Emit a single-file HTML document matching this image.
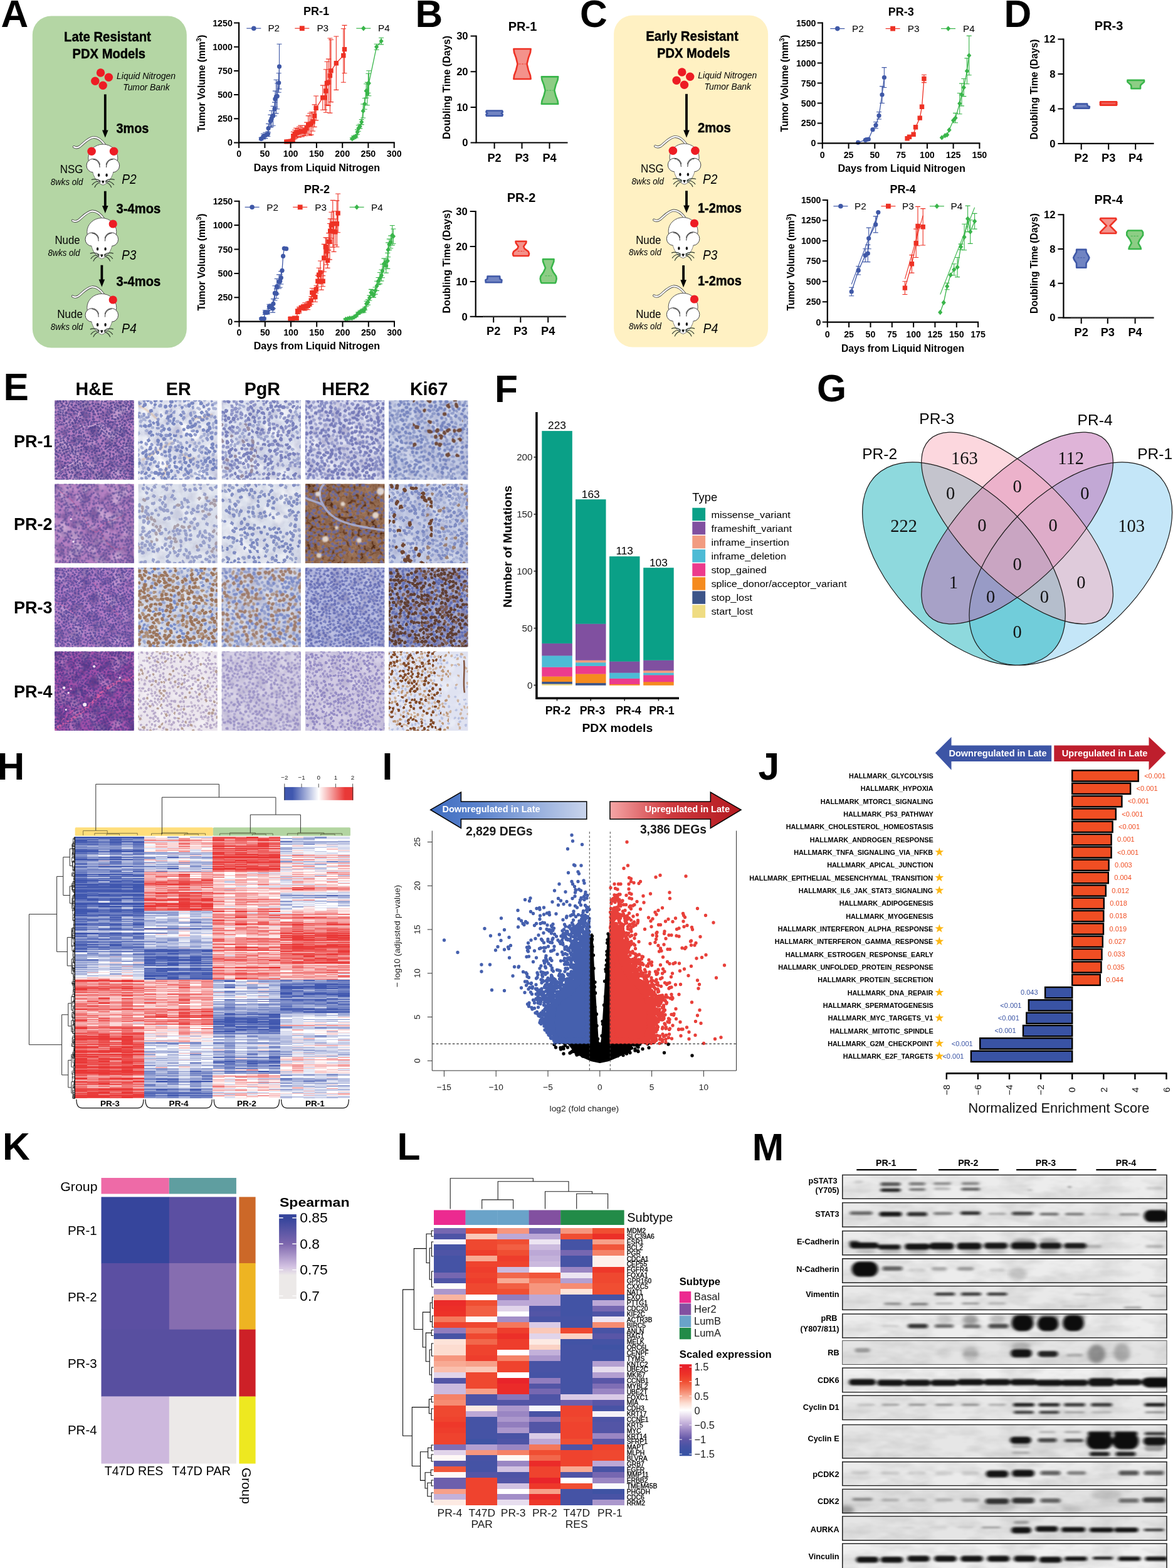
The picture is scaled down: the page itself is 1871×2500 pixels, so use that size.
<!DOCTYPE html>
<html lang="en"><head><meta charset="utf-8"><title>Figure</title>
<style>html,body{margin:0;padding:0;background:#fff}svg{display:block;font-family:"Liberation Sans",sans-serif}.sf{font-family:"Liberation Serif",serif}</style>
</head><body>
<svg width="1871" height="2500" viewBox="0 0 1871 2500">
<defs><g id="mouse">
<path d="M3 1 C-2 -6 -8 -11.500 -15.500 -11 C-24 -10 -30 -2 -37 3.500 C-40 5.500 -43.500 6 -46.500 4" fill="none" stroke="#4a4a4a" stroke-width="4" stroke-linecap="round"/>
<path d="M3 1 C-2 -6 -8 -11.500 -15.500 -11 C-24 -10 -30 -2 -37 3.500 C-40 5.500 -43.500 6 -46.500 4" fill="none" stroke="#fff" stroke-width="2.300" stroke-linecap="round"/>
<ellipse cx="0" cy="22" rx="23.500" ry="22" fill="#fff" stroke="#555" stroke-width="1"/>
<path d="M-17 40 C-16 52 -8 63 0 65 C8 63 16 52 17 40Z" fill="#fff" stroke="#666" stroke-width="0.900"/>
<circle cx="-15.500" cy="34" r="10.800" fill="#fff" stroke="#444" stroke-width="1"/>
<circle cx="15.500" cy="34" r="10.800" fill="#fff" stroke="#444" stroke-width="1"/>
<path d="M-17 39 C-16 50 -8 62 0 64 C8 62 16 50 17 39 C10 30 -10 30 -17 39Z" fill="#fff"/>
<path d="M-16 24.300 C-9 24.500 -5 30 -5.200 37" fill="none" stroke="#444" stroke-width="1.100"/>
<path d="M16 24.300 C9 24.500 5 30 5.200 37" fill="none" stroke="#444" stroke-width="1.100"/>
<ellipse cx="-6.700" cy="49.300" rx="1.700" ry="2.700" fill="#111"/>
<ellipse cx="5.800" cy="49.300" rx="1.700" ry="2.700" fill="#111"/>
<path d="M-1.800 58.500 L1.800 58.500 L0 62.300Z" fill="#111" stroke="#111" stroke-width="1" stroke-linejoin="round"/>
<path d="M-4 58.500 C-9 55 -14 55 -18.500 56.500 M-4 59.500 C-10 58 -15 61 -17.500 65 M-4 60.500 C-9 62 -12 65 -13.500 69 M4 58.500 C9 55 14 55 18.500 56.500 M4 59.500 C10 58 15 61 17.500 65 M4 60.500 C9 62 12 65 13.500 69" fill="none" stroke="#2e3a2c" stroke-width="1.200"/>
</g>
<filter id="nzd" x="0" y="0" width="100%" height="100%" color-interpolation-filters="sRGB"><feTurbulence type="fractalNoise" baseFrequency="0.07" numOctaves="3" seed="4"/><feColorMatrix type="matrix" values="0 0 0 0 0.22  0 0 0 0 0.18  0 0 0 0 0.45  2.6 0 0 0 -1.05"/></filter>
<filter id="nzw" x="0" y="0" width="100%" height="100%" color-interpolation-filters="sRGB"><feTurbulence type="fractalNoise" baseFrequency="0.045" numOctaves="3" seed="11"/><feColorMatrix type="matrix" values="0 0 0 0 1  0 0 0 0 1  0 0 0 0 1  0 3.4 0 0 -1.55"/></filter>
<filter id="nzb" x="0" y="0" width="100%" height="100%" color-interpolation-filters="sRGB"><feTurbulence type="fractalNoise" baseFrequency="0.06" numOctaves="3" seed="7"/><feColorMatrix type="matrix" values="0 0 0 0 0.28  0 0 0 0 0.12  0 0 0 0 0.04  0 0 3.2 0 -1.2"/></filter>
<filter id="nu" x="-3%" y="-3%" width="106%" height="106%"><feTurbulence type="fractalNoise" baseFrequency="0.11" numOctaves="2" seed="3" result="t"/><feDisplacementMap in="SourceGraphic" in2="t" scale="3.2" xChannelSelector="R" yChannelSelector="G"/><feGaussianBlur stdDeviation="0.6"/></filter>
<filter id="bl12" x="-5%" y="-5%" width="110%" height="110%"><feGaussianBlur stdDeviation="1.2"/></filter>
<g id="nset" fill="none" stroke-linecap="round"><path id="nh0" d="M0 0m37-1l-1 1m35-2l0 2m25-1l0 1m154-2l-2 1m-251 17l2 0m18-14l1 1m36 11l1 1m21-3l1 1m0-9l1 0m12 1l1 0m21 7l-1 1m10-4l-1 1m19 0l1 1m23-7l-2 1m18 4l-1 1m9-3l1 0m4 7l0 1m18-6l-2 0m21 2l-1 1m17 1l1 2m-220 2l-2 0m18 1l-1 0m2 14l0 0m54-5l-1 2m10 3l1 0m11-1l0 0m6-13l2 1m19 12l2 0m37-5l0 1m34-11l2 1m19 10l0 2m12-6l-1 1m-238 20l-1 1m8-7l0 0m8 9l1 0m9-8l1 2m14 4l1 2m19-11l1 1m41-1l-2 0m12 0l0 1m31 10l0 0m70-4l0 1m16-4l-1 1m5-7l0 1m-182 28l1 2m8-4l-1 2m11-14l0 0m19 14l2 1m21-3l2 0m17-8l0 1m22-7l1 2m6 7l-2 0m45 4l0 1m14-9l0 0m4 10l-1 1m11-3l-2 0m9 0l0 1m-231 16l2 0m17-3l-1 0m29-4l1 0m40-1l-2 1m30 7l1 1m35-3l-1 1m0-9l2 1m7 1l-2 0m30-3l-1 1m-160 24l0 0m14-10l-1 1m28 1l0 1m4 7l0 1m37-7l0 2m26 1l0 1m28-3l-1 2m31 4l0 1m3-13l0 1m40 6l0 1m-178 14l0 2m43-9l-1 2m8 0l0 0m13-1l-1 1m2 12l1 2m5-7l0 2m2-8l2 0m76-1l2 1m3 6l2 1m-233 22l-1 1m63-1l-1 1m36-10l0 2m17 3l0 0m6-8l-2 0m10 11l2 0m28-12l-1 0m38 0l0 0m59 6l0 1m-253 15l1 2m15 4l0 1m10-15l-1 1m5 6l1 0m6 3l-1 2m11 2l2 1m28-11l-1 1m8 4l1 1m9 1l-1 2m25-11l0 1m44 6l2 1m27-2l1 1m12-6l0 2m16 1l-2 1m-179 18l1 1m0-8l0 0m13 3l-1 1m3 6l1 1m27-8l-1 1m19 7l-1 0m37-4l-1 0m27 1l-1 1m8-7l-2 1m4 10l2 0m10 0l1 0m4-15l-2 1m26 7l1 2m-217 16l0 1m6 2l2 1m17 0l0 1m31-12l1 1m28 7l1 2m0-13l0 0m56 14l1 0m35-5l-2 0m12 2l1 1m42 0l-1 1m15-9l1 1m-211 23l1 2m11-14l-2 0m6 5l1 1m42 1l1 0m92 2l0 2m26 4l-1 0m18-3l-1 2m12 1l-1 2m2-10l-1 0m7 4l0 0m-223 9l0 0m11 4l-2 1m58 0l2 1m13 0l0 0m30-9l0 1m38 9l1 0m49-9l0 1m4 10l2 0m16-1l1 1m7 0l-1 0m-254 12l0 2m27-4l0 1m15-6l1 2m19 3l1 1m4 5l0 2m10-8l0 2m21-1l0 1m14 1l2 2m15-4l-1 1m35-7l-2 2m9-4l-1 1m10 7l1 1m4 6l-2 1m3-16l2 1m51 2l0 0m10 8l0 0m7-7l1 1m-207 16l0 1m22 0l1 1m12 5l1 2m21-1l-1 1m19-8l0 1m26-2l-1 0m43 1l-1 0m8-5l0 1m48 9l1 1m7-12l1 0m-249 26l1 1m25-11l-2 0m11 12l-2 1m20 0l0 1m20 1l-1 0m51-1l2 1m17-4l-1 1m4-11l-1 1m53 12l0 0m5-9l1 1m6-6l0 1" transform="scale(.5)"/><path id="nh1" d="M0 0m55-1l1 0m29 0l0 1m111-1l0 1m9 0l1 0m37-2l-1 1m-233 3l0 1m12 7l0 0m7-8l0 2m10 3l-1 1m55 7l-1 2m9-4l1 0m19-13l2 1m111 4l-1 0m-210 18l0 0m31 8l1 1m9-8l-2 0m6-7l2 0m9 11l0 0m54-1l-1 1m8-7l2 1m13 1l-2 0m24 0l1 0m4-5l1 0m11 4l1 1m6-7l1 2m10 1l0 2m16-1l1 0m14-1l1 2m-182 14l-1 0m25 3l1 0m3 7l0 1m39-3l-2 1m11-11l-1 2m3 8l1 1m8-2l0 0m6-6l1 2m25-1l0 2m68 4l-1 2m6-11l0 1m-234 23l-2 0m52-3l0 1m14 3l1 0m79-1l0 0m19-8l1 0m3 8l-2 0m10 3l-2 0m9-5l2 0m-205 16l0 0m32-9l1 2m26 7l-1 0m23-6l0 2m11-3l0 0m16 11l0 2m22-10l-2 1m10-1l-1 0m26-3l-1 2m26 3l-1 0m15 9l-1 1m23-15l1 1m0 13l1 0m14-1l1 0m8-8l-2 0m-243 20l0 2m64 3l0 1m14-9l-2 1m30 5l1 0m5-6l-1 1m7-1l2 0m14-1l1 1m6 2l1 1m50 4l-1 2m16-10l-1 1m13 1l1 1m17 4l-1 0m6-9l0 0m-185 15l0 1m3 10l-1 0m23-5l0 1m10 5l-1 2m30-10l1 0m42-4l0 1m8 5l-1 0m16 4l1 0m11-3l0 0m6 4l2 1m0-11l0 1m7 6l-1 1m25 1l0 0m8 3l0 0m-204 10l2 0m1-10l0 2m14 6l0 0m17-6l-1 1m30 3l-1 0m27-3l1 0m49 13l-1 0m17-7l0 1m16-8l2 1m4 9l1 1m-210 10l-2 0m92-6l0 2m10 0l-2 0m41 7l-1 0m5-9l-2 1m23 13l2 0m19 0l0 1m14-5l0 0m20-1l-1 0m5-10l-1 2m-234 27l-2 1m8-6l1 0m15-1l0 1m4 7l0 1m7-4l2 0m41-3l1 0m15-6l1 0m5 3l2 1m15-5l0 1m11 11l0 2m3-8l2 1m32-7l0 1m37 11l1 2m2-12l-1 1m29-4l-2 1m25 3l-1 1m-248 12l0 2m11-4l0 1m14 8l1 1m6-5l2 0m27-3l1 2m34 0l-1 1m19 0l0 0m10 3l0 0m4-6l2 0m8-1l0 1m14 4l0 2m59-4l0 1m3 8l0 1m34-12l-1 0m-240 16l-1 2m62 4l-1 1m1-9l-1 0m7 15l1 0m42-7l0 1m15 0l-1 1m20 1l1 0m7-11l-1 1m12 0l-1 2m3 6l1 1m34-7l1 0m16 2l1 1m16-5l1 1m-248 26l2 1m65-6l0 1m7-5l1 2m0 10l1 1m23-11l0 0m53 5l2 1m12-4l0 0m49-2l0 0m25 5l-2 0m9-7l1 0m-234 16l-1 1m20-2l-1 0m13 12l-1 0m25-10l0 0m25-3l-1 0m36 0l1 0m23 0l1 0m79 12l1 1m-195 14l-1 1m20-7l-1 1m11 7l-1 1m66-2l1 2m9-6l1 0m25 6l0 0m44-14l1 0m14 9l0 1m15-10l-2 1m-241 17l-1 1m40 0l1 1m57 6l-1 0m3-8l-1 1m7 9l2 1m29-7l1 2m27-4l-1 1m11-1l1 0m52 8l1 1m4-9l-1 0m15 2l1 0" transform="scale(.5)"/><path id="nh2" d="M0 0m113-1l0 1m28-2l0 1m-135 10l-2 1m42 1l-1 0m5-8l-2 2m8 0l1 2m13 1l-1 0m14 1l0 1m23-5l0 1m28-7l1 2m14 9l1 1m1-8l0 1m9 11l-2 0m11-6l0 1m66 5l1 1m15-10l2 0m-249 18l0 1m10-1l1 0m2 6l2 1m13-3l1 0m12-4l1 0m37-6l0 1m2 8l-1 1m63-11l-1 2m23 0l0 1m1 9l-1 2m26-1l-1 2m34-4l0 1m-215 7l-2 0m16 3l-1 2m21 2l-1 0m16-1l1 1m4-11l0 0m26 6l-1 2m9 0l1 1m102-8l0 1m0 12l2 1m25-11l-2 0m-224 13l-1 0m6 14l0 0m19-8l0 1m6-8l1 1m11 4l-2 1m31 1l0 0m26-1l-2 1m12-3l0 1m10-1l1 2m70-4l1 1m48-3l-1 2m-240 14l0 1m5 7l1 1m40-4l-1 2m4 7l-1 1m68-3l-2 1m5-8l-1 2m23-6l0 1m14 10l1 1m29 1l-1 1m10-11l-2 0m15 6l0 2m44 0l1 0m1-7l0 0m-256 12l1 1m9 1l0 2m32-4l-1 2m25 5l-2 0m6-8l0 0m5 13l1 2m26-2l0 1m100-7l-2 0m32 0l1 2m-210 11l2 1m15 10l1 1m66-8l-1 0m52-3l1 2m6 4l-1 0m21-5l1 2m35-8l1 2m3 13l-2 0m23-12l0 1m10-4l-2 1m-253 16l-1 1m9 12l1 1m1-11l0 0m8-1l0 1m3 6l-1 1m15-6l-2 0m22 11l1 0m0-15l0 1m22 11l-2 0m10 2l-1 0m38-4l1 0m24-4l0 1m20-3l-1 0m8 6l1 1m6-6l-1 0m26 0l-1 0m40 9l-2 1m-243 15l1 2m61-5l-1 2m7 1l1 0m34-6l0 1m31-6l-1 2m6 4l1 0m34-3l-2 1m11 2l-1 0m16-9l0 1m-130 23l0 1m26 2l0 1m23-3l0 1m12-10l-2 0m17 1l2 0m35 4l-1 2m15 1l-2 1m14 2l2 0m10-11l1 2m2 10l0 0m15-4l1 0m1-8l-1 0m7 11l1 0m-201 6l1 1m5 6l-1 0m9 1l1 0m16-8l-2 0m18 9l2 1m7 3l-1 1m11-15l0 1m9 11l-2 0m50-10l1 0m26 1l0 1m10 0l2 1m4 4l2 1m14-9l0 1m27 8l-1 2m-252 10l-1 1m34-6l-1 2m28 11l1 2m44-4l0 1m4-13l1 0m44 2l-1 2m42 5l0 2m1-9l1 1m7 5l0 0m13 4l1 1m36-8l-1 2m-254 12l-2 1m11 5l1 1m6-10l0 1m27 4l-1 0m58 10l0 0m19-9l0 0m4-7l1 1m54 2l-1 0m14 0l0 1m9 1l-1 1m9 4l1 0m-175 20l1 0m19-3l-1 2m30-1l-1 0m3-9l-2 0m7 6l0 1m13-4l2 1m15 0l-1 2m39 2l0 2m12-4l1 2m31-10l-1 1m1 8l1 2m5-10l1 0m8-1l-1 0m8 2l0 1m1 12l-2 0m-209 6l0 2m7 2l-1 1m5-6l-1 0m74 6l-2 0m21-11l0 2m21 0l-1 2m16 7l-1 0m43 1l-1 0m15-5l1 2m12-3l-1 2m26-5l1 1m7 11l-1 0m-239 2l-2 1m1 10l0 2m7-2l2 0m6-2l0 1m20-4l-1 1m21 4l1 0m125-3l0 1" transform="scale(.5)"/><path id="nh3" d="M0 0m169-2l-2 1m12-1l-1 1m-166 17l0 0m51-14l0 1m68 7l0 1m65-2l2 0m16-8l0 1m9 5l-1 1m5-7l0 0m16 5l-1 1m11 8l1 0m-222 3l0 2m40 4l-2 0m34-1l1 1m12 0l0 0m46 1l0 2m14 3l1 1m21-5l2 0m9 3l2 1m9 0l0 1m-222 13l1 1m3-8l0 1m16 8l0 0m7-14l1 0m43 12l0 1m42-1l2 0m54-6l0 1m6 4l0 0m14-6l1 2m27 1l0 2m17 2l1 2m-235 9l0 1m39 3l-1 1m13 2l0 1m7-8l1 0m35-4l0 1m18 12l2 0m22-10l0 0m20 4l-1 2m56-8l2 0m8 1l-1 2m35-7l0 1m-241 28l0 1m3-10l-2 1m11 0l-2 0m6 7l-2 1m47-5l0 1m8 2l2 1m12 3l0 1m1-8l-2 0m48 4l-1 1m8-4l1 0m12 0l1 0m27 4l2 0m24-6l-1 1m12-1l1 2m9-5l0 1m-223 27l-1 0m9-5l0 0m11-4l0 1m6 7l0 1m14-6l-1 1m48-6l0 1m47-5l-1 2m14 1l-1 0m2 7l-1 1m7-10l1 2m6-3l2 0m0 13l1 0m22 1l1 2m-201 6l0 0m9 5l-2 2m8-5l0 2m12 3l-1 0m4-14l2 1m5 6l0 1m8-4l0 1m22 3l1 1m14-9l-1 2m9 2l1 1m23 6l1 0m11 3l0 1m8-5l1 2m45 1l-1 1m16-7l-2 0m30-1l0 2m-196 16l1 1m41 0l-1 0m17-7l0 1m9 11l0 1m43-5l-2 1m28 0l-1 1m27-4l0 0m24 5l-2 1m21-11l1 2m7 3l-1 2m-220 8l1 1m6 9l-1 0m16-11l0 1m7 3l-2 1m22 2l1 1m7 1l-1 1m45 0l0 1m120-3l1 0m9-2l0 2m4-9l0 2m-240 18l-2 0m19-1l0 2m75-2l0 2m44 8l1 1m5-9l0 0m74 7l-1 1m17-11l2 1m-237 19l1 0m6 2l1 0m48 3l-1 0m41-3l1 1m43 2l-1 1m86-11l0 2m4 9l-1 0m-219 11l0 0m21 2l1 1m12 4l1 2m8-12l1 1m17-2l0 2m6 10l2 1m25-9l0 1m17-7l2 1m13 4l0 2m25 4l-1 1m19-10l0 1m16-4l0 2m-196 14l-2 1m15 14l0 1m30-9l-2 1m6 7l-1 2m26-6l1 1m47-6l1 1m8 7l1 1m4-5l1 0m1-9l0 1m8-1l-1 0m30 6l2 1m10 3l2 1m56-7l2 1m-248 18l1 1m96 6l1 1m10-14l0 0m21 5l1 1m9-3l0 1m5 6l-1 2m41-2l1 2m0-10l0 0m27 6l-2 1m-212 17l-1 2m2-13l-1 0m13-1l1 1m18 4l-1 0m42 0l0 0m14-2l-1 1m8 0l0 0m7 1l2 2m6 3l1 2m50-5l1 0m11 4l-2 1m3-8l-1 0m8 10l-1 1m56-4l1 1m-216 8l2 1m27-5l-1 1m12 3l-1 1m8-2l2 1m8 3l0 1m7 1l1 0m17-4l1 2m5 6l2 1m0-12l1 1m10 4l1 1m15-4l2 0m13 7l-1 1m14-1l0 2m9-3l2 0m6-5l1 1m13-4l-1 2m21 4l1 2m2-9l1 0m10 13l0 0m5-9l-1 0m5 8l1 1m11-1l-2 1" transform="scale(.5)"/><path id="na0" d="M0 0m54 14l0 0m54-11l-4 1m70 5l-3 0m31 0l-1 1m-97 6l-3 3m107 0l1 1m-169 13l0 1m95 13l2 1m66-10l-2 2m20 6l4 1m-228 3l3 2m115 7l-1 5m89-4l4 1m-168 18l-4 2m26-11l2 5m103-8l1 5m81-4l2 2m-230 10l4 3m73 9l3 1m59-9l1 2m12-4l-3 3m39 9l1 1m-169 6l-4 3m36 7l3 2m91-3l3 2m19-13l0 0m35-2l-3 2m-174 12l-3 2m-33 21l0 1m53-8l0 3m77 20l1 1m-55 13l-1 0m131 4l0 0m28-7l1 1m-200 23l-3 3m75-7l-1 3m109-1l-1 1m16 5l1 2m-237 9l-1 1m163-9l1 2m49-3l-1 5m-182 23l1 1m26-10l3 1m26 8l-2 3m50-7l-3 3m112-5l5 2m-251 13l-1 2m55 2l5 0m9 1l-1 2m13-1l-2 1m79-7l3 4m-74 18l2 1m21-5l-1 3m80 0l3 2m41-3l2 1" transform="scale(.5)"/><path id="na1" d="M0 0m29-3l2 3m165-3l-1 2m-174 14l-2 5m36-19l-1 3m20-2l1 1m74-1l-1 1m-60 18l-1 0m53 4l0 0m23-8l-1 3m-66 35l-2 5m12-10l-2 2m79 1l1 1m-135 20l0 0m62 1l3 2m22-2l1 3m46 0l-3 4m45-6l-3 2m-139 15l-2 3m65-1l0 0m82-8l1 5m-127 19l-2 2m56-3l-2 4m-71 10l1 2m35-12l-3 0m119 5l0 5m-201 5l-3 2m42 11l0 2m165-3l0 2m-199 9l-2 4m84 5l3 0m31-4l1 1m10-11l0 1m70 5l2 1m-222 15l-1 1m10-8l-1 2m2 11l-1 5m35-14l2 2m39-7l-2 4m37-1l1 1m26 11l0 2m65-13l-2 2m-79 19l1 4m-31 9l0 1m32 0l3 1m78-2l1 0m10 6l0 0m-122 8l4 2m29 6l0 1m10-12l-1 1m77 9l-1 1m-212 13l-2 3m71-4l0 4m12-10l-1 1m-56 22l-1 1m88 3l0 2" transform="scale(.5)"/><path id="na2" d="M0 0m2 8l4 3m153-12l1 2m63 12l-3 2m14-13l0 0m3 12l0 2m-165-1l-2 3m158 10l-1 1m-223 12l-1 0m140-4l3 4m21 1l1 4m-136 7l-3 1m145 5l2 2m-139 5l1 2m56 6l-1 0m-28 14l-4 0m17-7l-3 2m121 1l1 0m54 3l2 1m-17 15l-4 1m16 1l-1 2m-142 14l-1 0m115 0l2 3m-221 12l-3 2m58 14l1 5m33-9l-1 1m16 0l0 1m15-1l-2 0m11-4l1 3m48 10l4 1m25-11l-4 1m14 6l5 2m-184 15l2 0m8-8l1 5m40 8l1 0m12-3l-1 5m154 11l-2 2m-226 6l-1 5m27-8l0 2m124 5l0 2m25-11l0 0m6 9l-2 2m-105 6l-1 3m91-4l1 4m12 3l2 0m14-9l0 3m-207 17l-1 3m114-4l3 3m-116 20l-1 0m16-1l-2 0m12-8l-2 1m41 4l0 3m43 4l1 0m38-4l-3 2m49-8l1 4m39 4l0 1" transform="scale(.5)"/><path id="na3" d="M0 0m19 1l0 1m22 2l1 2m79-7l-1 2m60-1l2 0m-63 18l-1 1m57 3l1 2m-158 20l0 4m73-12l-1 3m26 0l-2 1m104-4l1 1m-156 22l2 4m7-15l2 2m72 5l-2 3m53-4l-3 0m17-7l1 3m8 8l-1 0m26-4l-1 3m-146 8l4 1m89 4l3 1m-186 11l1 1m51 24l3 1m11-11l-2 3m16 11l4 0m35-14l0 2m45-2l5 0m4 12l2 1m-66 17l-1 1m21-13l0 1m37 10l-1 0m-148 13l2 1m16 0l1 2m19-1l-1 0m93-7l0 1m-82 16l-2 3m179-9l2 1m-252 27l-1 3m77-4l2 1m125-7l-2 1m-169 19l-2 1m73 1l-1 4m74-6l-2 2m-133 14l-3 2m41-3l0 1m14-5l1 3m38-3l0 0m57 0l2 0m-119 24l-3 1m150-2l1 1m-70 16l-4 2m23-16l-1 4m44-2l-4 3m11 4l1 3m-123 9l-1 0m22-4l0 1m95 10l0 1" transform="scale(.5)"/><path id="na4" d="M0 0m130-2l4 2m78-3l1 2m-80 16l-1 0m116-7l-4 2m-193 15l0 0m98-8l5 1m38 7l4 3m46-2l5 1m-211 16l0 3m21-1l1 1m46-15l0 3m75 4l0 1m-168 13l-3 4m14 5l-5 0m218-11l-3 2m-223 15l-2 3m122-3l-5 1m116 5l-1 4m-192 10l-2 0m195-1l0 1m-241 18l3 1m23-10l3 1m183 10l-1 5m13-2l-1 1m-20 4l-2 3m-111 18l3 2m21-2l-4 2m17-7l1 1m8 4l2 4m44-5l0 3m14-2l-1 1m11-8l0 1m-194 21l2 1m174-6l-2 3m11 7l-1 4m-195-2l-3 4m142 11l-4 2m20-5l-4 1m89 0l-1 3m-236 14l1 3m129-7l-2 0m62-6l0 1m17 5l1 0m-199 22l2 2m51-10l0 2m74 5l1 1m113-5l-2 3m-252 7l2 0m17 6l-2 1m26 12l3 0m137 3l3 1m10 4l-2 0m6-13l-2 2m-199 25l2 2m168-12l1 1" transform="scale(.5)"/><path id="na5" d="M0 0m-1-1l-1 0m88 2l1 3m103 6l-3 2m-178 14l-4 2m24-8l4 0m32 7l-1 2m63-4l1 2m30-2l-1 4m-133 1l-2 4m53-3l2 3m48 11l0 1m31-4l-1 0m80-6l3 1m15 4l3 0m-209 8l1 4m110 8l-2 4m76-3l4 2m-155-1l-2 3m69 9l1 2m60-3l0 1m-210 11l-1 2m10 7l2 0m102-7l-2 1m24-3l5 2m-111 20l1 3m22-13l2 3m64-2l-2 1m22 3l-1 0m22-6l-3 2m-156 17l4 2m12-4l-1 0m5 10l-2 2m35-2l-2 2m103-6l1 4m30-3l2 2m64-1l3 4m-30 11l-3 1m-108 32l-2 4m57-12l1 3m6 10l2 1m-158 8l2 1m38-7l0 4m20 2l1 0m173-9l2 4m-203 28l-1 0m31 5l-1 1m105 9l1 1m-51 11l1 1m101-2l-2 1m18-3l3 0m-256 9l-2 2m65 9l-1 3m116-4l-2 1m23 2l5 2m16-11l4 1" transform="scale(.5)"/><path id="nb0" d="M0 0m11 2l0 0m17 3l1 2m17-3l-1 1m121 8l1 1m-167 5l-1 2m54 10l2 0m20-14l0 1m10 1l0 1m9 3l0 2m24-4l0 1m74 0l0 1m36 5l2 1m16-13l-1 2m-188 26l1 1m57-12l0 1m56 6l-2 1m40-1l1 1m13-2l1 1m21-1l1 0m-247 22l-1 0m59 1l0 2m105-12l-2 0m2 11l0 0m-125 14l0 1m78 1l-1 0m34-14l0 2m45 10l-1 1m22-14l2 2m-180 29l2 1m9-4l-1 2m35-13l0 1m56 7l0 0m45-3l-2 0m46-2l0 1m21 1l1 0m-184 16l-1 1m20 8l1 2m64-15l-1 2m16 11l2 0m47-3l1 0m28-9l3 0m-246 25l0 1m17-7l1 0m18 4l-1 1m10 10l-1 1m12-4l0 2m68 1l-1 2m13 6l-2 0m82-6l-1 2m38 2l0 1m-232 10l-2 1m35 0l1 0m115-7l-1 1m-137 21l1 2m108 7l-1 0m7-14l0 0m3 12l0 2m-122 4l0 2m90 2l0 1m-95 7l0 2m31 3l-1 2m33-6l0 0m129 15l-2 1m-214 16l2 0m57-1l-1 1m103-10l0 1m10-2l-1 1m20 2l-2 0m-141 16l0 1m10 2l0 2m59-11l1 1m22 8l-2 1m33-11l-1 1m45 8l1 0m19 1l-2 2m-222 13l1 1m42-4l-1 1m34-3l-1 0m137-4l-2 1" transform="scale(.5)"/><path id="nb1" d="M0 0m-1 8l-1 0m96 1l2 1m58-10l1 2m72 8l-2 0m-196 19l0 2m19-11l2 1m9-4l-2 1m107 13l-1 0m60-11l0 1m-35 24l-2 2m49-7l-2 0m-211 14l0 1m17-5l0 1m8 7l2 2m22-9l2 0m11 6l0 1m26-9l-2 1m44-2l0 1m24 0l0 2m20 9l1 0m32-7l1 2m24-2l-2 1m-20 13l-1 0m12 7l-1 2m12-3l1 2m-128 15l1 0m20-1l-2 1m26-6l-1 1m-150 18l-1 2m110-4l-1 3m63 4l-1 3m30-15l0 1m-199 30l1 0m49-12l1 1m37-4l1 2m27 2l-1 1m-79 24l1 0m9 2l0 0m28-1l2 2m3-11l1 1m-95 24l-1 2m100-2l1 0m81-14l0 2m27 0l2 2m34 2l1 0m-233 18l-2 1m85-1l2 1m32-9l-2 1m26 13l-1 0m11 1l0 2m52-3l-2 1m-221 9l1 0m125 3l0 1m71-6l0 0m55 7l2 1m-224 14l0 2m64-14l1 1m36 6l1 0m10-4l1 0m8 3l2 2m25 3l1 0m69-4l-1 2m-206 11l-2 0m28 11l-1 0m19-12l0 1m16 9l-1 2m17-11l3 1m80-6l2 2m21 1l-1 1m-134 13l-1 2m22 7l-2 1m40 1l2 2m12-2l-1 2m41 1l1 1m19-10l0 1m22 3l0 1m-213 17l0 0m87-2l-1 0m120-5l-2 0" transform="scale(.5)"/><path id="nb2" d="M0 0m126-1l-1 1m-83 13l0 0m40-6l-3 1m35-3l0 1m25 4l0 2m-74 12l0 1m40-1l0 2m76-8l-1 0m36 10l2 1m-208 15l0 1m38 0l-1 0m23-4l-1 1m8-8l2 2m57-3l-1 0m82 14l1 1m-96 7l1 1m12-7l0 1m6 9l1 0m26-3l2 1m-138 7l0 2m39 10l-1 1m10-7l0 1m-11 17l-1 1m19 1l1 2m72 1l-2 1m-54 5l-1 0m72 5l0 2m25-6l-1 1m37 10l2 0m14 0l-1 1m-245 5l-1 0m143-3l-2 0m9 6l1 1m38 0l1 0m6-9l-1 3m4 11l-1 2m27-9l0 2m-139 11l0 2m50-1l-1 0m42-4l2 2m61 0l2 0m-209 27l2 1m24-7l-1 1m19 5l-1 1m8-10l1 2m25 7l2 2m59-12l0 1m15 7l2 2m39-1l-1 0m-185 13l2 2m6-11l1 1m37 10l1 1m87-2l0 2m65-1l1 0m-238 8l1 1m36 9l0 0m32-11l0 1m29-2l0 0m112 9l0 2m-164 18l2 1m19-9l1 0m23 4l1 1m111-10l-2 0m24 12l2 1m-187 6l1 2m14-2l0 2m64 7l1 2m13-16l-1 1m2 14l-1 1m96-8l0 2m-228 15l1 2m17 1l0 1m223-10l-1 2m-232 23l1 1m86 1l0 1m23-6l1 1m18 4l2 1m54-1l-1 0" transform="scale(.5)"/><path id="nb3" d="M0 0m61-2l-2 1m24-2l1 2m9 0l0 1m14-2l1 1m125-1l2 0m-165 7l0 1m36 8l-1 0m21-3l1 1m23-2l0 0m14-6l0 1m-129 16l1 1m52 8l-1 1m47-12l0 1m8 5l-2 1m-76 8l-1 0m137 7l-2 1m-189 19l2 2m101-1l0 1m-110 11l-2 1m14-5l0 1m34 2l0 1m53-1l2 1m45 3l0 1m100-14l2 2m-250 23l1 2m27-8l-1 2m29 9l0 3m42-7l1 0m21 6l-1 0m73-5l-2 0m15-6l2 2m-162 20l-2 1m30-10l0 2m9-2l0 1m58 4l-1 2m83 5l1 2m-154 12l-2 2m16-1l2 1m42-12l1 0m43 5l-1 1m45-2l-1 0m37 3l0 0m-179 12l2 1m7 6l0 2m83-11l0 1m32 4l-1 2m-197 15l2 1m29-6l0 0m45 4l0 1m76-5l2 0m64 9l1 1m-218 11l-1 2m40 4l2 1m35-6l-2 2m55 2l1 1m114-16l0 2m10 4l2 0m-192 17l-1 0m84 2l-1 1m94 1l1 2m-151 13l1 2m26-7l1 1m110 1l-2 0m13-1l-2 1m-236 10l-2 1m9 5l-1 0m122-1l0 0m125-4l-1 1m-176 21l-1 1m77-7l1 1m15 9l2 1m-172 9l1 2m18-5l2 2m20 8l1 1m29-13l2 1m21 9l-1 2m49-8l2 2m35 8l-2 0" transform="scale(.5)"/><path id="nb4" d="M0 0m207-1l-1 1m-28 2l1 1m10 6l-1 1m30-7l-1 1m-197 26l-2 0m9-10l-1 0m146 2l0 2m34-3l-1 0m-168 15l-1 0m49 8l-2 1m23-10l-2 1m87-5l-1 3m-191 15l3 1m59 3l0 2m32-5l0 2m94 3l-1 2m53 3l0 3m2-11l3 0m-177 12l1 1m61 5l1 1m9 6l0 2m18-7l2 0m17 3l-2 1m27-8l1 2m-192 19l1 2m10 1l0 1m32-10l1 0m53 2l0 1m54-5l1 2m75-1l-1 1m17 11l2 2m-252 5l0 1m116 3l-2 1m65-10l2 1m46 4l-1 0m-220 24l1 1m34-3l0 1m9-12l1 2m5 7l0 0m40-5l2 1m14 9l-1 0m106 1l-2 1m-215 13l0 1m29-4l-2 0m16 4l-1 0m194 0l1 2m-146 14l1 1m46-9l0 1m61 1l-1 0m28-5l2 1m-208 12l0 1m37 7l1 1m6-9l1 2m101 2l0 1m23 8l-1 0m13 0l1 1m31-5l0 0m-128 20l0 1m27-6l-1 2m39 3l-1 2m12-11l0 1m7 8l-1 1m38-8l1 2m-220 21l1 0m155-3l1 2m35-9l-1 1m-164 28l0 0m140 0l1 0m28-8l2 1m16 2l0 2m-127 11l1 0m83 7l2 2m68-4l-1 3m-210 3l0 0m20 4l-1 0m19 7l1 0m27-11l-1 1m89 4l0 2" transform="scale(.5)"/><path id="nb5" d="M0 0m-1-1l3 1m141-2l-2 1m49-1l0 2m65-1l-1 1m-234 14l-3 0m181-8l1 1m9 4l0 2m38-8l0 2m-244 22l-2 2m12-11l-1 1m142-1l1 0m24 11l1 1m26-1l1 2m30-17l0 1m9 12l-2 0m-216 13l0 1m65-4l1 1m8 4l-1 2m26-9l0 2m22-3l-3 0m-124 28l-1 0m183-15l3 1m3 7l-1 2m-182 14l0 0m68 2l-2 1m5-11l-1 0m25-1l1 1m55-1l1 1m11 3l-2 1m32 5l-2 2m-198 6l-1 0m109-2l-3 0m-92 29l-1 1m62-6l0 1m73-6l0 1m44-4l1 2m-80 28l-1 1m52-11l1 0m57 4l0 1m-224 13l-1 1m135 2l-1 2m31 1l0 1m24 2l0 1m32-12l0 0m-122 14l-1 2m13 4l-1 1m35 1l0 1m-42 13l1 1m64-7l-2 0m17 0l1 2m-187 24l0 2m22 0l1 1m19-13l-2 1m21 9l0 1m22-8l-1 2m62 2l1 1m52-4l0 1m-210 14l1 1m18 10l2 0m40-15l0 0m5 7l0 1m45 5l1 0m80-7l-1 1m-174 18l2 0m9 4l-1 1m52-5l-1 1m31-3l-2 0m88 7l-1 0m-131 9l1 2m62 5l-1 0m68-5l0 2m-36 9l0 1m9 8l0 1m1-11l0 1m47 4l1 2m16 2l-1 2m12-2l0 1m13-7l-1 2" transform="scale(.5)"/></g>
<filter id="wb" x="-10%" y="-50%" width="120%" height="200%"><feGaussianBlur stdDeviation="2.4 1.5"/></filter>
<filter id="wb2" x="-10%" y="-50%" width="120%" height="200%"><feGaussianBlur stdDeviation="3.2 2.4"/></filter>
<filter id="wn" x="0" y="0" width="100%" height="100%"><feTurbulence type="fractalNoise" baseFrequency="0.02 0.05" numOctaves="3" seed="9"/><feColorMatrix type="matrix" values="0 0 0 0 0.3  0 0 0 0 0.3  0 0 0 0 0.3  0.6 0 0 0 -0.22"/></filter></defs>
<g id="panel-top"><text x="1.5" y="43" font-size="60.5" font-weight="bold">A</text>
<text x="662.5" y="43" font-size="60.5" font-weight="bold">B</text>
<text x="925" y="43" font-size="60.5" font-weight="bold">C</text>
<text x="1601.5" y="43" font-size="60.5" font-weight="bold">D</text>
<rect x="51.8" y="25.5" width="246" height="529" rx="30" ry="30" fill="#b4d6a4"/>
<text x="102.1" y="65.7" font-size="22.8" font-weight="bold" textLength="138.7" lengthAdjust="spacingAndGlyphs" stroke="#000" stroke-width=".45">Late Resistant</text>
<text x="115.6" y="92.8" font-size="22.8" font-weight="bold" textLength="116.5" lengthAdjust="spacingAndGlyphs" stroke="#000" stroke-width=".45">PDX Models</text>
<circle cx="160.5" cy="116" r="6.7" fill="#ed1c24"/>
<circle cx="173.4" cy="123.2" r="6.7" fill="#ed1c24"/>
<circle cx="151.8" cy="129.2" r="6.7" fill="#ed1c24"/>
<circle cx="164.2" cy="136.3" r="6.7" fill="#ed1c24"/>
<text x="186" y="125.7" font-size="15.5" font-style="italic" textLength="94" lengthAdjust="spacingAndGlyphs">Liquid Nitrogen</text>
<text x="196.2" y="144" font-size="15.5" font-style="italic" textLength="74.5" lengthAdjust="spacingAndGlyphs">Tumor Bank</text>
<line x1="167.8" y1="150.4" x2="167.8" y2="210.4" stroke="#000" stroke-width="3.8"/>
<path d="M163 207.4L172.6 207.4L167.8 219.4Z" fill="#000"/>
<line x1="167.8" y1="304.7" x2="167.8" y2="331" stroke="#000" stroke-width="3.8"/>
<path d="M163 328L172.6 328L167.8 340Z" fill="#000"/>
<line x1="162.4" y1="422.7" x2="162.4" y2="448.5" stroke="#000" stroke-width="3.8"/>
<path d="M157.6 445.5L167.2 445.5L162.4 457.5Z" fill="#000"/>
<text x="185.6" y="211.7" font-size="22" font-weight="bold" textLength="51.8" lengthAdjust="spacingAndGlyphs" stroke="#000" stroke-width=".45">3mos</text>
<text x="185.6" y="340.3" font-size="22" font-weight="bold" textLength="70.6" lengthAdjust="spacingAndGlyphs" stroke="#000" stroke-width=".45">3-4mos</text>
<text x="185.6" y="456.3" font-size="22" font-weight="bold" textLength="70.6" lengthAdjust="spacingAndGlyphs" stroke="#000" stroke-width=".45">3-4mos</text>
<use href="#mouse" x="164.3" y="230"/>
<circle cx="146.1" cy="241.2" r="6.8" fill="#ed1c24"/>
<circle cx="181.6" cy="241.2" r="6.8" fill="#ed1c24"/>
<use href="#mouse" x="162.3" y="347.6"/>
<circle cx="180.2" cy="357" r="6.6" fill="#ed1c24"/>
<use href="#mouse" x="162.3" y="468.4"/>
<circle cx="180.2" cy="478" r="6.6" fill="#ed1c24"/>
<text x="95.7" y="275.5" font-size="18" textLength="36.7" lengthAdjust="spacingAndGlyphs">NSG</text>
<text x="80.8" y="294.5" font-size="14" font-style="italic" textLength="51.6" lengthAdjust="spacingAndGlyphs">8wks old</text>
<text x="194.3" y="293.1" font-size="22.5" font-style="italic" textLength="23.4" lengthAdjust="spacingAndGlyphs">P2</text>
<text x="87.4" y="389.2" font-size="18" textLength="40.2" lengthAdjust="spacingAndGlyphs">Nude</text>
<text x="76.4" y="407.6" font-size="14" font-style="italic" textLength="51.2" lengthAdjust="spacingAndGlyphs">8wks old</text>
<text x="194" y="414.4" font-size="22.5" font-style="italic" textLength="23.4" lengthAdjust="spacingAndGlyphs">P3</text>
<text x="91.3" y="506.6" font-size="18" textLength="40.6" lengthAdjust="spacingAndGlyphs">Nude</text>
<text x="80.8" y="525.6" font-size="14" font-style="italic" textLength="51.6" lengthAdjust="spacingAndGlyphs">8wks old</text>
<text x="194" y="531.4" font-size="22.5" font-style="italic" textLength="23.8" lengthAdjust="spacingAndGlyphs">P4</text>
<rect x="979.1" y="24.5" width="246" height="529" rx="30" ry="30" fill="#fff1c3"/>
<text x="1030.2" y="64.7" font-size="22.8" font-weight="bold" textLength="147.5" lengthAdjust="spacingAndGlyphs" stroke="#000" stroke-width=".45">Early Resistant</text>
<text x="1048" y="91.8" font-size="22.8" font-weight="bold" textLength="116.5" lengthAdjust="spacingAndGlyphs" stroke="#000" stroke-width=".45">PDX Models</text>
<circle cx="1087.8" cy="115" r="6.7" fill="#ed1c24"/>
<circle cx="1100.7" cy="122.2" r="6.7" fill="#ed1c24"/>
<circle cx="1079.1" cy="128.2" r="6.7" fill="#ed1c24"/>
<circle cx="1091.5" cy="135.3" r="6.7" fill="#ed1c24"/>
<text x="1113.3" y="124.7" font-size="15.5" font-style="italic" textLength="94" lengthAdjust="spacingAndGlyphs">Liquid Nitrogen</text>
<text x="1123.5" y="143" font-size="15.5" font-style="italic" textLength="74.5" lengthAdjust="spacingAndGlyphs">Tumor Bank</text>
<line x1="1095" y1="149.8" x2="1095" y2="210.5" stroke="#000" stroke-width="3.8"/>
<path d="M1090.2 207.5L1099.8 207.5L1095 219.5Z" fill="#000"/>
<line x1="1095" y1="304.2" x2="1095" y2="330.6" stroke="#000" stroke-width="3.8"/>
<path d="M1090.2 327.6L1099.8 327.6L1095 339.6Z" fill="#000"/>
<line x1="1090.1" y1="423.1" x2="1090.1" y2="449.3" stroke="#000" stroke-width="3.8"/>
<path d="M1085.3 446.3L1094.9 446.3L1090.1 458.3Z" fill="#000"/>
<text x="1112.9" y="210.7" font-size="22" font-weight="bold" textLength="52.8" lengthAdjust="spacingAndGlyphs" stroke="#000" stroke-width=".45">2mos</text>
<text x="1112.9" y="339.3" font-size="22" font-weight="bold" textLength="70" lengthAdjust="spacingAndGlyphs" stroke="#000" stroke-width=".45">1-2mos</text>
<text x="1112.9" y="455.3" font-size="22" font-weight="bold" textLength="70" lengthAdjust="spacingAndGlyphs" stroke="#000" stroke-width=".45">1-2mos</text>
<use href="#mouse" x="1091.6" y="229"/>
<circle cx="1073.4" cy="240.2" r="6.8" fill="#ed1c24"/>
<circle cx="1108.9" cy="240.2" r="6.8" fill="#ed1c24"/>
<use href="#mouse" x="1089.6" y="346.6"/>
<circle cx="1107.5" cy="356" r="6.6" fill="#ed1c24"/>
<use href="#mouse" x="1089.6" y="467.4"/>
<circle cx="1107.5" cy="477" r="6.6" fill="#ed1c24"/>
<text x="1022.1" y="274.6" font-size="18" textLength="36.7" lengthAdjust="spacingAndGlyphs">NSG</text>
<text x="1007.4" y="293.9" font-size="14" font-style="italic" textLength="51.4" lengthAdjust="spacingAndGlyphs">8wks old</text>
<text x="1121" y="292.6" font-size="22.5" font-style="italic" textLength="23.4" lengthAdjust="spacingAndGlyphs">P2</text>
<text x="1014.2" y="388.7" font-size="18" textLength="40.2" lengthAdjust="spacingAndGlyphs">Nude</text>
<text x="1003.1" y="407" font-size="14" font-style="italic" textLength="51.7" lengthAdjust="spacingAndGlyphs">8wks old</text>
<text x="1121" y="414" font-size="22.5" font-style="italic" textLength="23.4" lengthAdjust="spacingAndGlyphs">P3</text>
<text x="1014.2" y="506.6" font-size="18" textLength="40.2" lengthAdjust="spacingAndGlyphs">Nude</text>
<text x="1003.1" y="525.2" font-size="14" font-style="italic" textLength="51.7" lengthAdjust="spacingAndGlyphs">8wks old</text>
<text x="1121.5" y="531.4" font-size="22.5" font-style="italic" textLength="23.8" lengthAdjust="spacingAndGlyphs">P4</text>
<path d="M416.6 219.3V223.3M412.6 219.3h8M412.6 223.3h8M419.9 213.2V221.8M415.9 213.2h8M415.9 221.8h8M423.2 211.3V220.6M419.2 211.3h8M419.2 220.6h8M427.3 209.8V217.5M423.3 209.8h8M423.3 217.5h8M428.1 197.4V211.7M424.1 197.4h8M424.1 211.7h8M431.4 183.1V203M427.4 183.1h8M427.4 203h8M433.1 176.5V202M429.1 176.5h8M429.1 202h8M435.6 169.2V200.2M431.6 169.2h8M431.6 200.2h8M438 163.1V184.8M434 163.1h8M434 184.8h8M438.9 145.1V170.8M434.9 145.1h8M434.9 170.8h8M440.5 127.3V180.9M436.5 127.3h8M436.5 180.9h8M442.2 133V173.7M438.2 133h8M438.2 173.7h8M444.7 116.7V147.3M440.7 116.7h8M440.7 147.3h8M445.5 70.2V141.9M441.5 70.2h8M441.5 141.9h8" fill="none" stroke="#3f58a7" stroke-width="1.1"/>
<path d="M416.6 221.3L419.9 217.5L423.2 216L427.3 213.7L428.1 204.5L431.4 193.1L433.1 189.2L435.6 184.7L438 174L438.9 157.9L440.5 154.1L442.2 153.4L444.7 132L445.5 106.1" fill="none" stroke="#3f58a7" stroke-width="1.3"/>
<circle cx="416.6" cy="221.3" r="3.6" fill="#3f58a7"/>
<circle cx="419.9" cy="217.5" r="3.6" fill="#3f58a7"/>
<circle cx="423.2" cy="216" r="3.6" fill="#3f58a7"/>
<circle cx="427.3" cy="213.7" r="3.6" fill="#3f58a7"/>
<circle cx="428.1" cy="204.5" r="3.6" fill="#3f58a7"/>
<circle cx="431.4" cy="193.1" r="3.6" fill="#3f58a7"/>
<circle cx="433.1" cy="189.2" r="3.6" fill="#3f58a7"/>
<circle cx="435.6" cy="184.7" r="3.6" fill="#3f58a7"/>
<circle cx="438" cy="174" r="3.6" fill="#3f58a7"/>
<circle cx="438.9" cy="157.9" r="3.6" fill="#3f58a7"/>
<circle cx="440.5" cy="154.1" r="3.6" fill="#3f58a7"/>
<circle cx="442.2" cy="153.4" r="3.6" fill="#3f58a7"/>
<circle cx="444.7" cy="132" r="3.6" fill="#3f58a7"/>
<circle cx="445.5" cy="106.1" r="3.6" fill="#3f58a7"/>
<path d="M457 224.4V227.4M453 224.4h8M453 227.4h8M460.3 223.9V227.2M456.3 223.9h8M456.3 227.2h8M463.6 223.9V226.3M459.6 223.9h8M459.6 226.3h8M466.9 222.9V225.8M462.9 222.9h8M462.9 225.8h8M467.8 210.4V223M463.8 210.4h8M463.8 223h8M470.2 207.3V221.5M466.2 207.3h8M466.2 221.5h8M471.9 204.2V220M467.9 204.2h8M467.9 220h8M474.4 205.1V217.7M470.4 205.1h8M470.4 217.7h8M476.8 202.3V218.9M472.8 202.3h8M472.8 218.9h8M479.3 200.1V218M475.3 200.1h8M475.3 218h8M481.8 200.3V217.9M477.8 200.3h8M477.8 217.9h8M484.3 203.9V215.8M480.3 203.9h8M480.3 215.8h8M486.7 200.1V216.5M482.7 200.1h8M482.7 216.5h8M489.2 195.1V213.9M485.2 195.1h8M485.2 213.9h8M491.7 184.6V213.7M487.7 184.6h8M487.7 213.7h8M494.2 180.8V216M490.2 180.8h8M490.2 216h8M496.6 178.8V214.9M492.6 178.8h8M492.6 214.9h8M499.1 178.6V209M495.1 178.6h8M495.1 209h8M501.6 166.9V202.4M497.6 166.9h8M497.6 202.4h8M504.1 153V191.9M500.1 153h8M500.1 191.9h8M514.8 136.1V175.2M510.8 136.1h8M510.8 175.2h8M518.1 136.3V175M514.1 136.3h8M514.1 175h8M519.8 110.7V179.2M515.8 110.7h8M515.8 179.2h8M521.4 98.2V167.3M517.4 98.2h8M517.4 167.3h8M523.9 94.1V168.4M519.9 94.1h8M519.9 168.4h8M526.4 61V180.1M522.4 61h8M522.4 180.1h8M528 63.2V162.6M524 63.2h8M524 162.6h8M536.3 58V143.4M532.3 58h8M532.3 143.4h8M547.8 45.8V131.2M543.8 45.8h8M543.8 131.2h8M549.5 40.4V116.7M545.5 40.4h8M545.5 116.7h8" fill="none" stroke="#ee3124" stroke-width="1.1"/>
<path d="M457 225.9L460.3 225.6L463.6 225.1L466.9 224.3L467.8 216.7L470.2 214.4L471.9 212.1L474.4 211.4L476.8 210.6L479.3 209.1L481.8 209.1L484.3 209.8L486.7 208.3L489.2 204.5L491.7 199.2L494.2 198.4L496.6 196.9L499.1 193.8L501.6 184.7L504.1 172.4L514.8 155.7L518.1 155.7L519.8 145L521.4 132.8L523.9 131.2L526.4 120.6L528 112.9L536.3 100.7L547.8 88.5L549.5 78.6" fill="none" stroke="#ee3124" stroke-width="1.3"/>
<path d="M453.3 222.2h7.4v7.4h-7.4zM456.6 221.9h7.4v7.4h-7.4zM459.9 221.4h7.4v7.4h-7.4zM463.2 220.6h7.4v7.4h-7.4zM464.1 213h7.4v7.4h-7.4zM466.5 210.7h7.4v7.4h-7.4zM468.2 208.4h7.4v7.4h-7.4zM470.7 207.7h7.4v7.4h-7.4zM473.1 206.9h7.4v7.4h-7.4zM475.6 205.4h7.4v7.4h-7.4zM478.1 205.4h7.4v7.4h-7.4zM480.6 206.1h7.4v7.4h-7.4zM483 204.6h7.4v7.4h-7.4zM485.5 200.8h7.4v7.4h-7.4zM488 195.5h7.4v7.4h-7.4zM490.5 194.7h7.4v7.4h-7.4zM492.9 193.2h7.4v7.4h-7.4zM495.4 190.1h7.4v7.4h-7.4zM497.9 181h7.4v7.4h-7.4zM500.4 168.7h7.4v7.4h-7.4zM511.1 152h7.4v7.4h-7.4zM514.4 152h7.4v7.4h-7.4zM516.1 141.3h7.4v7.4h-7.4zM517.7 129.1h7.4v7.4h-7.4zM520.2 127.5h7.4v7.4h-7.4zM522.7 116.9h7.4v7.4h-7.4zM524.3 109.2h7.4v7.4h-7.4zM532.6 97h7.4v7.4h-7.4zM544.1 84.8h7.4v7.4h-7.4zM545.8 74.9h7.4v7.4h-7.4z" fill="#ee3124"/>
<path d="M561.8 219.8V222.8M557.8 219.8h8M557.8 222.8h8M564.3 216.9V221.2M560.3 216.9h8M560.3 221.2h8M567.6 215.3V219.7M563.6 215.3h8M563.6 219.7h8M570.1 206.9V214.3M566.1 206.9h8M566.1 214.3h8M571.8 199.7V209.3M567.8 199.7h8M567.8 209.3h8M574.2 198V204.9M570.2 198h8M570.2 204.9h8M576.7 190.6V198.6M572.7 190.6h8M572.7 198.6h8M579.2 166V188M575.2 166h8M575.2 188h8M581.7 156.8V174.3M577.7 156.8h8M577.7 174.3h8M584.1 133.8V156.1M580.1 133.8h8M580.1 156.1h8M585.8 131.4V167.7M581.8 131.4h8M581.8 167.7h8M587.4 117.2V148.3M583.4 117.2h8M583.4 148.3h8M588.3 112.8V152.7M584.3 112.8h8M584.3 152.7h8M600.6 70.2V79.3M596.6 70.2h8M596.6 79.3h8M608.1 60.3V70.9M604.1 60.3h8M604.1 70.9h8" fill="none" stroke="#39b54a" stroke-width="1.1"/>
<path d="M561.8 221.3L564.3 219L567.6 217.5L570.1 210.6L571.8 204.5L574.2 201.5L576.7 194.6L579.2 177L581.7 165.6L584.1 145L585.8 149.6L587.4 132.8L588.3 132.8L600.6 74.8L608.1 65.6" fill="none" stroke="#39b54a" stroke-width="1.3"/>
<path d="M561.8 217.1l3.6 4.2l-3.6 4.2l-3.6 -4.2zM564.3 214.8l3.6 4.2l-3.6 4.2l-3.6 -4.2zM567.6 213.3l3.6 4.2l-3.6 4.2l-3.6 -4.2zM570.1 206.4l3.6 4.2l-3.6 4.2l-3.6 -4.2zM571.8 200.3l3.6 4.2l-3.6 4.2l-3.6 -4.2zM574.2 197.3l3.6 4.2l-3.6 4.2l-3.6 -4.2zM576.7 190.4l3.6 4.2l-3.6 4.2l-3.6 -4.2zM579.2 172.8l3.6 4.2l-3.6 4.2l-3.6 -4.2zM581.7 161.4l3.6 4.2l-3.6 4.2l-3.6 -4.2zM584.1 140.8l3.6 4.2l-3.6 4.2l-3.6 -4.2zM585.8 145.4l3.6 4.2l-3.6 4.2l-3.6 -4.2zM587.4 128.6l3.6 4.2l-3.6 4.2l-3.6 -4.2zM588.3 128.6l3.6 4.2l-3.6 4.2l-3.6 -4.2zM600.6 70.6l3.6 4.2l-3.6 4.2l-3.6 -4.2zM608.1 61.4l3.6 4.2l-3.6 4.2l-3.6 -4.2z" fill="#39b54a"/>
<path d="M381.1 35.6V227.4H629.7" fill="none" stroke="#000" stroke-width="2.2"/>
<text x="370.8" y="232.4" font-size="14.2" font-weight="bold" text-anchor="end">0</text>
<text x="370.8" y="194.2" font-size="14.2" font-weight="bold" text-anchor="end">250</text>
<text x="370.8" y="156.1" font-size="14.2" font-weight="bold" text-anchor="end">500</text>
<text x="370.8" y="117.9" font-size="14.2" font-weight="bold" text-anchor="end">750</text>
<text x="370.8" y="79.8" font-size="14.2" font-weight="bold" text-anchor="end">1000</text>
<text x="370.8" y="41.6" font-size="14.2" font-weight="bold" text-anchor="end">1250</text>
<text x="381.1" y="249.6" font-size="14.2" font-weight="bold" text-anchor="middle">0</text>
<text x="422.4" y="249.6" font-size="14.2" font-weight="bold" text-anchor="middle">50</text>
<text x="463.6" y="249.6" font-size="14.2" font-weight="bold" text-anchor="middle">100</text>
<text x="504.9" y="249.6" font-size="14.2" font-weight="bold" text-anchor="middle">150</text>
<text x="546.2" y="249.6" font-size="14.2" font-weight="bold" text-anchor="middle">200</text>
<text x="587.4" y="249.6" font-size="14.2" font-weight="bold" text-anchor="middle">250</text>
<text x="628.7" y="249.6" font-size="14.2" font-weight="bold" text-anchor="middle">300</text>
<path d="M381.1 227.4h-8M381.1 189.2h-8M381.1 151.1h-8M381.1 112.9h-8M381.1 74.8h-8M381.1 36.6h-8M381.1 227.4v8.500M422.4 227.4v8.500M463.6 227.4v8.500M504.9 227.4v8.500M546.2 227.4v8.500M587.4 227.4v8.500M628.7 227.4v8.500" fill="none" stroke="#000" stroke-width="2"/>
<text x="504.4" y="24" font-size="18" font-weight="bold" text-anchor="middle">PR-1</text>
<text x="404.8" y="273.2" font-size="15.6" font-weight="bold" textLength="201.3" lengthAdjust="spacingAndGlyphs">Days from Liquid Nitrogen</text>
<text transform="translate(326.7 133) rotate(-90)" font-size="15.6" font-weight="bold" text-anchor="middle">Tumor Volume (mm<tspan font-size="10" dy="-5.500">3</tspan><tspan dy="5.500">)</tspan></text>
<line x1="393.3" y1="45.2" x2="416.3" y2="45.2" stroke="#3f58a7" stroke-width="1.2"/>
<circle cx="404.8" cy="45.2" r="3.8" fill="#3f58a7"/>
<text x="427.4" y="50.4" font-size="15.3">P2</text>
<line x1="470.3" y1="45.2" x2="493.3" y2="45.2" stroke="#ee3124" stroke-width="1.2"/>
<rect x="477.9" y="41.3" width="7.8" height="7.8" fill="#ee3124"/>
<text x="505.4" y="50.4" font-size="15.3">P3</text>
<line x1="568.3" y1="45.2" x2="591.3" y2="45.2" stroke="#39b54a" stroke-width="1.2"/>
<path d="M579.8 41l3.8 4.2l-3.8 4.2l-3.8 -4.2z" fill="#39b54a"/>
<text x="603" y="50.4" font-size="15.3">P4</text>
<path d="M417 506.8V509.4M413 506.8h8M413 509.4h8M421.1 506.8V509.3M417.1 506.8h8M417.1 509.3h8M422.8 494.8V501.4M418.8 494.8h8M418.8 501.4h8M426.9 495.4V500.8M422.9 495.4h8M422.9 500.8h8M429.4 485.2V492.6M425.4 485.2h8M425.4 492.6h8M432.6 484.8V494.5M428.6 484.8h8M428.6 494.5h8M435.1 485.8V498.1M431.1 485.8h8M431.1 498.1h8M435.9 476.6V491.9M431.9 476.6h8M431.9 491.9h8M438.4 455.8V479M434.4 455.8h8M434.4 479h8M440.9 460.6V475.7M436.9 460.6h8M436.9 475.7h8M441.7 444.5V468.8M437.7 444.5h8M437.7 468.8h8M445 437.9V460M441 437.9h8M441 460h8M446.7 438V458.3M442.7 438h8M442.7 458.3h8M448.3 432.6V453M444.3 432.6h8M444.3 453h8" fill="none" stroke="#3f58a7" stroke-width="1.1"/>
<path d="M417 508.1L421.1 508.1L422.8 498.1L426.9 498.1L429.4 488.9L432.6 489.7L435.1 492L435.9 484.3L438.4 467.4L440.9 468.2L441.7 456.6L445 449L446.7 448.2L448.3 442.8L450 431.3L451.6 408.3L453.3 396L456.6 396.7" fill="none" stroke="#3f58a7" stroke-width="1.3"/>
<circle cx="417" cy="508.1" r="3.6" fill="#3f58a7"/>
<circle cx="421.1" cy="508.1" r="3.6" fill="#3f58a7"/>
<circle cx="422.8" cy="498.1" r="3.6" fill="#3f58a7"/>
<circle cx="426.9" cy="498.1" r="3.6" fill="#3f58a7"/>
<circle cx="429.4" cy="488.9" r="3.6" fill="#3f58a7"/>
<circle cx="432.6" cy="489.7" r="3.6" fill="#3f58a7"/>
<circle cx="435.1" cy="492" r="3.6" fill="#3f58a7"/>
<circle cx="435.9" cy="484.3" r="3.6" fill="#3f58a7"/>
<circle cx="438.4" cy="467.4" r="3.6" fill="#3f58a7"/>
<circle cx="440.9" cy="468.2" r="3.6" fill="#3f58a7"/>
<circle cx="441.7" cy="456.6" r="3.6" fill="#3f58a7"/>
<circle cx="445" cy="449" r="3.6" fill="#3f58a7"/>
<circle cx="446.7" cy="448.2" r="3.6" fill="#3f58a7"/>
<circle cx="448.3" cy="442.8" r="3.6" fill="#3f58a7"/>
<circle cx="450" cy="431.3" r="3.6" fill="#3f58a7"/>
<circle cx="451.6" cy="408.3" r="3.6" fill="#3f58a7"/>
<circle cx="453.3" cy="396" r="3.6" fill="#3f58a7"/>
<circle cx="456.6" cy="396.7" r="3.6" fill="#3f58a7"/>
<path d="M463.2 506.6V509.6M459.2 506.6h8M459.2 509.6h8M466.5 506.5V509.6M462.5 506.5h8M462.5 509.6h8M469.8 505.6V509.1M465.8 505.6h8M465.8 509.1h8M473.1 505.5V509.2M469.1 505.5h8M469.1 509.2h8M474.7 492.7V500.5M470.7 492.7h8M470.7 500.5h8M477.2 489.5V499.1M473.2 489.5h8M473.2 499.1h8M480.5 487.5V493.4M476.5 487.5h8M476.5 493.4h8M483.8 485.2V494.1M479.8 485.2h8M479.8 494.1h8M486.3 482.8V495M482.3 482.8h8M482.3 495h8M488.8 482.8V493.4M484.8 482.8h8M484.8 493.4h8M491.2 481.1V493.7M487.2 481.1h8M487.2 493.7h8M493.7 480.3V488.2M489.7 480.3h8M489.7 488.2h8M496.2 472.7V485.1M492.2 472.7h8M492.2 485.1h8M497.8 459.8V473.5M493.8 459.8h8M493.8 473.5h8M500.3 459.7V476.6M496.3 459.7h8M496.3 476.6h8M502.8 465.9V481.2M498.8 465.9h8M498.8 481.2h8M504.4 455.3V467.2M500.4 455.3h8M500.4 467.2h8M506.9 439.1V457.3M502.9 439.1h8M502.9 457.3h8M508.6 427.2V449.2M504.6 427.2h8M504.6 449.2h8M511 416V452.7M507 416h8M507 452.7h8M512.7 434.3V462.1M508.7 434.3h8M508.7 462.1h8M515.1 439.6V456.8M511.1 439.6h8M511.1 456.8h8M516.8 389.4V433.3M512.8 389.4h8M512.8 433.3h8M519.3 378.7V408.7M515.3 378.7h8M515.3 408.7h8M520.9 379.1V422M516.9 379.1h8M516.9 422h8M522.6 402.9V427.4M518.6 402.9h8M518.6 427.4h8M524.2 371.6V398.9M520.2 371.6h8M520.2 398.9h8M525.9 356.5V413.9M521.9 356.5h8M521.9 413.9h8M526.7 348.9V387.8M522.7 348.9h8M522.7 387.8h8M528.4 338.3V379.9M524.4 338.3h8M524.4 379.9h8M530.8 319.4V394.1M526.8 319.4h8M526.8 394.1h8M532.5 336.8V401.4M528.5 336.8h8M528.5 401.4h8M535 349V390.7M531 349h8M531 390.7h8M537.4 319.9V393.7M533.4 319.9h8M533.4 393.7h8M539.1 309V370.8M535.1 309h8M535.1 370.8h8" fill="none" stroke="#ee3124" stroke-width="1.1"/>
<path d="M463.2 508.1L466.5 508.1L469.8 507.3L473.1 507.3L474.7 496.6L477.2 494.3L480.5 490.4L483.8 489.7L486.3 488.9L488.8 488.1L491.2 487.4L493.7 484.3L496.2 478.9L497.8 466.6L500.3 468.2L502.8 473.5L504.4 461.2L506.9 448.2L508.6 438.2L511 434.4L512.7 448.2L515.1 448.2L516.8 411.3L519.3 393.7L520.9 400.6L522.6 415.2L524.2 385.2L525.9 385.2L526.7 368.3L528.4 359.1L530.8 356.8L532.5 369.1L535 369.9L537.4 356.8L539.1 339.9" fill="none" stroke="#ee3124" stroke-width="1.3"/>
<path d="M459.5 504.4h7.4v7.4h-7.4zM462.8 504.4h7.4v7.4h-7.4zM466.1 503.6h7.4v7.4h-7.4zM469.4 503.6h7.4v7.4h-7.4zM471 492.9h7.4v7.4h-7.4zM473.5 490.6h7.4v7.4h-7.4zM476.8 486.7h7.4v7.4h-7.4zM480.1 486h7.4v7.4h-7.4zM482.6 485.2h7.4v7.4h-7.4zM485.1 484.4h7.4v7.4h-7.4zM487.5 483.7h7.4v7.4h-7.4zM490 480.6h7.4v7.4h-7.4zM492.5 475.2h7.4v7.4h-7.4zM494.1 462.9h7.4v7.4h-7.4zM496.6 464.5h7.4v7.4h-7.4zM499.1 469.8h7.4v7.4h-7.4zM500.7 457.5h7.4v7.4h-7.4zM503.2 444.5h7.4v7.4h-7.4zM504.9 434.5h7.4v7.4h-7.4zM507.3 430.7h7.4v7.4h-7.4zM509 444.5h7.4v7.4h-7.4zM511.4 444.5h7.4v7.4h-7.4zM513.1 407.6h7.4v7.4h-7.4zM515.6 390h7.4v7.4h-7.4zM517.2 396.9h7.4v7.4h-7.4zM518.9 411.5h7.4v7.4h-7.4zM520.5 381.5h7.4v7.4h-7.4zM522.2 381.5h7.4v7.4h-7.4zM523 364.6h7.4v7.4h-7.4zM524.6 355.4h7.4v7.4h-7.4zM527.1 353.1h7.4v7.4h-7.4zM528.8 365.4h7.4v7.4h-7.4zM531.2 366.2h7.4v7.4h-7.4zM533.7 353.1h7.4v7.4h-7.4zM535.4 336.2h7.4v7.4h-7.4z" fill="#ee3124"/>
<path d="M551.5 507.9V509.8M547.5 507.9h8M547.5 509.8h8M554.8 507.1V509.1M550.8 507.1h8M550.8 509.1h8M558 506.3V508.3M554 506.3h8M554 508.3h8M561.4 506.4V508.2M557.4 506.4h8M557.4 508.2h8M564.6 504.9V506.7M560.6 504.9h8M560.6 506.7h8M568 502V505M564 502h8M564 505h8M571.2 497.9V501.4M567.2 497.9h8M567.2 501.4h8M574.5 495V499.7M570.5 495h8M570.5 499.7h8M577.9 493V497.1M573.9 493h8M573.9 497.1h8M580.3 493.3V498.3M576.3 493.3h8M576.3 498.3h8M582 489.8V494.1M578 489.8h8M578 494.1h8M584.5 480.3V488.3M580.5 480.3h8M580.5 488.3h8M586.9 477.9V486.1M582.9 477.9h8M582.9 486.1h8M589.4 471.1V479M585.4 471.1h8M585.4 479h8M591.9 461.4V471.8M587.9 461.4h8M587.9 471.8h8M594.4 462.6V473.7M590.4 462.6h8M590.4 473.7h8M596 466.8V474.1M592 466.8h8M592 474.1h8M598.5 458V469.1M594.5 458h8M594.5 469.1h8M601 448.3V463.4M597 448.3h8M597 463.4h8M603.4 442.5V453.9M599.4 442.5h8M599.4 453.9h8M605.9 434.5V452.6M601.9 434.5h8M601.9 452.6h8M608.4 430V447.9M604.4 430h8M604.4 447.9h8M610 421.3V442.8M606 421.3h8M606 442.8h8M612.5 412.1V429M608.5 412.1h8M608.5 429h8M614.1 412.2V425.8M610.1 412.2h8M610.1 425.8h8M615.8 412.1V435.1M611.8 412.1h8M611.8 435.1h8M618.3 403.4V428.4M614.3 403.4h8M614.3 428.4h8M619.1 386.9V409.7M615.1 386.9h8M615.1 409.7h8M620.8 381.1V398.6M616.8 381.1h8M616.8 398.6h8M623.2 375.9V396M619.2 375.9h8M619.2 396h8M625.7 359.5V390.9M621.7 359.5h8M621.7 390.9h8M627.4 365V388.5M623.4 365h8M623.4 388.5h8" fill="none" stroke="#39b54a" stroke-width="1.1"/>
<path d="M551.5 508.9L554.8 508.1L558 507.3L561.4 507.3L564.6 505.8L568 503.5L571.2 499.6L574.5 497.3L577.9 495L580.3 495.8L582 492L584.5 484.3L586.9 482L589.4 475.1L591.9 466.6L594.4 468.2L596 470.5L598.5 463.5L601 455.9L603.4 448.2L605.9 443.6L608.4 439L610 432.1L612.5 420.5L614.1 419L615.8 423.6L618.3 415.9L619.1 398.3L620.8 389.8L623.2 386L625.7 375.2L627.4 376.8" fill="none" stroke="#39b54a" stroke-width="1.3"/>
<path d="M551.5 504.7l3.6 4.2l-3.6 4.2l-3.6 -4.2zM554.8 503.9l3.6 4.2l-3.6 4.2l-3.6 -4.2zM558 503.1l3.6 4.2l-3.6 4.2l-3.6 -4.2zM561.4 503.1l3.6 4.2l-3.6 4.2l-3.6 -4.2zM564.6 501.6l3.6 4.2l-3.6 4.2l-3.6 -4.2zM568 499.3l3.6 4.2l-3.6 4.2l-3.6 -4.2zM571.2 495.4l3.6 4.2l-3.6 4.2l-3.6 -4.2zM574.5 493.1l3.6 4.2l-3.6 4.2l-3.6 -4.2zM577.9 490.8l3.6 4.2l-3.6 4.2l-3.6 -4.2zM580.3 491.6l3.6 4.2l-3.6 4.2l-3.6 -4.2zM582 487.8l3.6 4.2l-3.6 4.2l-3.6 -4.2zM584.5 480.1l3.6 4.2l-3.6 4.2l-3.6 -4.2zM586.9 477.8l3.6 4.2l-3.6 4.2l-3.6 -4.2zM589.4 470.9l3.6 4.2l-3.6 4.2l-3.6 -4.2zM591.9 462.4l3.6 4.2l-3.6 4.2l-3.6 -4.2zM594.4 464l3.6 4.2l-3.6 4.2l-3.6 -4.2zM596 466.3l3.6 4.2l-3.6 4.2l-3.6 -4.2zM598.5 459.3l3.6 4.2l-3.6 4.2l-3.6 -4.2zM601 451.7l3.6 4.2l-3.6 4.2l-3.6 -4.2zM603.4 444l3.6 4.2l-3.6 4.2l-3.6 -4.2zM605.9 439.4l3.6 4.2l-3.6 4.2l-3.6 -4.2zM608.4 434.8l3.6 4.2l-3.6 4.2l-3.6 -4.2zM610 427.9l3.6 4.2l-3.6 4.2l-3.6 -4.2zM612.5 416.3l3.6 4.2l-3.6 4.2l-3.6 -4.2zM614.1 414.8l3.6 4.2l-3.6 4.2l-3.6 -4.2zM615.8 419.4l3.6 4.2l-3.6 4.2l-3.6 -4.2zM618.3 411.7l3.6 4.2l-3.6 4.2l-3.6 -4.2zM619.1 394.1l3.6 4.2l-3.6 4.2l-3.6 -4.2zM620.8 385.6l3.6 4.2l-3.6 4.2l-3.6 -4.2zM623.2 381.8l3.6 4.2l-3.6 4.2l-3.6 -4.2zM625.7 371l3.6 4.2l-3.6 4.2l-3.6 -4.2zM627.4 372.6l3.6 4.2l-3.6 4.2l-3.6 -4.2z" fill="#39b54a"/>
<path d="M381.5 319.7V512.7H630" fill="none" stroke="#000" stroke-width="2.2"/>
<text x="371.2" y="517.7" font-size="14.2" font-weight="bold" text-anchor="end">0</text>
<text x="371.2" y="479.3" font-size="14.2" font-weight="bold" text-anchor="end">250</text>
<text x="371.2" y="440.9" font-size="14.2" font-weight="bold" text-anchor="end">500</text>
<text x="371.2" y="402.5" font-size="14.2" font-weight="bold" text-anchor="end">750</text>
<text x="371.2" y="364.1" font-size="14.2" font-weight="bold" text-anchor="end">1000</text>
<text x="371.2" y="325.7" font-size="14.2" font-weight="bold" text-anchor="end">1250</text>
<text x="381.5" y="534.7" font-size="14.2" font-weight="bold" text-anchor="middle">0</text>
<text x="422.8" y="534.7" font-size="14.2" font-weight="bold" text-anchor="middle">50</text>
<text x="464" y="534.7" font-size="14.2" font-weight="bold" text-anchor="middle">100</text>
<text x="505.2" y="534.7" font-size="14.2" font-weight="bold" text-anchor="middle">150</text>
<text x="546.5" y="534.7" font-size="14.2" font-weight="bold" text-anchor="middle">200</text>
<text x="587.8" y="534.7" font-size="14.2" font-weight="bold" text-anchor="middle">250</text>
<text x="629" y="534.7" font-size="14.2" font-weight="bold" text-anchor="middle">300</text>
<path d="M381.5 512.7h-8M381.5 474.3h-8M381.5 435.9h-8M381.5 397.5h-8M381.5 359.1h-8M381.5 320.7h-8M381.5 512.7v8.500M422.8 512.7v8.500M464 512.7v8.500M505.2 512.7v8.500M546.5 512.7v8.500M587.8 512.7v8.500M629 512.7v8.500" fill="none" stroke="#000" stroke-width="2"/>
<text x="505.4" y="307.7" font-size="18" font-weight="bold" text-anchor="middle">PR-2</text>
<text x="404.8" y="557.3" font-size="15.6" font-weight="bold" textLength="201.3" lengthAdjust="spacingAndGlyphs">Days from Liquid Nitrogen</text>
<text transform="translate(326.7 418) rotate(-90)" font-size="15.6" font-weight="bold" text-anchor="middle">Tumor Volume (mm<tspan font-size="10" dy="-5.500">3</tspan><tspan dy="5.500">)</tspan></text>
<line x1="390.6" y1="330.3" x2="413.6" y2="330.3" stroke="#3f58a7" stroke-width="1.2"/>
<circle cx="402.1" cy="330.3" r="3.8" fill="#3f58a7"/>
<text x="425.3" y="335.5" font-size="15.3">P2</text>
<line x1="467.2" y1="330.3" x2="490.2" y2="330.3" stroke="#ee3124" stroke-width="1.2"/>
<rect x="474.8" y="326.4" width="7.8" height="7.8" fill="#ee3124"/>
<text x="502.3" y="335.5" font-size="15.3">P3</text>
<line x1="557.6" y1="330.3" x2="580.6" y2="330.3" stroke="#39b54a" stroke-width="1.2"/>
<path d="M569.1 326.1l3.8 4.2l-3.8 4.2l-3.8 -4.2z" fill="#39b54a"/>
<text x="592.1" y="335.5" font-size="15.3">P4</text>
<path d="M1397 194.5V204.7M1393 194.5h8M1393 204.7h8M1402 178.5V190M1398 178.5h8M1398 190h8M1407 137.6V164.5M1403 137.6h8M1403 164.5h8M1410.4 107.6V139.5M1406.4 107.6h8M1406.4 139.5h8" fill="none" stroke="#3f58a7" stroke-width="1.1"/>
<path d="M1368.6 227.1L1380.3 223.3L1382 222.6L1385.3 222L1392 206.7L1397 199.6L1402 184.3L1407 151L1410.4 123.5" fill="none" stroke="#3f58a7" stroke-width="1.3"/>
<circle cx="1368.6" cy="227.1" r="3.6" fill="#3f58a7"/>
<circle cx="1380.3" cy="223.3" r="3.6" fill="#3f58a7"/>
<circle cx="1382" cy="222.6" r="3.6" fill="#3f58a7"/>
<circle cx="1385.3" cy="222" r="3.6" fill="#3f58a7"/>
<circle cx="1392" cy="206.7" r="3.6" fill="#3f58a7"/>
<circle cx="1397" cy="199.6" r="3.6" fill="#3f58a7"/>
<circle cx="1402" cy="184.3" r="3.6" fill="#3f58a7"/>
<circle cx="1407" cy="151" r="3.6" fill="#3f58a7"/>
<circle cx="1410.4" cy="123.5" r="3.6" fill="#3f58a7"/>
<path d="M1473.9 119.3V131.6M1469.9 119.3h8M1469.9 131.6h8" fill="none" stroke="#ee3124" stroke-width="1.1"/>
<path d="M1447.1 220.7L1450.5 218.2L1457.1 214.3L1460.5 202.8L1467.2 188.1L1470.5 170.2L1473.9 125.5" fill="none" stroke="#ee3124" stroke-width="1.3"/>
<path d="M1443.4 217h7.4v7.4h-7.4zM1446.8 214.5h7.4v7.4h-7.4zM1453.4 210.6h7.4v7.4h-7.4zM1456.8 199.1h7.4v7.4h-7.4zM1463.5 184.4h7.4v7.4h-7.4zM1466.8 166.5h7.4v7.4h-7.4zM1470.2 121.8h7.4v7.4h-7.4z" fill="#ee3124"/>
<path d="M1524 180.4V195.8M1520 180.4h8M1520 195.8h8M1530.7 148.5V181.7M1526.7 148.5h8M1526.7 181.7h8M1534 133.1V168.9M1530 133.1h8M1530 168.9h8M1537.3 125.5V153.6M1533.3 125.5h8M1533.3 153.6h8M1542.4 92.9V133.8M1538.4 92.9h8M1538.4 133.8h8M1545.7 57.1V119.7M1541.7 57.1h8M1541.7 119.7h8" fill="none" stroke="#39b54a" stroke-width="1.1"/>
<path d="M1502.3 219.4L1507.3 216.3L1510.6 215L1514 207.3L1520.6 192L1524 188.1L1530.7 165.1L1534 151L1537.3 139.5L1542.4 113.3L1545.7 88.4" fill="none" stroke="#39b54a" stroke-width="1.3"/>
<path d="M1502.3 215.2l3.6 4.2l-3.6 4.2l-3.6 -4.2zM1507.3 212.1l3.6 4.2l-3.6 4.2l-3.6 -4.2zM1510.6 210.8l3.6 4.2l-3.6 4.2l-3.6 -4.2zM1514 203.1l3.6 4.2l-3.6 4.2l-3.6 -4.2zM1520.6 187.8l3.6 4.2l-3.6 4.2l-3.6 -4.2zM1524 183.9l3.6 4.2l-3.6 4.2l-3.6 -4.2zM1530.7 160.9l3.6 4.2l-3.6 4.2l-3.6 -4.2zM1534 146.8l3.6 4.2l-3.6 4.2l-3.6 -4.2zM1537.3 135.3l3.6 4.2l-3.6 4.2l-3.6 -4.2zM1542.4 109.1l3.6 4.2l-3.6 4.2l-3.6 -4.2zM1545.7 84.2l3.6 4.2l-3.6 4.2l-3.6 -4.2z" fill="#39b54a"/>
<path d="M1311.8 35.6V228.4H1563.4" fill="none" stroke="#000" stroke-width="2.2"/>
<text x="1301.5" y="233.4" font-size="14.2" font-weight="bold" text-anchor="end">0</text>
<text x="1301.5" y="201.4" font-size="14.2" font-weight="bold" text-anchor="end">250</text>
<text x="1301.5" y="169.5" font-size="14.2" font-weight="bold" text-anchor="end">500</text>
<text x="1301.5" y="137.5" font-size="14.2" font-weight="bold" text-anchor="end">750</text>
<text x="1301.5" y="105.5" font-size="14.2" font-weight="bold" text-anchor="end">1000</text>
<text x="1301.5" y="73.6" font-size="14.2" font-weight="bold" text-anchor="end">1250</text>
<text x="1301.5" y="41.6" font-size="14.2" font-weight="bold" text-anchor="end">1500</text>
<text x="1311.8" y="251.6" font-size="14.2" font-weight="bold" text-anchor="middle">0</text>
<text x="1353.6" y="251.6" font-size="14.2" font-weight="bold" text-anchor="middle">25</text>
<text x="1395.3" y="251.6" font-size="14.2" font-weight="bold" text-anchor="middle">50</text>
<text x="1437.1" y="251.6" font-size="14.2" font-weight="bold" text-anchor="middle">75</text>
<text x="1478.9" y="251.6" font-size="14.2" font-weight="bold" text-anchor="middle">100</text>
<text x="1520.6" y="251.6" font-size="14.2" font-weight="bold" text-anchor="middle">125</text>
<text x="1562.4" y="251.6" font-size="14.2" font-weight="bold" text-anchor="middle">150</text>
<path d="M1311.8 228.4h-8M1311.8 196.4h-8M1311.8 164.5h-8M1311.8 132.5h-8M1311.8 100.5h-8M1311.8 68.6h-8M1311.8 36.6h-8M1311.8 228.4v8.500M1353.6 228.4v8.500M1395.3 228.4v8.500M1437.1 228.4v8.500M1478.9 228.4v8.500M1520.6 228.4v8.500M1562.4 228.4v8.500" fill="none" stroke="#000" stroke-width="2"/>
<text x="1437.3" y="24.7" font-size="18" font-weight="bold" text-anchor="middle">PR-3</text>
<text x="1336.4" y="274.2" font-size="15.6" font-weight="bold" textLength="203.4" lengthAdjust="spacingAndGlyphs">Days from Liquid Nitrogen</text>
<text transform="translate(1256.5 133) rotate(-90)" font-size="15.6" font-weight="bold" text-anchor="middle">Tumor Volume (mm<tspan font-size="10" dy="-5.500">3</tspan><tspan dy="5.500">)</tspan></text>
<line x1="1324.3" y1="45.6" x2="1347.3" y2="45.6" stroke="#3f58a7" stroke-width="1.2"/>
<circle cx="1335.8" cy="45.6" r="3.8" fill="#3f58a7"/>
<text x="1359" y="50.8" font-size="15.3">P2</text>
<line x1="1412.6" y1="45.6" x2="1435.6" y2="45.6" stroke="#ee3124" stroke-width="1.2"/>
<rect x="1420.2" y="41.7" width="7.8" height="7.8" fill="#ee3124"/>
<text x="1447.7" y="50.8" font-size="15.3">P3</text>
<line x1="1501" y1="45.6" x2="1524" y2="45.6" stroke="#39b54a" stroke-width="1.2"/>
<path d="M1512.5 41.4l3.8 4.2l-3.8 4.2l-3.8 -4.2z" fill="#39b54a"/>
<text x="1536.1" y="50.8" font-size="15.3">P4</text>
<path d="M1358.2 458.2V471.7M1354.2 458.2h8M1354.2 471.7h8M1369.2 424.5V438M1365.2 424.5h8M1365.2 438h8M1380.2 396.8V417.6M1376.2 396.8h8M1376.2 417.6h8M1384.3 390.4V417.6M1380.3 390.4h8M1380.3 417.6h8M1385.7 363.1V396.8M1381.7 363.1h8M1381.7 396.8h8M1396.7 344.9V370.9M1392.7 344.9h8M1392.7 370.9h8" fill="none" stroke="#3f58a7" stroke-width="1.1"/>
<path d="M1358.2 465L1369.2 431.2L1380.2 407.2L1384.3 404L1385.7 380L1396.7 357.9L1400.8 338.5" fill="none" stroke="#3f58a7" stroke-width="1.3"/>
<circle cx="1358.2" cy="465" r="3.6" fill="#3f58a7"/>
<circle cx="1369.2" cy="431.2" r="3.6" fill="#3f58a7"/>
<circle cx="1380.2" cy="407.2" r="3.6" fill="#3f58a7"/>
<circle cx="1384.3" cy="404" r="3.6" fill="#3f58a7"/>
<circle cx="1385.7" cy="380" r="3.6" fill="#3f58a7"/>
<circle cx="1396.7" cy="357.9" r="3.6" fill="#3f58a7"/>
<circle cx="1400.8" cy="338.5" r="3.6" fill="#3f58a7"/>
<path d="M1443.4 448.7V469.5M1439.4 448.7h8M1439.4 469.5h8M1454.4 406.6V435.1M1450.4 406.6h8M1450.4 435.1h8M1461.2 365.1V410.5M1457.2 365.1h8M1457.2 410.5h8M1464 329.4V391.7M1460 329.4h8M1460 391.7h8M1472.2 332.6V391M1468.2 332.6h8M1468.2 391h8" fill="none" stroke="#ee3124" stroke-width="1.1"/>
<path d="M1443.4 459.1L1454.4 420.8L1461.2 387.8L1464 360.5L1472.2 361.8" fill="none" stroke="#ee3124" stroke-width="1.3"/>
<path d="M1439.7 455.4h7.4v7.4h-7.4zM1450.7 417.1h7.4v7.4h-7.4zM1457.5 384.1h7.4v7.4h-7.4zM1460.3 356.8h7.4v7.4h-7.4zM1468.5 358.1h7.4v7.4h-7.4z" fill="#ee3124"/>
<path d="M1510.7 451.3V461.7M1506.7 451.3h8M1506.7 461.7h8M1521.7 420.8V439M1517.7 420.8h8M1517.7 439h8M1527.1 410.5V441.6M1523.1 410.5h8M1523.1 441.6h8M1532.6 389.1V398.1M1528.6 389.1h8M1528.6 398.1h8M1538.1 357.3V398.8M1534.1 357.3h8M1534.1 398.8h8M1543.6 328.1V369.6M1539.6 328.1h8M1539.6 369.6h8M1547.7 350.8V388.4M1543.7 350.8h8M1543.7 388.4h8M1554.6 340.4V365.1M1550.6 340.4h8M1550.6 365.1h8" fill="none" stroke="#39b54a" stroke-width="1.1"/>
<path d="M1499.7 498L1505.2 482.5L1510.7 456.5L1516.2 438.4L1521.7 429.9L1527.1 426L1532.6 393.6L1538.1 378L1543.6 348.8L1547.7 369.6L1554.6 352.7" fill="none" stroke="#39b54a" stroke-width="1.3"/>
<path d="M1499.7 493.8l3.6 4.2l-3.6 4.2l-3.6 -4.2zM1505.2 478.3l3.6 4.2l-3.6 4.2l-3.6 -4.2zM1510.7 452.3l3.6 4.2l-3.6 4.2l-3.6 -4.2zM1516.2 434.2l3.6 4.2l-3.6 4.2l-3.6 -4.2zM1521.7 425.7l3.6 4.2l-3.6 4.2l-3.6 -4.2zM1527.1 421.8l3.6 4.2l-3.6 4.2l-3.6 -4.2zM1532.6 389.4l3.6 4.2l-3.6 4.2l-3.6 -4.2zM1538.1 373.8l3.6 4.2l-3.6 4.2l-3.6 -4.2zM1543.6 344.6l3.6 4.2l-3.6 4.2l-3.6 -4.2zM1547.7 365.4l3.6 4.2l-3.6 4.2l-3.6 -4.2zM1554.6 348.5l3.6 4.2l-3.6 4.2l-3.6 -4.2z" fill="#39b54a"/>
<line x1="1358.2" y1="453.3" x2="1400.8" y2="339.8" stroke="#3f58a7" stroke-width="1.1"/>
<line x1="1443.4" y1="444.8" x2="1472.2" y2="343.6" stroke="#ee3124" stroke-width="1.1"/>
<line x1="1499.7" y1="469.5" x2="1554.6" y2="330.7" stroke="#39b54a" stroke-width="1.1"/>
<path d="M1319.8 318V513.6H1561.1" fill="none" stroke="#000" stroke-width="2.2"/>
<text x="1309.5" y="518.6" font-size="14.2" font-weight="bold" text-anchor="end">0</text>
<text x="1309.5" y="486.2" font-size="14.2" font-weight="bold" text-anchor="end">250</text>
<text x="1309.5" y="453.7" font-size="14.2" font-weight="bold" text-anchor="end">500</text>
<text x="1309.5" y="421.3" font-size="14.2" font-weight="bold" text-anchor="end">750</text>
<text x="1309.5" y="388.9" font-size="14.2" font-weight="bold" text-anchor="end">1000</text>
<text x="1309.5" y="356.4" font-size="14.2" font-weight="bold" text-anchor="end">1250</text>
<text x="1309.5" y="324" font-size="14.2" font-weight="bold" text-anchor="end">1500</text>
<text x="1319.8" y="538.4" font-size="14.2" font-weight="bold" text-anchor="middle">0</text>
<text x="1354.1" y="538.4" font-size="14.2" font-weight="bold" text-anchor="middle">25</text>
<text x="1388.5" y="538.4" font-size="14.2" font-weight="bold" text-anchor="middle">50</text>
<text x="1422.8" y="538.4" font-size="14.2" font-weight="bold" text-anchor="middle">75</text>
<text x="1457.1" y="538.4" font-size="14.2" font-weight="bold" text-anchor="middle">100</text>
<text x="1491.4" y="538.4" font-size="14.2" font-weight="bold" text-anchor="middle">125</text>
<text x="1525.8" y="538.4" font-size="14.2" font-weight="bold" text-anchor="middle">150</text>
<text x="1560.1" y="538.4" font-size="14.2" font-weight="bold" text-anchor="middle">175</text>
<path d="M1319.8 513.6h-8M1319.8 481.2h-8M1319.8 448.7h-8M1319.8 416.3h-8M1319.8 383.9h-8M1319.8 351.4h-8M1319.8 319h-8M1319.8 513.6v8.500M1354.1 513.6v8.500M1388.5 513.6v8.500M1422.8 513.6v8.500M1457.1 513.6v8.500M1491.4 513.6v8.500M1525.8 513.6v8.500M1560.1 513.6v8.500" fill="none" stroke="#000" stroke-width="2"/>
<text x="1440" y="308.3" font-size="18" font-weight="bold" text-anchor="middle">PR-4</text>
<text x="1342" y="561" font-size="15.6" font-weight="bold" textLength="196" lengthAdjust="spacingAndGlyphs">Days from Liquid Nitrogen</text>
<text transform="translate(1267 418) rotate(-90)" font-size="15.6" font-weight="bold" text-anchor="middle">Tumor Volume (mm<tspan font-size="10" dy="-5.500">3</tspan><tspan dy="5.500">)</tspan></text>
<line x1="1329.4" y1="328.7" x2="1352.4" y2="328.7" stroke="#3f58a7" stroke-width="1.2"/>
<circle cx="1340.9" cy="328.7" r="3.8" fill="#3f58a7"/>
<text x="1363.1" y="333.9" font-size="15.3">P2</text>
<line x1="1405.4" y1="328.7" x2="1428.4" y2="328.7" stroke="#ee3124" stroke-width="1.2"/>
<rect x="1413" y="324.8" width="7.8" height="7.8" fill="#ee3124"/>
<text x="1439.1" y="333.9" font-size="15.3">P3</text>
<line x1="1482.9" y1="328.7" x2="1505.9" y2="328.7" stroke="#39b54a" stroke-width="1.2"/>
<path d="M1494.4 324.5l3.8 4.2l-3.8 4.2l-3.8 -4.2z" fill="#39b54a"/>
<text x="1516.6" y="333.9" font-size="15.3">P4</text>
<path d="M801.1 176.5L801.8 178.6L799.8 180.7L801.8 182.7L801.1 184.8L776.1 184.8L775.4 182.7L777.4 180.7L775.4 178.6L776.1 176.5Z" fill="#7184c2" stroke="#3f58a7" stroke-width="2.6" stroke-linejoin="round"/>
<path d="M846.6 78L845.9 83.8L842.8 92.4L840.5 102L842.8 111.6L845.9 120.2L846.6 126L819.4 126L820.1 120.2L823.2 111.6L825.5 102L823.2 92.4L820.1 83.8L819.4 78Z" fill="#f4928b" stroke="#ee3124" stroke-width="2.6" stroke-linejoin="round"/>
<line x1="827.6" y1="102" x2="838.4" y2="102" stroke="#ee3124" stroke-width="0.9" stroke-dasharray="3 1.500"/>
<path d="M890.2 122.4L889.5 127.6L886.5 135.4L884.3 144.1L886.5 152.8L889.5 160.6L890.2 165.8L863.8 165.8L864.5 160.6L867.5 152.8L869.7 144.1L867.5 135.4L864.5 127.6L863.8 122.4Z" fill="#8dcd85" stroke="#39b54a" stroke-width="2.6" stroke-linejoin="round"/>
<line x1="871.7" y1="144.1" x2="882.3" y2="144.1" stroke="#39b54a" stroke-width="0.9" stroke-dasharray="3 1.500"/>
<path d="M759.6 56.6V227.5H905.5" fill="none" stroke="#000" stroke-width="2.2"/>
<text x="746.6" y="233.3" font-size="16.6" font-weight="bold" text-anchor="end">0</text>
<text x="746.6" y="176.7" font-size="16.6" font-weight="bold" text-anchor="end">10</text>
<text x="746.6" y="120" font-size="16.6" font-weight="bold" text-anchor="end">20</text>
<text x="746.6" y="63.4" font-size="16.6" font-weight="bold" text-anchor="end">30</text>
<text x="788.6" y="258.3" font-size="18.2" font-weight="bold" text-anchor="middle">P2</text>
<text x="832.5" y="258.3" font-size="18.2" font-weight="bold" text-anchor="middle">P3</text>
<text x="876.5" y="258.3" font-size="18.2" font-weight="bold" text-anchor="middle">P4</text>
<path d="M759.6 227.5h-9M759.6 170.9h-9M759.6 114.2h-9M759.6 57.6h-9M788.6 227.5v9.500M832.5 227.5v9.500M876.5 227.5v9.500" fill="none" stroke="#000" stroke-width="2"/>
<text x="833.5" y="48.6" font-size="20" font-weight="bold" text-anchor="middle">PR-1</text>
<text font-size="16.3" font-weight="bold" text-anchor="middle" textLength="165" lengthAdjust="spacingAndGlyphs" transform="translate(718.3 139.5) rotate(-90)">Doubling Time (Days)</text>
<path d="M797.1 440.5L797.5 444.9L800.4 446.4L800 450.3L774.8 450.3L774.4 446.4L777.3 444.9L777.6 440.5Z" fill="#7184c2" stroke="#3f58a7" stroke-width="2.6" stroke-linejoin="round"/>
<path d="M839.5 384.7L839.1 387.5L835.2 392.9L836.5 396.4L842.7 401L844 404.5L843.4 407.3L842.7 408L819.3 408L818.6 407.3L818 404.5L819.3 401L825.5 396.4L826.8 392.9L822.9 387.5L822.5 384.7Z" fill="#f4928b" stroke="#ee3124" stroke-width="2.6" stroke-linejoin="round"/>
<line x1="825.8" y1="400.5" x2="836.2" y2="400.5" stroke="#ee3124" stroke-width="0.9" stroke-dasharray="3 1.500"/>
<path d="M883.5 413.3L883.3 417.1L879.4 427.3L882.5 434.1L887.1 440.6L887.7 444.4L886.7 449.3L885.8 451.2L863.7 451.2L862.7 449.3L861.7 444.4L862.4 440.6L866.9 434.1L870 427.3L866.1 417.1L865.9 413.3Z" fill="#8dcd85" stroke="#39b54a" stroke-width="2.6" stroke-linejoin="round"/>
<line x1="869.5" y1="439.8" x2="879.9" y2="439.8" stroke="#39b54a" stroke-width="0.9" stroke-dasharray="3 1.500"/>
<path d="M758.7 336.1V504.8H902.8" fill="none" stroke="#000" stroke-width="2.2"/>
<text x="745.7" y="510.6" font-size="16.6" font-weight="bold" text-anchor="end">0</text>
<text x="745.7" y="454.7" font-size="16.6" font-weight="bold" text-anchor="end">10</text>
<text x="745.7" y="398.8" font-size="16.6" font-weight="bold" text-anchor="end">20</text>
<text x="745.7" y="342.9" font-size="16.6" font-weight="bold" text-anchor="end">30</text>
<text x="787.2" y="533.8" font-size="18.2" font-weight="bold" text-anchor="middle">P2</text>
<text x="830.3" y="533.8" font-size="18.2" font-weight="bold" text-anchor="middle">P3</text>
<text x="874.2" y="533.8" font-size="18.2" font-weight="bold" text-anchor="middle">P4</text>
<path d="M758.7 504.8h-9M758.7 448.9h-9M758.7 393h-9M758.7 337.1h-9M787.2 504.8v9.500M830.3 504.8v9.500M874.2 504.8v9.500" fill="none" stroke="#000" stroke-width="2"/>
<line x1="770.7" y1="504.8" x2="902.8" y2="504.8" stroke="#555" stroke-width="2.4" stroke-dasharray="1.2 1.2"/>
<text x="831.5" y="321.7" font-size="20" font-weight="bold" text-anchor="middle">PR-2</text>
<text font-size="16.3" font-weight="bold" text-anchor="middle" textLength="165" lengthAdjust="spacingAndGlyphs" transform="translate(718.3 417) rotate(-90)">Doubling Time (Days)</text>
<path d="M1734.1 165.6L1734.7 169.1L1737.9 169.9L1737.5 172.6L1712.7 172.6L1712.3 169.9L1715.5 169.1L1716.1 165.6Z" fill="#7184c2" stroke="#3f58a7" stroke-width="2.6" stroke-linejoin="round"/>
<path d="M1781 162.3L1781.4 163.9L1780.5 164.9L1781.4 166L1781 167.6L1755.2 167.6L1754.8 166L1755.7 164.9L1754.8 163.9L1755.2 162.3Z" fill="#f0605a" stroke="#ee3124" stroke-width="2.6" stroke-linejoin="round"/>
<path d="M1825 127.9L1825 130.6L1819.7 135.3L1819 137.3L1819 141.3L1804.4 141.3L1804.4 137.3L1803.7 135.3L1798.4 130.6L1798.4 127.9Z" fill="#8dcd85" stroke="#39b54a" stroke-width="2.6" stroke-linejoin="round"/>
<path d="M1696.4 61.5V228.9H1840.5" fill="none" stroke="#000" stroke-width="2.2"/>
<text x="1683.4" y="234.7" font-size="16.6" font-weight="bold" text-anchor="end">0</text>
<text x="1683.4" y="179.2" font-size="16.6" font-weight="bold" text-anchor="end">4</text>
<text x="1683.4" y="123.8" font-size="16.6" font-weight="bold" text-anchor="end">8</text>
<text x="1683.4" y="68.3" font-size="16.6" font-weight="bold" text-anchor="end">12</text>
<text x="1724.7" y="258.3" font-size="18.2" font-weight="bold" text-anchor="middle">P2</text>
<text x="1768.2" y="258.3" font-size="18.2" font-weight="bold" text-anchor="middle">P3</text>
<text x="1811.2" y="258.3" font-size="18.2" font-weight="bold" text-anchor="middle">P4</text>
<path d="M1696.4 228.9h-9M1696.4 173.4h-9M1696.4 118h-9M1696.4 62.5h-9M1724.7 228.9v9.500M1768.2 228.9v9.500M1811.2 228.9v9.500" fill="none" stroke="#000" stroke-width="2"/>
<text x="1768.6" y="47.5" font-size="20" font-weight="bold" text-anchor="middle">PR-3</text>
<text font-size="16.3" font-weight="bold" text-anchor="middle" textLength="160" lengthAdjust="spacingAndGlyphs" transform="translate(1655.3 142.5) rotate(-90)">Doubling Time (Days)</text>
<path d="M1732.4 397.9L1732.6 402.2L1736.1 408L1737.4 410.9L1736.4 413.7L1732.6 419.5L1732.4 426.7L1717.2 426.7L1717 419.5L1713.2 413.7L1712.2 410.9L1713.5 408L1717 402.2L1717.2 397.9Z" fill="#7184c2" stroke="#3f58a7" stroke-width="2.6" stroke-linejoin="round"/>
<line x1="1718.5" y1="410.9" x2="1731.1" y2="410.9" stroke="#3f58a7" stroke-width="0.9" stroke-dasharray="3 1.500"/>
<path d="M1779.9 348L1780.5 349.9L1770.5 360L1780.5 370.1L1779.9 372L1755.5 372L1754.9 370.1L1764.9 360L1754.9 349.9L1755.5 348Z" fill="#f4928b" stroke="#ee3124" stroke-width="2.6" stroke-linejoin="round"/>
<path d="M1821.2 367.5L1823.1 370.4L1823.1 374.9L1817.9 382.2L1815.6 387.6L1819.2 394.1L1819.9 397L1800.5 397L1801.2 394.1L1804.8 387.6L1802.5 382.2L1797.3 374.9L1797.3 370.4L1799.2 367.5Z" fill="#8dcd85" stroke="#39b54a" stroke-width="2.6" stroke-linejoin="round"/>
<line x1="1803.8" y1="376.4" x2="1816.7" y2="376.4" stroke="#39b54a" stroke-width="0.9" stroke-dasharray="3 1.500"/>
<path d="M1696.4 341.2V506.6H1840.5" fill="none" stroke="#000" stroke-width="2.2"/>
<text x="1683.4" y="512.4" font-size="16.6" font-weight="bold" text-anchor="end">0</text>
<text x="1683.4" y="457.6" font-size="16.6" font-weight="bold" text-anchor="end">4</text>
<text x="1683.4" y="402.8" font-size="16.6" font-weight="bold" text-anchor="end">8</text>
<text x="1683.4" y="348" font-size="16.6" font-weight="bold" text-anchor="end">12</text>
<text x="1724.7" y="535.9" font-size="18.2" font-weight="bold" text-anchor="middle">P2</text>
<text x="1766.8" y="535.9" font-size="18.2" font-weight="bold" text-anchor="middle">P3</text>
<text x="1810.6" y="535.9" font-size="18.2" font-weight="bold" text-anchor="middle">P4</text>
<path d="M1696.4 506.6h-9M1696.4 451.8h-9M1696.4 397h-9M1696.4 342.2h-9M1724.7 506.6v9.500M1766.8 506.6v9.500M1810.6 506.6v9.500" fill="none" stroke="#000" stroke-width="2"/>
<line x1="1708.4" y1="506.6" x2="1840.5" y2="506.6" stroke="#555" stroke-width="2.4" stroke-dasharray="1.2 1.2"/>
<text x="1768.3" y="325" font-size="20" font-weight="bold" text-anchor="middle">PR-4</text>
<text font-size="16.3" font-weight="bold" text-anchor="middle" textLength="160" lengthAdjust="spacingAndGlyphs" transform="translate(1655.3 420) rotate(-90)">Doubling Time (Days)</text></g>
<g id="panel-e"><text x="5.5" y="637.8" font-size="60.5" font-weight="bold">E</text>
<text x="150.8" y="630.2" font-size="28.6" font-weight="bold" text-anchor="middle">H&amp;E</text>
<text x="284.7" y="630.2" font-size="28.6" font-weight="bold" text-anchor="middle">ER</text>
<text x="418.3" y="630.2" font-size="28.6" font-weight="bold" text-anchor="middle">PgR</text>
<text x="551.4" y="630.2" font-size="28.6" font-weight="bold" text-anchor="middle">HER2</text>
<text x="684.1" y="630.2" font-size="28.6" font-weight="bold" text-anchor="middle">Ki67</text>
<text x="22" y="712.5" font-size="28.3" font-weight="bold" textLength="61.6" lengthAdjust="spacingAndGlyphs">PR-1</text>
<text x="22" y="844.8" font-size="28.3" font-weight="bold" textLength="61.6" lengthAdjust="spacingAndGlyphs">PR-2</text>
<text x="22" y="977.9" font-size="28.3" font-weight="bold" textLength="61.6" lengthAdjust="spacingAndGlyphs">PR-3</text>
<text x="22" y="1112" font-size="28.3" font-weight="bold" textLength="61.6" lengthAdjust="spacingAndGlyphs">PR-4</text>
<svg x="87.2" y="638.3" width="126.4" height="126.4" viewBox="0 0 126.4 126.4"><rect width="127" height="127" fill="#b27dc0"/><rect width="127" height="127" filter="url(#nzd)" opacity="0.45"/><rect width="127" height="127" filter="url(#nzw)" opacity="0.25"/><path d="M0 118 C10 112 20 104 30 100 M40 40 C50 44 58 42 66 38" stroke="#e8d8ee" stroke-width="1.1" fill="none" opacity=".8"/><g filter="url(#nu)" fill="none" stroke-linecap="round"><use href="#nh0" stroke="#4f4490" stroke-width="7" opacity="0.85"/><use href="#nh1" stroke="#4f4490" stroke-width="7" opacity="0.85"/><use href="#nh2" stroke="#5d4f9a" stroke-width="6.6" opacity="0.8"/><use href="#nh3" stroke="#5d4f9a" stroke-width="6.6" opacity="0.8"/></g></svg>
<svg x="87.2" y="771.6" width="126.4" height="126.4" viewBox="0 0 126.4 126.4"><rect width="127" height="127" fill="#b47fc0"/><rect width="127" height="127" filter="url(#nzd)" opacity="0.4"/><rect width="127" height="127" filter="url(#nzw)" opacity="0.3"/><path d="M8 12 C30 25 40 40 50 60 S70 80 72 70 S95 60 110 50 M72 70 C80 100 100 110 112 100" stroke="#d0508c" stroke-width="1" fill="none" opacity=".7"/><g fill="#f0e4f2"><circle cx="26" cy="56" r="1.6"/><circle cx="30" cy="92" r="1.8"/><circle cx="50" cy="10" r="1.2"/></g><g filter="url(#nu)" fill="none" stroke-linecap="round" transform="rotate(90 63.200 63.200)"><use href="#nh0" stroke="#5f4e9a" stroke-width="7" opacity="0.8"/><use href="#nh1" stroke="#5f4e9a" stroke-width="7" opacity="0.8"/><use href="#nh2" stroke="#6c599f" stroke-width="6.6" opacity="0.75"/></g></svg>
<svg x="87.2" y="905" width="126.4" height="126.4" viewBox="0 0 126.4 126.4"><rect width="127" height="127" fill="#ae78c2"/><rect width="127" height="127" filter="url(#nzd)" opacity="0.45"/><rect width="127" height="127" filter="url(#nzw)" opacity="0.2"/><path d="M0 55 C20 60 30 75 40 80 M60 20 C75 40 90 70 110 82" stroke="#d65aa0" stroke-width="1.2" fill="none" opacity=".6"/><g filter="url(#nu)" fill="none" stroke-linecap="round" transform="rotate(180 63.200 63.200)"><use href="#nh0" stroke="#55489a" stroke-width="6.8" opacity="0.85"/><use href="#nh1" stroke="#55489a" stroke-width="6.8" opacity="0.85"/><use href="#nh2" stroke="#6151a0" stroke-width="6.4" opacity="0.8"/><use href="#nh3" stroke="#6151a0" stroke-width="6.4" opacity="0.8"/></g></svg>
<svg x="87.2" y="1038.6" width="126.4" height="126.4" viewBox="0 0 126.4 126.4"><rect width="127" height="127" fill="#a04fa8"/><rect width="127" height="127" filter="url(#nzd)" opacity="0.6"/><rect width="127" height="127" filter="url(#nzw)" opacity="0.25"/><path d="M0 124 C40 105 60 80 80 62 S110 50 127 40" stroke="#dd5fa5" stroke-width="4.500" fill="none" opacity=".85"/><path d="M10 112 C20 100 28 96 36 90 M60 82 C64 72 70 66 76 62" stroke="#dd5fa5" stroke-width="1.5" fill="none" opacity=".8"/><g filter="url(#nu)" fill="none" stroke-linecap="round" transform="rotate(270 63.200 63.200)"><use href="#nh0" stroke="#4f3a8e" stroke-width="7" opacity="0.85"/><use href="#nh1" stroke="#4f3a8e" stroke-width="7" opacity="0.85"/><use href="#nh2" stroke="#5c4196" stroke-width="6.4" opacity="0.8"/><use href="#nh3" stroke="#5c4196" stroke-width="6.4" opacity="0.8"/></g><g fill="#f6ecf6"><circle cx="48" cy="85" r="3"/><circle cx="63" cy="24" r="2"/><circle cx="15" cy="58" r="2.2"/><circle cx="22" cy="66" r="1.6"/><circle cx="18" cy="93" r="1.5"/><circle cx="104" cy="42" r="1.4"/><circle cx="26" cy="60" r="1.2"/></g></svg>
<svg x="220.4" y="638.3" width="126.4" height="126.4" viewBox="0 0 126.4 126.4"><rect width="127" height="127" fill="#dde1ee"/><rect width="127" height="127" filter="url(#nzd)" opacity="0.15"/><rect width="127" height="127" filter="url(#nzw)" opacity="0.8"/><path d="M0 8 C14 14 22 22 30 30 M6 95 C22 88 32 80 40 74 S52 70 56 66 M70 86 C80 92 85 96 92 92 M40 122 C42 112 48 108 46 100 M88 30 C98 26 108 30 118 22" stroke="#d9a877" stroke-width="2.2" fill="none" opacity=".6" filter="url(#bl12)"/><g filter="url(#nu)" fill="none" stroke-linecap="round"><use href="#na0" stroke="#6878ba" stroke-width="10.4" opacity="0.85"/><use href="#na1" stroke="#6878ba" stroke-width="10.4" opacity="0.85"/><use href="#na2" stroke="#7a88c2" stroke-width="9.6" opacity="0.8"/><use href="#na3" stroke="#7a88c2" stroke-width="9.6" opacity="0.8"/><use href="#na4" stroke="#95a0cc" stroke-width="9.2" opacity="0.75"/></g></svg>
<svg x="220.4" y="771.6" width="126.4" height="126.4" viewBox="0 0 126.4 126.4"><rect width="127" height="127" fill="#dbe0ec"/><rect width="127" height="127" filter="url(#nzd)" opacity="0.1"/><rect width="127" height="127" filter="url(#nzw)" opacity="0.4"/><g filter="url(#nu)" fill="none" stroke-linecap="round" transform="matrix(-1 0 0 1 126.400 0)"><use href="#na0" stroke="#8a93c4" stroke-width="10" opacity="0.8"/><use href="#na1" stroke="#8a93c4" stroke-width="10" opacity="0.8"/><use href="#na2" stroke="#7d88c0" stroke-width="9.6" opacity="0.75"/><svg x="0" y="20" width="127" height="90" viewBox="0 20 127 90"><use href="#na4" stroke="#9a8a94" stroke-width="9.6" opacity="0.75"/></svg></g></svg>
<svg x="220.4" y="905" width="126.4" height="126.4" viewBox="0 0 126.4 126.4"><rect width="127" height="127" fill="#cfd4e3"/><rect width="127" height="127" filter="url(#nzd)" opacity="0.1"/><rect width="127" height="127" filter="url(#nzw)" opacity="0.3"/><g filter="url(#nu)" fill="none" stroke-linecap="round" transform="rotate(90 63.200 63.200)"><use href="#na0" stroke="#96694a" stroke-width="10.6" opacity="0.88"/><use href="#na1" stroke="#96694a" stroke-width="10.6" opacity="0.88"/><use href="#na2" stroke="#96694a" stroke-width="10.6" opacity="0.88"/><use href="#na3" stroke="#a88468" stroke-width="10.2" opacity="0.85"/><use href="#na4" stroke="#6a80c6" stroke-width="8.4" opacity="0.85"/><use href="#na5" stroke="#8d9ccc" stroke-width="9.2" opacity="0.8"/></g></svg>
<svg x="220.4" y="1038.6" width="126.4" height="126.4" viewBox="0 0 126.4 126.4"><rect width="127" height="127" fill="#ebe5ed"/><rect width="127" height="127" filter="url(#nzw)" opacity="0.4"/><g filter="url(#nu)" fill="none" stroke-linecap="round"><use href="#nb0" stroke="#a797be" stroke-width="7.8" opacity="0.75"/><use href="#nb1" stroke="#a797be" stroke-width="7.8" opacity="0.75"/><use href="#nb2" stroke="#a797be" stroke-width="7.8" opacity="0.75"/><use href="#nb3" stroke="#a08070" stroke-width="7.8" opacity="0.7"/><use href="#nb4" stroke="#b9aac8" stroke-width="7.2" opacity="0.7"/></g></svg>
<svg x="353.5" y="638.3" width="126.4" height="126.4" viewBox="0 0 126.4 126.4"><rect width="127" height="127" fill="#dadfee"/><rect width="127" height="127" filter="url(#nzd)" opacity="0.15"/><rect width="127" height="127" filter="url(#nzw)" opacity="0.6"/><g filter="url(#nu)" fill="none" stroke-linecap="round" transform="rotate(180 63.200 63.200)"><use href="#na0" stroke="#6a72b4" stroke-width="10.2" opacity="0.85"/><use href="#na1" stroke="#6a72b4" stroke-width="10.2" opacity="0.85"/><use href="#na2" stroke="#7c84be" stroke-width="9.6" opacity="0.8"/><use href="#na3" stroke="#7c84be" stroke-width="9.6" opacity="0.8"/><use href="#na4" stroke="#8f98c8" stroke-width="9.2" opacity="0.75"/><svg x="70" y="0" width="57" height="90" viewBox="70 0 57 90"><use href="#na5" stroke="#8a7a90" stroke-width="10" opacity="0.8"/></svg></g></svg>
<svg x="353.5" y="771.6" width="126.4" height="126.4" viewBox="0 0 126.4 126.4"><rect width="127" height="127" fill="#dbe0ec"/><rect width="127" height="127" filter="url(#nzd)" opacity="0.1"/><rect width="127" height="127" filter="url(#nzw)" opacity="0.5"/><g filter="url(#nu)" fill="none" stroke-linecap="round" transform="matrix(1 0 0 -1 0 126.400)"><use href="#na0" stroke="#7480bc" stroke-width="10" opacity="0.85"/><use href="#na1" stroke="#7480bc" stroke-width="10" opacity="0.85"/><use href="#na2" stroke="#8994c4" stroke-width="9.6" opacity="0.8"/><svg x="0" y="0" width="127" height="60" viewBox="0 0 127 60"><use href="#na3" stroke="#5f6fb4" stroke-width="8.8" opacity="0.8"/></svg></g></svg>
<svg x="353.5" y="905" width="126.4" height="126.4" viewBox="0 0 126.4 126.4"><rect width="127" height="127" fill="#c9cee1"/><rect width="127" height="127" filter="url(#nzd)" opacity="0.12"/><rect width="127" height="127" filter="url(#nzw)" opacity="0.3"/><g filter="url(#nu)" fill="none" stroke-linecap="round" transform="rotate(270 63.200 63.200)"><use href="#na0" stroke="#99705a" stroke-width="10.4" opacity="0.85"/><use href="#na1" stroke="#99705a" stroke-width="10.4" opacity="0.85"/><use href="#na2" stroke="#7383c4" stroke-width="9.8" opacity="0.85"/><use href="#na3" stroke="#7383c4" stroke-width="9.8" opacity="0.85"/><use href="#na4" stroke="#8a96c8" stroke-width="9.2" opacity="0.8"/><use href="#na5" stroke="#a88a78" stroke-width="9.6" opacity="0.8"/></g></svg>
<svg x="353.5" y="1038.6" width="126.4" height="126.4" viewBox="0 0 126.4 126.4"><rect width="127" height="127" fill="#d3cde3"/><rect width="127" height="127" filter="url(#nzd)" opacity="0.12"/><rect width="127" height="127" filter="url(#nzw)" opacity="0.2"/><g filter="url(#nu)" fill="none" stroke-linecap="round" transform="matrix(0 1 1 0 0 0)"><use href="#nb0" stroke="#8f86c0" stroke-width="8.2" opacity="0.8"/><use href="#nb1" stroke="#8f86c0" stroke-width="8.2" opacity="0.8"/><use href="#nb2" stroke="#8f86c0" stroke-width="8.2" opacity="0.8"/><use href="#nb3" stroke="#a098ca" stroke-width="7.8" opacity="0.75"/><use href="#nb4" stroke="#a098ca" stroke-width="7.8" opacity="0.75"/></g></svg>
<svg x="486.9" y="638.3" width="126.4" height="126.4" viewBox="0 0 126.4 126.4"><rect width="127" height="127" fill="#d6d8ed"/><rect width="127" height="127" filter="url(#nzd)" opacity="0.22"/><rect width="127" height="127" filter="url(#nzw)" opacity="0.5"/><g filter="url(#nu)" fill="none" stroke-linecap="round" transform="matrix(0 1 1 0 0 0)"><use href="#na0" stroke="#686eb2" stroke-width="10" opacity="0.85"/><use href="#na1" stroke="#686eb2" stroke-width="10" opacity="0.85"/><use href="#na2" stroke="#686eb2" stroke-width="10" opacity="0.85"/><use href="#na3" stroke="#777dbc" stroke-width="9.6" opacity="0.8"/><use href="#na4" stroke="#777dbc" stroke-width="9.6" opacity="0.8"/><use href="#na5" stroke="#8d92c6" stroke-width="9.2" opacity="0.75"/></g></svg>
<svg x="486.9" y="771.6" width="126.4" height="126.4" viewBox="0 0 126.4 126.4"><rect width="127" height="127" fill="#85583b"/><rect width="127" height="127" filter="url(#nzb)" opacity=".85"/><g filter="url(#nu)" fill="none" stroke-linecap="round" transform="matrix(0 -1 -1 0 126.400 126.400)"><use href="#na0" stroke="#a8836a" stroke-width="15.2" opacity="0.55"/><use href="#na1" stroke="#a8836a" stroke-width="15.2" opacity="0.55"/><use href="#na2" stroke="#a8836a" stroke-width="15.2" opacity="0.55"/><use href="#na3" stroke="#a8836a" stroke-width="15.2" opacity="0.55"/><use href="#na4" stroke="#a8836a" stroke-width="15.2" opacity="0.55"/><use href="#na5" stroke="#a8836a" stroke-width="15.2" opacity="0.55"/><use href="#na0" stroke="#6a6aa0" stroke-width="8.4" opacity="0.9"/><use href="#na1" stroke="#6a6aa0" stroke-width="8.4" opacity="0.9"/><use href="#na2" stroke="#6a6aa0" stroke-width="8.4" opacity="0.9"/><use href="#na3" stroke="#6a6aa0" stroke-width="8.4" opacity="0.9"/></g><path d="M0 22 C14 30 24 28 30 36 C44 60 70 66 127 74 M30 36 C20 20 22 8 30 0" stroke="#a9aed2" stroke-width="3.500" fill="none" opacity=".9"/><g fill="#efe8e2" opacity=".85" filter="url(#bl12)"><circle cx="20" cy="16" r="4"/><circle cx="32" cy="88" r="5"/><circle cx="86" cy="90" r="4"/><circle cx="112" cy="50" r="5"/><circle cx="60" cy="32" r="3.500"/><circle cx="120" cy="12" r="6"/><circle cx="22" cy="114" r="4"/><circle cx="50" cy="70" r="3"/></g></svg>
<svg x="486.9" y="905" width="126.4" height="126.4" viewBox="0 0 126.4 126.4"><rect width="127" height="127" fill="#b3b8df"/><rect width="127" height="127" filter="url(#nzd)" opacity="0.25"/><rect width="127" height="127" filter="url(#nzw)" opacity="0.15"/><g filter="url(#nu)" fill="none" stroke-linecap="round" transform="rotate(90 63.200 63.200)"><use href="#nb0" stroke="#5a63b0" stroke-width="8.4" opacity="0.8"/><use href="#nb1" stroke="#5a63b0" stroke-width="8.4" opacity="0.8"/><use href="#nb2" stroke="#5a63b0" stroke-width="8.4" opacity="0.8"/><use href="#nb3" stroke="#6a73ba" stroke-width="8" opacity="0.8"/><use href="#nb4" stroke="#6a73ba" stroke-width="8" opacity="0.8"/><use href="#nb5" stroke="#6a73ba" stroke-width="8" opacity="0.8"/></g></svg>
<svg x="486.9" y="1038.6" width="126.4" height="126.4" viewBox="0 0 126.4 126.4"><rect width="127" height="127" fill="#d1cae3"/><rect width="127" height="127" filter="url(#nzd)" opacity="0.12"/><rect width="127" height="127" filter="url(#nzw)" opacity="0.2"/><g filter="url(#nu)" fill="none" stroke-linecap="round" transform="rotate(180 63.200 63.200)"><use href="#nb0" stroke="#877dbe" stroke-width="8.2" opacity="0.8"/><use href="#nb1" stroke="#877dbe" stroke-width="8.2" opacity="0.8"/><use href="#nb2" stroke="#877dbe" stroke-width="8.2" opacity="0.8"/><use href="#nb3" stroke="#988fc6" stroke-width="7.8" opacity="0.75"/><use href="#nb4" stroke="#988fc6" stroke-width="7.8" opacity="0.75"/></g></svg>
<svg x="620" y="638.3" width="126.4" height="126.4" viewBox="0 0 126.4 126.4"><rect width="127" height="127" fill="#c3cbe4"/><rect width="127" height="127" filter="url(#nzd)" opacity="0.12"/><rect width="127" height="127" filter="url(#nzw)" opacity="0.3"/><g filter="url(#nu)" fill="none" stroke-linecap="round" transform="matrix(0 -1 -1 0 126.400 126.400)"><use href="#na0" stroke="#6c7cba" stroke-width="9.6" opacity="0.85"/><use href="#na1" stroke="#6c7cba" stroke-width="9.6" opacity="0.85"/><use href="#na2" stroke="#6c7cba" stroke-width="9.6" opacity="0.85"/><use href="#na3" stroke="#8290c4" stroke-width="9.2" opacity="0.8"/><use href="#na4" stroke="#8290c4" stroke-width="9.2" opacity="0.8"/><use href="#na5" stroke="#9aa6d0" stroke-width="8.8" opacity="0.7"/><svg x="36" y="8" width="91" height="80" viewBox="36 8 91 80"><use href="#na5" stroke="#6a4230" stroke-width="12" opacity="0.92"/></svg></g></svg>
<svg x="620" y="771.6" width="126.4" height="126.4" viewBox="0 0 126.4 126.4"><rect width="127" height="127" fill="#c2cae4"/><rect width="127" height="127" filter="url(#nzd)" opacity="0.12"/><rect width="127" height="127" filter="url(#nzw)" opacity="0.3"/><g filter="url(#nu)" fill="none" stroke-linecap="round" transform="rotate(270 63.200 63.200)"><use href="#na0" stroke="#7482be" stroke-width="9.6" opacity="0.85"/><use href="#na1" stroke="#7482be" stroke-width="9.6" opacity="0.85"/><use href="#na2" stroke="#8a97c8" stroke-width="9.2" opacity="0.8"/><use href="#na3" stroke="#8a97c8" stroke-width="9.2" opacity="0.8"/><use href="#na4" stroke="#9aa6d0" stroke-width="8.8" opacity="0.7"/><svg x="0" y="0" width="127" height="70" viewBox="0 0 127 70"><use href="#na4" stroke="#6a3e26" stroke-width="11.6" opacity="0.92"/></svg><svg x="0" y="60" width="127" height="67" viewBox="0 60 127 67"><use href="#na5" stroke="#94705c" stroke-width="10" opacity="0.8"/></svg></g></svg>
<svg x="620" y="905" width="126.4" height="126.4" viewBox="0 0 126.4 126.4"><rect width="127" height="127" fill="#a3a8cc"/><rect width="127" height="127" filter="url(#nzd)" opacity="0.35"/><g filter="url(#nu)" fill="none" stroke-linecap="round" transform="matrix(-1 0 0 1 126.400 0)"><use href="#nb0" stroke="#5a3626" stroke-width="10" opacity="0.9"/><use href="#nb1" stroke="#5a3626" stroke-width="10" opacity="0.9"/><use href="#nb2" stroke="#5a3626" stroke-width="10" opacity="0.9"/><use href="#nb3" stroke="#7a5444" stroke-width="9.6" opacity="0.85"/><use href="#nb4" stroke="#5a68b2" stroke-width="8.6" opacity="0.85"/><use href="#nb5" stroke="#5a68b2" stroke-width="8.6" opacity="0.85"/></g></svg>
<svg x="620" y="1038.6" width="126.4" height="126.4" viewBox="0 0 126.4 126.4"><rect width="127" height="127" fill="#dfe2f1"/><rect width="127" height="127" filter="url(#nzw)" opacity="0.3"/><g filter="url(#nu)" fill="none" stroke-linecap="round" transform="matrix(1 0 0 -1 0 126.400)"><use href="#nb0" stroke="#b0bade" stroke-width="7.2" opacity="0.8"/><use href="#nb1" stroke="#c9a78a" stroke-width="7.6" opacity="0.8"/><svg x="0" y="0" width="84" height="127" viewBox="0 0 84 127"><use href="#nb2" stroke="#7b3d15" stroke-width="8.6" opacity="0.92"/><use href="#nb3" stroke="#7b3d15" stroke-width="8.6" opacity="0.92"/></svg><svg x="0" y="0" width="96" height="127" viewBox="0 0 96 127"><use href="#nb4" stroke="#b88a62" stroke-width="8" opacity="0.85"/></svg><svg x="0" y="56" width="70" height="71" viewBox="0 56 70 71"><use href="#nb5" stroke="#7b3d15" stroke-width="8.6" opacity="0.9"/></svg></g><path d="M120 14 C122 30 118 50 121 66" stroke="#6a3010" stroke-width="2.5" fill="none" opacity=".8"/></svg></g>
<g id="panel-fg"><text x="789" y="640.6" font-size="60.5" font-weight="bold">F</text>
<text x="1303" y="639.8" font-size="60.5" font-weight="bold">G</text>
<rect x="864.3" y="1090.3" width="48.5" height="2.5" fill="#efdc82"/>
<rect x="864.3" y="1086.7" width="48.5" height="3.9" fill="#3c5488"/>
<rect x="864.3" y="1078.3" width="48.5" height="8.7" fill="#f58b1f"/>
<rect x="864.3" y="1063.4" width="48.5" height="15.2" fill="#ec3b8c"/>
<rect x="864.3" y="1045.2" width="48.5" height="18.5" fill="#4dbbd5"/>
<rect x="864.3" y="1025.6" width="48.5" height="19.9" fill="#8050a0"/>
<rect x="864.3" y="687.1" width="48.5" height="338.8" fill="#0aa087"/>
<text x="888.5" y="684.4" font-size="17.3" text-anchor="middle">223</text>
<rect x="918" y="1088.9" width="48.5" height="3.9" fill="#3c5488"/>
<rect x="918" y="1074.3" width="48.5" height="14.8" fill="#f58b1f"/>
<rect x="918" y="1061.6" width="48.5" height="13" fill="#ec3b8c"/>
<rect x="918" y="1056.1" width="48.5" height="5.8" fill="#4dbbd5"/>
<rect x="918" y="1052.5" width="48.5" height="3.9" fill="#f29b80"/>
<rect x="918" y="994.3" width="48.5" height="58.5" fill="#8050a0"/>
<rect x="918" y="796.2" width="48.5" height="198.5" fill="#0aa087"/>
<text x="942.2" y="793.5" font-size="17.3" text-anchor="middle">163</text>
<rect x="972" y="1090.7" width="48.5" height="2.1" fill="#f58b1f"/>
<rect x="972" y="1081.6" width="48.5" height="9.4" fill="#ec3b8c"/>
<rect x="972" y="1072.5" width="48.5" height="9.4" fill="#4dbbd5"/>
<rect x="972" y="1054.3" width="48.5" height="18.5" fill="#8050a0"/>
<rect x="972" y="887.1" width="48.5" height="167.6" fill="#0aa087"/>
<text x="996.2" y="884.4" font-size="17.3" text-anchor="middle">113</text>
<rect x="1026.2" y="1087" width="48.5" height="5.8" fill="#f58b1f"/>
<rect x="1026.2" y="1076.1" width="48.5" height="11.2" fill="#ec3b8c"/>
<rect x="1026.2" y="1072.5" width="48.5" height="3.9" fill="#4dbbd5"/>
<rect x="1026.2" y="1068.9" width="48.5" height="3.9" fill="#f29b80"/>
<rect x="1026.2" y="1052.5" width="48.5" height="16.7" fill="#8050a0"/>
<rect x="1026.2" y="905.2" width="48.5" height="147.6" fill="#0aa087"/>
<text x="1050.4" y="902.5" font-size="17.3" text-anchor="middle">103</text>
<path d="M855.900 657V1113.200H1083" fill="none" stroke="#000" stroke-width="3.5"/>
<text x="849.5" y="1097.8" font-size="15.2" text-anchor="end" fill="#222">0</text>
<text x="849.5" y="1006.9" font-size="15.2" text-anchor="end" fill="#222">50</text>
<text x="849.5" y="916" font-size="15.2" text-anchor="end" fill="#222">100</text>
<text x="849.5" y="825.1" font-size="15.2" text-anchor="end" fill="#222">150</text>
<text x="849.5" y="734.2" font-size="15.2" text-anchor="end" fill="#222">200</text>
<path d="M854.500 1092.5h-3M854.500 1001.6h-3M854.500 910.7h-3M854.500 819.8h-3M854.500 728.9h-3M888.5 1114.500v3M942.2 1114.500v3M996.2 1114.500v3M1050.4 1114.500v3" fill="none" stroke="#333" stroke-width="1.8"/>
<text x="890" y="1139.3" font-size="17.8" font-weight="bold" text-anchor="middle">PR-2</text>
<text x="945" y="1139.3" font-size="17.8" font-weight="bold" text-anchor="middle">PR-3</text>
<text x="1002.5" y="1139.3" font-size="17.8" font-weight="bold" text-anchor="middle">PR-4</text>
<text x="1055.5" y="1139.3" font-size="17.8" font-weight="bold" text-anchor="middle">PR-1</text>
<text x="928.4" y="1167.2" font-size="17.8" font-weight="bold" textLength="112.8" lengthAdjust="spacingAndGlyphs">PDX models</text>
<text font-size="17.8" font-weight="bold" text-anchor="middle" textLength="194.7" lengthAdjust="spacingAndGlyphs" transform="translate(816.4 871.5) rotate(-90)">Number of Mutations</text>
<text x="1104.3" y="798.5" font-size="18.4">Type</text>
<rect x="1104.3" y="809.7" width="20.8" height="20.5" fill="#0aa087"/>
<text x="1134.4" y="825.6" font-size="15.4" textLength="126.5" lengthAdjust="spacingAndGlyphs">missense_variant</text>
<rect x="1104.3" y="831.8" width="20.8" height="20.5" fill="#8050a0"/>
<text x="1134.4" y="847.7" font-size="15.4" textLength="128.5" lengthAdjust="spacingAndGlyphs">frameshift_variant</text>
<rect x="1104.3" y="853.9" width="20.8" height="20.5" fill="#f29b80"/>
<text x="1134.4" y="869.8" font-size="15.4" textLength="124.5" lengthAdjust="spacingAndGlyphs">inframe_insertion</text>
<rect x="1104.3" y="876.1" width="20.8" height="20.5" fill="#4dbbd5"/>
<text x="1134.4" y="892" font-size="15.4" textLength="119.5" lengthAdjust="spacingAndGlyphs">inframe_deletion</text>
<rect x="1104.3" y="898.2" width="20.8" height="20.5" fill="#ec3b8c"/>
<text x="1134.4" y="914.1" font-size="15.4" textLength="88.5" lengthAdjust="spacingAndGlyphs">stop_gained</text>
<rect x="1104.3" y="920.3" width="20.8" height="20.5" fill="#f58b1f"/>
<text x="1134.4" y="936.2" font-size="15.4" textLength="216" lengthAdjust="spacingAndGlyphs">splice_donor/acceptor_variant</text>
<rect x="1104.3" y="942.4" width="20.8" height="20.5" fill="#3c5488"/>
<text x="1134.4" y="958.3" font-size="15.4" textLength="65.5" lengthAdjust="spacingAndGlyphs">stop_lost</text>
<rect x="1104.3" y="964.5" width="20.8" height="20.5" fill="#efdc82"/>
<text x="1134.4" y="980.4" font-size="15.4" textLength="66.5" lengthAdjust="spacingAndGlyphs">start_lost</text>
<ellipse cx="1707.8" cy="898.8" rx="198.7" ry="113.5" transform="rotate(-45 1707.8 898.8)" fill="#89cdf1" fill-opacity=".5"/>
<ellipse cx="1537.4" cy="898.8" rx="198.7" ry="113.5" transform="rotate(45 1537.4 898.8)" fill="#1db4bc" fill-opacity=".5"/>
<ellipse cx="1622.6" cy="842" rx="198.7" ry="85.1" transform="rotate(-45 1622.6 842)" fill="#bf69b1" fill-opacity=".5"/>
<ellipse cx="1622.6" cy="842" rx="198.7" ry="85.1" transform="rotate(45 1622.6 842)" fill="#f9afbd" fill-opacity=".5"/>
<ellipse cx="1707.8" cy="898.8" rx="198.7" ry="113.5" transform="rotate(-45 1707.8 898.8)" fill="none" stroke="#1a1a1a" stroke-width="1.2"/>
<ellipse cx="1537.4" cy="898.8" rx="198.7" ry="113.5" transform="rotate(45 1537.4 898.8)" fill="none" stroke="#1a1a1a" stroke-width="1.2"/>
<ellipse cx="1622.6" cy="842" rx="198.7" ry="85.1" transform="rotate(-45 1622.6 842)" fill="none" stroke="#1a1a1a" stroke-width="1.2"/>
<ellipse cx="1622.6" cy="842" rx="198.7" ry="85.1" transform="rotate(45 1622.6 842)" fill="none" stroke="#1a1a1a" stroke-width="1.2"/>
<text x="1466.3" y="676.3" font-size="24.6" textLength="56" lengthAdjust="spacingAndGlyphs">PR-3</text>
<text x="1718.6" y="678" font-size="24.6" textLength="56" lengthAdjust="spacingAndGlyphs">PR-4</text>
<text x="1375.2" y="732.2" font-size="24.6" textLength="56" lengthAdjust="spacingAndGlyphs">PR-2</text>
<text x="1814.2" y="732.2" font-size="24.6" textLength="56" lengthAdjust="spacingAndGlyphs">PR-1</text>
<text x="1538.4" y="740.1" font-size="28.5" text-anchor="middle" fill="#111" class="sf">163</text>
<text x="1708.2" y="740.1" font-size="28.5" text-anchor="middle" fill="#111" class="sf">112</text>
<text x="1441.5" y="847.8" font-size="28.5" text-anchor="middle" fill="#111" class="sf">222</text>
<text x="1804.5" y="847.8" font-size="28.5" text-anchor="middle" fill="#111" class="sf">103</text>
<text x="1516" y="796.3" font-size="28.5" text-anchor="middle" fill="#111" class="sf">0</text>
<text x="1622.6" y="785" font-size="28.5" text-anchor="middle" fill="#111" class="sf">0</text>
<text x="1730.3" y="796.3" font-size="28.5" text-anchor="middle" fill="#111" class="sf">0</text>
<text x="1566.4" y="847.1" font-size="28.5" text-anchor="middle" fill="#111" class="sf">0</text>
<text x="1679.6" y="847.1" font-size="28.5" text-anchor="middle" fill="#111" class="sf">0</text>
<text x="1622.6" y="909.2" font-size="28.5" text-anchor="middle" fill="#111" class="sf">0</text>
<text x="1520.8" y="937.5" font-size="28.5" text-anchor="middle" fill="#111" class="sf">1</text>
<text x="1724.4" y="937.5" font-size="28.5" text-anchor="middle" fill="#111" class="sf">0</text>
<text x="1580.2" y="960.9" font-size="28.5" text-anchor="middle" fill="#111" class="sf">0</text>
<text x="1665.8" y="960.9" font-size="28.5" text-anchor="middle" fill="#111" class="sf">0</text>
<text x="1622.6" y="1017.2" font-size="28.5" text-anchor="middle" fill="#111" class="sf">0</text></g>
<g id="panel-h"><text x="-4.4" y="1242.6" font-size="60.5" font-weight="bold">H</text>
<g shape-rendering="crispEdges" transform="translate(0 1334.3) scale(1 1.3897)">
<path d="M129.6 0v2M129.6 17v1M129.6 42v1M129.6 47v1M129.6 50v1M129.6 57v2M129.6 60v4M129.6 65v1M129.6 67v1M129.6 71v1M129.6 75v3M129.6 83v1M129.6 85v1M129.6 111v1M147.9 42v1M147.9 45v1M147.9 58v1M147.9 61v1M147.9 65v1M147.9 67v1M147.9 71v2M147.9 75v1M147.9 110v1M166.2 42v1M166.2 60v1M166.2 65v1M166.2 67v1M166.2 71v1M166.2 76v1M166.2 88v1M184.6 0v1M184.6 17v1M184.6 40v1M184.6 42v1M184.6 45v1M184.6 50v1M184.6 54v1M184.6 58v1M184.6 61v2M184.6 65v1M184.6 71v1M184.6 75v3M184.6 84v1M184.6 86v1M202.9 0v1M202.9 50v1M202.9 61v1M202.9 65v1M202.9 76v1M202.9 84v1M221.2 0v1M221.2 16v1M221.2 40v1M221.2 42v1M221.2 47v1M221.2 50v1M221.2 54v1M221.2 58v1M221.2 61v3M221.2 65v1M221.2 67v1M221.2 75v2M221.2 111v1M221.2 120v1M239.5 105v1M239.5 138v1M239.5 140v1M239.5 145v1M239.5 156v1M257.7 129v1M257.7 138v1M257.7 140v1M257.7 142v1M257.7 145v1M257.7 156v1M257.7 163v1M275.9 129v2M275.9 138v1M275.9 140v1M275.9 145v1M275.9 156v1M275.9 294v1M275.9 297v1M294.2 138v1M294.2 140v1M294.2 156v1M294.2 294v1M312.4 105v1M312.4 129v1M312.4 137v2M312.4 140v1M312.4 145v1M312.4 156v1M312.4 162v1M312.4 294v1M312.4 297v1M330.6 129v1M330.6 138v1M330.6 140v1M330.6 145v1M330.6 150v1M330.6 294v1M330.6 297v1M366.6 207v1M366.6 211v2M366.6 215v1M366.6 217v1M366.6 252v1M384.4 215v1M384.4 217v1M402.4 209v1M402.4 213v1M420.2 211v2M438.2 209v1M438.2 211v1M438.2 215v1M438.2 217v1M438.2 220v1M438.2 225v1M456.3 171v1M456.3 186v1M456.3 189v1M456.3 191v1M456.3 196v1M456.3 198v1M474.8 174v1M474.8 186v1M474.8 189v1M493.2 171v2M493.2 186v1M493.2 191v1M493.2 198v1M511.7 172v1M511.7 186v1M511.7 191v1M530.1 171v1M530.1 186v1M548.6 171v1M548.6 186v1" stroke="#4057af" stroke-width="18.5" fill="none"/>
<path d="M129.6 4v1M129.6 16v1M129.6 26v1M129.6 43v1M129.6 49v1M129.6 52v1M129.6 54v2M129.6 66v1M129.6 68v1M129.6 70v1M129.6 80v1M129.6 84v1M129.6 86v1M129.6 88v1M129.6 90v1M129.6 97v1M129.6 100v2M129.6 106v1M129.6 110v1M129.6 120v1M129.6 128v1M147.9 0v1M147.9 9v1M147.9 17v1M147.9 40v1M147.9 54v1M147.9 62v1M147.9 76v1M147.9 79v1M147.9 83v4M147.9 88v1M147.9 90v1M147.9 120v1M147.9 126v1M166.2 40v1M166.2 43v1M166.2 50v1M166.2 54v1M166.2 58v1M166.2 61v1M166.2 77v1M166.2 80v1M166.2 94v1M166.2 99v1M166.2 111v1M166.2 117v1M166.2 120v1M184.6 3v1M184.6 9v1M184.6 15v1M184.6 47v1M184.6 55v3M184.6 60v1M184.6 67v1M184.6 80v1M184.6 83v1M184.6 95v1M184.6 120v1M184.6 123v1M202.9 17v1M202.9 33v1M202.9 43v1M202.9 45v1M202.9 57v2M202.9 63v1M202.9 70v2M202.9 77v1M202.9 83v1M202.9 106v1M221.2 1v1M221.2 37v1M221.2 45v1M221.2 55v3M221.2 66v1M221.2 70v2M221.2 77v1M221.2 82v1M221.2 84v1M221.2 86v1M221.2 88v1M221.2 134v1M239.5 129v1M239.5 131v1M239.5 134v1M239.5 142v1M239.5 147v1M239.5 159v1M239.5 162v1M239.5 294v1M257.7 105v1M257.7 131v1M257.7 137v1M257.7 150v1M257.7 159v1M257.7 278v1M257.7 294v1M275.9 131v1M275.9 137v1M275.9 139v1M275.9 142v1M275.9 146v2M275.9 150v4M275.9 160v1M275.9 162v2M275.9 278v1M275.9 283v1M275.9 296v1M312.4 141v2M312.4 144v1M312.4 150v2M312.4 281v1M312.4 289v1M330.6 130v2M330.6 134v1M330.6 142v1M330.6 147v1M330.6 158v1M330.6 160v1M330.6 163v1M348.6 211v2M366.6 203v1M366.6 209v2M366.6 223v1M366.6 225v1M366.6 257v1M366.6 271v1M384.4 212v1M384.4 225v1M402.4 203v1M402.4 211v2M402.4 215v1M402.4 217v2M402.4 220v1M402.4 225v1M402.4 252v1M420.2 186v1M420.2 203v1M420.2 209v1M420.2 215v1M420.2 225v1M420.2 271v1M438.2 203v1M438.2 213v2M438.2 218v1M456.3 172v2M456.3 178v3M474.8 171v2M474.8 176v1M493.2 174v1M493.2 180v1M493.2 200v1M511.7 170v2M511.7 173v1M511.7 187v1M511.7 189v1M511.7 198v1M511.7 200v2M530.1 174v1M530.1 189v1M530.1 191v1M530.1 196v1M530.1 198v1M530.1 200v1M548.6 182v1M548.6 189v1M548.6 191v1M548.6 198v1" stroke="#4057af" stroke-width="18.5" fill="none"/>
<path d="M129.6 3v1M129.6 5v2M129.6 11v1M129.6 14v2M129.6 19v1M129.6 25v1M129.6 31v1M129.6 40v1M129.6 44v2M129.6 51v1M129.6 69v1M129.6 78v1M129.6 82v1M129.6 87v1M129.6 94v1M129.6 99v1M129.6 114v1M129.6 123v2M129.6 131v1M147.9 1v1M147.9 3v1M147.9 5v1M147.9 15v2M147.9 19v1M147.9 26v1M147.9 49v2M147.9 55v3M147.9 60v1M147.9 70v1M147.9 77v1M147.9 95v1M147.9 99v1M147.9 101v1M147.9 117v1M147.9 123v1M166.2 0v2M166.2 17v1M166.2 33v1M166.2 45v1M166.2 47v1M166.2 56v2M166.2 62v2M166.2 66v1M166.2 75v1M166.2 79v1M166.2 84v1M166.2 86v1M166.2 90v1M166.2 101v1M166.2 106v1M166.2 126v1M184.6 1v1M184.6 5v3M184.6 16v1M184.6 23v1M184.6 26v1M184.6 28v1M184.6 33v1M184.6 43v1M184.6 51v1M184.6 63v1M184.6 70v1M184.6 72v2M184.6 79v1M184.6 85v1M184.6 88v1M184.6 90v1M184.6 92v1M184.6 97v1M184.6 99v3M184.6 105v1M184.6 110v2M184.6 117v1M184.6 124v2M184.6 127v1M184.6 134v1M202.9 5v1M202.9 16v1M202.9 26v1M202.9 38v1M202.9 40v1M202.9 42v1M202.9 47v1M202.9 54v2M202.9 62v1M202.9 66v2M202.9 75v1M202.9 79v1M202.9 86v1M202.9 88v1M202.9 90v1M202.9 94v1M202.9 120v1M202.9 126v1M221.2 5v2M221.2 9v1M221.2 11v1M221.2 15v1M221.2 19v1M221.2 44v1M221.2 51v2M221.2 59v2M221.2 73v1M221.2 79v2M221.2 83v1M221.2 85v1M221.2 90v1M221.2 94v1M221.2 99v3M221.2 106v1M221.2 110v1M221.2 114v1M221.2 126v1M239.5 130v1M239.5 137v1M239.5 141v1M239.5 144v1M239.5 150v1M239.5 158v1M239.5 160v1M239.5 163v1M239.5 283v1M239.5 292v1M239.5 297v1M257.7 130v1M257.7 134v1M257.7 139v1M257.7 147v1M257.7 151v4M257.7 158v1M257.7 280v2M257.7 289v2M257.7 297v1M275.9 23v1M275.9 36v1M275.9 105v1M275.9 133v2M275.9 141v1M275.9 144v1M275.9 157v2M275.9 161v1M275.9 274v1M275.9 281v1M294.2 129v2M294.2 141v1M294.2 145v1M294.2 152v1M294.2 155v1M294.2 157v1M294.2 281v1M294.2 297v1M312.4 139v1M312.4 147v1M312.4 152v2M312.4 158v1M312.4 160v1M312.4 268v1M312.4 280v1M312.4 290v1M312.4 299v1M330.6 137v1M330.6 152v2M330.6 155v3M330.6 162v1M330.6 274v1M330.6 280v1M348.6 209v1M348.6 214v2M348.6 217v1M348.6 220v1M348.6 223v1M348.6 225v1M348.6 252v1M348.6 258v1M366.6 165v1M366.6 172v1M366.6 186v1M366.6 208v1M366.6 213v1M366.6 216v1M366.6 220v1M366.6 222v1M384.4 208v2M384.4 211v1M384.4 218v1M384.4 220v2M384.4 265v1M402.4 201v1M402.4 208v1M402.4 210v1M402.4 257v1M402.4 259v2M420.2 207v1M420.2 217v1M420.2 221v1M420.2 252v1M420.2 258v1M420.2 269v1M438.2 186v1M438.2 204v4M438.2 210v1M438.2 212v1M438.2 219v1M438.2 222v1M438.2 252v2M438.2 257v2M438.2 262v1M438.2 271v1M456.3 174v1M456.3 183v1M456.3 194v1M474.8 173v1M474.8 182v1M474.8 187v1M474.8 191v1M474.8 196v1M474.8 198v1M493.2 164v1M493.2 168v1M493.2 179v1M493.2 196v1M511.7 168v2M511.7 174v1M511.7 178v3M530.1 67v1M530.1 168v2M530.1 173v1M530.1 180v2M530.1 201v1M548.6 165v1M548.6 169v1M548.6 172v1M548.6 179v3M548.6 196v1M548.6 200v1" stroke="#465cb1" stroke-width="18.5" fill="none"/>
<path d="M129.6 7v3M129.6 18v1M129.6 23v2M129.6 30v1M129.6 33v3M129.6 38v1M129.6 48v1M129.6 56v1M129.6 59v1M129.6 64v1M129.6 72v2M129.6 79v1M129.6 89v1M129.6 93v1M129.6 95v1M129.6 103v3M129.6 113v1M129.6 117v1M129.6 121v2M129.6 125v3M129.6 141v1M129.6 147v1M129.6 149v1M147.9 6v3M147.9 11v1M147.9 14v1M147.9 25v1M147.9 33v1M147.9 37v2M147.9 43v1M147.9 47v1M147.9 51v1M147.9 59v1M147.9 63v2M147.9 66v1M147.9 73v1M147.9 82v1M147.9 94v1M147.9 100v1M147.9 106v1M147.9 111v1M147.9 116v1M147.9 121v1M147.9 141v1M166.2 2v1M166.2 5v2M166.2 9v1M166.2 11v1M166.2 16v1M166.2 23v1M166.2 26v1M166.2 31v1M166.2 37v2M166.2 44v1M166.2 49v1M166.2 52v2M166.2 55v1M166.2 59v1M166.2 68v1M166.2 70v1M166.2 72v1M166.2 78v1M166.2 83v1M166.2 85v1M166.2 89v1M166.2 100v1M166.2 105v1M166.2 110v1M166.2 113v2M166.2 123v1M166.2 128v1M184.6 2v1M184.6 4v1M184.6 8v1M184.6 11v1M184.6 14v1M184.6 19v1M184.6 24v2M184.6 30v2M184.6 38v2M184.6 46v1M184.6 48v1M184.6 52v2M184.6 59v1M184.6 66v1M184.6 68v1M184.6 82v1M184.6 93v2M184.6 104v1M184.6 106v1M184.6 112v2M184.6 115v1M184.6 121v1M184.6 131v1M202.9 1v1M202.9 3v1M202.9 11v1M202.9 14v2M202.9 19v1M202.9 23v1M202.9 44v1M202.9 49v1M202.9 51v3M202.9 56v1M202.9 60v1M202.9 85v1M202.9 89v1M202.9 97v1M202.9 99v1M202.9 101v1M202.9 110v4M202.9 117v1M202.9 124v1M202.9 128v1M202.9 131v1M202.9 142v1M221.2 7v2M221.2 14v1M221.2 17v1M221.2 20v1M221.2 23v1M221.2 26v1M221.2 31v1M221.2 33v1M221.2 39v1M221.2 48v1M221.2 68v2M221.2 72v1M221.2 87v1M221.2 95v1M221.2 98v1M221.2 103v1M221.2 115v3M221.2 123v1M221.2 129v1M221.2 131v1M239.5 18v1M239.5 29v1M239.5 120v1M239.5 133v1M239.5 135v1M239.5 139v1M239.5 143v1M239.5 146v1M239.5 151v5M239.5 157v1M239.5 236v1M239.5 268v1M239.5 274v1M239.5 278v1M239.5 285v1M239.5 289v1M239.5 293v1M239.5 295v2M257.7 128v1M257.7 136v1M257.7 141v1M257.7 148v1M257.7 157v1M257.7 160v1M257.7 236v1M257.7 266v1M257.7 274v1M257.7 277v1M257.7 292v2M257.7 299v1M275.9 155v1M275.9 159v1M275.9 237v1M275.9 271v1M275.9 277v1M275.9 280v1M275.9 289v2M275.9 292v2M275.9 295v1M275.9 299v1M294.2 29v1M294.2 105v1M294.2 131v4M294.2 142v1M294.2 144v1M294.2 150v2M294.2 153v1M294.2 158v1M294.2 162v2M294.2 293v1M294.2 296v1M312.4 20v1M312.4 98v1M312.4 130v3M312.4 136v1M312.4 148v1M312.4 155v1M312.4 157v1M312.4 159v1M312.4 161v1M312.4 163v1M312.4 236v1M312.4 269v1M312.4 271v1M312.4 274v1M312.4 283v1M312.4 293v1M312.4 296v1M330.6 105v1M330.6 144v1M330.6 148v1M330.6 151v1M330.6 159v1M330.6 161v1M330.6 271v1M330.6 277v2M330.6 289v1M330.6 296v1M330.6 299v1M348.6 201v1M348.6 207v1M348.6 210v1M348.6 213v1M348.6 218v1M348.6 229v1M348.6 236v1M348.6 253v1M348.6 257v1M348.6 259v1M366.6 164v1M366.6 166v1M366.6 170v1M366.6 177v1M366.6 195v1M366.6 197v1M366.6 202v1M366.6 204v1M366.6 206v1M366.6 214v1M366.6 221v1M366.6 228v1M366.6 242v1M366.6 245v1M366.6 247v1M366.6 255v1M366.6 258v4M366.6 264v1M366.6 266v1M366.6 268v2M384.4 203v1M384.4 207v1M384.4 210v1M384.4 213v1M384.4 222v1M384.4 252v1M384.4 256v1M384.4 258v1M384.4 269v1M384.4 271v1M402.4 165v1M402.4 179v1M402.4 186v1M402.4 206v2M402.4 221v1M402.4 228v1M402.4 249v1M402.4 258v1M402.4 262v2M402.4 265v1M402.4 271v1M420.2 188v1M420.2 191v1M420.2 206v1M420.2 208v1M420.2 213v2M420.2 218v1M420.2 220v1M420.2 223v1M420.2 257v1M420.2 259v1M420.2 268v1M438.2 188v1M438.2 216v1M438.2 221v1M438.2 223v1M438.2 240v1M438.2 246v1M438.2 251v1M438.2 254v1M438.2 259v1M438.2 265v1M438.2 269v1M456.3 5v1M456.3 164v2M456.3 168v3M456.3 175v3M456.3 182v1M456.3 184v1M456.3 187v1M456.3 193v1M456.3 197v1M456.3 218v1M456.3 273v1M456.3 277v1M474.8 168v2M474.8 177v1M474.8 183v1M474.8 197v1M474.8 199v2M493.2 178v1M493.2 181v1M493.2 183v1M493.2 187v1M493.2 189v1M493.2 197v1M493.2 201v1M493.2 280v1M511.7 176v1M511.7 194v1M511.7 196v1M530.1 28v1M530.1 164v2M530.1 172v1M530.1 176v1M530.1 178v2M530.1 185v1M530.1 190v1M530.1 193v1M530.1 197v1M548.6 164v1M548.6 167v1M548.6 173v2M548.6 176v3M548.6 183v1M548.6 192v1M548.6 201v1" stroke="#6275bd" stroke-width="18.5" fill="none"/>
<path d="M129.6 13v1M129.6 21v2M129.6 28v1M129.6 37v1M129.6 39v1M129.6 41v1M129.6 46v1M129.6 53v1M129.6 74v1M129.6 81v1M129.6 92v1M129.6 96v1M129.6 98v1M129.6 107v1M129.6 112v1M129.6 116v1M129.6 118v2M129.6 129v1M129.6 134v1M129.6 136v1M147.9 13v1M147.9 18v1M147.9 23v1M147.9 27v1M147.9 31v1M147.9 35v1M147.9 44v1M147.9 48v1M147.9 52v2M147.9 68v2M147.9 74v1M147.9 78v1M147.9 80v1M147.9 87v1M147.9 89v1M147.9 91v1M147.9 93v1M147.9 96v2M147.9 103v1M147.9 105v1M147.9 114v2M147.9 119v1M147.9 124v2M147.9 128v2M147.9 131v1M147.9 133v2M147.9 140v1M166.2 3v1M166.2 7v2M166.2 13v2M166.2 19v1M166.2 24v2M166.2 34v2M166.2 48v1M166.2 64v1M166.2 69v1M166.2 73v1M166.2 82v1M166.2 87v1M166.2 93v1M166.2 95v1M166.2 98v1M166.2 112v1M166.2 116v1M166.2 118v1M166.2 121v1M166.2 127v1M166.2 129v1M166.2 131v1M166.2 134v1M166.2 136v1M184.6 13v1M184.6 18v1M184.6 20v1M184.6 22v1M184.6 29v1M184.6 34v2M184.6 37v1M184.6 44v1M184.6 49v1M184.6 64v1M184.6 69v1M184.6 74v1M184.6 87v1M184.6 89v1M184.6 91v1M184.6 102v2M184.6 107v1M184.6 116v1M184.6 122v1M184.6 126v1M184.6 128v1M184.6 136v1M202.9 2v1M202.9 8v2M202.9 20v1M202.9 31v1M202.9 37v1M202.9 48v1M202.9 59v1M202.9 64v1M202.9 69v1M202.9 73v1M202.9 80v1M202.9 87v1M202.9 100v1M202.9 102v1M202.9 104v2M202.9 119v1M202.9 122v2M202.9 127v1M221.2 2v2M221.2 10v1M221.2 13v1M221.2 18v1M221.2 24v1M221.2 28v3M221.2 38v1M221.2 43v1M221.2 49v1M221.2 53v1M221.2 64v1M221.2 78v1M221.2 89v1M221.2 91v2M221.2 97v1M221.2 107v1M221.2 112v2M221.2 122v1M221.2 127v2M221.2 135v1M221.2 138v1M221.2 141v1M221.2 146v1M239.5 20v1M239.5 23v2M239.5 33v2M239.5 87v1M239.5 110v1M239.5 128v1M239.5 132v1M239.5 136v1M239.5 243v1M239.5 262v1M239.5 266v1M239.5 269v4M239.5 276v2M239.5 281v1M239.5 290v1M239.5 298v2M257.7 18v1M257.7 20v1M257.7 34v1M257.7 39v1M257.7 87v1M257.7 97v1M257.7 110v1M257.7 121v1M257.7 126v1M257.7 132v2M257.7 144v1M257.7 146v1M257.7 155v1M257.7 161v2M257.7 245v1M257.7 256v1M257.7 283v1M257.7 296v1M275.9 0v1M275.9 18v1M275.9 31v1M275.9 33v1M275.9 86v1M275.9 88v1M275.9 103v1M275.9 116v1M275.9 118v1M275.9 126v1M275.9 128v1M275.9 132v1M275.9 135v2M275.9 236v1M275.9 266v1M275.9 269v1M275.9 279v1M275.9 288v1M275.9 298v1M294.2 20v1M294.2 128v1M294.2 137v1M294.2 139v1M294.2 147v1M294.2 159v2M294.2 236v1M294.2 274v1M294.2 278v1M294.2 283v1M294.2 289v2M294.2 295v1M294.2 299v1M312.4 29v1M312.4 33v1M312.4 94v1M312.4 97v1M312.4 102v1M312.4 120v1M312.4 126v1M312.4 133v2M312.4 143v1M312.4 146v1M312.4 154v1M312.4 249v2M312.4 252v1M312.4 256v1M312.4 259v1M312.4 266v1M312.4 272v1M312.4 276v1M312.4 278v1M312.4 285v2M312.4 291v2M312.4 295v1M312.4 298v1M330.6 23v1M330.6 29v1M330.6 36v1M330.6 102v1M330.6 133v1M330.6 136v1M330.6 139v1M330.6 154v1M330.6 250v1M330.6 266v1M330.6 269v2M330.6 273v1M330.6 275v1M330.6 281v1M330.6 283v1M330.6 292v2M330.6 295v1M330.6 298v1M348.6 164v2M348.6 181v1M348.6 186v1M348.6 196v3M348.6 204v2M348.6 208v1M348.6 219v1M348.6 221v2M348.6 232v1M348.6 246v1M348.6 262v2M348.6 265v1M348.6 268v1M348.6 271v1M366.6 169v1M366.6 179v1M366.6 181v1M366.6 187v1M366.6 191v3M366.6 196v1M366.6 198v1M366.6 205v1M366.6 218v2M366.6 226v1M366.6 230v1M366.6 236v2M366.6 239v2M366.6 246v1M366.6 251v1M366.6 253v1M366.6 262v2M366.6 265v1M384.4 170v1M384.4 186v1M384.4 192v1M384.4 197v1M384.4 201v1M384.4 204v1M384.4 206v1M384.4 214v1M384.4 255v1M384.4 257v1M384.4 261v2M384.4 268v1M402.4 172v1M402.4 174v1M402.4 188v1M402.4 191v1M402.4 196v1M402.4 198v1M402.4 205v1M402.4 214v1M402.4 216v1M402.4 219v1M402.4 222v2M402.4 232v1M402.4 236v1M402.4 242v1M402.4 248v1M402.4 253v1M402.4 255v2M402.4 261v1M402.4 266v1M402.4 268v2M420.2 165v2M420.2 172v1M420.2 177v1M420.2 179v1M420.2 192v2M420.2 195v1M420.2 197v2M420.2 201v1M420.2 204v2M420.2 210v1M420.2 216v1M420.2 222v1M420.2 224v1M420.2 230v1M420.2 236v1M420.2 246v1M420.2 253v1M420.2 256v1M420.2 260v1M420.2 262v2M438.2 166v1M438.2 170v1M438.2 177v1M438.2 179v1M438.2 191v2M438.2 196v1M438.2 198v1M438.2 200v2M438.2 208v1M438.2 230v1M438.2 236v1M438.2 241v2M438.2 245v1M438.2 248v2M438.2 255v2M438.2 263v1M456.3 28v1M456.3 67v1M456.3 73v1M456.3 181v1M456.3 192v1M456.3 195v1M456.3 199v4M456.3 212v1M456.3 238v1M456.3 249v1M456.3 278v2M456.3 282v1M474.8 67v1M474.8 167v1M474.8 178v4M474.8 194v1M493.2 2v1M493.2 8v1M493.2 67v1M493.2 166v2M493.2 169v2M493.2 173v1M493.2 177v1M493.2 182v1M493.2 190v1M493.2 194v1M493.2 209v1M493.2 247v1M493.2 286v1M511.7 0v1M511.7 67v1M511.7 69v1M511.7 73v1M511.7 165v1M511.7 167v1M511.7 175v1M511.7 177v1M511.7 181v4M511.7 192v1M511.7 199v1M511.7 218v1M511.7 228v1M511.7 278v3M530.1 166v2M530.1 170v1M530.1 177v1M530.1 182v2M530.1 187v1M530.1 194v2M530.1 209v1M530.1 272v1M548.6 67v1M548.6 168v1M548.6 170v1M548.6 175v1M548.6 188v1M548.6 193v3M548.6 209v1" stroke="#7e8ec9" stroke-width="18.5" fill="none"/>
<path d="M129.6 2v1M129.6 10v1M129.6 12v1M129.6 20v1M129.6 27v1M129.6 29v1M129.6 36v1M129.6 91v1M129.6 115v1M129.6 130v1M129.6 138v3M129.6 143v2M129.6 146v1M129.6 151v1M129.6 154v1M129.6 156v1M129.6 158v1M147.9 2v1M147.9 4v1M147.9 12v1M147.9 24v1M147.9 28v1M147.9 30v1M147.9 36v1M147.9 39v1M147.9 92v1M147.9 98v1M147.9 104v1M147.9 113v1M147.9 118v1M147.9 127v1M147.9 135v2M147.9 138v1M147.9 142v1M147.9 144v1M147.9 146v1M147.9 149v1M147.9 152v1M166.2 4v1M166.2 10v1M166.2 15v1M166.2 20v1M166.2 28v3M166.2 39v1M166.2 92v1M166.2 96v2M166.2 102v1M166.2 104v1M166.2 107v1M166.2 122v1M166.2 124v2M166.2 141v1M184.6 10v1M184.6 12v1M184.6 41v1M184.6 81v1M184.6 96v1M184.6 98v1M184.6 109v1M184.6 114v1M184.6 118v2M184.6 129v1M184.6 132v1M184.6 135v1M184.6 138v1M184.6 140v3M184.6 146v2M184.6 149v1M184.6 151v1M184.6 157v1M202.9 4v1M202.9 6v2M202.9 21v1M202.9 25v1M202.9 28v1M202.9 30v1M202.9 36v1M202.9 41v1M202.9 68v1M202.9 72v1M202.9 78v1M202.9 82v1M202.9 95v2M202.9 107v1M202.9 114v1M202.9 116v1M202.9 118v1M202.9 121v1M202.9 125v1M202.9 134v1M202.9 136v1M202.9 146v1M221.2 4v1M221.2 12v1M221.2 22v1M221.2 25v1M221.2 34v3M221.2 74v1M221.2 96v1M221.2 102v1M221.2 104v2M221.2 119v1M221.2 121v1M221.2 124v2M221.2 130v1M221.2 133v1M221.2 136v2M221.2 140v1M221.2 143v1M221.2 147v1M221.2 149v1M221.2 158v1M239.5 25v1M239.5 86v1M239.5 90v1M239.5 95v3M239.5 119v1M239.5 123v1M239.5 126v1M239.5 148v1M239.5 161v1M239.5 238v1M239.5 245v3M239.5 249v2M239.5 252v1M239.5 254v1M239.5 258v1M239.5 265v1M239.5 280v1M239.5 284v1M239.5 286v1M239.5 288v1M257.7 22v1M257.7 25v1M257.7 29v1M257.7 31v1M257.7 33v1M257.7 36v1M257.7 86v1M257.7 90v1M257.7 98v1M257.7 101v2M257.7 116v2M257.7 119v2M257.7 124v1M257.7 135v1M257.7 143v1M257.7 247v1M257.7 254v1M257.7 265v1M257.7 267v2M257.7 271v3M257.7 276v1M257.7 285v2M257.7 288v1M257.7 291v1M257.7 295v1M257.7 298v1M275.9 20v1M275.9 29v1M275.9 34v2M275.9 87v1M275.9 89v2M275.9 94v4M275.9 101v1M275.9 107v1M275.9 110v1M275.9 117v1M275.9 119v1M275.9 122v1M275.9 143v1M275.9 148v1M275.9 154v1M275.9 246v2M275.9 250v1M275.9 252v1M275.9 256v1M275.9 259v1M275.9 262v1M275.9 268v1M275.9 270v1M275.9 272v1M275.9 282v1M294.2 18v1M294.2 23v1M294.2 31v1M294.2 98v2M294.2 126v1M294.2 136v1M294.2 146v1M294.2 148v1M294.2 154v1M294.2 161v1M294.2 250v1M294.2 256v1M294.2 266v1M294.2 268v1M294.2 280v1M294.2 288v1M294.2 292v1M312.4 18v1M312.4 22v2M312.4 34v1M312.4 37v1M312.4 39v1M312.4 85v1M312.4 88v1M312.4 91v1M312.4 95v2M312.4 118v2M312.4 121v1M312.4 124v1M312.4 128v1M312.4 135v1M312.4 149v1M312.4 238v1M312.4 247v1M312.4 254v1M312.4 258v1M312.4 260v1M312.4 270v1M312.4 273v1M312.4 277v1M312.4 282v1M312.4 288v1M330.6 18v1M330.6 20v1M330.6 25v1M330.6 31v1M330.6 86v1M330.6 94v2M330.6 98v2M330.6 103v1M330.6 116v1M330.6 120v2M330.6 124v1M330.6 128v1M330.6 132v1M330.6 135v1M330.6 141v1M330.6 143v1M330.6 146v1M330.6 252v1M330.6 262v1M330.6 265v1M330.6 268v1M330.6 272v1M330.6 276v1M330.6 285v1M330.6 288v1M330.6 290v2M348.6 169v1M348.6 172v1M348.6 177v1M348.6 179v1M348.6 188v1M348.6 191v2M348.6 195v1M348.6 203v1M348.6 206v1M348.6 216v1M348.6 224v1M348.6 226v1M348.6 228v1M348.6 233v1M348.6 237v1M348.6 242v1M348.6 245v1M348.6 249v1M348.6 255v1M348.6 264v1M348.6 269v1M366.6 171v1M366.6 173v1M366.6 178v1M366.6 188v3M366.6 194v1M366.6 199v3M366.6 224v1M366.6 229v1M366.6 232v2M366.6 235v1M366.6 238v1M366.6 241v1M366.6 248v3M366.6 254v1M366.6 256v1M366.6 270v1M384.4 165v1M384.4 177v1M384.4 179v1M384.4 188v1M384.4 195v2M384.4 198v1M384.4 200v1M384.4 205v1M384.4 216v1M384.4 219v1M384.4 223v1M384.4 226v1M384.4 229v1M384.4 232v1M384.4 236v1M384.4 242v1M384.4 248v1M384.4 253v1M384.4 259v2M384.4 263v1M384.4 266v1M402.4 169v2M402.4 173v1M402.4 177v1M402.4 192v1M402.4 200v1M402.4 202v1M402.4 224v1M402.4 226v1M402.4 230v1M402.4 233v1M402.4 237v1M402.4 241v1M402.4 245v2M402.4 250v1M402.4 264v1M420.2 164v1M420.2 181v1M420.2 199v2M420.2 202v1M420.2 226v1M420.2 228v1M420.2 231v1M420.2 233v1M420.2 237v1M420.2 242v1M420.2 245v1M420.2 248v1M420.2 255v1M420.2 264v2M438.2 164v2M438.2 169v1M438.2 181v1M438.2 187v1M438.2 195v1M438.2 197v1M438.2 199v1M438.2 202v1M438.2 224v1M438.2 226v1M438.2 228v1M438.2 231v3M438.2 238v1M438.2 260v1M438.2 264v1M438.2 266v1M438.2 268v1M438.2 270v1M438.2 289v1M456.3 1v2M456.3 8v1M456.3 12v3M456.3 16v1M456.3 34v1M456.3 65v1M456.3 74v1M456.3 77v1M456.3 166v2M456.3 185v1M456.3 190v1M456.3 205v1M456.3 209v1M456.3 217v1M456.3 234v1M456.3 236v1M456.3 243v1M456.3 245v3M456.3 251v1M456.3 285v2M456.3 289v2M456.3 299v1M474.8 2v1M474.8 5v1M474.8 69v1M474.8 80v1M474.8 164v2M474.8 170v1M474.8 175v1M474.8 185v1M474.8 188v1M474.8 190v1M474.8 192v2M474.8 195v1M474.8 201v2M474.8 227v1M474.8 244v1M474.8 277v2M474.8 280v1M493.2 1v1M493.2 5v2M493.2 28v1M493.2 69v1M493.2 165v1M493.2 175v1M493.2 184v2M493.2 188v1M493.2 192v1M493.2 202v1M493.2 220v1M493.2 229v1M493.2 233v1M493.2 244v2M493.2 272v2M493.2 277v3M493.2 282v1M493.2 299v1M511.7 1v1M511.7 5v1M511.7 7v1M511.7 31v1M511.7 164v1M511.7 166v1M511.7 185v1M511.7 188v1M511.7 190v1M511.7 193v1M511.7 197v1M511.7 202v1M511.7 204v1M511.7 209v1M511.7 215v1M511.7 219v2M511.7 229v1M511.7 236v1M511.7 245v1M511.7 282v1M530.1 5v1M530.1 74v1M530.1 175v1M530.1 192v1M530.1 199v1M530.1 204v1M530.1 211v1M530.1 218v1M530.1 251v1M530.1 273v2M530.1 277v2M530.1 282v1M530.1 286v1M530.1 299v1M548.6 5v1M548.6 28v1M548.6 69v1M548.6 73v2M548.6 79v1M548.6 166v1M548.6 184v2M548.6 187v1M548.6 190v1M548.6 197v1M548.6 199v1M548.6 202v3M548.6 218v2M548.6 247v1M548.6 249v1M548.6 273v1M548.6 285v1M548.6 289v1" stroke="#9ca8d5" stroke-width="18.5" fill="none"/>
<path d="M129.6 102v1M129.6 108v2M129.6 132v1M129.6 135v1M129.6 137v1M129.6 142v1M129.6 145v1M129.6 152v1M129.6 157v1M147.9 10v1M147.9 20v3M147.9 29v1M147.9 34v1M147.9 41v1M147.9 46v1M147.9 81v1M147.9 102v1M147.9 108v1M147.9 112v1M147.9 122v1M147.9 132v1M147.9 143v1M147.9 147v1M147.9 151v1M147.9 154v1M147.9 156v1M147.9 159v1M166.2 12v1M166.2 18v1M166.2 36v1M166.2 41v1M166.2 46v1M166.2 51v1M166.2 81v1M166.2 91v1M166.2 108v2M166.2 115v1M166.2 119v1M166.2 132v1M166.2 135v1M166.2 137v2M166.2 140v1M166.2 145v2M166.2 151v1M166.2 158v1M184.6 21v1M184.6 36v1M184.6 78v1M184.6 130v1M184.6 133v1M184.6 139v1M184.6 143v1M184.6 145v1M184.6 152v1M184.6 154v1M184.6 156v1M184.6 158v1M202.9 10v1M202.9 13v1M202.9 24v1M202.9 29v1M202.9 34v2M202.9 46v1M202.9 74v1M202.9 91v3M202.9 98v1M202.9 103v1M202.9 115v1M202.9 130v1M202.9 132v1M202.9 135v1M202.9 137v2M202.9 143v1M202.9 147v1M202.9 149v1M202.9 151v2M221.2 21v1M221.2 27v1M221.2 41v1M221.2 46v1M221.2 81v1M221.2 93v1M221.2 109v1M221.2 118v1M221.2 139v1M221.2 142v1M221.2 145v1M221.2 148v1M221.2 151v1M221.2 154v1M221.2 160v1M239.5 31v1M239.5 36v2M239.5 39v1M239.5 85v1M239.5 92v2M239.5 98v5M239.5 113v3M239.5 117v2M239.5 121v1M239.5 233v1M239.5 239v1M239.5 256v1M239.5 259v2M239.5 273v1M239.5 275v1M239.5 279v1M239.5 287v1M239.5 291v1M257.7 23v1M257.7 28v1M257.7 85v1M257.7 88v1M257.7 94v2M257.7 99v1M257.7 107v1M257.7 115v1M257.7 118v1M257.7 123v1M257.7 125v1M257.7 228v1M257.7 233v1M257.7 235v1M257.7 239v2M257.7 246v1M257.7 252v1M257.7 258v1M257.7 260v1M257.7 262v2M257.7 269v2M257.7 287v1M275.9 2v1M275.9 21v2M275.9 25v1M275.9 39v1M275.9 85v1M275.9 92v2M275.9 98v2M275.9 102v1M275.9 104v1M275.9 108v2M275.9 115v1M275.9 120v2M275.9 123v2M275.9 127v1M275.9 149v1M275.9 233v1M275.9 238v1M275.9 243v1M275.9 245v1M275.9 249v1M275.9 254v1M275.9 258v1M275.9 260v1M275.9 265v1M275.9 267v1M275.9 273v1M275.9 275v2M275.9 284v4M275.9 291v1M294.2 34v1M294.2 36v2M294.2 39v1M294.2 93v1M294.2 97v1M294.2 102v2M294.2 107v1M294.2 115v1M294.2 121v1M294.2 135v1M294.2 143v1M294.2 261v2M294.2 269v1M294.2 271v2M294.2 276v2M294.2 298v1M312.4 0v1M312.4 24v2M312.4 27v2M312.4 30v3M312.4 35v2M312.4 86v2M312.4 89v2M312.4 99v3M312.4 103v1M312.4 107v1M312.4 109v2M312.4 113v5M312.4 122v2M312.4 125v1M312.4 224v1M312.4 228v1M312.4 235v1M312.4 237v1M312.4 239v2M312.4 242v1M312.4 245v2M312.4 262v1M312.4 265v1M312.4 267v1M312.4 279v1M312.4 284v1M312.4 287v1M330.6 0v1M330.6 24v1M330.6 28v1M330.6 30v1M330.6 33v2M330.6 39v1M330.6 85v1M330.6 87v1M330.6 91v1M330.6 93v1M330.6 97v1M330.6 101v1M330.6 107v1M330.6 110v1M330.6 122v1M330.6 126v1M330.6 149v1M330.6 239v1M330.6 243v1M330.6 245v2M330.6 254v2M330.6 258v1M330.6 267v1M330.6 286v1M348.6 166v2M348.6 170v2M348.6 174v1M348.6 189v2M348.6 194v1M348.6 199v2M348.6 202v1M348.6 235v1M348.6 238v2M348.6 241v1M348.6 243v1M348.6 247v2M348.6 250v2M348.6 256v1M348.6 261v1M348.6 293v1M366.6 51v1M366.6 60v1M366.6 168v1M366.6 176v1M366.6 182v1M366.6 184v1M366.6 231v1M366.6 234v1M366.6 244v1M366.6 267v1M366.6 295v1M384.4 167v1M384.4 169v1M384.4 176v1M384.4 180v2M384.4 187v1M384.4 189v1M384.4 191v1M384.4 193v1M384.4 202v1M384.4 224v1M384.4 233v1M384.4 235v1M384.4 237v1M384.4 240v1M384.4 245v2M384.4 250v2M384.4 264v1M384.4 270v1M402.4 164v1M402.4 171v1M402.4 176v1M402.4 181v1M402.4 187v1M402.4 189v1M402.4 193v3M402.4 197v1M402.4 199v1M402.4 204v1M402.4 229v1M402.4 234v2M402.4 240v1M402.4 243v1M402.4 247v1M402.4 251v1M402.4 254v1M402.4 270v1M402.4 284v1M402.4 293v1M420.2 41v1M420.2 167v1M420.2 173v1M420.2 176v1M420.2 182v1M420.2 196v1M420.2 219v1M420.2 229v1M420.2 232v1M420.2 235v1M420.2 241v1M420.2 249v1M420.2 254v1M420.2 261v1M420.2 266v1M420.2 277v1M420.2 282v1M438.2 167v2M438.2 171v2M438.2 174v3M438.2 180v1M438.2 183v1M438.2 185v1M438.2 189v2M438.2 193v1M438.2 234v1M438.2 237v1M438.2 244v1M438.2 247v1M438.2 250v1M438.2 261v1M438.2 267v1M438.2 277v1M456.3 4v1M456.3 6v1M456.3 17v1M456.3 19v1M456.3 22v1M456.3 24v1M456.3 27v1M456.3 37v1M456.3 46v1M456.3 49v1M456.3 66v1M456.3 69v1M456.3 78v2M456.3 81v2M456.3 188v1M456.3 203v1M456.3 210v1M456.3 214v1M456.3 219v2M456.3 228v5M456.3 240v2M456.3 257v1M456.3 269v1M456.3 272v1M456.3 274v1M456.3 280v1M456.3 292v1M456.3 297v2M474.8 1v1M474.8 3v1M474.8 7v2M474.8 13v1M474.8 20v1M474.8 28v1M474.8 37v1M474.8 66v1M474.8 70v1M474.8 73v1M474.8 166v1M474.8 184v1M474.8 203v1M474.8 205v1M474.8 217v2M474.8 220v1M474.8 225v1M474.8 232v1M474.8 236v1M474.8 241v2M474.8 272v2M474.8 276v1M474.8 279v1M474.8 282v1M474.8 284v3M474.8 289v2M474.8 293v1M474.8 298v1M493.2 0v1M493.2 3v1M493.2 7v1M493.2 11v1M493.2 13v1M493.2 31v1M493.2 34v1M493.2 73v1M493.2 79v1M493.2 176v1M493.2 193v1M493.2 195v1M493.2 199v1M493.2 203v1M493.2 211v1M493.2 218v1M493.2 227v2M493.2 232v1M493.2 235v1M493.2 241v2M493.2 249v1M493.2 251v1M493.2 274v1M511.7 6v1M511.7 11v1M511.7 17v1M511.7 19v1M511.7 24v1M511.7 28v1M511.7 35v2M511.7 44v1M511.7 66v1M511.7 76v1M511.7 203v1M511.7 205v1M511.7 211v1M511.7 227v1M511.7 238v1M511.7 242v1M511.7 244v1M511.7 246v1M511.7 248v1M511.7 251v1M511.7 272v2M511.7 277v1M511.7 284v1M511.7 286v2M511.7 290v1M511.7 293v1M511.7 296v1M511.7 299v1M530.1 6v1M530.1 8v1M530.1 11v1M530.1 65v1M530.1 68v2M530.1 81v1M530.1 188v1M530.1 202v1M530.1 219v2M530.1 223v1M530.1 228v1M530.1 232v1M530.1 238v1M530.1 241v1M530.1 245v3M530.1 285v1M530.1 290v1M530.1 298v1M548.6 7v2M548.6 12v1M548.6 22v1M548.6 44v1M548.6 63v1M548.6 68v1M548.6 75v2M548.6 78v1M548.6 205v1M548.6 215v1M548.6 220v1M548.6 227v1M548.6 232v1M548.6 236v1M548.6 238v1M548.6 244v1M548.6 250v1M548.6 272v1M548.6 277v4M548.6 282v1M548.6 286v1M548.6 290v1M548.6 298v1" stroke="#bac2e2" stroke-width="18.5" fill="none"/>
<path d="M129.6 32v1M129.6 150v1M129.6 153v1M129.6 155v1M129.6 160v2M147.9 32v1M147.9 107v1M147.9 109v1M147.9 130v1M147.9 137v1M147.9 145v1M147.9 150v1M147.9 153v1M147.9 158v1M166.2 22v1M166.2 103v1M166.2 133v1M166.2 139v1M166.2 142v2M166.2 147v1M166.2 149v2M166.2 152v2M166.2 159v1M184.6 27v1M184.6 108v1M184.6 150v1M184.6 160v1M202.9 18v1M202.9 22v1M202.9 39v1M202.9 109v1M202.9 129v1M202.9 140v2M202.9 154v1M202.9 157v2M221.2 32v1M221.2 108v1M221.2 132v1M221.2 150v1M221.2 152v1M221.2 155v3M221.2 159v1M221.2 162v1M221.2 213v1M239.5 0v1M239.5 5v1M239.5 9v1M239.5 13v1M239.5 22v1M239.5 28v1M239.5 35v1M239.5 88v2M239.5 91v1M239.5 107v1M239.5 109v1M239.5 116v1M239.5 122v1M239.5 124v1M239.5 127v1M239.5 149v1M239.5 188v1M239.5 226v1M239.5 228v1M239.5 242v1M239.5 257v1M239.5 261v1M239.5 264v1M239.5 267v1M239.5 282v1M257.7 5v1M257.7 13v1M257.7 17v1M257.7 19v1M257.7 24v1M257.7 26v1M257.7 32v1M257.7 35v1M257.7 37v1M257.7 89v1M257.7 91v1M257.7 93v1M257.7 96v1M257.7 100v1M257.7 103v1M257.7 106v1M257.7 109v1M257.7 113v1M257.7 122v1M257.7 149v1M257.7 216v1M257.7 224v1M257.7 237v2M257.7 241v1M257.7 243v1M257.7 248v1M257.7 251v1M257.7 253v1M257.7 257v1M257.7 259v1M257.7 261v1M257.7 275v1M257.7 279v1M257.7 282v1M257.7 284v1M275.9 5v1M275.9 12v1M275.9 24v1M275.9 28v1M275.9 30v1M275.9 37v2M275.9 100v1M275.9 112v1M275.9 114v1M275.9 125v1M275.9 221v1M275.9 228v1M275.9 235v1M275.9 239v2M275.9 242v1M275.9 244v1M275.9 251v1M275.9 253v1M275.9 255v1M275.9 257v1M275.9 263v1M294.2 21v1M294.2 25v1M294.2 85v1M294.2 87v2M294.2 116v3M294.2 120v1M294.2 122v4M294.2 149v1M294.2 228v1M294.2 244v2M294.2 247v1M294.2 252v1M294.2 254v1M294.2 258v1M294.2 260v1M294.2 270v1M294.2 273v1M294.2 279v1M294.2 284v2M294.2 287v1M294.2 291v1M312.4 14v3M312.4 19v1M312.4 62v1M312.4 92v2M312.4 104v1M312.4 106v1M312.4 108v1M312.4 111v1M312.4 232v1M312.4 241v1M312.4 243v1M312.4 251v1M312.4 261v1M312.4 263v2M312.4 275v1M330.6 12v1M330.6 19v1M330.6 21v2M330.6 35v1M330.6 88v3M330.6 96v1M330.6 100v1M330.6 104v1M330.6 108v1M330.6 114v2M330.6 117v3M330.6 123v1M330.6 125v1M330.6 231v1M330.6 233v1M330.6 236v1M330.6 238v1M330.6 247v2M330.6 259v3M330.6 279v1M330.6 282v1M330.6 287v1M348.6 173v1M348.6 176v1M348.6 182v1M348.6 184v1M348.6 227v1M348.6 230v1M348.6 234v1M348.6 240v1M348.6 254v1M348.6 260v1M348.6 266v1M348.6 272v1M348.6 288v1M348.6 295v1M366.6 47v1M366.6 50v1M366.6 52v1M366.6 57v1M366.6 70v1M366.6 80v1M366.6 102v1M366.6 114v1M366.6 136v1M366.6 174v1M366.6 180v1M366.6 183v1M366.6 227v1M366.6 243v1M366.6 277v1M366.6 279v2M366.6 283v2M366.6 288v2M366.6 291v1M366.6 293v1M366.6 298v2M384.4 56v1M384.4 166v1M384.4 171v2M384.4 174v1M384.4 184v1M384.4 194v1M384.4 199v1M384.4 227v2M384.4 230v2M384.4 238v2M384.4 241v1M384.4 247v1M384.4 249v1M384.4 276v1M384.4 288v1M384.4 293v1M402.4 41v1M402.4 45v1M402.4 53v1M402.4 57v1M402.4 87v1M402.4 166v1M402.4 175v1M402.4 182v2M402.4 185v1M402.4 190v1M402.4 227v1M402.4 231v1M402.4 238v2M402.4 244v1M402.4 277v1M402.4 287v1M402.4 292v1M402.4 295v1M420.2 56v1M420.2 80v1M420.2 169v2M420.2 174v1M420.2 184v2M420.2 194v1M420.2 227v1M420.2 238v1M420.2 240v1M420.2 247v1M420.2 250v2M420.2 270v1M420.2 280v1M420.2 293v1M438.2 41v1M438.2 43v1M438.2 47v1M438.2 53v1M438.2 56v2M438.2 80v1M438.2 87v1M438.2 91v1M438.2 94v1M438.2 102v1M438.2 161v1M438.2 173v1M438.2 178v1M438.2 182v1M438.2 184v1M438.2 194v1M438.2 227v1M438.2 229v1M438.2 235v1M438.2 239v1M438.2 282v1M438.2 284v1M438.2 292v1M456.3 7v1M456.3 11v1M456.3 15v1M456.3 18v1M456.3 25v1M456.3 35v1M456.3 39v1M456.3 44v1M456.3 50v3M456.3 54v1M456.3 56v1M456.3 64v1M456.3 68v1M456.3 70v2M456.3 76v1M456.3 83v1M456.3 87v1M456.3 204v1M456.3 206v2M456.3 211v1M456.3 213v1M456.3 215v1M456.3 222v6M456.3 233v1M456.3 235v1M456.3 242v1M456.3 244v1M456.3 248v1M456.3 250v1M456.3 258v2M456.3 271v1M456.3 276v1M456.3 281v1M456.3 284v1M456.3 287v1M456.3 295v1M474.8 4v1M474.8 6v1M474.8 11v2M474.8 17v1M474.8 19v1M474.8 31v1M474.8 46v1M474.8 49v1M474.8 54v1M474.8 63v3M474.8 74v1M474.8 76v2M474.8 79v1M474.8 204v1M474.8 207v9M474.8 219v1M474.8 228v1M474.8 231v1M474.8 234v1M474.8 237v1M474.8 239v1M474.8 245v2M474.8 248v2M474.8 251v1M474.8 257v1M474.8 274v1M474.8 281v1M474.8 283v1M474.8 292v1M493.2 12v1M493.2 15v1M493.2 17v1M493.2 19v1M493.2 22v1M493.2 25v1M493.2 35v1M493.2 37v1M493.2 46v1M493.2 54v1M493.2 63v2M493.2 66v1M493.2 68v1M493.2 70v1M493.2 74v2M493.2 77v1M493.2 204v2M493.2 215v1M493.2 217v1M493.2 219v1M493.2 225v2M493.2 230v1M493.2 234v1M493.2 236v3M493.2 246v1M493.2 254v1M493.2 257v1M493.2 259v1M493.2 264v1M493.2 267v1M493.2 269v1M493.2 276v1M493.2 281v1M493.2 284v2M493.2 287v1M493.2 289v2M493.2 292v2M493.2 295v1M493.2 297v2M511.7 2v1M511.7 8v1M511.7 12v1M511.7 16v1M511.7 22v1M511.7 32v1M511.7 37v1M511.7 39v1M511.7 56v1M511.7 63v2M511.7 68v1M511.7 74v1M511.7 78v1M511.7 81v1M511.7 195v1M511.7 207v1M511.7 210v1M511.7 212v1M511.7 230v1M511.7 232v4M511.7 241v1M511.7 247v1M511.7 249v1M511.7 274v3M511.7 283v1M511.7 285v1M511.7 289v1M511.7 291v2M511.7 295v1M511.7 297v2M530.1 0v3M530.1 7v1M530.1 10v1M530.1 18v2M530.1 24v1M530.1 34v2M530.1 39v1M530.1 49v1M530.1 63v2M530.1 71v1M530.1 73v1M530.1 79v1M530.1 184v1M530.1 205v1M530.1 207v1M530.1 210v1M530.1 214v2M530.1 217v1M530.1 227v1M530.1 229v2M530.1 236v2M530.1 240v1M530.1 242v3M530.1 248v2M530.1 253v1M530.1 258v2M530.1 275v1M530.1 279v2M530.1 283v1M530.1 289v1M530.1 295v1M548.6 0v3M548.6 4v1M548.6 6v1M548.6 10v1M548.6 13v2M548.6 16v2M548.6 20v1M548.6 24v2M548.6 27v1M548.6 31v1M548.6 39v1M548.6 52v1M548.6 64v3M548.6 70v2M548.6 77v1M548.6 157v1M548.6 211v2M548.6 225v1M548.6 228v1M548.6 231v1M548.6 234v2M548.6 237v1M548.6 241v1M548.6 245v2M548.6 248v1M548.6 251v1M548.6 257v1M548.6 259v1M548.6 266v2M548.6 281v1M548.6 287v1M548.6 293v1M548.6 297v1M548.6 299v1" stroke="#dadef0" stroke-width="18.5" fill="none"/>
<path d="M129.6 133v1M129.6 148v1M129.6 159v1M129.6 199v1M147.9 139v1M147.9 148v1M147.9 157v1M147.9 160v1M147.9 201v1M166.2 21v1M166.2 74v1M166.2 130v1M166.2 144v1M166.2 154v1M166.2 156v2M166.2 161v1M184.6 32v1M184.6 148v1M184.6 153v1M184.6 155v1M184.6 161v1M184.6 163v1M202.9 12v1M202.9 27v1M202.9 32v1M202.9 81v1M202.9 108v1M202.9 133v1M202.9 139v1M202.9 144v2M202.9 156v1M202.9 160v2M221.2 153v1M221.2 161v1M221.2 163v1M221.2 192v1M221.2 206v1M221.2 216v1M239.5 2v1M239.5 8v1M239.5 10v1M239.5 12v1M239.5 14v2M239.5 17v1M239.5 19v1M239.5 21v1M239.5 27v1M239.5 32v1M239.5 94v1M239.5 103v1M239.5 108v1M239.5 111v2M239.5 125v1M239.5 178v1M239.5 223v1M239.5 230v1M239.5 232v1M239.5 235v1M239.5 237v1M239.5 240v2M239.5 244v1M239.5 253v1M239.5 263v1M257.7 0v1M257.7 2v1M257.7 9v1M257.7 21v1M257.7 30v1M257.7 92v1M257.7 108v1M257.7 112v1M257.7 114v1M257.7 127v1M257.7 178v1M257.7 191v1M257.7 208v1M257.7 230v3M257.7 242v1M257.7 244v1M257.7 249v2M257.7 255v1M275.9 1v1M275.9 16v2M275.9 26v1M275.9 32v1M275.9 46v1M275.9 91v1M275.9 111v1M275.9 113v1M275.9 174v1M275.9 178v1M275.9 216v1M275.9 224v1M275.9 226v1M275.9 229v3M275.9 241v1M275.9 248v1M275.9 261v1M275.9 264v1M294.2 0v1M294.2 12v1M294.2 14v1M294.2 22v1M294.2 26v1M294.2 33v1M294.2 38v1M294.2 89v3M294.2 94v2M294.2 100v2M294.2 109v2M294.2 114v1M294.2 119v1M294.2 192v1M294.2 237v2M294.2 240v1M294.2 243v1M294.2 246v1M294.2 249v1M294.2 251v1M294.2 253v1M294.2 257v1M294.2 259v1M294.2 265v1M294.2 267v1M294.2 275v1M294.2 282v1M294.2 286v1M312.4 1v1M312.4 9v1M312.4 17v1M312.4 26v1M312.4 38v1M312.4 44v1M312.4 46v1M312.4 112v1M312.4 127v1M312.4 169v1M312.4 178v1M312.4 188v1M312.4 192v1M312.4 208v1M312.4 218v1M312.4 221v1M312.4 230v1M312.4 233v1M312.4 244v1M312.4 253v1M312.4 255v1M312.4 257v1M330.6 5v1M330.6 9v1M330.6 13v2M330.6 26v1M330.6 37v1M330.6 106v1M330.6 109v1M330.6 111v1M330.6 113v1M330.6 127v1M330.6 188v1M330.6 218v1M330.6 228v1M330.6 230v1M330.6 232v1M330.6 235v1M330.6 237v1M330.6 240v2M330.6 244v1M330.6 249v1M330.6 251v1M330.6 253v1M330.6 256v2M330.6 263v2M330.6 284v1M348.6 41v1M348.6 47v2M348.6 52v1M348.6 63v1M348.6 75v1M348.6 81v1M348.6 168v1M348.6 175v1M348.6 180v1M348.6 185v1M348.6 187v1M348.6 193v1M348.6 231v1M348.6 270v1M348.6 277v1M348.6 282v1M348.6 284v1M348.6 292v1M348.6 298v2M366.6 12v1M366.6 40v4M366.6 45v2M366.6 48v1M366.6 53v1M366.6 56v1M366.6 63v1M366.6 66v2M366.6 73v1M366.6 76v1M366.6 81v1M366.6 84v1M366.6 87v1M366.6 91v1M366.6 97v1M366.6 105v1M366.6 124v2M366.6 148v1M366.6 161v1M366.6 167v1M366.6 175v1M366.6 185v1M366.6 272v2M366.6 276v1M366.6 282v1M366.6 292v1M384.4 41v1M384.4 47v1M384.4 102v1M384.4 112v3M384.4 148v1M384.4 164v1M384.4 168v1M384.4 175v1M384.4 178v1M384.4 182v1M384.4 185v1M384.4 190v1M384.4 234v1M384.4 243v2M384.4 272v1M384.4 277v1M384.4 284v1M384.4 287v1M384.4 289v1M384.4 291v1M384.4 298v1M402.4 46v1M402.4 51v1M402.4 55v2M402.4 60v1M402.4 62v2M402.4 75v1M402.4 80v1M402.4 102v1M402.4 124v2M402.4 155v1M402.4 178v1M402.4 180v1M402.4 184v1M402.4 279v2M402.4 288v2M402.4 291v1M402.4 296v1M402.4 299v1M420.2 60v1M420.2 63v1M420.2 66v1M420.2 102v1M420.2 114v1M420.2 131v1M420.2 148v1M420.2 171v1M420.2 180v1M420.2 187v1M420.2 190v1M420.2 234v1M420.2 243v1M420.2 267v1M420.2 284v1M420.2 289v1M420.2 291v2M420.2 295v1M420.2 298v2M438.2 12v1M438.2 45v1M438.2 50v2M438.2 62v1M438.2 66v1M438.2 69v2M438.2 75v1M438.2 78v1M438.2 84v1M438.2 112v1M438.2 114v1M438.2 124v1M438.2 148v1M438.2 243v1M438.2 272v1M438.2 280v1M438.2 288v1M438.2 291v1M438.2 293v1M438.2 299v1M456.3 0v1M456.3 3v1M456.3 9v2M456.3 20v1M456.3 23v1M456.3 32v1M456.3 40v1M456.3 42v1M456.3 53v1M456.3 72v1M456.3 75v1M456.3 80v1M456.3 84v1M456.3 86v1M456.3 95v1M456.3 119v1M456.3 150v1M456.3 152v1M456.3 154v1M456.3 208v1M456.3 221v1M456.3 237v1M456.3 239v1M456.3 253v1M456.3 264v3M456.3 275v1M456.3 283v1M456.3 288v1M456.3 291v1M456.3 293v1M456.3 296v1M474.8 14v1M474.8 16v1M474.8 24v2M474.8 35v1M474.8 39v1M474.8 56v1M474.8 68v1M474.8 71v1M474.8 75v1M474.8 78v1M474.8 81v2M474.8 206v1M474.8 223v2M474.8 229v1M474.8 238v1M474.8 250v1M474.8 259v1M474.8 271v1M474.8 275v1M474.8 291v1M474.8 295v3M474.8 299v1M493.2 4v1M493.2 9v2M493.2 14v1M493.2 16v1M493.2 18v1M493.2 24v1M493.2 27v1M493.2 29v1M493.2 38v2M493.2 41v1M493.2 50v1M493.2 52v1M493.2 71v1M493.2 76v1M493.2 78v1M493.2 81v1M493.2 206v3M493.2 210v1M493.2 212v1M493.2 214v1M493.2 221v4M493.2 240v1M493.2 243v1M493.2 250v1M493.2 266v1M493.2 268v1M493.2 270v2M493.2 275v1M493.2 283v1M511.7 3v2M511.7 10v1M511.7 13v3M511.7 18v1M511.7 20v1M511.7 25v1M511.7 27v1M511.7 33v1M511.7 41v1M511.7 46v2M511.7 49v1M511.7 51v3M511.7 65v1M511.7 71v2M511.7 75v1M511.7 77v1M511.7 79v2M511.7 82v3M511.7 206v1M511.7 208v1M511.7 214v1M511.7 217v1M511.7 221v1M511.7 223v2M511.7 226v1M511.7 231v1M511.7 240v1M511.7 243v1M511.7 254v1M511.7 257v1M511.7 259v1M511.7 266v2M511.7 271v1M511.7 281v1M511.7 288v1M530.1 3v2M530.1 12v1M530.1 15v3M530.1 22v1M530.1 25v1M530.1 27v1M530.1 29v1M530.1 31v2M530.1 36v2M530.1 44v1M530.1 46v1M530.1 53v1M530.1 62v1M530.1 66v1M530.1 70v1M530.1 75v4M530.1 80v1M530.1 203v1M530.1 206v1M530.1 208v1M530.1 212v2M530.1 221v1M530.1 231v1M530.1 233v3M530.1 252v1M530.1 257v1M530.1 264v2M530.1 268v1M530.1 271v1M530.1 281v1M530.1 287v1M530.1 291v3M530.1 297v1M548.6 3v1M548.6 9v1M548.6 11v1M548.6 18v2M548.6 34v1M548.6 37v1M548.6 48v2M548.6 51v1M548.6 54v2M548.6 80v2M548.6 83v1M548.6 86v1M548.6 90v1M548.6 162v1M548.6 208v1M548.6 210v1M548.6 214v1M548.6 222v2M548.6 226v1M548.6 229v2M548.6 240v1M548.6 242v1M548.6 254v1M548.6 264v1M548.6 269v1M548.6 271v1M548.6 274v3M548.6 283v2M548.6 288v1M548.6 291v1M548.6 296v1" stroke="#ffffff" stroke-width="18.5" fill="none"/>
<path d="M129.6 162v2M129.6 183v1M129.6 187v1M129.6 279v1M147.9 163v1M147.9 179v1M147.9 208v1M147.9 216v1M166.2 27v1M166.2 32v1M166.2 148v1M166.2 155v1M166.2 160v1M166.2 192v1M166.2 206v1M184.6 137v1M184.6 144v1M184.6 159v1M184.6 162v1M184.6 167v1M184.6 184v1M184.6 187v1M184.6 199v2M184.6 202v1M184.6 205v2M184.6 213v4M184.6 223v1M202.9 150v1M202.9 153v1M202.9 162v2M202.9 183v2M202.9 199v1M202.9 206v1M202.9 213v1M221.2 144v1M221.2 167v1M221.2 191v1M221.2 196v1M221.2 201v2M221.2 205v1M221.2 215v1M221.2 275v1M221.2 291v1M239.5 30v1M239.5 38v1M239.5 57v1M239.5 59v1M239.5 104v1M239.5 106v1M239.5 164v1M239.5 169v1M239.5 174v1M239.5 179v1M239.5 184v1M239.5 192v1M239.5 194v2M239.5 204v1M239.5 208v1M239.5 216v1M239.5 218v1M239.5 220v1M239.5 224v1M239.5 227v1M239.5 229v1M239.5 231v1M239.5 248v1M239.5 251v1M239.5 255v1M257.7 7v1M257.7 14v1M257.7 38v1M257.7 48v1M257.7 57v1M257.7 81v1M257.7 104v1M257.7 169v1M257.7 171v1M257.7 174v1M257.7 179v1M257.7 182v1M257.7 185v1M257.7 195v1M257.7 202v1M257.7 220v4M257.7 226v1M275.9 6v6M275.9 14v1M275.9 19v1M275.9 27v1M275.9 41v1M275.9 48v1M275.9 69v1M275.9 74v1M275.9 106v1M275.9 165v1M275.9 167v1M275.9 176v1M275.9 179v1M275.9 182v1M275.9 184v1M275.9 195v1M275.9 197v1M275.9 203v1M275.9 208v1M275.9 217v2M275.9 220v1M275.9 222v2M275.9 225v1M275.9 227v1M275.9 232v1M294.2 9v1M294.2 19v1M294.2 24v1M294.2 32v1M294.2 35v1M294.2 41v1M294.2 62v1M294.2 86v1M294.2 92v1M294.2 96v1M294.2 106v1M294.2 108v1M294.2 111v2M294.2 127v1M294.2 178v1M294.2 229v1M294.2 231v3M294.2 241v1M294.2 255v1M294.2 264v1M312.4 2v1M312.4 5v1M312.4 7v1M312.4 10v4M312.4 21v1M312.4 41v2M312.4 57v1M312.4 166v1M312.4 170v1M312.4 175v2M312.4 179v1M312.4 182v1M312.4 187v1M312.4 190v2M312.4 195v2M312.4 199v1M312.4 216v2M312.4 220v1M312.4 222v1M312.4 226v2M312.4 229v1M312.4 231v1M312.4 234v1M330.6 1v1M330.6 3v1M330.6 16v2M330.6 27v1M330.6 32v1M330.6 59v1M330.6 62v1M330.6 92v1M330.6 112v1M330.6 174v1M330.6 182v1M330.6 194v2M330.6 216v1M330.6 221v1M330.6 226v1M330.6 234v1M330.6 242v1M348.6 45v1M348.6 50v1M348.6 53v1M348.6 56v1M348.6 58v1M348.6 67v1M348.6 70v1M348.6 78v1M348.6 80v1M348.6 87v1M348.6 94v1M348.6 102v1M348.6 114v1M348.6 121v1M348.6 124v1M348.6 128v1M348.6 132v2M348.6 146v1M348.6 148v1M348.6 151v1M348.6 183v1M348.6 244v1M348.6 267v1M348.6 273v1M348.6 276v1M348.6 279v3M348.6 289v1M366.6 44v1M366.6 55v1M366.6 58v1M366.6 72v1M366.6 75v1M366.6 77v2M366.6 86v1M366.6 89v1M366.6 94v1M366.6 103v1M366.6 109v2M366.6 113v1M366.6 115v1M366.6 117v1M366.6 119v1M366.6 121v1M366.6 131v1M366.6 134v1M366.6 143v1M366.6 151v1M366.6 159v2M366.6 275v1M366.6 281v1M366.6 285v1M366.6 287v1M366.6 297v1M384.4 48v1M384.4 53v1M384.4 57v1M384.4 60v1M384.4 62v2M384.4 78v1M384.4 80v2M384.4 93v1M384.4 131v1M384.4 151v1M384.4 173v1M384.4 254v1M384.4 267v1M384.4 273v1M384.4 280v1M384.4 282v1M384.4 285v1M384.4 292v1M384.4 297v1M384.4 299v1M402.4 40v1M402.4 43v1M402.4 47v1M402.4 50v1M402.4 58v1M402.4 68v1M402.4 70v1M402.4 73v1M402.4 76v1M402.4 78v2M402.4 82v1M402.4 84v1M402.4 86v1M402.4 91v1M402.4 93v1M402.4 98v1M402.4 113v2M402.4 131v2M402.4 137v1M402.4 146v1M402.4 167v2M402.4 272v2M402.4 276v1M402.4 278v1M402.4 282v2M402.4 285v1M402.4 290v1M402.4 298v1M420.2 46v2M420.2 53v1M420.2 57v1M420.2 62v1M420.2 67v1M420.2 70v1M420.2 75v2M420.2 78v1M420.2 81v1M420.2 93v1M420.2 106v1M420.2 124v2M420.2 136v1M420.2 143v1M420.2 151v1M420.2 161v1M420.2 175v1M420.2 178v1M420.2 189v1M420.2 239v1M420.2 244v1M420.2 279v1M420.2 285v1M420.2 288v1M438.2 40v1M438.2 44v1M438.2 48v2M438.2 52v1M438.2 55v1M438.2 60v1M438.2 63v1M438.2 67v2M438.2 86v1M438.2 96v1M438.2 103v3M438.2 108v2M438.2 113v1M438.2 115v1M438.2 128v1M438.2 131v1M438.2 136v1M438.2 146v1M438.2 160v1M438.2 279v1M438.2 283v1M438.2 285v3M438.2 295v1M438.2 297v2M456.3 31v1M456.3 33v1M456.3 36v1M456.3 38v1M456.3 41v1M456.3 43v1M456.3 60v4M456.3 85v1M456.3 96v1M456.3 103v1M456.3 148v1M456.3 157v2M456.3 162v1M456.3 252v1M456.3 254v1M456.3 256v1M456.3 263v1M456.3 267v2M456.3 270v1M456.3 294v1M474.8 0v1M474.8 9v2M474.8 15v1M474.8 18v1M474.8 22v1M474.8 27v1M474.8 29v1M474.8 32v1M474.8 34v1M474.8 38v1M474.8 41v1M474.8 44v1M474.8 62v1M474.8 83v2M474.8 132v1M474.8 162v1M474.8 222v1M474.8 226v1M474.8 230v1M474.8 233v1M474.8 235v1M474.8 240v1M474.8 243v1M474.8 247v1M474.8 266v1M474.8 269v1M493.2 20v1M493.2 30v1M493.2 32v1M493.2 42v1M493.2 44v1M493.2 53v1M493.2 62v1M493.2 65v1M493.2 80v1M493.2 82v5M493.2 90v1M493.2 95v2M493.2 132v1M493.2 146v1M493.2 148v1M493.2 152v1M493.2 213v1M493.2 239v1M493.2 248v1M493.2 252v2M493.2 256v1M493.2 258v1M493.2 260v1M493.2 262v2M493.2 288v1M511.7 9v1M511.7 26v1M511.7 29v1M511.7 34v1M511.7 38v1M511.7 40v1M511.7 43v1M511.7 48v1M511.7 62v1M511.7 70v1M511.7 90v1M511.7 146v1M511.7 157v1M511.7 213v1M511.7 222v1M511.7 225v1M511.7 237v1M511.7 250v1M511.7 252v2M511.7 256v1M511.7 258v1M511.7 261v1M511.7 264v2M511.7 269v1M511.7 294v1M530.1 9v1M530.1 13v1M530.1 20v1M530.1 42v1M530.1 50v1M530.1 52v1M530.1 54v1M530.1 56v1M530.1 72v1M530.1 82v2M530.1 90v1M530.1 146v1M530.1 150v1M530.1 159v1M530.1 161v1M530.1 224v3M530.1 250v1M530.1 260v2M530.1 263v1M530.1 266v2M530.1 269v2M530.1 276v1M530.1 284v1M530.1 296v1M548.6 15v1M548.6 35v1M548.6 46v1M548.6 56v1M548.6 62v1M548.6 72v1M548.6 82v1M548.6 84v2M548.6 87v1M548.6 146v1M548.6 154v1M548.6 158v1M548.6 206v2M548.6 213v1M548.6 217v1M548.6 221v1M548.6 224v1M548.6 239v1M548.6 243v1M548.6 252v1M548.6 292v1" stroke="#fbd8d8" stroke-width="18.5" fill="none"/>
<path d="M129.6 179v2M129.6 184v1M129.6 189v1M129.6 201v1M129.6 206v1M129.6 213v1M129.6 215v1M147.9 155v1M147.9 161v2M147.9 167v1M147.9 170v1M147.9 183v2M147.9 192v1M147.9 200v1M147.9 203v1M147.9 206v1M147.9 210v1M147.9 212v2M147.9 215v1M147.9 221v1M147.9 227v1M147.9 248v1M147.9 273v1M147.9 275v1M147.9 279v1M147.9 285v1M147.9 287v1M166.2 162v1M166.2 170v1M166.2 180v1M166.2 182v2M166.2 199v1M166.2 201v3M166.2 205v1M166.2 215v1M166.2 243v1M166.2 248v1M166.2 275v1M166.2 287v1M184.6 179v1M184.6 182v2M184.6 185v2M184.6 191v2M184.6 196v1M184.6 201v1M184.6 207v1M184.6 212v1M184.6 227v1M184.6 234v1M184.6 248v1M184.6 273v1M184.6 279v1M184.6 285v2M202.9 155v1M202.9 167v1M202.9 170v1M202.9 177v1M202.9 201v1M202.9 215v1M202.9 275v1M202.9 279v1M221.2 170v1M221.2 179v2M221.2 182v3M221.2 187v1M221.2 189v1M221.2 195v1M221.2 199v1M221.2 211v1M221.2 221v1M221.2 223v1M221.2 252v1M221.2 274v1M221.2 287v1M239.5 1v1M239.5 7v1M239.5 11v1M239.5 16v1M239.5 26v1M239.5 41v1M239.5 44v3M239.5 48v1M239.5 61v2M239.5 66v1M239.5 68v1M239.5 74v1M239.5 165v2M239.5 168v1M239.5 170v2M239.5 173v1M239.5 176v1M239.5 181v2M239.5 193v1M239.5 196v1M239.5 199v1M239.5 213v1M239.5 217v1M239.5 221v1M239.5 225v1M239.5 234v1M257.7 1v1M257.7 3v1M257.7 10v3M257.7 15v2M257.7 41v1M257.7 43v1M257.7 47v1M257.7 49v1M257.7 60v1M257.7 62v1M257.7 66v1M257.7 74v1M257.7 111v1M257.7 167v1M257.7 173v1M257.7 175v3M257.7 180v1M257.7 184v1M257.7 188v2M257.7 192v2M257.7 196v1M257.7 218v1M257.7 225v1M257.7 227v1M257.7 229v1M257.7 234v1M257.7 264v1M275.9 3v1M275.9 13v1M275.9 15v1M275.9 56v2M275.9 59v1M275.9 66v1M275.9 81v1M275.9 171v3M275.9 181v1M275.9 185v1M275.9 187v2M275.9 191v1M275.9 193v2M275.9 200v1M275.9 213v1M275.9 219v1M275.9 234v1M294.2 2v1M294.2 5v2M294.2 15v1M294.2 17v1M294.2 28v1M294.2 30v1M294.2 104v1M294.2 113v1M294.2 166v1M294.2 168v1M294.2 171v1M294.2 174v1M294.2 179v1M294.2 184v1M294.2 189v1M294.2 208v1M294.2 216v2M294.2 221v1M294.2 227v1M294.2 230v1M294.2 235v1M294.2 239v1M294.2 242v1M294.2 248v1M294.2 263v1M312.4 3v1M312.4 8v1M312.4 43v1M312.4 45v1M312.4 49v1M312.4 59v1M312.4 81v1M312.4 167v2M312.4 171v1M312.4 173v2M312.4 177v1M312.4 193v2M312.4 197v1M312.4 201v1M312.4 203v1M312.4 223v1M312.4 225v1M312.4 248v1M330.6 2v1M330.6 7v1M330.6 10v2M330.6 15v1M330.6 38v1M330.6 41v1M330.6 44v1M330.6 46v1M330.6 56v1M330.6 60v1M330.6 66v1M330.6 173v1M330.6 175v2M330.6 178v1M330.6 190v1M330.6 192v1M330.6 208v1M330.6 222v2M330.6 227v1M330.6 229v1M348.6 32v1M348.6 43v1M348.6 49v1M348.6 51v1M348.6 54v2M348.6 57v1M348.6 60v1M348.6 62v1M348.6 66v1M348.6 68v1M348.6 72v1M348.6 79v1M348.6 84v1M348.6 86v1M348.6 89v1M348.6 93v1M348.6 101v1M348.6 103v1M348.6 106v1M348.6 108v2M348.6 112v2M348.6 115v1M348.6 125v1M348.6 134v1M348.6 136v1M348.6 138v1M348.6 144v1M348.6 155v1M348.6 159v1M348.6 161v1M348.6 178v1M348.6 275v1M348.6 287v1M348.6 290v2M348.6 294v1M348.6 296v1M366.6 25v1M366.6 49v1M366.6 54v1M366.6 62v1M366.6 68v2M366.6 74v1M366.6 79v1M366.6 83v1M366.6 98v1M366.6 104v1M366.6 108v1M366.6 126v1M366.6 128v1M366.6 132v2M366.6 135v1M366.6 145v2M366.6 153v3M366.6 162v2M366.6 278v1M366.6 290v1M366.6 296v1M384.4 16v1M384.4 25v1M384.4 43v1M384.4 45v2M384.4 50v2M384.4 54v2M384.4 58v2M384.4 66v1M384.4 69v2M384.4 73v1M384.4 76v1M384.4 84v1M384.4 94v1M384.4 108v4M384.4 119v1M384.4 124v1M384.4 133v1M384.4 144v1M384.4 146v2M384.4 183v1M384.4 274v1M384.4 295v1M402.4 5v1M402.4 25v1M402.4 44v1M402.4 49v1M402.4 52v1M402.4 54v1M402.4 59v1M402.4 66v2M402.4 69v1M402.4 81v1M402.4 89v1M402.4 94v1M402.4 96v1M402.4 101v1M402.4 104v1M402.4 106v1M402.4 109v1M402.4 111v1M402.4 115v1M402.4 122v1M402.4 128v1M402.4 133v1M402.4 135v1M402.4 138v1M402.4 142v1M402.4 148v1M402.4 151v1M402.4 159v1M402.4 161v1M402.4 294v1M420.2 0v1M420.2 32v1M420.2 42v1M420.2 44v2M420.2 48v5M420.2 55v1M420.2 59v1M420.2 61v1M420.2 64v2M420.2 68v2M420.2 73v1M420.2 84v1M420.2 94v2M420.2 101v1M420.2 103v1M420.2 105v1M420.2 110v1M420.2 113v1M420.2 115v1M420.2 134v1M420.2 139v1M420.2 146v1M420.2 154v2M420.2 168v1M420.2 183v1M420.2 272v1M420.2 276v1M420.2 283v1M420.2 286v2M420.2 294v1M438.2 5v1M438.2 14v1M438.2 42v1M438.2 46v1M438.2 54v1M438.2 58v1M438.2 61v1M438.2 64v1M438.2 73v1M438.2 79v1M438.2 81v1M438.2 93v1M438.2 97v2M438.2 106v1M438.2 122v1M438.2 132v2M438.2 143v1M438.2 145v1M438.2 154v2M438.2 273v1M438.2 275v2M438.2 278v1M438.2 290v1M438.2 294v1M438.2 296v1M456.3 21v1M456.3 26v1M456.3 29v2M456.3 47v2M456.3 55v1M456.3 57v2M456.3 90v2M456.3 94v1M456.3 97v1M456.3 122v1M456.3 132v1M456.3 146v2M456.3 153v1M456.3 159v1M456.3 163v1M456.3 255v1M456.3 260v3M474.8 23v1M474.8 36v1M474.8 42v1M474.8 47v2M474.8 50v1M474.8 52v2M474.8 72v1M474.8 85v1M474.8 87v1M474.8 95v1M474.8 97v1M474.8 141v1M474.8 146v1M474.8 152v1M474.8 154v1M474.8 157v2M474.8 160v1M474.8 221v1M474.8 252v3M474.8 258v1M474.8 260v2M474.8 264v1M474.8 267v1M474.8 270v1M474.8 287v2M474.8 294v1M493.2 23v1M493.2 36v1M493.2 40v1M493.2 43v1M493.2 45v1M493.2 48v2M493.2 51v1M493.2 56v1M493.2 87v1M493.2 97v2M493.2 103v1M493.2 105v1M493.2 151v1M493.2 153v1M493.2 158v2M493.2 162v2M493.2 231v1M493.2 261v1M493.2 265v1M493.2 291v1M493.2 294v1M493.2 296v1M511.7 21v1M511.7 30v1M511.7 42v1M511.7 54v2M511.7 60v1M511.7 85v2M511.7 95v1M511.7 97v1M511.7 103v1M511.7 148v3M511.7 158v1M511.7 161v2M511.7 216v1M511.7 239v1M511.7 260v1M511.7 262v2M511.7 268v1M511.7 270v1M530.1 14v1M530.1 21v1M530.1 23v1M530.1 26v1M530.1 33v1M530.1 38v1M530.1 43v1M530.1 47v1M530.1 55v1M530.1 61v1M530.1 84v3M530.1 95v1M530.1 97v1M530.1 103v1M530.1 119v1M530.1 157v1M530.1 162v1M530.1 239v1M530.1 254v1M530.1 256v1M530.1 262v1M530.1 294v1M548.6 23v1M548.6 26v1M548.6 29v1M548.6 32v1M548.6 36v1M548.6 38v1M548.6 41v1M548.6 50v1M548.6 58v1M548.6 95v1M548.6 97v1M548.6 103v1M548.6 119v1M548.6 141v1M548.6 148v1M548.6 150v1M548.6 163v1M548.6 216v1M548.6 258v1M548.6 260v2M548.6 263v1M548.6 265v1M548.6 268v1M548.6 270v1M548.6 295v1" stroke="#f7b7b7" stroke-width="18.5" fill="none"/>
<path d="M129.6 167v1M129.6 169v1M129.6 182v1M129.6 188v1M129.6 190v1M129.6 195v2M129.6 200v1M129.6 205v1M129.6 208v1M129.6 214v1M129.6 216v1M129.6 221v1M129.6 223v1M129.6 243v1M129.6 248v1M129.6 266v1M129.6 275v1M129.6 285v1M147.9 169v1M147.9 177v1M147.9 180v1M147.9 182v1M147.9 185v3M147.9 190v1M147.9 195v1M147.9 199v1M147.9 202v1M147.9 211v1M147.9 220v1M147.9 239v1M147.9 243v1M147.9 266v1M147.9 277v1M147.9 286v1M166.2 167v1M166.2 177v2M166.2 187v3M166.2 194v1M166.2 196v1M166.2 209v1M166.2 212v3M166.2 216v1M166.2 220v2M166.2 223v1M166.2 241v1M166.2 273v1M166.2 279v1M166.2 285v1M184.6 175v1M184.6 177v1M184.6 180v1M184.6 188v2M184.6 193v3M184.6 203v1M184.6 208v4M184.6 220v2M184.6 229v1M184.6 239v1M184.6 253v1M184.6 257v1M184.6 266v1M184.6 275v1M184.6 282v1M202.9 148v1M202.9 159v1M202.9 180v1M202.9 187v1M202.9 195v1M202.9 200v1M202.9 202v2M202.9 208v1M202.9 210v1M202.9 212v1M202.9 216v1M202.9 227v1M202.9 273v1M221.2 171v1M221.2 175v1M221.2 177v1M221.2 185v2M221.2 188v1M221.2 190v1M221.2 200v1M221.2 203v1M221.2 208v2M221.2 212v1M221.2 217v1M221.2 222v1M221.2 227v1M221.2 229v1M221.2 234v1M221.2 243v1M221.2 248v1M221.2 260v1M221.2 273v1M221.2 278v2M221.2 282v1M221.2 285v1M239.5 3v1M239.5 6v1M239.5 43v1M239.5 47v1M239.5 49v2M239.5 56v1M239.5 60v1M239.5 65v1M239.5 69v1M239.5 81v1M239.5 167v1M239.5 177v1M239.5 185v1M239.5 187v1M239.5 191v1M239.5 201v1M239.5 203v1M239.5 210v1M239.5 212v1M239.5 219v1M239.5 222v1M257.7 6v1M257.7 8v1M257.7 27v1M257.7 42v1M257.7 44v1M257.7 46v1M257.7 50v1M257.7 55v1M257.7 59v1M257.7 69v2M257.7 164v1M257.7 166v1M257.7 172v1M257.7 181v1M257.7 183v1M257.7 187v1M257.7 190v1M257.7 199v1M257.7 210v1M257.7 213v1M257.7 217v1M275.9 40v1M275.9 42v3M275.9 47v1M275.9 62v1M275.9 68v1M275.9 73v1M275.9 75v1M275.9 164v1M275.9 168v1M275.9 170v1M275.9 175v1M275.9 177v1M275.9 186v1M275.9 190v1M275.9 192v1M275.9 196v1M275.9 199v1M275.9 201v2M275.9 205v1M275.9 212v1M294.2 10v1M294.2 13v1M294.2 27v1M294.2 46v1M294.2 48v1M294.2 56v1M294.2 59v1M294.2 175v3M294.2 182v1M294.2 191v1M294.2 194v2M294.2 199v1M294.2 219v2M294.2 222v2M294.2 226v1M294.2 234v1M312.4 6v1M312.4 47v1M312.4 56v1M312.4 65v1M312.4 164v2M312.4 172v1M312.4 184v3M312.4 211v1M312.4 213v2M312.4 219v1M330.6 8v1M330.6 42v2M330.6 45v1M330.6 48v1M330.6 54v1M330.6 61v1M330.6 67v1M330.6 69v1M330.6 75v1M330.6 83v1M330.6 164v1M330.6 167v5M330.6 177v1M330.6 179v2M330.6 184v2M330.6 187v1M330.6 189v1M330.6 191v1M330.6 197v1M330.6 199v1M330.6 201v1M330.6 217v1M330.6 224v2M348.6 5v1M348.6 12v1M348.6 16v1M348.6 27v1M348.6 40v1M348.6 44v1M348.6 46v1M348.6 59v1M348.6 61v1M348.6 65v1M348.6 69v1M348.6 71v1M348.6 76v2M348.6 83v1M348.6 91v1M348.6 97v1M348.6 104v1M348.6 131v1M348.6 142v1M348.6 145v1M348.6 154v1M348.6 160v1M348.6 274v1M348.6 278v1M348.6 283v1M348.6 285v1M366.6 2v2M366.6 5v2M366.6 8v1M366.6 14v1M366.6 16v1M366.6 27v1M366.6 30v1M366.6 34v1M366.6 38v1M366.6 59v1M366.6 64v2M366.6 71v1M366.6 85v1M366.6 93v1M366.6 95v1M366.6 100v2M366.6 106v1M366.6 111v1M366.6 116v1M366.6 118v1M366.6 122v1M366.6 138v2M366.6 144v1M366.6 147v1M366.6 149v1M366.6 152v1M366.6 286v1M366.6 294v1M384.4 8v2M384.4 12v1M384.4 30v1M384.4 32v1M384.4 44v1M384.4 49v1M384.4 52v1M384.4 64v1M384.4 67v2M384.4 74v1M384.4 79v1M384.4 82v1M384.4 87v1M384.4 89v1M384.4 95v1M384.4 103v1M384.4 106v2M384.4 115v1M384.4 117v1M384.4 121v1M384.4 125v1M384.4 135v2M384.4 139v1M384.4 143v1M384.4 154v2M384.4 159v3M384.4 279v1M384.4 281v1M384.4 283v1M384.4 286v1M384.4 294v1M384.4 296v1M402.4 7v1M402.4 12v1M402.4 16v1M402.4 18v1M402.4 42v1M402.4 48v1M402.4 61v1M402.4 64v2M402.4 71v1M402.4 77v1M402.4 83v1M402.4 90v1M402.4 92v1M402.4 95v1M402.4 97v1M402.4 105v1M402.4 108v1M402.4 112v1M402.4 118v2M402.4 121v1M402.4 123v1M402.4 139v2M402.4 143v2M402.4 147v1M402.4 152v1M402.4 154v1M402.4 163v1M402.4 267v1M402.4 274v2M402.4 286v1M402.4 297v1M420.2 5v1M420.2 12v1M420.2 14v1M420.2 25v1M420.2 27v1M420.2 40v1M420.2 43v1M420.2 58v1M420.2 72v1M420.2 74v1M420.2 77v1M420.2 86v2M420.2 89v3M420.2 96v1M420.2 109v1M420.2 111v1M420.2 121v2M420.2 126v1M420.2 132v1M420.2 137v1M420.2 141v1M420.2 147v1M420.2 153v1M420.2 159v2M420.2 162v1M420.2 273v1M420.2 275v1M420.2 278v1M420.2 290v1M420.2 296v2M438.2 15v2M438.2 25v1M438.2 59v1M438.2 72v1M438.2 74v1M438.2 76v2M438.2 89v1M438.2 95v1M438.2 99v1M438.2 101v1M438.2 110v1M438.2 118v2M438.2 121v1M438.2 123v1M438.2 125v1M438.2 134v1M438.2 137v4M438.2 144v1M438.2 151v1M438.2 153v1M438.2 157v3M438.2 274v1M456.3 45v1M456.3 88v1M456.3 99v1M456.3 101v2M456.3 105v1M456.3 107v1M456.3 112v1M456.3 116v1M456.3 120v2M456.3 140v1M456.3 149v1M456.3 155v1M456.3 161v1M456.3 216v1M474.8 33v1M474.8 40v1M474.8 43v1M474.8 51v1M474.8 86v1M474.8 88v1M474.8 90v2M474.8 94v1M474.8 107v1M474.8 109v1M474.8 119v1M474.8 148v1M474.8 150v2M474.8 159v1M474.8 163v1M474.8 216v1M474.8 255v2M474.8 262v2M474.8 265v1M493.2 21v1M493.2 26v1M493.2 33v1M493.2 55v1M493.2 58v1M493.2 60v1M493.2 72v1M493.2 88v1M493.2 91v1M493.2 94v1M493.2 112v1M493.2 149v2M493.2 154v1M493.2 157v1M493.2 161v1M493.2 216v1M493.2 255v1M511.7 23v1M511.7 50v1M511.7 57v3M511.7 61v1M511.7 87v1M511.7 94v1M511.7 96v1M511.7 98v1M511.7 101v2M511.7 107v2M511.7 119v2M511.7 122v1M511.7 137v1M511.7 152v3M511.7 159v2M511.7 255v1M530.1 30v1M530.1 41v1M530.1 45v1M530.1 48v1M530.1 51v1M530.1 57v1M530.1 60v1M530.1 87v1M530.1 89v1M530.1 91v2M530.1 101v2M530.1 120v1M530.1 122v1M530.1 129v1M530.1 132v1M530.1 138v1M530.1 147v2M530.1 151v1M530.1 154v1M530.1 156v1M530.1 216v1M530.1 222v1M530.1 255v1M530.1 288v1M548.6 21v1M548.6 30v1M548.6 33v1M548.6 40v1M548.6 42v2M548.6 45v1M548.6 47v1M548.6 53v1M548.6 60v2M548.6 88v1M548.6 94v1M548.6 96v1M548.6 98v1M548.6 101v2M548.6 107v1M548.6 122v1M548.6 136v2M548.6 151v1M548.6 153v1M548.6 155v1M548.6 161v1M548.6 233v1M548.6 253v1M548.6 256v1M548.6 262v1M548.6 294v1" stroke="#f49797" stroke-width="18.5" fill="none"/>
<path d="M129.6 168v1M129.6 170v2M129.6 176v2M129.6 185v2M129.6 192v2M129.6 202v2M129.6 211v2M129.6 217v1M129.6 222v1M129.6 224v1M129.6 226v2M129.6 234v1M129.6 236v2M129.6 239v1M129.6 260v1M129.6 278v1M129.6 282v2M129.6 287v1M129.6 293v1M147.9 166v1M147.9 168v1M147.9 171v1M147.9 175v2M147.9 189v1M147.9 191v1M147.9 196v2M147.9 204v2M147.9 214v1M147.9 217v2M147.9 223v1M147.9 225v1M147.9 233v2M147.9 236v1M147.9 244v1M147.9 250v1M147.9 254v1M147.9 262v1M147.9 274v1M147.9 280v1M147.9 291v1M166.2 163v1M166.2 165v2M166.2 169v1M166.2 172v1M166.2 176v1M166.2 179v1M166.2 184v1M166.2 186v1M166.2 191v1M166.2 195v1M166.2 198v1M166.2 200v1M166.2 204v1M166.2 207v1M166.2 211v1M166.2 217v1M166.2 219v1M166.2 222v1M166.2 224v2M166.2 252v1M166.2 266v1M166.2 291v1M166.2 295v1M184.6 168v4M184.6 174v1M184.6 190v1M184.6 204v1M184.6 217v1M184.6 224v3M184.6 237v1M184.6 247v1M184.6 252v1M184.6 256v1M184.6 262v1M184.6 274v1M184.6 280v1M184.6 287v1M184.6 291v1M184.6 293v1M202.9 169v1M202.9 175v1M202.9 179v1M202.9 186v1M202.9 188v2M202.9 191v2M202.9 196v1M202.9 204v2M202.9 209v1M202.9 214v1M202.9 217v1M202.9 221v1M202.9 223v1M202.9 239v1M202.9 243v1M202.9 248v1M202.9 280v1M202.9 284v4M202.9 291v1M221.2 164v1M221.2 168v2M221.2 172v1M221.2 178v1M221.2 194v1M221.2 197v1M221.2 204v1M221.2 207v1M221.2 214v1M221.2 233v1M221.2 235v1M221.2 244v1M221.2 247v1M221.2 250v2M221.2 253v2M221.2 256v1M221.2 258v1M221.2 261v1M221.2 266v2M221.2 284v1M221.2 288v2M221.2 299v1M239.5 4v1M239.5 40v1M239.5 42v1M239.5 51v2M239.5 55v1M239.5 58v1M239.5 64v1M239.5 67v1M239.5 73v1M239.5 77v1M239.5 83v1M239.5 172v1M239.5 175v1M239.5 183v1M239.5 189v1M239.5 197v2M239.5 200v1M239.5 206v1M239.5 214v1M257.7 4v1M257.7 53v1M257.7 56v1M257.7 58v1M257.7 61v1M257.7 63v1M257.7 71v1M257.7 75v1M257.7 83v1M257.7 165v1M257.7 168v1M257.7 170v1M257.7 186v1M257.7 194v1M257.7 197v2M257.7 200v2M257.7 204v1M257.7 209v1M257.7 212v1M257.7 215v1M257.7 219v1M275.9 49v1M275.9 51v3M275.9 55v1M275.9 65v1M275.9 67v1M275.9 78v1M275.9 166v1M275.9 169v1M275.9 204v1M275.9 206v1M275.9 209v2M275.9 214v1M294.2 1v1M294.2 3v1M294.2 8v1M294.2 16v1M294.2 50v1M294.2 66v1M294.2 69v1M294.2 164v2M294.2 167v1M294.2 169v1M294.2 180v1M294.2 185v1M294.2 188v1M294.2 196v2M294.2 200v1M294.2 210v2M294.2 218v1M294.2 224v2M312.4 40v1M312.4 48v1M312.4 50v1M312.4 54v2M312.4 58v1M312.4 60v2M312.4 66v1M312.4 69v1M312.4 71v1M312.4 73v2M312.4 78v1M312.4 180v2M312.4 183v1M312.4 189v1M312.4 209v2M312.4 212v1M330.6 4v1M330.6 6v1M330.6 40v1M330.6 47v1M330.6 51v1M330.6 58v1M330.6 64v1M330.6 68v1M330.6 74v1M330.6 81v1M330.6 165v2M330.6 172v1M330.6 181v1M330.6 183v1M330.6 186v1M330.6 193v1M330.6 196v1M330.6 202v2M330.6 206v1M330.6 210v4M330.6 219v1M348.6 14v1M348.6 21v1M348.6 25v1M348.6 30v1M348.6 39v1M348.6 42v1M348.6 73v2M348.6 82v1M348.6 90v1M348.6 92v1M348.6 96v1M348.6 98v1M348.6 100v1M348.6 105v1M348.6 110v2M348.6 116v1M348.6 119v1M348.6 122v2M348.6 126v1M348.6 141v1M348.6 143v1M348.6 147v1M348.6 153v1M348.6 157v2M348.6 163v1M348.6 297v1M366.6 18v1M366.6 32v1M366.6 39v1M366.6 61v1M366.6 82v1M366.6 90v1M366.6 92v1M366.6 96v1M366.6 99v1M366.6 112v1M366.6 120v1M366.6 130v1M366.6 137v1M366.6 142v1M366.6 156v2M384.4 0v1M384.4 5v2M384.4 14v1M384.4 39v2M384.4 42v1M384.4 61v1M384.4 65v1M384.4 71v2M384.4 75v1M384.4 77v1M384.4 83v1M384.4 86v1M384.4 96v3M384.4 101v1M384.4 104v2M384.4 116v1M384.4 118v1M384.4 122v2M384.4 128v1M384.4 132v1M384.4 134v1M384.4 137v1M384.4 142v1M384.4 145v1M384.4 152v1M384.4 163v1M384.4 275v1M384.4 290v1M402.4 2v1M402.4 4v1M402.4 6v1M402.4 8v1M402.4 15v1M402.4 27v1M402.4 31v2M402.4 39v1M402.4 72v1M402.4 85v1M402.4 100v1M402.4 107v1M402.4 110v1M402.4 134v1M402.4 141v1M402.4 145v1M402.4 153v1M402.4 157v1M402.4 160v1M402.4 281v1M420.2 16v1M420.2 18v1M420.2 30v1M420.2 39v1M420.2 54v1M420.2 79v1M420.2 82v1M420.2 92v1M420.2 97v1M420.2 104v1M420.2 108v1M420.2 112v1M420.2 117v3M420.2 123v1M420.2 128v1M420.2 133v1M420.2 135v1M420.2 144v2M420.2 152v1M420.2 157v1M420.2 163v1M420.2 274v1M438.2 2v1M438.2 9v2M438.2 18v1M438.2 30v1M438.2 32v1M438.2 34v1M438.2 38v2M438.2 65v1M438.2 71v1M438.2 82v2M438.2 88v1M438.2 100v1M438.2 111v1M438.2 126v1M438.2 135v1M438.2 142v1M438.2 147v1M438.2 152v1M438.2 162v2M438.2 281v1M456.3 59v1M456.3 92v2M456.3 108v2M456.3 111v1M456.3 114v1M456.3 117v1M456.3 124v1M456.3 129v2M456.3 134v1M456.3 136v3M456.3 141v3M456.3 145v1M456.3 151v1M456.3 160v1M474.8 21v1M474.8 26v1M474.8 30v1M474.8 45v1M474.8 55v1M474.8 58v1M474.8 61v1M474.8 93v1M474.8 96v1M474.8 99v1M474.8 103v1M474.8 105v1M474.8 112v1M474.8 121v1M474.8 136v3M474.8 147v1M474.8 153v1M474.8 155v1M474.8 161v1M474.8 268v1M493.2 47v1M493.2 61v1M493.2 89v1M493.2 93v1M493.2 100v3M493.2 107v3M493.2 111v1M493.2 114v1M493.2 116v1M493.2 119v2M493.2 122v1M493.2 124v1M493.2 138v2M493.2 142v1M493.2 147v1M493.2 155v2M493.2 160v1M511.7 45v1M511.7 88v2M511.7 91v1M511.7 93v1M511.7 100v1M511.7 105v2M511.7 109v1M511.7 115v1M511.7 117v1M511.7 123v1M511.7 132v2M511.7 136v1M511.7 138v1M511.7 142v1M511.7 145v1M511.7 147v1M511.7 151v1M511.7 155v1M511.7 163v1M530.1 40v1M530.1 58v2M530.1 88v1M530.1 93v2M530.1 96v1M530.1 105v1M530.1 108v1M530.1 128v1M530.1 136v1M530.1 142v1M530.1 145v1M530.1 149v1M530.1 152v1M530.1 158v1M548.6 57v1M548.6 59v1M548.6 91v3M548.6 99v1M548.6 104v2M548.6 109v1M548.6 111v1M548.6 135v1M548.6 142v1M548.6 149v1M548.6 152v1M548.6 160v1M548.6 255v1" stroke="#f07978" stroke-width="18.5" fill="none"/>
<path d="M129.6 165v1M129.6 172v1M129.6 191v1M129.6 194v1M129.6 198v1M129.6 204v1M129.6 207v1M129.6 209v1M129.6 229v1M129.6 244v1M129.6 250v1M129.6 252v2M129.6 272v3M129.6 280v1M129.6 286v1M129.6 289v1M129.6 291v1M129.6 295v1M147.9 172v1M147.9 174v1M147.9 181v1M147.9 198v1M147.9 207v1M147.9 209v1M147.9 219v1M147.9 222v1M147.9 226v1M147.9 229v1M147.9 235v1M147.9 237v1M147.9 242v1M147.9 247v1M147.9 253v1M147.9 255v1M147.9 257v1M147.9 259v1M147.9 261v1M147.9 265v1M147.9 268v1M147.9 272v1M147.9 276v1M147.9 278v1M147.9 282v3M147.9 289v1M147.9 292v1M147.9 299v1M166.2 174v2M166.2 197v1M166.2 208v1M166.2 210v1M166.2 218v1M166.2 227v1M166.2 234v1M166.2 236v2M166.2 239v1M166.2 244v1M166.2 250v2M166.2 253v1M166.2 256v1M166.2 259v1M166.2 262v1M166.2 274v1M166.2 276v2M166.2 280v2M166.2 284v1M166.2 286v1M166.2 299v1M184.6 164v1M184.6 166v1M184.6 172v2M184.6 176v1M184.6 178v1M184.6 197v2M184.6 218v1M184.6 222v1M184.6 228v1M184.6 233v1M184.6 235v2M184.6 241v1M184.6 250v2M184.6 258v4M184.6 267v1M184.6 270v1M184.6 278v1M184.6 284v1M184.6 292v1M184.6 295v1M184.6 298v1M202.9 172v1M202.9 176v1M202.9 182v1M202.9 185v1M202.9 190v1M202.9 193v2M202.9 198v1M202.9 211v1M202.9 218v1M202.9 220v1M202.9 222v1M202.9 224v2M202.9 245v1M202.9 252v1M202.9 254v1M202.9 256v1M202.9 260v3M202.9 266v1M202.9 271v1M202.9 274v1M202.9 282v2M202.9 295v1M221.2 166v1M221.2 173v2M221.2 176v1M221.2 193v1M221.2 198v1M221.2 210v1M221.2 218v3M221.2 225v1M221.2 228v1M221.2 231v1M221.2 236v2M221.2 239v1M221.2 241v1M221.2 259v1M221.2 265v1M221.2 268v1M221.2 270v1M221.2 272v1M221.2 276v1M221.2 281v1M221.2 283v1M221.2 286v1M221.2 292v3M239.5 54v1M239.5 63v1M239.5 71v1M239.5 76v1M239.5 180v1M239.5 186v1M239.5 190v1M239.5 202v1M239.5 205v1M239.5 209v1M239.5 211v1M239.5 215v1M257.7 40v1M257.7 51v1M257.7 65v1M257.7 67v2M257.7 73v1M257.7 80v1M257.7 82v1M257.7 84v1M257.7 203v1M257.7 206v1M257.7 211v1M257.7 214v1M275.9 4v1M275.9 45v1M275.9 50v1M275.9 58v1M275.9 60v2M275.9 64v1M275.9 70v2M275.9 80v1M275.9 83v2M275.9 180v1M275.9 183v1M275.9 189v1M275.9 215v1M294.2 4v1M294.2 7v1M294.2 11v1M294.2 40v1M294.2 42v1M294.2 44v1M294.2 47v1M294.2 49v1M294.2 52v1M294.2 55v1M294.2 57v1M294.2 60v1M294.2 64v1M294.2 68v1M294.2 73v1M294.2 81v1M294.2 83v1M294.2 170v1M294.2 172v2M294.2 183v1M294.2 187v1M294.2 190v1M294.2 193v1M294.2 203v2M294.2 206v1M294.2 212v2M312.4 4v1M312.4 51v3M312.4 63v1M312.4 67v2M312.4 70v1M312.4 75v1M312.4 80v1M312.4 84v1M312.4 198v1M312.4 200v1M312.4 202v1M312.4 204v3M312.4 215v1M330.6 50v1M330.6 52v2M330.6 57v1M330.6 198v1M330.6 214v1M330.6 220v1M348.6 0v1M348.6 2v1M348.6 6v4M348.6 15v1M348.6 26v1M348.6 34v2M348.6 38v1M348.6 64v1M348.6 99v1M348.6 117v2M348.6 120v1M348.6 129v2M348.6 135v1M348.6 137v1M348.6 139v2M348.6 149v1M348.6 152v1M348.6 162v1M348.6 286v1M366.6 0v1M366.6 4v1M366.6 7v1M366.6 9v2M366.6 15v1M366.6 19v3M366.6 31v1M366.6 107v1M366.6 123v1M366.6 140v2M366.6 150v1M366.6 158v1M366.6 274v1M384.4 2v3M384.4 7v1M384.4 10v1M384.4 18v1M384.4 21v1M384.4 28v1M384.4 34v3M384.4 88v1M384.4 90v2M384.4 120v1M384.4 138v1M384.4 140v2M384.4 149v1M384.4 153v1M384.4 157v2M384.4 278v1M402.4 3v1M402.4 9v2M402.4 14v1M402.4 21v1M402.4 30v1M402.4 34v1M402.4 38v1M402.4 74v1M402.4 88v1M402.4 99v1M402.4 103v1M402.4 117v1M402.4 120v1M402.4 126v1M402.4 136v1M402.4 149v1M402.4 156v1M402.4 158v1M402.4 162v1M420.2 2v1M420.2 6v1M420.2 15v1M420.2 19v2M420.2 22v1M420.2 31v1M420.2 33v2M420.2 83v1M420.2 85v1M420.2 88v1M420.2 98v3M420.2 107v1M420.2 120v1M420.2 138v1M420.2 142v1M420.2 149v1M420.2 158v1M420.2 281v1M438.2 0v1M438.2 3v1M438.2 6v3M438.2 19v1M438.2 26v2M438.2 31v1M438.2 35v1M438.2 90v1M438.2 92v1M438.2 107v1M438.2 116v2M438.2 120v1M438.2 129v2M438.2 156v1M456.3 89v1M456.3 98v1M456.3 100v1M456.3 106v1M456.3 126v1M456.3 128v1M456.3 133v1M456.3 135v1M456.3 139v1M456.3 144v1M456.3 156v1M474.8 57v1M474.8 59v1M474.8 92v1M474.8 98v1M474.8 101v2M474.8 104v1M474.8 110v1M474.8 120v1M474.8 122v1M474.8 124v1M474.8 129v1M474.8 131v1M474.8 133v1M474.8 139v1M474.8 142v2M474.8 145v1M474.8 149v1M474.8 156v1M493.2 57v1M493.2 104v1M493.2 106v1M493.2 121v1M493.2 123v1M493.2 129v3M493.2 133v1M493.2 135v1M493.2 140v1M493.2 143v3M511.7 92v1M511.7 99v1M511.7 104v1M511.7 110v1M511.7 112v1M511.7 114v1M511.7 121v1M511.7 127v2M511.7 130v2M511.7 135v1M511.7 140v2M511.7 143v1M511.7 156v1M530.1 98v2M530.1 107v1M530.1 109v1M530.1 111v1M530.1 116v1M530.1 121v1M530.1 127v1M530.1 130v2M530.1 133v1M530.1 137v1M530.1 139v1M530.1 153v1M530.1 160v1M530.1 163v1M548.6 89v1M548.6 108v1M548.6 114v1M548.6 117v1M548.6 120v2M548.6 124v1M548.6 127v3M548.6 133v1M548.6 138v2M548.6 143v1M548.6 145v1M548.6 147v1M548.6 159v1" stroke="#ed5b5a" stroke-width="18.5" fill="none"/>
<path d="M129.6 164v1M129.6 166v1M129.6 173v1M129.6 175v1M129.6 178v1M129.6 197v1M129.6 210v1M129.6 218v1M129.6 220v1M129.6 230v2M129.6 233v1M129.6 235v1M129.6 241v1M129.6 256v2M129.6 261v2M129.6 264v1M129.6 271v1M129.6 288v1M129.6 298v2M147.9 164v2M147.9 173v1M147.9 178v1M147.9 188v1M147.9 193v2M147.9 224v1M147.9 230v3M147.9 240v2M147.9 245v2M147.9 251v2M147.9 256v1M147.9 258v1M147.9 263v2M147.9 271v1M147.9 281v1M147.9 288v1M147.9 290v1M147.9 293v1M147.9 295v1M166.2 168v1M166.2 171v1M166.2 185v1M166.2 193v1M166.2 226v1M166.2 229v1M166.2 232v2M166.2 247v1M166.2 249v1M166.2 254v1M166.2 258v1M166.2 260v2M166.2 267v2M166.2 278v1M166.2 282v1M166.2 288v2M184.6 219v1M184.6 231v2M184.6 238v1M184.6 243v2M184.6 254v1M184.6 263v2M184.6 268v1M184.6 271v2M184.6 276v2M184.6 283v1M184.6 289v1M184.6 294v1M184.6 299v1M202.9 166v1M202.9 168v1M202.9 174v1M202.9 178v1M202.9 197v1M202.9 219v1M202.9 226v1M202.9 229v1M202.9 231v1M202.9 234v3M202.9 250v2M202.9 253v1M202.9 255v1M202.9 257v1M202.9 278v1M202.9 289v1M202.9 292v1M221.2 165v1M221.2 181v1M221.2 226v1M221.2 230v1M221.2 232v1M221.2 240v1M221.2 242v1M221.2 257v1M221.2 263v1M221.2 271v1M221.2 277v1M221.2 280v1M221.2 295v1M221.2 298v1M239.5 53v1M239.5 70v1M239.5 75v1M239.5 78v2M257.7 45v1M257.7 52v1M257.7 54v1M257.7 64v1M257.7 72v1M257.7 77v2M257.7 207v1M275.9 63v1M275.9 76v1M275.9 79v1M275.9 82v1M275.9 198v1M275.9 207v1M275.9 211v1M294.2 43v1M294.2 45v1M294.2 51v1M294.2 54v1M294.2 58v1M294.2 61v1M294.2 65v1M294.2 67v1M294.2 71v1M294.2 74v2M294.2 79v1M294.2 186v1M294.2 198v1M294.2 202v1M294.2 215v1M312.4 64v1M312.4 72v1M312.4 77v1M312.4 79v1M312.4 207v1M330.6 49v1M330.6 55v1M330.6 63v1M330.6 65v1M330.6 71v1M330.6 73v1M330.6 78v1M330.6 80v1M330.6 84v1M330.6 204v2M330.6 207v1M330.6 209v1M348.6 3v1M348.6 10v1M348.6 18v1M348.6 28v1M348.6 33v1M348.6 85v1M348.6 95v1M348.6 107v1M348.6 150v1M348.6 156v1M366.6 11v1M366.6 26v1M366.6 28v1M366.6 33v1M366.6 37v1M366.6 88v1M366.6 127v1M384.4 1v1M384.4 15v1M384.4 26v1M384.4 31v1M384.4 38v1M384.4 92v1M384.4 99v2M384.4 126v1M384.4 129v2M384.4 156v1M402.4 13v1M402.4 19v1M402.4 26v1M402.4 33v1M402.4 35v1M402.4 37v1M402.4 116v1M402.4 127v1M402.4 130v1M402.4 150v1M420.2 4v1M420.2 8v1M420.2 10v1M420.2 21v1M420.2 26v1M420.2 28v1M420.2 36v1M420.2 38v1M420.2 71v1M420.2 116v1M420.2 129v2M420.2 150v1M438.2 1v1M438.2 20v3M438.2 24v1M438.2 85v1M438.2 141v1M438.2 149v2M456.3 104v1M456.3 110v1M456.3 113v1M456.3 115v1M456.3 118v1M456.3 123v1M456.3 125v1M456.3 127v1M456.3 131v1M474.8 60v1M474.8 89v1M474.8 106v1M474.8 108v1M474.8 111v1M474.8 114v1M474.8 117v1M474.8 127v2M474.8 134v2M474.8 140v1M474.8 144v1M493.2 59v1M493.2 92v1M493.2 99v1M493.2 110v1M493.2 117v1M493.2 125v4M493.2 134v1M493.2 136v1M493.2 141v1M511.7 111v1M511.7 113v1M511.7 116v1M511.7 118v1M511.7 124v1M511.7 129v1M511.7 134v1M511.7 139v1M530.1 104v1M530.1 106v1M530.1 110v1M530.1 114v1M530.1 123v1M530.1 126v1M530.1 140v2M530.1 144v1M530.1 155v1M548.6 100v1M548.6 110v1M548.6 112v1M548.6 123v1M548.6 126v1M548.6 130v1M548.6 132v1M548.6 140v1" stroke="#ea3e3d" stroke-width="18.5" fill="none"/>
<path d="M129.6 174v1M129.6 225v1M129.6 228v1M129.6 240v1M129.6 245v1M129.6 247v1M129.6 249v1M129.6 251v1M129.6 254v1M129.6 258v2M129.6 263v1M129.6 265v1M129.6 267v2M129.6 276v2M129.6 281v1M129.6 284v1M129.6 292v1M129.6 294v1M129.6 297v1M147.9 228v1M147.9 238v1M147.9 249v1M147.9 260v1M147.9 269v2M147.9 294v1M147.9 297v1M166.2 173v1M166.2 190v1M166.2 228v1M166.2 230v1M166.2 235v1M166.2 240v1M166.2 245v1M166.2 255v1M166.2 257v1M166.2 265v1M166.2 270v2M166.2 283v1M166.2 292v2M166.2 297v1M184.6 165v1M184.6 181v1M184.6 240v1M184.6 242v1M184.6 246v1M184.6 249v1M184.6 255v1M184.6 265v1M184.6 269v1M184.6 281v1M184.6 288v1M184.6 290v1M202.9 165v1M202.9 171v1M202.9 173v1M202.9 181v1M202.9 207v1M202.9 230v1M202.9 233v1M202.9 237v1M202.9 240v1M202.9 244v1M202.9 247v1M202.9 258v2M202.9 263v3M202.9 268v1M202.9 272v1M202.9 277v1M202.9 281v1M202.9 293v1M202.9 299v1M221.2 224v1M221.2 238v1M221.2 245v2M221.2 249v1M221.2 255v1M221.2 262v1M221.2 264v1M239.5 72v1M239.5 82v1M239.5 84v1M239.5 207v1M257.7 76v1M257.7 79v1M257.7 205v1M275.9 54v1M275.9 72v1M275.9 77v1M294.2 53v1M294.2 70v1M294.2 77v2M294.2 84v1M294.2 181v1M294.2 201v1M294.2 205v1M294.2 209v1M294.2 214v1M312.4 83v1M330.6 70v1M330.6 76v2M330.6 82v1M330.6 200v1M330.6 215v1M348.6 4v1M348.6 19v2M348.6 22v1M348.6 24v1M348.6 31v1M348.6 36v1M348.6 88v1M348.6 127v1M366.6 1v1M366.6 13v1M366.6 22v2M366.6 29v1M366.6 36v1M366.6 129v1M384.4 11v1M384.4 13v1M384.4 22v1M384.4 33v1M384.4 85v1M384.4 150v1M384.4 162v1M402.4 0v1M402.4 20v1M402.4 23v1M402.4 28v1M402.4 36v1M402.4 129v1M420.2 3v1M420.2 7v1M420.2 9v1M420.2 35v1M420.2 127v1M420.2 140v1M438.2 4v1M438.2 11v1M438.2 13v1M438.2 28v2M438.2 33v1M438.2 37v1M438.2 127v1M474.8 100v1M474.8 115v2M474.8 123v1M474.8 126v1M493.2 113v1M493.2 118v1M493.2 137v1M511.7 125v1M511.7 144v1M530.1 112v1M530.1 117v1M530.1 124v2M530.1 135v1M530.1 143v1M548.6 106v1M548.6 116v1M548.6 118v1M548.6 131v1M548.6 134v1M548.6 144v1M548.6 156v1" stroke="#e93837" stroke-width="18.5" fill="none"/>
<path d="M129.6 181v1M129.6 219v1M129.6 232v1M129.6 238v1M129.6 242v1M129.6 246v1M129.6 255v1M129.6 269v2M129.6 290v1M129.6 296v1M147.9 267v1M147.9 296v1M147.9 298v1M166.2 164v1M166.2 181v1M166.2 231v1M166.2 238v1M166.2 242v1M166.2 246v1M166.2 263v2M166.2 269v1M166.2 272v1M166.2 290v1M166.2 294v1M166.2 296v1M166.2 298v1M184.6 230v1M184.6 245v1M184.6 296v2M202.9 164v1M202.9 228v1M202.9 232v1M202.9 238v1M202.9 241v2M202.9 246v1M202.9 249v1M202.9 267v1M202.9 269v2M202.9 276v1M202.9 288v1M202.9 290v1M202.9 294v1M202.9 296v3M221.2 269v1M221.2 290v1M221.2 296v2M239.5 80v1M294.2 63v1M294.2 72v1M294.2 76v1M294.2 80v1M294.2 82v1M294.2 207v1M312.4 76v1M312.4 82v1M330.6 72v1M330.6 79v1M348.6 1v1M348.6 11v1M348.6 13v1M348.6 17v1M348.6 23v1M348.6 29v1M348.6 37v1M366.6 17v1M366.6 24v1M366.6 35v1M384.4 17v1M384.4 19v2M384.4 23v2M384.4 27v1M384.4 29v1M384.4 37v1M384.4 127v1M402.4 1v1M402.4 11v1M402.4 17v1M402.4 22v1M402.4 24v1M402.4 29v1M420.2 1v1M420.2 11v1M420.2 13v1M420.2 17v1M420.2 23v2M420.2 29v1M420.2 37v1M420.2 156v1M438.2 17v1M438.2 23v1M438.2 36v1M474.8 113v1M474.8 118v1M474.8 125v1M474.8 130v1M493.2 115v1M511.7 126v1M530.1 100v1M530.1 113v1M530.1 115v1M530.1 118v1M530.1 134v1M548.6 113v1M548.6 115v1M548.6 125v1" stroke="#e93837" stroke-width="18.5" fill="none"/>
</g>
<rect x="119.7" y="1319.3" width="220.2" height="13.4" fill="#ffde7b" rx="1.5"/>
<rect x="339.9" y="1319.3" width="219" height="13.4" fill="#b3d5a1" rx="1.5"/>
<path d="M152.800 1324V1250.300H349.400V1271.200M258.400 1330V1271.200H439.900V1299M399.300 1328V1299H479.400V1328" fill="none" stroke="#333" stroke-width="1"/>
<path d="M132.6 1332V1324.500H171.2V1329M150.9 1332V1328.500H219.2V1332M170.2 1332V1329.800H190.6V1332M241.5 1332V1329H327.6V1332M257.7 1332V1327.800H299.2V1330M294.2 1332V1330H316.4V1332M350.6 1332V1329H435.2V1332M366.6 1332V1327.800H407.4V1330M402.4 1332V1330H424.2V1332M458.3 1332V1329H545.6V1332M474.8 1332V1327.800H516.7V1330M511.7 1332V1330H534.1V1332" fill="none" stroke="#3a3a20" stroke-width="0.8" opacity=".75"/>
<path d="M90.6 1457.6H46.4V1665.7H98.6M100.8 1397.4H90.6V1517.4H107.3M111.3 1366.6H100.8V1427.5H111.3M114.2 1494.6H107.3V1539.9H114.2M116 1353.2H111.3V1380.4H116M116 1413H111.3V1440.2H116M108.8 1617.8H98.6V1713.9H108.8M113.9 1599.7H108.8V1636H113.9M113.9 1690.4H108.8V1733.9H113.9M117.5 1480.1H114.2V1509.1H117.5M117.5 1529H114.2V1552.6H117.5M117.5 1588.8H113.9V1610.6H117.5M117.5 1626.9H113.9V1645H117.5M117.5 1681.3H113.9V1701.2H117.5M117.5 1724.8H113.9V1742.9H117.5M118.2 1344.1H116V1362.2H118.2M118.2 1373.1H116V1387.6H118.2M118.2 1405.7H116V1422.1H118.2M118.2 1432.9H116V1447.4H118.2" fill="none" stroke="#333" stroke-width="1"/>
<path d="M119.500 1335.3H118V1338.9H119.500M119.500 1336.8H116.5V1345.2H119.500M119.500 1342.4H116.6V1349.8H119.500M119.500 1345.9H114.8V1349.3H119.500M119.500 1348.4H115.1V1353.5H119.500M119.500 1352.6H116.2V1356.5H119.500M119.500 1354.5H116.8V1360.9H119.500M119.500 1358.7H115.6V1362.6H119.500M119.500 1360.5H115.1V1364.8H119.500M119.500 1362.2H118.3V1370.9H119.500M119.500 1365.8H115.3V1368H119.500M119.500 1367.4H114.6V1374.8H119.500M119.500 1372.2H116.6V1374.2H119.500M119.500 1373.6H115.5V1382.5H119.500M119.500 1380.5H118.2V1388.6H119.500M119.500 1382.9H118.4V1388.2H119.500M119.500 1385.8H116.7V1393.5H119.500M119.500 1391.7H114.6V1397.1H119.500M119.500 1393.6H115.5V1396.3H119.500M119.500 1396H117.8V1402.4H119.500M119.500 1400.1H117.7V1406.6H119.500M119.500 1405.6H117.8V1414H119.500M119.500 1408.6H114.6V1413.2H119.500M119.500 1411.5H114.7V1419H119.500M119.500 1414.6H115.5V1419.2H119.500M119.500 1418.1H117.1V1422.6H119.500M119.500 1420.8H118.3V1426.9H119.500M119.500 1426.1H117.9V1428.9H119.500M119.500 1427.5H116V1430.2H119.500M119.500 1429.1H116V1437.9H119.500M119.500 1431.8H114.9V1439.8H119.500M119.500 1436.5H116.6V1444.5H119.500M119.500 1441H114.6V1448.6H119.500M119.500 1445.9H118.4V1450.8H119.500M119.500 1449.7H115.3V1452.1H119.500M119.500 1451.1H115.8V1458H119.500M119.500 1454.7H118.3V1463.1H119.500M119.500 1459.3H115.8V1467.6H119.500M119.500 1462.2H117.1V1467.9H119.500M119.500 1466.9H117.6V1475.7H119.500M119.500 1473.5H117.3V1480.5H119.500M119.500 1478.8H116V1487.7H119.500M119.500 1481.9H115.4V1485.6H119.500M119.500 1483.8H114.7V1491.5H119.500M119.500 1488.2H115.6V1495.9H119.500M119.500 1490.8H114.8V1494.5H119.500M119.500 1493.7H115.3V1496.9H119.500M119.500 1496.2H116.9V1503.9H119.500M119.500 1502.7H118.4V1505.1H119.500M119.500 1504.3H117.8V1508.4H119.500M119.500 1507.1H114.9V1516H119.500M119.500 1512.9H117.1V1518.2H119.500M119.500 1515.3H116.7V1517.5H119.500M119.500 1516.4H116.3V1524.7H119.500M119.500 1521H116.6V1527.4H119.500M119.500 1526.6H116.5V1534.1H119.500M119.500 1529.8H117.5V1536.1H119.500M119.500 1534.5H115.4V1543.5H119.500M119.500 1539.5H115.8V1544.5H119.500M119.500 1542.1H116.7V1547.4H119.500M119.500 1544.5H115.7V1547.5H119.500M119.500 1545.6H117.2V1549.9H119.500M119.500 1548.4H116.7V1557.4H119.500M119.500 1554.1H117.4V1560.6H119.500M119.500 1558.4H116.9V1564.6H119.500M119.500 1561.6H116.9V1569H119.500M119.500 1565.2H114.8V1568.9H119.500M119.500 1567.1H115.2V1569.2H119.500M119.500 1567.8H115.9V1571.7H119.500M119.500 1570.4H117V1577.8H119.500M119.500 1573.3H117.4V1581.6H119.500M119.500 1578.3H116.5V1584.8H119.500M119.500 1580.9H118.5V1587.4H119.500M119.500 1585.8H115V1589.1H119.500M119.500 1588.6H117.5V1597H119.500M119.500 1594.9H117.7V1597.9H119.500M119.500 1596.2H116.1V1599.3H119.500M119.500 1597.1H115.1V1605H119.500M119.500 1603H117.6V1609.1H119.500M119.500 1607H116V1615.7H119.500M119.500 1612.2H117.5V1616.6H119.500M119.500 1614.3H114.8V1621.9H119.500M119.500 1617.7H115V1622.8H119.500M119.500 1619.8H116V1627.7H119.500M119.500 1623.2H116.8V1631.2H119.500M119.500 1628.6H117.4V1636.8H119.500M119.500 1632.4H116.7V1634.5H119.500M119.500 1633.9H115.3V1641.5H119.500M119.500 1639.1H115.5V1647.7H119.500M119.500 1643.2H116.8V1648.1H119.500M119.500 1647.6H118.1V1653.7H119.500M119.500 1651.9H115.7V1657.2H119.500M119.500 1654.6H115.2V1662H119.500M119.500 1657.4H117.2V1660.9H119.500M119.500 1659.2H115.8V1662.7H119.500M119.500 1660.4H117.7V1665.5H119.500M119.500 1663.3H114.6V1668.4H119.500M119.500 1665.7H114.7V1668.2H119.500M119.500 1667.8H117.8V1674.8H119.500M119.500 1670.4H118.2V1675H119.500M119.500 1673H118.3V1681.5H119.500M119.500 1675.6H116.8V1680.6H119.500M119.500 1678.1H115.9V1682.8H119.500M119.500 1680.2H117.4V1682.3H119.500M119.500 1682.1H117.9V1684.4H119.500M119.500 1683.5H114.8V1685.7H119.500M119.500 1684.9H115.7V1687.6H119.500M119.500 1686.1H116.4V1694.9H119.500M119.500 1690.3H118.4V1698.8H119.500M119.500 1696.5H118.1V1699.5H119.500M119.500 1698.2H117.4V1705.7H119.500M119.500 1703.4H117.7V1710.8H119.500M119.500 1707.7H114.9V1713H119.500M119.500 1710.5H115.4V1718.7H119.500M119.500 1716.6H115.3V1724.3H119.500M119.500 1722.4H118.4V1729H119.500M119.500 1725.9H117.9V1733.2H119.500M119.500 1729.8H116V1733.4H119.500M119.500 1732.3H117.9V1736.1H119.500M119.500 1734.1H115.8V1741.4H119.500M119.500 1738.5H116.4V1746.6H119.500M119.500 1744H116.4V1748.4H119.500M119.500 1745.5H116.3V1751.1H119.500M119.500 1748.2H115.9V1751.2H119.500M119.500 1749.7H117.7V1751.2H119.500" fill="none" stroke="#111" stroke-width="0.7"/>
<line x1="119.3" y1="1334.3" x2="119.3" y2="1751.2" stroke="#111" stroke-width="1.4"/>
<defs><linearGradient id="hg"><stop offset="0" stop-color="#4057af"/><stop offset=".12" stop-color="#4057af"/><stop offset=".5" stop-color="#fff"/><stop offset=".88" stop-color="#e93837"/><stop offset="1" stop-color="#e93837"/></linearGradient></defs>
<rect x="453.3" y="1254.9" width="110.2" height="20.9" fill="url(#hg)"/>
<text x="453.8" y="1243.2" font-size="9.8" text-anchor="middle" fill="#222">−2</text>
<text x="481" y="1243.2" font-size="9.8" text-anchor="middle" fill="#222">−1</text>
<text x="508.2" y="1243.2" font-size="9.8" text-anchor="middle" fill="#222">0</text>
<text x="535.4" y="1243.2" font-size="9.8" text-anchor="middle" fill="#222">1</text>
<text x="562.6" y="1243.2" font-size="9.8" text-anchor="middle" fill="#222">2</text>
<path d="M453.8 1249.500V1275.800M481 1249.500V1255.500M508.2 1249.500V1255.500M535.4 1249.500V1255.500M562.6 1249.500V1275.800" fill="none" stroke="#222" stroke-width="0.8"/>
<path d="M121.9 1752.800C121.9 1761 124.9 1766.700 130.9 1766.700H219.9C225.9 1766.700 228.9 1761 228.9 1752.800" fill="none" stroke="#111" stroke-width="1.2"/>
<text x="175.4" y="1764.3" font-size="13.6" font-weight="bold" text-anchor="middle">PR-3</text>
<path d="M231.9 1752.800C231.9 1761 234.9 1766.700 240.9 1766.700H329.2C335.2 1766.700 338.2 1761 338.2 1752.800" fill="none" stroke="#111" stroke-width="1.2"/>
<text x="285.1" y="1764.3" font-size="13.6" font-weight="bold" text-anchor="middle">PR-4</text>
<path d="M341.2 1752.800C341.2 1761 344.2 1766.700 350.2 1766.700H436.6C442.6 1766.700 445.6 1761 445.6 1752.800" fill="none" stroke="#111" stroke-width="1.2"/>
<text x="393.4" y="1764.3" font-size="13.6" font-weight="bold" text-anchor="middle">PR-2</text>
<path d="M448.6 1752.800C448.6 1761 451.6 1766.700 457.6 1766.700H547.3C553.3 1766.700 556.3 1761 556.3 1752.800" fill="none" stroke="#111" stroke-width="1.2"/>
<text x="502.4" y="1764.3" font-size="13.6" font-weight="bold" text-anchor="middle">PR-1</text></g>
<g id="panel-i"><text x="609.6" y="1242.5" font-size="60.5" font-weight="bold">I</text>
<path d="M941.6 1663.4L941.6 1491.8L944.2 1489L948.5 1572.7L953.5 1655L956.8 1678.7L960.1 1655L965.4 1572.7L970 1489L972 1491.8L972 1663.4L1009.8 1664.8L999.9 1677.3L985 1685L970 1691.3L956.8 1694.1L943.6 1691.3L930.3 1685.7L917.1 1677.3L907.1 1664.8Z" fill="#000" stroke="#000" stroke-width="2" stroke-linejoin="round"/>
<path d="M0 0m1940 2978zm-52 6zm1 1zm55 7zm-57 11zm1-4zm1-4zm49 2zm1 0zm2 5zm3-3zm-58 15zm0-1zm1-2zm1 1zm49-5zm5 2zm-53 11zm0 7zm1-8zm51 0zm-52 12zm47 3zm5-1zm3 8zm-57 3zm6 2zm43-1zm5-3zm1 12zm0-8zm-55 19zm0-8zm48 5zm6-1zm1 2zm1-7zm-9 22zm7-1zm-58 3zm11 8zm40-10zm1 10zm2-5zm1-2zm-51 10zm3 7zm0 4zm42-11zm1 7zm-45 13zm50-6zm-54 14zm14 13zm31-3zm5-3zm2 0zm-44 20zm4 2zm1-1zm38-8zm1 8zm0-8zm5 7zm-56 15zm0-2zm58-3zm-56 11zm1-1zm11 0zm0 1zm37 1zm-48 17zm5-5zm38-2zm8 13zm-51 18zm8 1zm31-5zm-40 14zm4-5zm6 4zm1-7zm36 2zm6 5zm3-4zm-46 14zm0-6zm5 11zm30-2zm12-8zm0 6zm-51 11zm10-6zm-17 19zm3 4zm33 0zm22-4zm-21 13zm2-7zm2 4zm16 2zm-51 9zm1-4zm1 12zm10-11zm31 7zm-52 15zm8-11zm42 11zm-32 11zm19-1zm4 1zm16-9zm-47 12zm5 6zm9 0zm37 4zm-142 12zm35 0zm22-1zm11 2zm21 0zm15-4zm2 4zm5-1zm8-1zm1 1zm14-6zm20 6zm3 0zm107 0zm66 1zm-364 1zm5 9zm15 1zm8-2zm7-5zm8 6zm12-8zm4 4zm4 3zm2-4zm0 7zm2-10zm5 6zm5-4zm3-2zm5 1zm7-1zm1 1zm2 3zm1-1zm1 4zm10-8zm0 9zm2 2zm1-5zm2-6zm8-1zm1 6zm0 0zm0 1zm1-2zm2 2zm1-3zm0-4zm4 5zm5-5zm3 11zm1-8zm1 9zm1-8zm1 1zm0 3zm0-2zm1-2zm3-1zm0 0zm2 1zm0-1zm1-2zm1 0zm4 0zm1 1zm3 1zm0-2zm2 7zm1-3zm1 5zm0-3zm0-4zm2 8zm0-2zm7-9zm0 11zm1-10zm1 6zm3 3zm0-10zm4 9zm4-5zm6-2zm2 8zm5-6zm1 3zm3 2zm4 0zm1-4zm1-3zm4 7zm1 2zm2-1zm1-8zm1 7zm0-2zm3-1zm3 2zm4-4zm0 1zm1-4zm1 5zm6-4zm0 8zm8-4zm1 0zm1-4zm12 0zm8 1zm1 2zm1-4zm3 8zm5-9zm29 11zm-281 5zm9-2zm27 9zm3 0zm1-7zm1-1zm4 8zm10-9zm2-1zm6 8zm1 2zm1 0zm0-3zm1-4zm2 6zm11-4zm0-1zm2 5zm2-7zm3 8zm1-5zm1 1zm2 1zm1-3zm0-3zm4 5zm1-1zm5-1zm4 4zm0-5zm0-4zm0 2zm6 8zm6 1zm0-4zm0 2zm1-6zm3 0zm1 2zm0 4zm1-5zm1 5zm3 1zm3-8zm0 8zm1-2zm1-1zm2-4zm1-2zm0 8zm1-4zm0 7zm0-5zm1-5zm3 7zm0-1zm1-7zm1 8zm4-4zm2-4zm3 3zm3 0zm1 1zm2 1zm1 0zm4 1zm3 0zm1 5zm0-6zm3-2zm0-1zm1 7zm1 0zm2-2zm5-4zm0 3zm2-3zm2 2zm1 1zm0 2zm4-9zm1 6zm0 2zm1 0zm1 1zm1-6zm1-3zm8 0zm5 1zm0 3zm1-4zm4 8zm5 0zm3-6zm1 2zm0 2zm7-6zm11 3zm0 5zm9 1zm1 2zm14-8zm-252 15zm20-2zm3-2zm17 3zm1-4zm1 9zm5-2zm5-1zm5 3zm1-7zm4 5zm2-4zm15 8zm3-8zm1 5zm1-1zm0-7zm2 2zm3-2zm1 3zm1 1zm1-4zm0 9zm1-4zm0 2zm1 0zm4 1zm1-7zm0 1zm0 1zm1 4zm4 2zm8-5zm1-3zm0 8zm2-2zm1 1zm2-6zm5-3zm0 2zm0 1zm2 6zm1-8zm0 1zm3 5zm1-6zm2 4zm0-1zm7-1zm4 7zm2-6zm0 7zm2-6zm2 5zm3-4zm4 1zm0-3zm1-2zm1 10zm1-7zm7-1zm1 3zm1 1zm0-4zm1 6zm4-2zm5 0zm1-2zm6 1zm1 0zm4 4zm1-7zm10-3zm0 5zm1-5zm10 2zm109 0zm89 9zm-349 2zm11 1zm5 0zm9-2zm5-1zm2 3zm1 2zm1-1zm4-2zm5 0zm1 6zm5-7zm0 7zm2 0zm3-6zm2 5zm5-1zm10-4zm8 2zm2-2zm0 4zm2-5zm1 3zm1 0zm0-1zm1 3zm1 0zm2 0zm2-1zm1-5zm14 0zm6 1z" stroke="#000" stroke-width="10.6" stroke-linecap="round" fill="none" transform="scale(.5)"/>
<path d="M940.2 1663.4L940.2 1496L936.9 1484.8L930.3 1503L925.3 1537.8L918.7 1565.8L907.1 1579.7L892.2 1588.1L882.3 1602L877.3 1621.5L879 1643.9L885.6 1663.4Z" fill="#4560ae" stroke="#4560ae" stroke-width="2" stroke-linejoin="round"/>
<path d="M0 0m1824 2663zm3 19zm30 11zm-46 14zm20 51zm3 2zm20 0zm-41 23zm31-3zm3 6zm-23 25zm20 0zm18-3zm-78 11zm43 0zm37-3zm-31 11zm3 10zm11-1zm-78 4zm35 4zm31 2zm2-7zm16 1zm15 5zm-34 13zm29 1zm4-7zm7 3zm-199 14zm14 4zm3-9zm89 1zm8 7zm37-7zm25 5zm3-4zm0-3zm10 6zm8-5zm-110 12zm36 7zm10-8zm10 11zm31-8zm4 8zm-141 11zm9-2zm14-1zm46-8zm54 3zm6 5zm26-7zm4 5zm5 2zm-224 9zm41 4zm29-7zm108 6zm0 1zm30 3zm1-5zm10-3zm2 5zm3-9zm4 2zm-179 13zm22 7zm12-4zm10-4zm7-2zm1 7zm21-3zm46 6zm5-3zm5-1zm15 1zm10 3zm2-1zm10 0zm-268 9zm56 2zm67 1zm74 2zm11-7zm1-4zm21 12zm8-11zm18 8zm2-1zm0 1zm1-8zm6 1zm0 0zm1 4zm2 4zm2-10zm3 2zm2 2zm1-3zm5 6zm-217 7zm5 9zm9-6zm5 4zm29 2zm13 0zm7-3zm6 1zm88 0zm21 3zm2-9zm5 6zm2 0zm2-6zm1 8zm0-4zm1-5zm6 8zm2-2zm11 0zm1-5zm-226 19zm19-7zm33 2zm41-1zm13 2zm2 4zm3-9zm37 1zm3 6zm10 2zm4-4zm10-3zm4 6zm8-3zm3 2zm1-5zm2 4zm3-3zm1-2zm0 10zm2-1zm7-2zm2 0zm0-4zm0-4zm1 8zm1-3zm2 0zm8 5zm2-9zm1 2zm1-3zm1 4zm0-5zm2 10zm-334 5zm63 4zm115-4zm20 2zm3 2zm5 4zm1-4zm6 2zm1 2zm4-2zm3-7zm27 8zm5-4zm21-2zm1 0zm3 6zm2-8zm0 9zm4-5zm4-3zm4 3zm2-1zm2 1zm4-2zm3-4zm1 7zm2-2zm2-5zm2 6zm1 0zm1-1zm1 3zm12-4zm2 4zm0-5zm2 0zm1-1zm0 8zm-283 12zm125 2zm16-7zm25 1zm10 3zm27 0zm3-2zm5 3zm1-5zm2-5zm3 0zm0 4zm1 4zm5 3zm4 0zm3-4zm8-4zm2 4zm5-6zm1 9zm1-8zm2 1zm6-3zm1 8zm5-7zm5 0zm2 5zm0-5zm5 11zm1-8zm0-1zm0 0zm1-2zm1 10zm1-5zm0 3zm0-9zm1 3zm1 5zm0 0zm2-1zm4 0zm0-7zm2 1zm-315 13zm59 5zm84 4zm56-1zm11-6zm15-1zm6 5zm3-5zm4-3zm2 7zm17-3zm7 1zm6 4zm0-8zm2 11zm0-10zm1-1zm5 1zm3 7zm2 2zm1-6zm1 7zm2-8zm2 0zm4 1zm2 1zm0 5zm2-10zm1 8zm3-9zm0 2zm1 2zm4-2zm1 7zm1-2zm2 3zm1-1zm1 0zm1-7zm1 2zm-462 12zm181 1zm96-1zm33-3zm3 4zm5 7zm13-5zm0-6zm7 10zm7-9zm18 2zm5 5zm8-5zm13-3zm4-1zm1 3zm5 0zm3-2zm1 5zm10 0zm3 1zm2-3zm1-4zm1 10zm4-8zm10 1zm1 4zm0 2zm1-7zm1 6zm1 4zm0-12zm2 7zm0-3zm1 5zm0-6zm2 6zm2-3zm2 3zm1-1zm1-3zm0 5zm0-8zm1 1zm1 2zm0 7zm0-3zm1 0zm1 2zm0-6zm2 4zm4-5zm0-2zm-247 19zm56-8zm76-1zm7 12zm20-9zm7-2zm1 5zm26 3zm2-7zm2 6zm0-4zm7 1zm3 6zm0-7zm1-1zm2 8zm2-2zm0 0zm0-8zm4 3zm1 1zm0-2zm1 1zm2 1zm0 5zm1-7zm0 4zm0-7zm1 2zm1 4zm1 3zm2 1zm2-2zm4 2zm1-7zm0 5zm1-2zm0-1zm1-2zm0 1zm1-3zm3 2zm0-2zm1 3zm5 2zm0 2zm1-1zm0 4zm2-4zm-289 6zm21 9zm12-8zm2 5zm58-4zm6-2zm2 3zm32 3zm4-2zm10-1zm5 0zm9-4zm18 11zm35-2zm0-6zm5-2zm6 6zm1 4zm5-8zm5 2zm2-2zm1 9zm1-7zm1 3zm4-8zm4 12zm2-5zm1 0zm4 4zm2 0zm0-2zm1-8zm2 3zm0 1zm0 1zm1 5zm5 0zm1-1zm3-2zm3-3zm0-5zm0 7zm0 3zm1-2zm2 4zm0-5zm2 1zm0-3zm1-4zm1 4zm2 6zm0-7zm0 2zm2-5zm2 8zm1-3zm0 1zm-416 12zm121-7zm102 1zm2 3zm20-2zm31 1zm21 0zm4-1zm32 4zm10 5zm8-11zm5 2zm4 8zm1-1zm8-7zm2 9zm1 0zm3-4zm1-7zm5 9zm1-6zm4-2zm2 8zm1-2zm3-2zm0 4zm3-1zm1-5zm0 1zm2 4zm0-4zm0 7zm1-10zm0 9zm1-8zm0 3zm0 6zm1-2zm0 1zm1-3zm0-1zm1 4zm1-9zm0 5zm2-5zm5 2zm1 6zm1-1zm2-5zm-250 21zm55-3zm7-1zm24 4zm30 0zm1-6zm36-5zm18 1zm13 0zm8 10zm6-9zm3 0zm1 3zm1 3zm1-7zm0 10zm1-12zm1 1zm3 10zm0 0zm1-2zm1-1zm0-2zm3-1zm2 5zm3-5zm2 4zm1-8zm1 6zm1-2zm1-2zm1 6zm1-6zm2 7zm2 0zm0 2zm4-5zm0 2zm2-7zm1-2zm1 3zm0 2zm1-1zm5 4zm1 1zm1-4zm1 0zm4 0zm-142 17zm7-3zm1-1zm2 5zm10-7zm1-2zm4 7zm29 1zm10-1zm2-7zm9 0zm1 3zm4-5zm3 6zm7-4zm2 4zm5 0zm3 5zm2 1zm0-8zm2 7zm1-8zm1 5zm0-3zm3-2zm0 2zm4-2zm0 8zm1-8zm3 2zm0 2zm1 1zm0-3zm2 7zm2-5zm5-4zm0-1zm0 7zm9-1zm1-2zm1-6zm0 5zm1-5zm0 4zm1 3zm1 5zm-340 10zm27 0zm138-9zm36 4zm13 2zm51 2zm3-3zm4 3zm0-9zm2 9zm1-5zm8 7zm3-9zm1 10zm1-2zm0 1zm5 0zm7-1zm2 0zm5-9zm1 1zm2 1zm0 2zm1 3zm3 1zm0-8zm5 3zm3 1zm0-3zm0-2zm1 11zm0 0zm3-7zm10 0zm1-2zm0 3zm3 1zm0 4zm1-2zm-236 9zm13 1zm1-2zm67 6zm4-8zm13 2zm2 4zm16-7zm4 8zm43 1zm2 1zm3 1zm1-2zm0 1zm1 0zm10-5zm5 1zm1-1zm0-3zm2 6zm5-7zm2 8zm1 0zm1-7zm4 8zm2 1zm0-11zm2 2zm0 3zm1 4zm2-1zm1 1zm0-4zm1 1zm2-4zm2-2zm1 5zm2 5zm0-8zm14 8zm3-8zm0 7zm0 1zm1-1zm0-8zm1 4zm-341 14zm133 1zm45 3zm12-3zm6 2zm14 1zm15-9zm4 4zm12-4zm5 1zm5 2zm15 2zm20 1zm1-1zm1 2zm8-5zm0-4zm1 9zm0-5zm4 6zm2-5zm1-2zm2 2zm0 1zm0 0zm2 1zm0-4zm2-4zm1 1zm2 9zm1-2zm1-4zm0 1zm1 5zm1-2zm0-5zm1 4zm1-7zm0 9zm1-8zm14 3zm1-1zm1 2zm1-5zm2 12zm-239 10zm42-10zm3 4zm35 2zm13 1zm2 5zm7-11zm2 4zm19 3zm2 4zm22-3zm1 0zm1-5zm5 4zm1 1zm1 1zm2-4zm3 3zm1 2zm13-7zm2 3zm3-2zm0 0zm4 0zm2 3zm3-1zm0-2zm7 3zm1-1zm0 2zm3-4zm1-2zm2 2zm1-2zm2 7zm1-5zm0 6zm1-6zm0-4zm2 4zm1 4zm1-2zm1 1zm0 0zm4-1zm1-7zm0 3zm16 4zm1 1zm0-2zm2 0zm0 4zm0-9zm3 8zm0-5zm1 5zm-195 3zm5 3zm24 3zm3-3zm12 7zm19 1zm3-6zm9 3zm2-7zm3 2zm5 4zm2 2zm2 1zm14-2zm2 1zm1-8zm1-1zm0 8zm6-6zm0 10zm7-3zm4 2zm4-4zm0 4zm1-1zm5-3zm1-2zm1 2zm1 1zm4-6zm1 0zm2 3zm7-4zm1 5zm3 4zm0-7zm1 1zm1-2zm1 5zm1-6zm1 5zm3-4zm1 5zm1 1zm0 2zm1-7zm2 2zm1-5zm0 1zm20 0zm3 11zm3-9zm-202 13zm6 0zm3 5zm10 2zm1-2zm33-1zm3-8zm2 3zm1 0zm9-2zm2 5zm8-6zm5 10zm2-8zm5 6zm4-3zm0 1zm2 6zm4-8zm1 6zm0 2zm0-8zm7 3zm8 2zm0-2zm15-1zm2-1zm2 3zm4-1zm1 4zm0-2zm2-8zm1 4zm0 3zm3 4zm0-3zm1-8zm1 10zm2 1zm1-2zm3-7zm0 4zm2 1zm0-4zm0 1zm1-2zm1 8zm0-4zm2 5zm0-11zm1 4zm2 5zm3-1zm1 1zm0-5zm2 0zm0 6zm2 0zm0-11zm0 8zm25-5zm0 2zm1-2zm0 7zm1-9zm0 3zm0 5zm1-8zm1 9zm-212 14zm16-8zm11 7zm9-2zm11-7zm27 7zm1 2zm2-8zm0 8zm8-8zm3 0zm1 8zm1-5zm1-5zm4 6zm0-7zm2 3zm1 9zm1-2zm5-3zm4 0zm0 0zm2-6zm2 0zm5 7zm3-1zm3 5zm1-2zm0-8zm2 2zm3-2zm7 1zm0 3zm2 0zm4-4zm2 9zm2-5zm4-6zm3 3zm0 8zm3-8zm2 9zm0-5zm1-4zm0 1zm1 4zm1 3zm1-10zm0 7zm1-1zm1-4zm0 5zm1-1zm0 0zm0 1zm2 1zm1-6zm0 9zm0-12zm1 5zm1 2zm2-7zm2 7zm1 3zm0-9zm2 0zm0 2zm0 0zm3 0zm1 0zm0-2zm26 4zm1-3zm1 1zm0 8zm2-11zm0 1zm1 10zm-306 8zm40 2zm77-5zm12-3zm11 2zm3 3zm1-3zm9 4zm5 4zm1-8zm14 7zm4-9zm1 8zm3-2zm6 2zm1-5zm0 3zm8-3zm1-1zm2 3zm1 4zm7-9zm4 11zm9-9zm0 6zm1-4zm1-3zm0 8zm1-4zm0 5zm5 0zm0 1zm1-2zm0 2zm1-2zm0 1zm0-5zm1-4zm0 2zm1-3zm0 6zm2 3zm2 0zm0-3zm2 1zm2 0zm1-1zm2-5zm0 4zm2-5zm1 9zm0 2zm0-7zm2-2zm0 1zm3 3zm1 0zm2-2zm3 6zm1-8zm0 1zm1-4zm1 3zm0 3zm0 1zm0-5zm1 0zm1 6zm41 3zm1-11zm0 9zm1 0zm1-1zm2-1zm-203 8zm19-1zm4 6zm13 0zm6-6zm2-1zm2 8zm0-2zm9-7zm0 11zm0-7zm6-2zm0 9zm10-11zm1 10zm4-2zm1 3zm0-10zm1 1zm1 6zm2 1zm5-4zm0-1zm1 8zm4-11zm1 9zm0 0zm2 2zm6-1zm1-10zm5 5zm2-1zm2 5zm1-5zm2-2zm1 5zm2 4zm1-5zm1 2zm2-4zm1 1zm1 3zm1-6zm0 0zm0 9zm0-5zm6-5zm3 5zm3 3zm1-5zm0 6zm3-10zm0 6zm4-1zm4 1zm2-7zm48 7zm1 3zm1-9zm0 9zm1-3zm2-5zm0 2zm1 5zm-167 14zm6-6zm6 4zm8 0zm2-1zm1-3zm0-4zm4 10zm1-10zm1 8zm1-5zm4 5zm6 3zm2-2zm0-9zm0 3zm1 3zm3-6zm0 4zm1-2zm2-2zm0 7zm0 1zm0-9zm3 5zm1 4zm1-5zm2 8zm3-8zm3-1zm0 0zm4 1zm0 2zm2 2zm0-4zm3-4zm1 2zm2 7zm1 1zm1-7zm0 3zm1-2zm1-4zm0 4zm1 2zm2-2zm2 4zm1-4zm1 1zm0-4zm0 7zm2-5zm1 4zm0 2zm0 0zm1-2zm1-3zm2 1zm6-2zm0 0zm1-2zm62 7zm0-3zm0 1zm3 1zm1 4zm-174 4zm3 1zm1 8zm9-10zm2 10zm6-9zm2 3zm1 2zm5-7zm5 0zm1 10zm1-9zm1 7zm2-4zm1-3zm3 0zm2 8zm4-2zm0-2zm2-3zm1-1zm1-2zm3 8zm1-6zm1 2zm3 8zm0-2zm3-7zm0 1zm1-2zm0 2zm1-2zm1 7zm1 1zm1 0zm0 1zm0-2zm0 1zm1-6zm2 0zm1-1zm1 2zm2 6zm0-2zm1-3zm0-1zm0 4zm0 2zm1 0zm1-4zm0-5zm1 3zm2 1zm0 6zm1-2zm1-5zm5-3zm1-1zm79 8zm1 0zm4-1zm-192 8zm4 3zm0 4zm1-11zm30 1zm6 2zm0-2zm11 6zm3 1zm7 4zm3-10zm0 6zm1-8zm3 9zm2-2zm0 1zm1 1zm1-2zm5-6zm0 10zm1 1zm0-3zm1 2zm1-9zm1 9zm1-6zm1 5zm0-3zm1 0zm1-7zm0 4zm0 7zm1-8zm0-2zm1 1zm0 7zm3 0zm0-9zm1 8zm0 1zm0-3zm96-3zm1-2zm0 5zm0 2zm1-1zm0-4zm0 4zm1 3zm1 0zm1-10zm1 1zm-181 14zm2 5zm7-3zm12-3zm21 6zm1 1zm2-7zm3 0zm3 3zm1 6zm1 1zm3-1zm1-9zm0 6zm1 0zm2 0zm0-4zm1 3zm0 2zm2 1zm2 0zm0-8zm0 0zm2 4zm0 5zm0-10zm1 6zm0-2zm0 0zm3-4zm0 8zm2-9zm1 11zm101-4zm1 1zm2 1zm1 1zm1-1zm1 2zm-169 9zm5-3zm2 6zm4 1zm7-4zm6-3zm0-1zm0-2zm3 2zm0-1zm3 9zm7 0zm0-3zm1-8zm1 3zm1 6zm0-7zm0 1zm1-2zm4 5zm1-1zm1 2zm0 4zm1-5zm0-5zm1 9zm2-2zm0-5zm1-4zm1 7zm0 4zm1-4zm1 3zm0 1zm1-4zm0 3zm2-2zm2-7zm102 6zm1 2zm0 1zm0-3zm0-6zm2-1zm1 5zm0 0zm0 3zm1 3zm0-6zm1 3zm-158 9zm4 2zm2-3zm1-3zm1 1zm8 1zm5-2zm2 9zm1-5zm2-4zm1 2zm0 8zm1-3zm1 0zm1-2zm1 5zm1-8zm1 7zm1 1zm0-7zm0-3zm1 3zm0 8zm0-8zm3-2zm2 4zm1 0zm0 4zm1-9zm2 2zm0 2zm0-1zm2 1zm0 3zm0-3zm1-5zm1 5zm104-3zm1 6zm1 4zm0-3zm0-7zm1 7zm1-5zm1 1zm2-5zm0 9zm-153 11zm2 4zm1-7zm3-5zm4 3zm2 5zm5 2zm1 1zm2-6zm1-1zm1 0zm0 1zm1-4zm2 10zm0 0zm1-9zm0-1zm2 1zm0 4zm0-4zm1 1zm0 7zm0-9zm3 4zm0 1zm0-4zm1-1zm4 10zm0-9zm0 9zm1-9zm0 9zm3-10zm0 2zm0 5zm0 0zm105 0zm1-7zm0 4zm3 3zm0-7zm1 6zm0-2zm1-3zm-154 13zm1-2zm3 6zm0 0zm0-3zm2-1zm0 2zm2-2zm4-2zm1 4zm4 6zm2-7zm1 7zm1-6zm9-1zm1-4zm1 9zm1-4zm1 5zm0-6zm0 0zm2 3zm1 0zm0-1zm2-5zm0 8zm2 0zm0-2zm1 1zm0-6zm0 1zm0 4zm1 4zm0-2zm108-4zm0 0zm1-3zm-138 12zm5 2zm1 0zm1 1zm1-1zm0-4zm1 8zm1-8zm0 6zm1 3zm2-2zm0-4zm2-1zm0 4zm1 5zm1-7zm1 4zm1-1zm1-1zm1 3zm0-8zm0 4zm3 4zm2-3zm1-1zm0-1zm0-1zm0 3zm1 4zm1-7zm3 8zm102-5zm1-4zm2 4zm1-4zm1 2zm2 6zm0-4zm0-4zm-139 12zm2 1zm5 7zm0-8zm1 0zm0 0zm0 6zm1 1zm1-3zm2-5zm0 7zm1 4zm1-3zm2-4zm1 0zm0 6zm0-9zm0 7zm1-3zm1 5zm0-1zm0-4zm1-4zm1 2zm0 1zm2 3zm0-7zm0 10zm0-10zm0 2zm2 3zm1-3zm0 7zm1-4zm2-5zm0 2zm1 3zm103-5zm4 6zm1-2zm0 3zm1-1zm-128 6zm1 5zm3 2zm2-1zm1 1zm9-6zm2-2zm1 6zm0-1zm0-3zm2 2zm2 3zm1 2zm98-1zm1-5zm1 7zm0 0zm2-2zm0-1zm-118 9zm1 1zm0-3zm2 3zm1 0zm3 1zm1-4zm1 1zm1 9zm0-3zm1 3zm0-6zm0-2zm3 3zm0-4zm2 3zm0 6zm0-3zm1-3zm1 6zm1-5zm0-4zm0 3zm0 3zm1 3zm0-5zm6 2zm1 2zm3-4zm6 2zm1-1zm0-1zm5 2zm2 0zm3 1zm6-1zm1-1zm1 1zm4 0zm6 2zm2 0zm0-3zm1 0zm6 1zm1 1zm1-1zm3 0zm6-2zm4 1zm0 0zm0 2zm3 2zm1-2zm4-2zm1 0zm1 1zm2 1zm0 1zm0 0zm3-1zm7 1zm0 1zm1-1zm1-4zm1 3zm0 1zm1 0zm1-5zm2-5zm0 5zm-105 14zm0-8zm10 2zm6 0zm3 1zm18 0zm10-1zm6 0zm2-1zm4 1zm5-1zm1 0zm2 0zm1 0zm0 2zm8 0zm7-2zm1 1zm3 0zm2-1zm1-1zm1 3zm5-2zm4 1z" stroke="#4560ae" stroke-width="10.6" stroke-linecap="round" fill="none" transform="scale(.5)"/>
<path d="M973.4 1663.4L973.4 1490.4L976.7 1461.1L983.3 1482L989.9 1516.9L996.5 1537.8L1006.5 1554.6L1019.7 1568.5L1031.3 1582.5L1037.9 1600.6L1039.6 1628.5L1036.3 1649.5L1031.3 1663.4Z" fill="#e8403a" stroke="#e8403a" stroke-width="2" stroke-linejoin="round"/>
<path d="M0 0m2000 2685zm3 75zm-13 9zm17 30zm85-2zm14-6zm82 3zm-175 8zm0 9zm30 0zm-83 8zm13 0zm7 0zm26 0zm16-4zm16 2zm-90 14zm15 2zm7 3zm36-1zm2 13zm67 2zm61-4zm-176 8zm2 4zm0 3zm5-6zm3 6zm4-9zm4 0zm20 3zm16-4zm38 6zm-102 13zm3 3zm1-6zm2 4zm1-6zm4 1zm0 4zm1-2zm0 5zm9-3zm1 2zm4-3zm10 3zm22-8zm7 2zm122-1zm-187 16zm12-4zm12 0zm1 7zm4 0zm2 2zm3-11zm6 10zm7 0zm27 0zm8-10zm22 3zm-105 19zm3 1zm8-3zm1 2zm5-3zm0 1zm2-1zm1 1zm1-1zm4-6zm6 1zm28 3zm3-3zm2 9zm6-10zm94 7zm112 2zm-278 12zm6 0zm6-3zm1 1zm4-1zm3-2zm2-6zm1 5zm5-3zm12 6zm7-3zm49-4zm47 10zm10-6zm-150 13zm1-1zm0 3zm0-4zm0 0zm1 0zm2 4zm0 1zm1 0zm4-3zm2-1zm0 2zm1 2zm1-5zm3 3zm0 3zm1-2zm2-3zm2-2zm0 4zm3 2zm1-3zm2 0zm5 1zm2 3zm5-5zm3 6zm9-1zm6-8zm26 5zm61-1zm85-3zm2 6zm70 0zm-303 6zm2-1zm2 9zm0 0zm3-6zm0 2zm1 3zm1-7zm0 8zm2 0zm0-1zm2-4zm1 1zm2-7zm4 4zm3 2zm5 6zm3-6zm14 0zm0-1zm2 4zm3-6zm1 4zm2 3zm0-2zm6-2zm13-6zm49 4zm13 4zm50 1zm23-3zm30-3zm-236 10zm0 10zm1-4zm0-4zm0 5zm2-2zm1-2zm0 3zm0 4zm1-9zm1 0zm1 6zm1 1zm8 2zm9-11zm1 8zm1-1zm1 0zm6 5zm11-10zm0 0zm1 2zm1 6zm3-1zm14-9zm5 11zm5-5zm11 3zm1-4zm0-4zm41 2zm47 1zm23 1zm34-1zm96 4zm-328 12zm1-8zm0 2zm1 9zm1-3zm0 1zm0-6zm2-3zm0 3zm2-3zm1 0zm0 0zm0 8zm2-6zm1 7zm1-1zm0 1zm1-8zm1 1zm3 4zm0 6zm3-7zm1 7zm6-4zm4 0zm0-2zm3 2zm5 0zm2-5zm14 6zm4-4zm2-3zm5 8zm6-2zm1-5zm7 1zm50 5zm23-6zm6 0zm75 6zm10-4zm15 6zm-260 1zm1 12zm0-9zm3 0zm0 7zm2 1zm1-2zm2-3zm1-5zm0 1zm2 9zm2-4zm5 1zm1-7zm0 7zm1 1zm1 2zm1-9zm2-1zm0 4zm3 1zm0 5zm1 0zm5-6zm0 6zm0-10zm0 0zm4 7zm0-2zm0 2zm1-1zm1-4zm0 5zm16-4zm6 2zm3-1zm1-1zm1 8zm43-7zm63 7zm39-7zm7-3zm43 4zm-255 7zm0 2zm1 0zm1 6zm0 0zm0 1zm3-5zm0 2zm1-2zm2 0zm2 1zm1 2zm2-4zm0-2zm3 9zm0-2zm7-2zm0 3zm1-5zm2 7zm2-7zm2 6zm4-5zm0-4zm1-1zm2 6zm7-2zm4 5zm3-4zm21 5zm2-2zm66-3zm2-3zm23 4zm23 5zm-188 11zm0-10zm1 6zm1-2zm0 0zm0 0zm5 1zm1-2zm2 1zm0-3zm1 9zm1-5zm0-5zm1 9zm2-6zm1 1zm3 0zm1-4zm1 1zm0 4zm2 3zm1-2zm3-4zm0 3zm1-1zm2-3zm0 7zm2-2zm1-4zm4-2zm6 5zm0 6zm1-8zm2 7zm10-7zm5-3zm9 9zm58-10zm13 3zm29 8zm10-11zm24 2zm8 2zm68 1zm-284 19zm1-1zm0-8zm3 4zm3 1zm6-5zm2-2zm1 6zm0 2zm4 2zm1-8zm2 7zm0 0zm0-3zm1-2zm1 7zm0-9zm2 0zm0 3zm2-4zm1-1zm3 5zm0-2zm1 3zm4-2zm2 4zm5-4zm5 2zm2-5zm2 8zm2 1zm8-3zm24 1zm52 2zm3-10zm0 0zm110 7zm2-2zm-253 8zm0 4zm0-1zm0 3zm2 2zm1-7zm1-3zm9 1zm3 7zm0-5zm0 1zm1 0zm4 1zm1-5zm2 3zm2 3zm2-3zm2 6zm1 2zm1-10zm1 0zm3 5zm2-1zm0 6zm3-2zm0-4zm2 5zm3 0zm0-7zm2-2zm4 9zm1-5zm6-2zm1 4zm9-3zm4 4zm49-5zm26 6zm18-3zm87 2zm11 0zm4-7zm-269 18zm0-2zm1-4zm1 2zm1-3zm1 2zm0 4zm1-5zm1 6zm11-1zm2 4zm0-9zm0-1zm2 3zm0 4zm0 5zm2-12zm0 1zm2 1zm0 9zm1-8zm1 5zm2 0zm2-4zm1-1zm0 1zm3 8zm1-4zm1-8zm1 2zm2 7zm3-2zm1 2zm0-8zm1 2zm3 3zm0-4zm2 2zm4 2zm2-5zm20 6zm80-1zm23 3zm7 0zm39-4zm9 2zm3-4zm-237 19zm1 1zm1-7zm0 7zm0-2zm0-2zm1-5zm0 5zm0 2zm1-2zm14-6zm1 2zm1 5zm2-2zm1-6zm0 5zm1 0zm0 2zm1 0zm0 1zm1-3zm4 4zm1-8zm2 1zm1 7zm2 1zm0-2zm1-1zm1-3zm2-1zm1 6zm0-9zm1 11zm2-4zm0-1zm1 2zm1-4zm3 5zm1-6zm3 0zm4 3zm9 2zm1-4zm2 5zm7 3zm76-8zm7-2zm-160 17zm2 4zm1-9zm22 0zm1-1zm0 4zm3 4zm2-6zm0 5zm4 2zm0-7zm2 5zm1 3zm2-9zm0 6zm3-6zm1 2zm1 4zm0-6zm5 7zm0-2zm2 1zm1 1zm7-5zm16 8zm1-11zm1 10zm6-7zm5-2zm9 6zm3 1zm64 1zm124 1zm13-8zm-302 19zm1-1zm2 0zm0-4zm1 3zm0-3zm2 6zm0 0zm22-6zm1 6zm0-2zm0-8zm1 1zm0 0zm1 5zm5 2zm1-3zm0-1zm1 0zm0 5zm0-7zm1-3zm0 3zm0 9zm2-10zm3 4zm0 2zm3-7zm2 10zm3-5zm3 4zm2-3zm1-2zm5 7zm1-2zm4-5zm1 6zm3 0zm2-5zm1 4zm3-1zm0-4zm5 6zm4-5zm4 1zm6-3zm23 3zm152-5zm-272 13zm1 4zm1 3zm0-2zm0-4zm1-2zm1 1zm1 7zm1-5zm1 1zm23-3zm4 4zm1-6zm0 8zm1-2zm0 0zm0-5zm2-2zm1 10zm1-5zm5 4zm1 2zm1-9zm1 10zm1-1zm3-5zm0-1zm0-1zm5 1zm3 3zm3-7zm6 10zm2-10zm0 6zm3 3zm1-8zm0 4zm2 2zm3-5zm3 2zm3 0zm3 3zm1-8zm1 6zm0-6zm4 9zm3-4zm4 5zm17-3zm4-2zm4-1zm2 8zm0-10zm28 9zm22-10zm7 6zm12 0zm6-3zm13 2zm-217 18zm3-3zm1-7zm3 2zm31 6zm2 1zm3-1zm0-5zm1-3zm0-1zm0 0zm2 0zm1 6zm2 0zm2-2zm1-5zm1 1zm0 11zm0-7zm2 4zm1-1zm0-5zm1 6zm1 2zm2-2zm0-3zm1 6zm0-10zm4 7zm2 0zm8-2zm1-1zm0 2zm3-6zm10 6zm3 2zm0-3zm21-5zm4 1zm48 9zm68 0zm22-9zm106-3zm-361 13zm1 1zm0-2zm1 10zm1-5zm0 1zm1 1zm0 4zm2-3zm35-7zm4 3zm0 7zm1-5zm2 0zm1 0zm0-3zm1 5zm1-1zm3-5zm0 0zm1 2zm0 1zm1 1zm0 3zm4 2zm0 0zm1-10zm0 3zm0 0zm1 3zm0-1zm1-4zm4 0zm1-1zm1 4zm5 7zm0-11zm4 3zm1-1zm4-2zm0 9zm4-7zm2 0zm5 3zm2 5zm11-9zm3 7zm12 1zm19-2zm2 3zm7-9zm20 6zm49-2zm-218 17zm1 0zm1-9zm1 5zm1-7zm1 5zm1-1zm44 1zm4 6zm2-10zm1 8zm4-2zm0 3zm1-8zm1 9zm2-7zm2 4zm2-1zm4 1zm0-5zm2 0zm1 5zm3-5zm2 0zm0 8zm5-2zm0 3zm2-8zm1 2zm1 3zm5 1zm2-2zm2-4zm2-2zm0-1zm3 11zm6-4zm6 3zm2-2zm2-4zm23 0zm2-1zm2-3zm15 1zm0 0zm32 0zm51 7zm-244 14zm0-3zm1-1zm0 0zm0-3zm1 1zm0 5zm1-9zm0 6zm1-3zm0-2zm0 6zm1-4zm48-2zm2 1zm0 1zm2 2zm1 2zm1-3zm0 6zm1-4zm0-3zm0 3zm3 0zm2-3zm2 3zm0-2zm8 1zm3-3zm1 5zm3-7zm0 3zm1 4zm2 3zm1 1zm16-10zm2 6zm0-3zm5-1zm0 5zm2 2zm15-7zm16 6zm13-3zm5-3zm29-3zm84 11zm60-8zm-335 14zm1 1zm2-5zm0 6zm0-3zm1-1zm0 1zm0-3zm2 8zm1 1zm0 0zm0-11zm60 4zm7 5zm0-6zm0 5zm1 2zm2 0zm2-8zm0 6zm0 4zm1-11zm0 0zm0 0zm1 4zm2-2zm2 9zm1-11zm1 4zm0-1zm0 3zm0-2zm2-1zm3 2zm0-5zm0 7zm1 0zm2-1zm0 2zm1-6zm1 7zm2-4zm1 5zm0-6zm5 3zm2-1zm5 2zm0 1zm2-3zm2 2zm1-4zm10-3zm2 4zm3-5zm9 2zm7 5zm23 0zm9 2zm6-2zm-186 9zm0-5zm2 9zm0-4zm1 5zm0-5zm2 5zm0-9zm1 0zm0 10zm75-8zm2 6zm2-8zm1 4zm0-3zm0 2zm1 4zm0 0zm1-7zm1 4zm1-2zm0 5zm0 0zm1 1zm1-4zm1 6zm1-4zm2 5zm3-4zm1-1zm1 0zm4 0zm3 2zm0 1zm3-9zm2 4zm1 1zm1-3zm0-1zm2 3zm2 3zm5 3zm1-7zm1 1zm4 1zm4-4zm1 2zm1 6zm9-9zm5 3zm9 3zm18-6zm10 10zm5-1zm13-8zm16-1zm60 0zm-280 17zm5-5zm1 2zm83-2zm4 9zm1 0zm2 0zm0-9zm2-1zm0 7zm2 0zm1-4zm1 1zm1 6zm0-1zm0-9zm0 2zm1 0zm0 0zm0 6zm2 2zm0-8zm1 4zm0 5zm1-11zm4 6zm0 4zm0-3zm1 1zm0-1zm0-4zm1 0zm2 3zm0-6zm0 11zm1-10zm1 3zm0 3zm1-5zm0 8zm3-2zm1-3zm1 2zm4 2zm10-8zm2 3zm7 0zm2 4zm1 3zm33-9zm94 0zm-278 11zm1 4zm1 5zm1-5zm4 0zm89-3zm5 2zm6 1zm0-1zm0 2zm1-4zm1 3zm0-3zm3 4zm0 5zm0-5zm1-1zm0 1zm1 1zm3-3zm2-1zm0 7zm1-3zm0-3zm0 2zm1 2zm4 2zm0-9zm4 8zm3-4zm0 2zm4 3zm1-8zm4 8zm8-9zm2-1zm12 12zm12-1zm17-2zm24 0zm-214 8zm1-2zm0-1zm1-1zm102 1zm0 3zm3 5zm1-4zm0-5zm0 4zm3-3zm0 5zm0 3zm3-6zm0-2zm2 6zm1 1zm2 0zm4 0zm6-4zm0 5zm1-1zm5-9zm2 11zm4-9zm0 4zm1 4zm5-7zm3-1zm2 9zm3 1zm1-11zm2 9zm3-3zm2 4zm1-5zm7-1zm6 1zm9 3zm6-3zm2 3zm-194 9zm0-2zm1-1zm1 6zm1-8zm0 1zm2 7zm103-8zm2 2zm1 8zm0-3zm0-5zm3 2zm0 5zm2 0zm2 2zm0-5zm1 0zm0 3zm1-9zm0 7zm0-3zm1-1zm2 8zm1-9zm0 6zm0-5zm2 7zm2-9zm1 4zm0 3zm1 0zm3 0zm4 1zm1-5zm1 7zm2-9zm5 4zm1 0zm6-1zm1 0zm3 4zm6-7zm7 1zm1 2zm4 5zm17-11zm63 10zm-257 12zm1-5zm1 1zm1-1zm1-3zm1 0zm1 9zm0-1zm110-5zm0 6zm1-10zm2 9zm0-6zm0 6zm3 1zm0 0zm0 1zm1-2zm0-3zm0 3zm1-8zm1 9zm4-5zm0 0zm0 6zm1-1zm0-2zm5 1zm1-2zm0-1zm2 2zm0-8zm0 6zm2 0zm8-4zm2-3zm0 10zm3-1zm4-7zm10 6zm9-6zm-176 13zm2 9zm0-9zm1-2zm0 8zm3 0zm111-5zm0 4zm1 2zm0 1zm0 0zm1 1zm0-4zm4 3zm2-9zm1-2zm0 4zm1 2zm1 5zm1-1zm0-8zm0-2zm1 5zm1-4zm2 9zm0-8zm1 0zm2 3zm0 5zm1-7zm1-1zm0 2zm7 4zm1 1zm2 2zm3 1zm3-3zm9-7zm1 2zm3-3zm1 8zm3 2zm35-4zm76 4zm-281 5zm0-2zm0 6zm2-3zm0 5zm2-6zm0 6zm113-1zm1-1zm0-1zm2-6zm4 5zm1-5zm1 5zm0 0zm1-2zm1 6zm0-5zm0 1zm2-3zm1 6zm0 0zm0-4zm2 2zm0-5zm3 4zm0-1zm1 7zm1-11zm1 9zm0-4zm1 0zm2-1zm1-3zm1 3zm2 7zm5-3zm1-7zm7 6zm5-4zm3-1zm32 8zm-200 6zm0 2zm0-3zm1 4zm0-2zm1 3zm4-3zm1-3zm111 7zm0 0zm1 0zm0 2zm1-2zm0-7zm1-1zm1 2zm1 2zm1 4zm2-1zm2-1zm2-1zm5-6zm0 4zm1 7zm0-1zm2-3zm1 1zm1 2zm1 0zm0 0zm8-8zm7-1zm1 5zm1-3zm7-3zm0 3zm2 5zm1 3zm1-9zm3-1zm20-1zm7 2zm76 1zm-274 12zm2 1zm0 3zm0 2zm1-2zm2 1zm114-8zm1 10zm2-10zm2 11zm0-1zm0-8zm3 2zm1-1zm1 1zm0-4zm1 3zm1 4zm3 3zm2-4zm0-1zm3 1zm0-7zm5 6zm3 1zm0 0zm2 5zm0-11zm1 3zm5 1zm1-3zm1 1zm0 2zm4 1zm3-1zm3-3zm12 10zm3-10zm3 3zm21-2zm62 8zm-268 11zm2-3zm1-4zm115 2zm2-4zm0 2zm1 0zm1 8zm0-8zm2-3zm1 12zm0-8zm2-1zm0 8zm0-9zm1-1zm0 4zm1-4zm1 10zm0-5zm0-1zm2 3zm0-3zm0 5zm1-2zm2-6zm2 6zm0-1zm1-4zm1 5zm1-8zm2 8zm1 0zm26-2zm2 3zm9-8zm4 1zm35-1zm66 4zm-282 14zm2 1zm0-4zm112-1zm2 6zm1-4zm1-4zm1 10zm1-11zm1 3zm1 1zm0 2zm0 2zm1 0zm0-3zm2 1zm0-1zm2-3zm3-1zm1 8zm1-8zm4 7zm6 4zm1-10zm2 3zm14 5zm1-4zm10 4zm1-1zm0-3zm12 4zm9-10zm19 12zm9 0zm17-6zm-240 14zm1-6zm0-2zm1 0zm2 1zm2 9zm106 0zm2-5zm1 1zm1 3zm1-8zm1 6zm0 3zm3-8zm0 5zm1 5zm1-12zm0 5zm2-1zm1 6zm1-5zm2 7zm0-9zm1 9zm1 0zm2-3zm0-4zm1 6zm4-3zm1-8zm3 8zm0-2zm1-2zm3-3zm38 0zm30 0zm13-1zm20 9zm-247 4zm1-1zm0 7zm0-4zm0 4zm2 5zm2-10zm1 4zm103 2zm2 2zm0-3zm1-3zm0-4zm1 2zm2 7zm0-1zm1 0zm3-5zm1 5zm1 0zm1-7zm4 0zm3 4zm0-5zm1 8zm1 4zm3-2zm1 2zm1-1zm0-4zm3 4zm4-3zm3 0zm8 2zm9-6zm3 7zm2-1zm6-3zm10-3zm37 5zm46-2zm-268 11zm3-2zm1 2zm1 0zm1 5zm0-2zm0-7zm2 7zm2 2zm1 1zm6-3zm3-1zm6-1zm0 1zm0 1zm4-1zm0 3zm4 0zm4 1zm0-5zm11 5zm3-1zm1 1zm2-3zm1 1zm2 0zm6 1zm20 1zm2-2zm3 0zm2 1zm4-4zm5 3zm2-3zm1 4zm0 0zm3-4zm1 4zm1 1zm0-5zm0 3zm1-1zm2-3zm1 3zm2-1zm1 2zm1-1zm2-8zm1 7zm0 2zm1-8zm1 3zm2 0zm3-5zm3 6zm1-2zm0 5zm0-1zm1-4zm3 7zm1 1zm2-9zm4 2zm2 2zm1 4zm11-3zm1-2zm4 3zm4 1zm10-2zm9-5zm10 3zm55 1zm83 0zm19-5zm-347 12zm5 1zm2-1zm17 0zm5-1zm4-1zm0 2zm1-2zm5 0zm4 2zm3 0zm1-1zm1 0zm0 2zm4-1zm3-1zm15 1zm1 1zm1-3zm1 0zm4 1zm9 0zm5 1zm5-2zm3 1zm10 2zm1 6zm1-7zm3 4zm1-4zm2 4zm0-3zm1 1zm6 5zm4-5zm3 2zm3 0zm1-4zm3-1zm13 8zm9-5zm11 2zm121 3z" stroke="#e8403a" stroke-width="10.6" stroke-linecap="round" fill="none" transform="scale(.5)"/>
<line x1="940.3" y1="1326" x2="940.3" y2="1707" stroke="#333" stroke-width="0.9" stroke-dasharray="3.5 3"/>
<line x1="973.3" y1="1326" x2="973.3" y2="1707" stroke="#333" stroke-width="0.9" stroke-dasharray="3.5 3"/>
<line x1="689.3" y1="1664.3" x2="1174.5" y2="1664.3" stroke="#000" stroke-width="1.1" stroke-dasharray="3.5 3"/>
<path d="M689.300 1324.500V1707H1174.500V1324.500" fill="none" stroke="#333" stroke-width="1"/>
<text x="708.4" y="1737.8" font-size="13.6" text-anchor="middle" fill="#222">−15</text>
<text x="791.2" y="1737.8" font-size="13.6" text-anchor="middle" fill="#222">−10</text>
<text x="874" y="1737.8" font-size="13.6" text-anchor="middle" fill="#222">−5</text>
<text x="956.8" y="1737.8" font-size="13.6" text-anchor="middle" fill="#222">0</text>
<text x="1039.6" y="1737.8" font-size="13.6" text-anchor="middle" fill="#222">5</text>
<text x="1122.4" y="1737.8" font-size="13.6" text-anchor="middle" fill="#222">10</text>
<text font-size="13.6" text-anchor="middle" fill="#222" transform="translate(669.6 1691.3) rotate(-90)">0</text>
<text font-size="13.6" text-anchor="middle" fill="#222" transform="translate(669.6 1621.5) rotate(-90)">5</text>
<text font-size="13.6" text-anchor="middle" fill="#222" transform="translate(669.6 1551.8) rotate(-90)">10</text>
<text font-size="13.6" text-anchor="middle" fill="#222" transform="translate(669.6 1482) rotate(-90)">15</text>
<text font-size="13.6" text-anchor="middle" fill="#222" transform="translate(669.6 1412.3) rotate(-90)">20</text>
<text font-size="13.6" text-anchor="middle" fill="#222" transform="translate(669.6 1342.5) rotate(-90)">25</text>
<path d="M708.4 1707v9.600M791.2 1707v9.600M874 1707v9.600M956.8 1707v9.600M1039.6 1707v9.600M1122.4 1707v9.600M689.300 1691.3h-7.500M689.300 1621.5h-7.500M689.300 1551.8h-7.500M689.300 1482h-7.500M689.300 1412.3h-7.500M689.300 1342.5h-7.500" fill="none" stroke="#333" stroke-width="1"/>
<text font-size="13.4" text-anchor="middle" fill="#222" textLength="163" lengthAdjust="spacingAndGlyphs" transform="translate(637.5 1492.5) rotate(-90)">− log10 (adjusted p−value)</text>
<text x="876.6" y="1771.5" font-size="13.4" fill="#222" textLength="110.6" lengthAdjust="spacingAndGlyphs">log2 (fold change)</text>
<defs><linearGradient id="ib"><stop offset="0" stop-color="#3f6dc0"/><stop offset=".3" stop-color="#5a82cc"/><stop offset="1" stop-color="#c9d4ec"/></linearGradient><linearGradient id="ir"><stop offset="0" stop-color="#f5a6a6"/><stop offset=".45" stop-color="#cf3b40"/><stop offset="1" stop-color="#b3191f"/></linearGradient></defs>
<path d="M686.700 1291.200L735.400 1263.100V1278H935.800V1306.100H735.400V1320.400Z" fill="url(#ib)" stroke="#000" stroke-width="1.5"/>
<path d="M1182 1291.200L1133.300 1263.100V1278H972.900V1306.100H1133.300V1320.400Z" fill="url(#ir)" stroke="#000" stroke-width="1.5"/>
<text x="705.4" y="1294.9" font-size="14.2" font-weight="bold" fill="#fff" textLength="156.2" lengthAdjust="spacingAndGlyphs">Downregulated in Late</text>
<text x="1028.4" y="1294.9" font-size="14.2" font-weight="bold" fill="#fff" textLength="135.6" lengthAdjust="spacingAndGlyphs">Upregulated in Late</text>
<text x="742.9" y="1331.6" font-size="19.3" font-weight="bold" fill="#1a1a1a" textLength="106.7" lengthAdjust="spacingAndGlyphs">2,829 DEGs</text>
<text x="1020.9" y="1329.4" font-size="19.3" font-weight="bold" fill="#1a1a1a" textLength="106" lengthAdjust="spacingAndGlyphs">3,386 DEGs</text></g>
<g id="panel-j"><text x="1209.5" y="1243.1" font-size="60.5" font-weight="bold">J</text>
<path d="M1491.900 1200.500L1517.500 1175V1188.400H1677.200V1213.900H1517.500V1227.700Z" fill="#3d55a5"/>
<path d="M1859.700 1200.500L1832.500 1175V1188.400H1681.300V1213.900H1832.500V1227.700Z" fill="#be1e2d"/>
<text x="1513.4" y="1205.6" font-size="14.2" font-weight="bold" fill="#fff" textLength="156.1" lengthAdjust="spacingAndGlyphs">Downregulated in Late</text>
<text x="1693.8" y="1205.6" font-size="14.2" font-weight="bold" fill="#fff" textLength="136.6" lengthAdjust="spacingAndGlyphs">Upregulated in Late</text>
<rect x="1710.2" y="1228.4" width="105.5" height="17.200" fill="#f04e23" stroke="#000" stroke-width="2.400"/>
<text x="1488.7" y="1240.9" font-size="10.4" font-weight="bold" text-anchor="end" textLength="134.6" lengthAdjust="spacingAndGlyphs">HALLMARK_GLYCOLYSIS</text>
<text x="1825.2" y="1240.6" font-size="11" fill="#f04e23">&lt;0.001</text>
<rect x="1710.2" y="1248.7" width="92.9" height="17.200" fill="#f04e23" stroke="#000" stroke-width="2.400"/>
<text x="1488.7" y="1261.2" font-size="10.4" font-weight="bold" text-anchor="end" textLength="116" lengthAdjust="spacingAndGlyphs">HALLMARK_HYPOXIA</text>
<text x="1812.6" y="1260.9" font-size="11" fill="#f04e23">&lt;0.001</text>
<rect x="1710.2" y="1269.1" width="79.2" height="17.200" fill="#f04e23" stroke="#000" stroke-width="2.400"/>
<text x="1488.7" y="1281.6" font-size="10.4" font-weight="bold" text-anchor="end" textLength="180" lengthAdjust="spacingAndGlyphs">HALLMARK_MTORC1_SIGNALING</text>
<text x="1798.9" y="1281.3" font-size="11" fill="#f04e23">&lt;0.001</text>
<rect x="1710.2" y="1289.4" width="69.6" height="17.200" fill="#f04e23" stroke="#000" stroke-width="2.400"/>
<text x="1488.7" y="1301.9" font-size="10.4" font-weight="bold" text-anchor="end" textLength="143.5" lengthAdjust="spacingAndGlyphs">HALLMARK_P53_PATHWAY</text>
<text x="1789.3" y="1301.6" font-size="11" fill="#f04e23">&lt;0.001</text>
<rect x="1710.2" y="1309.7" width="64.4" height="17.200" fill="#f04e23" stroke="#000" stroke-width="2.400"/>
<text x="1488.7" y="1322.2" font-size="10.4" font-weight="bold" text-anchor="end" textLength="235" lengthAdjust="spacingAndGlyphs">HALLMARK_CHOLESTEROL_HOMEOSTASIS</text>
<text x="1784.1" y="1321.9" font-size="11" fill="#f04e23">&lt;0.001</text>
<rect x="1710.2" y="1330.1" width="62.4" height="17.200" fill="#f04e23" stroke="#000" stroke-width="2.400"/>
<text x="1488.7" y="1342.6" font-size="10.4" font-weight="bold" text-anchor="end" textLength="197" lengthAdjust="spacingAndGlyphs">HALLMARK_ANDROGEN_RESPONSE</text>
<text x="1782.1" y="1342.2" font-size="11" fill="#f04e23">0.001</text>
<rect x="1710.2" y="1350.4" width="62.4" height="17.200" fill="#f04e23" stroke="#000" stroke-width="2.400"/>
<text x="1488.2" y="1362.9" font-size="10.4" font-weight="bold" text-anchor="end" textLength="222" lengthAdjust="spacingAndGlyphs">HALLMARK_TNFA_SIGNALING_VIA_NFKB</text>
<path d="M1498.3 1351.3L1500 1356.3L1505.3 1356.4L1501.1 1359.6L1502.6 1364.7L1498.3 1361.6L1494 1364.7L1495.5 1359.6L1491.3 1356.4L1496.6 1356.3Z" fill="#fdb714"/>
<text x="1782.1" y="1362.6" font-size="11" fill="#f04e23">&lt;0.001</text>
<rect x="1710.2" y="1370.7" width="58.4" height="17.200" fill="#f04e23" stroke="#000" stroke-width="2.400"/>
<text x="1488.7" y="1383.2" font-size="10.4" font-weight="bold" text-anchor="end" textLength="169.5" lengthAdjust="spacingAndGlyphs">HALLMARK_APICAL_JUNCTION</text>
<text x="1778.1" y="1382.9" font-size="11" fill="#f04e23">0.003</text>
<rect x="1710.2" y="1391" width="57.6" height="17.200" fill="#f04e23" stroke="#000" stroke-width="2.400"/>
<text x="1488.2" y="1403.5" font-size="10.4" font-weight="bold" text-anchor="end" textLength="293" lengthAdjust="spacingAndGlyphs">HALLMARK_EPITHELIAL_MESENCHYMAL_TRANSITION</text>
<path d="M1498.3 1391.9L1500 1396.9L1505.3 1397.1L1501.1 1400.3L1502.6 1405.3L1498.3 1402.3L1494 1405.3L1495.5 1400.3L1491.3 1397.1L1496.6 1396.9Z" fill="#fdb714"/>
<text x="1777.3" y="1403.2" font-size="11" fill="#f04e23">0.004</text>
<rect x="1710.2" y="1411.4" width="53.6" height="17.200" fill="#f04e23" stroke="#000" stroke-width="2.400"/>
<text x="1488.2" y="1423.9" font-size="10.4" font-weight="bold" text-anchor="end" textLength="214.5" lengthAdjust="spacingAndGlyphs">HALLMARK_IL6_JAK_STAT3_SIGNALING</text>
<path d="M1498.3 1412.3L1500 1417.3L1505.3 1417.4L1501.1 1420.6L1502.6 1425.7L1498.3 1422.6L1494 1425.7L1495.5 1420.6L1491.3 1417.4L1496.6 1417.3Z" fill="#fdb714"/>
<text x="1773.3" y="1423.6" font-size="11" fill="#f04e23">0.012</text>
<rect x="1710.2" y="1431.7" width="50.6" height="17.200" fill="#f04e23" stroke="#000" stroke-width="2.400"/>
<text x="1488.7" y="1444.2" font-size="10.4" font-weight="bold" text-anchor="end" textLength="150" lengthAdjust="spacingAndGlyphs">HALLMARK_ADIPOGENESIS</text>
<text x="1770.3" y="1443.9" font-size="11" fill="#f04e23">0.018</text>
<rect x="1710.2" y="1452" width="50.1" height="17.200" fill="#f04e23" stroke="#000" stroke-width="2.400"/>
<text x="1488.7" y="1464.5" font-size="10.4" font-weight="bold" text-anchor="end" textLength="139.5" lengthAdjust="spacingAndGlyphs">HALLMARK_MYOGENESIS</text>
<text x="1769.8" y="1464.2" font-size="11" fill="#f04e23">0.018</text>
<rect x="1710.2" y="1472.4" width="49.8" height="17.200" fill="#f04e23" stroke="#000" stroke-width="2.400"/>
<text x="1488.2" y="1484.9" font-size="10.4" font-weight="bold" text-anchor="end" textLength="247.5" lengthAdjust="spacingAndGlyphs">HALLMARK_INTERFERON_ALPHA_RESPONSE</text>
<path d="M1498.3 1473.3L1500 1478.3L1505.3 1478.4L1501.1 1481.6L1502.6 1486.6L1498.3 1483.6L1494 1486.6L1495.5 1481.6L1491.3 1478.4L1496.6 1478.3Z" fill="#fdb714"/>
<text x="1769.5" y="1484.6" font-size="11" fill="#f04e23">0.019</text>
<rect x="1710.2" y="1492.7" width="48.6" height="17.200" fill="#f04e23" stroke="#000" stroke-width="2.400"/>
<text x="1488.2" y="1505.2" font-size="10.4" font-weight="bold" text-anchor="end" textLength="252.5" lengthAdjust="spacingAndGlyphs">HALLMARK_INTERFERON_GAMMA_RESPONSE</text>
<path d="M1498.3 1493.6L1500 1498.6L1505.3 1498.7L1501.1 1501.9L1502.6 1507L1498.3 1504L1494 1507L1495.5 1501.9L1491.3 1498.7L1496.6 1498.6Z" fill="#fdb714"/>
<text x="1768.3" y="1504.9" font-size="11" fill="#f04e23">0.027</text>
<rect x="1710.2" y="1513" width="47.3" height="17.200" fill="#f04e23" stroke="#000" stroke-width="2.400"/>
<text x="1488.7" y="1525.5" font-size="10.4" font-weight="bold" text-anchor="end" textLength="236" lengthAdjust="spacingAndGlyphs">HALLMARK_ESTROGEN_RESPONSE_EARLY</text>
<text x="1767" y="1525.2" font-size="11" fill="#f04e23">0.033</text>
<rect x="1710.2" y="1533.4" width="46.3" height="17.200" fill="#f04e23" stroke="#000" stroke-width="2.400"/>
<text x="1488.7" y="1545.9" font-size="10.4" font-weight="bold" text-anchor="end" textLength="247.5" lengthAdjust="spacingAndGlyphs">HALLMARK_UNFOLDED_PROTEIN_RESPONSE</text>
<text x="1766" y="1545.5" font-size="11" fill="#f04e23">0.035</text>
<rect x="1710.2" y="1553.7" width="44.6" height="17.200" fill="#f04e23" stroke="#000" stroke-width="2.400"/>
<text x="1488.7" y="1566.2" font-size="10.4" font-weight="bold" text-anchor="end" textLength="184.5" lengthAdjust="spacingAndGlyphs">HALLMARK_PROTEIN_SECRETION</text>
<text x="1764.3" y="1565.9" font-size="11" fill="#f04e23">0.044</text>
<rect x="1667.1" y="1574" width="43.1" height="17.200" fill="#3953a4" stroke="#000" stroke-width="2.400"/>
<text x="1488.2" y="1586.5" font-size="10.4" font-weight="bold" text-anchor="end" textLength="136.5" lengthAdjust="spacingAndGlyphs">HALLMARK_DNA_REPAIR</text>
<path d="M1498.3 1574.9L1500 1579.9L1505.3 1580L1501.1 1583.2L1502.6 1588.3L1498.3 1585.3L1494 1588.3L1495.5 1583.2L1491.3 1580L1496.6 1579.9Z" fill="#fdb714"/>
<text x="1655.6" y="1586.2" font-size="11" text-anchor="end" fill="#3953a4">0.043</text>
<rect x="1640.8" y="1594.3" width="69.4" height="17.200" fill="#3953a4" stroke="#000" stroke-width="2.400"/>
<text x="1488.7" y="1606.8" font-size="10.4" font-weight="bold" text-anchor="end" textLength="176" lengthAdjust="spacingAndGlyphs">HALLMARK_SPERMATOGENESIS</text>
<text x="1629.3" y="1606.5" font-size="11" text-anchor="end" fill="#3953a4">&lt;0.001</text>
<rect x="1637.3" y="1614.7" width="72.9" height="17.200" fill="#3953a4" stroke="#000" stroke-width="2.400"/>
<text x="1488.2" y="1627.2" font-size="10.4" font-weight="bold" text-anchor="end" textLength="167.5" lengthAdjust="spacingAndGlyphs">HALLMARK_MYC_TARGETS_V1</text>
<path d="M1498.3 1615.6L1500 1620.6L1505.3 1620.7L1501.1 1623.9L1502.6 1629L1498.3 1625.9L1494 1629L1495.5 1623.9L1491.3 1620.7L1496.6 1620.6Z" fill="#fdb714"/>
<text x="1625.8" y="1626.9" font-size="11" text-anchor="end" fill="#3953a4">&lt;0.001</text>
<rect x="1632" y="1635" width="78.2" height="17.200" fill="#3953a4" stroke="#000" stroke-width="2.400"/>
<text x="1488.7" y="1647.5" font-size="10.4" font-weight="bold" text-anchor="end" textLength="165" lengthAdjust="spacingAndGlyphs">HALLMARK_MITOTIC_SPINDLE</text>
<text x="1620.5" y="1647.2" font-size="11" text-anchor="end" fill="#3953a4">&lt;0.001</text>
<rect x="1563.2" y="1655.3" width="147" height="17.200" fill="#3953a4" stroke="#000" stroke-width="2.400"/>
<text x="1488.2" y="1667.8" font-size="10.4" font-weight="bold" text-anchor="end" textLength="168" lengthAdjust="spacingAndGlyphs">HALLMARK_G2M_CHECKPOINT</text>
<path d="M1498.3 1656.2L1500 1661.2L1505.3 1661.3L1501.1 1664.5L1502.6 1669.6L1498.3 1666.6L1494 1669.6L1495.5 1664.5L1491.3 1661.3L1496.6 1661.2Z" fill="#fdb714"/>
<text x="1551.7" y="1667.5" font-size="11" text-anchor="end" fill="#3953a4">&lt;0.001</text>
<rect x="1548.9" y="1675.7" width="161.3" height="17.200" fill="#3953a4" stroke="#000" stroke-width="2.400"/>
<text x="1488.2" y="1688.2" font-size="10.4" font-weight="bold" text-anchor="end" textLength="143.5" lengthAdjust="spacingAndGlyphs">HALLMARK_E2F_TARGETS</text>
<path d="M1498.3 1676.6L1500 1681.6L1505.3 1681.7L1501.1 1684.9L1502.6 1689.9L1498.3 1686.9L1494 1689.9L1495.5 1684.9L1491.3 1681.7L1496.6 1681.6Z" fill="#fdb714"/>
<text x="1537.4" y="1687.9" font-size="11" text-anchor="end" fill="#3953a4">&lt;0.001</text>
<path d="M1510.200 1711.400H1860.900" fill="none" stroke="#000" stroke-width="2.6"/>
<text font-size="14.8" text-anchor="middle" fill="#111" transform="translate(1515 1737.7) rotate(-90)">−8</text>
<text font-size="14.8" text-anchor="middle" fill="#111" transform="translate(1565.1 1737.7) rotate(-90)">−6</text>
<text font-size="14.8" text-anchor="middle" fill="#111" transform="translate(1615.2 1737.7) rotate(-90)">−4</text>
<text font-size="14.8" text-anchor="middle" fill="#111" transform="translate(1665.3 1737.7) rotate(-90)">−2</text>
<text font-size="14.8" text-anchor="middle" fill="#111" transform="translate(1715.4 1737.7) rotate(-90)">0</text>
<text font-size="14.8" text-anchor="middle" fill="#111" transform="translate(1765.5 1737.7) rotate(-90)">2</text>
<text font-size="14.8" text-anchor="middle" fill="#111" transform="translate(1815.6 1737.7) rotate(-90)">4</text>
<text font-size="14.8" text-anchor="middle" fill="#111" transform="translate(1865.7 1737.7) rotate(-90)">6</text>
<path d="M1509.8 1710.200v10.800M1559.9 1710.200v10.800M1610 1710.200v10.800M1660.1 1710.200v10.800M1710.2 1710.200v10.800M1760.3 1710.200v10.800M1810.4 1710.200v10.800M1860.5 1710.200v10.800" fill="none" stroke="#000" stroke-width="2.4"/>
<text x="1544.6" y="1774.2" font-size="21.6" fill="#111" textLength="288.7" lengthAdjust="spacingAndGlyphs">Normalized Enrichment Score</text></g>
<g id="panel-kl"><text x="4" y="1848.8" font-size="60.5" font-weight="bold">K</text>
<rect x="161.5" y="1878" width="108.3" height="25.5" fill="#ee6aa7"/>
<rect x="269.8" y="1878" width="107.1" height="25.5" fill="#5f9ea0"/>
<text x="96.3" y="1898.7" font-size="19.6" textLength="59.2" lengthAdjust="spacingAndGlyphs">Group</text>
<rect x="161.5" y="1908.4" width="108.5" height="105.9" fill="#36459c"/>
<rect x="269.8" y="1908.4" width="107.1" height="105.9" fill="#5b4fa2"/>
<rect x="381.4" y="1908.4" width="26.2" height="105.9" fill="#cc6828"/>
<text x="107.9" y="1969.1" font-size="19.6" textLength="46.8" lengthAdjust="spacingAndGlyphs">PR-1</text>
<rect x="161.5" y="2014" width="108.5" height="106" fill="#5b4fa2"/>
<rect x="269.8" y="2014" width="107.1" height="106" fill="#866db0"/>
<rect x="381.4" y="2014" width="26.2" height="106" fill="#eeb422"/>
<text x="107.9" y="2074.7" font-size="19.6" textLength="46.8" lengthAdjust="spacingAndGlyphs">PR-2</text>
<rect x="161.5" y="2119.7" width="108.5" height="107.1" fill="#584fa0"/>
<rect x="269.8" y="2119.7" width="107.1" height="107.1" fill="#584fa0"/>
<rect x="381.4" y="2119.7" width="26.2" height="107.1" fill="#cd2027"/>
<text x="107.9" y="2180.8" font-size="19.6" textLength="46.8" lengthAdjust="spacingAndGlyphs">PR-3</text>
<rect x="161.5" y="2226.5" width="108.5" height="107.1" fill="#cdb8dd"/>
<rect x="269.8" y="2226.5" width="107.1" height="107.1" fill="#ece9e8"/>
<rect x="381.4" y="2226.5" width="26.2" height="107.1" fill="#eee820"/>
<text x="107.9" y="2287.2" font-size="19.6" textLength="46.8" lengthAdjust="spacingAndGlyphs">PR-4</text>
<text x="166.7" y="2352" font-size="19.6" textLength="93.7" lengthAdjust="spacingAndGlyphs">T47D RES</text>
<text x="274.3" y="2352" font-size="19.6" textLength="93.6" lengthAdjust="spacingAndGlyphs">T47D PAR</text>
<text font-size="19.6" textLength="57.7" lengthAdjust="spacingAndGlyphs" transform="translate(386 2340) rotate(90)">Group</text>
<text x="445.9" y="1924.1" font-size="20.4" font-weight="bold" textLength="111.6" lengthAdjust="spacingAndGlyphs">Spearman</text>
<defs><linearGradient id="kg" x1="0" y1="0" x2="0" y2="1"><stop offset="0" stop-color="#36459c"/><stop offset=".05" stop-color="#36459c"/><stop offset=".35" stop-color="#7e67ae"/><stop offset=".62" stop-color="#d3c2e2"/><stop offset=".72" stop-color="#ece9e8"/><stop offset="1" stop-color="#ece9e8"/></linearGradient></defs>
<rect x="445.1" y="1936.1" width="27.7" height="134.9" fill="url(#kg)"/>
<text x="478.3" y="1949.3" font-size="22.6" textLength="44.5" lengthAdjust="spacingAndGlyphs">0.85</text>
<text x="478.3" y="1990.8" font-size="22.6" textLength="31.5" lengthAdjust="spacingAndGlyphs">0.8</text>
<text x="478.3" y="2032.2" font-size="22.6" textLength="44.5" lengthAdjust="spacingAndGlyphs">0.75</text>
<text x="478.3" y="2073.7" font-size="22.6" textLength="31.5" lengthAdjust="spacingAndGlyphs">0.7</text>
<path d="M445.100 1941.7h6.500M472.800 1941.7h-6.500M445.100 1983.2h6.500M472.800 1983.2h-6.500M445.100 2024.6h6.500M472.800 2024.6h-6.500M445.100 2066.1h6.500M472.800 2066.1h-6.500" fill="none" stroke="#fff" stroke-width="1.4"/>
<text x="633.4" y="1848.8" font-size="60.5" font-weight="bold">L</text>
<rect x="692" y="1929.4" width="50.8" height="23.6" fill="#ec2a90"/>
<rect x="742.5" y="1929.4" width="50.8" height="23.6" fill="#6aa3c9"/>
<rect x="793.1" y="1929.4" width="50.8" height="23.6" fill="#6aa3c9"/>
<rect x="843.6" y="1929.4" width="50.8" height="23.6" fill="#8250a0"/>
<rect x="894.2" y="1929.4" width="50.8" height="23.6" fill="#228b48"/>
<rect x="944.8" y="1929.4" width="50.8" height="23.6" fill="#228b48"/>
<text x="1000.3" y="1948.1" font-size="19.6" textLength="73.1" lengthAdjust="spacingAndGlyphs">Subtype</text>
<g shape-rendering="crispEdges">
<rect x="692" y="1957.9" width="50.8" height="9.1" fill="#7667b1"/>
<rect x="742.5" y="1957.9" width="50.8" height="9.1" fill="#f04e32"/>
<rect x="793.1" y="1957.9" width="50.8" height="9.1" fill="#f6967e"/>
<rect x="843.6" y="1957.9" width="50.8" height="9.1" fill="#7667b1"/>
<rect x="894.2" y="1957.9" width="50.8" height="9.1" fill="#f6967e"/>
<rect x="944.8" y="1957.9" width="50.8" height="9.1" fill="#f04e32"/>
<rect x="692" y="1966.7" width="50.8" height="9.1" fill="#4e54a6"/>
<rect x="742.5" y="1966.7" width="50.8" height="9.1" fill="#fac8b8"/>
<rect x="793.1" y="1966.7" width="50.8" height="9.1" fill="#bca8d6"/>
<rect x="843.6" y="1966.7" width="50.8" height="9.1" fill="#bca8d6"/>
<rect x="894.2" y="1966.7" width="50.8" height="9.1" fill="#f04e32"/>
<rect x="944.8" y="1966.7" width="50.8" height="9.1" fill="#ec2f28"/>
<rect x="692" y="1975.6" width="50.8" height="9.1" fill="#f9f6fb"/>
<rect x="742.5" y="1975.6" width="50.8" height="9.1" fill="#ef4830"/>
<rect x="793.1" y="1975.6" width="50.8" height="9.1" fill="#f04e32"/>
<rect x="843.6" y="1975.6" width="50.8" height="9.1" fill="#ede5f2"/>
<rect x="894.2" y="1975.6" width="50.8" height="9.1" fill="#4553a5"/>
<rect x="944.8" y="1975.6" width="50.8" height="9.1" fill="#f7a089"/>
<rect x="692" y="1984.4" width="50.8" height="9.1" fill="#4553a5"/>
<rect x="742.5" y="1984.4" width="50.8" height="9.1" fill="#ef4830"/>
<rect x="793.1" y="1984.4" width="50.8" height="9.1" fill="#f25f43"/>
<rect x="843.6" y="1984.4" width="50.8" height="9.1" fill="#cbbade"/>
<rect x="894.2" y="1984.4" width="50.8" height="9.1" fill="#4553a5"/>
<rect x="944.8" y="1984.4" width="50.8" height="9.1" fill="#f1563a"/>
<rect x="692" y="1993.3" width="50.8" height="9.1" fill="#4e54a6"/>
<rect x="742.5" y="1993.3" width="50.8" height="9.1" fill="#ee3d2c"/>
<rect x="793.1" y="1993.3" width="50.8" height="9.1" fill="#f04e32"/>
<rect x="843.6" y="1993.3" width="50.8" height="9.1" fill="#bca8d6"/>
<rect x="894.2" y="1993.3" width="50.8" height="9.1" fill="#7667b1"/>
<rect x="944.8" y="1993.3" width="50.8" height="9.1" fill="#f58267"/>
<rect x="692" y="2002.1" width="50.8" height="9.1" fill="#4553a5"/>
<rect x="742.5" y="2002.1" width="50.8" height="9.1" fill="#f8aa94"/>
<rect x="793.1" y="2002.1" width="50.8" height="9.1" fill="#ee3d2c"/>
<rect x="843.6" y="2002.1" width="50.8" height="9.1" fill="#c3b1da"/>
<rect x="894.2" y="2002.1" width="50.8" height="9.1" fill="#4553a5"/>
<rect x="944.8" y="2002.1" width="50.8" height="9.1" fill="#fef1ec"/>
<rect x="692" y="2011" width="50.8" height="9.1" fill="#4553a5"/>
<rect x="742.5" y="2011" width="50.8" height="9.1" fill="#ef432e"/>
<rect x="793.1" y="2011" width="50.8" height="9.1" fill="#ef432e"/>
<rect x="843.6" y="2011" width="50.8" height="9.1" fill="#cbbade"/>
<rect x="894.2" y="2011" width="50.8" height="9.1" fill="#4553a5"/>
<rect x="944.8" y="2011" width="50.8" height="9.1" fill="#fef1ec"/>
<rect x="692" y="2019.8" width="50.8" height="9.1" fill="#4553a5"/>
<rect x="742.5" y="2019.8" width="50.8" height="9.1" fill="#ee3d2c"/>
<rect x="793.1" y="2019.8" width="50.8" height="9.1" fill="#cbbade"/>
<rect x="843.6" y="2019.8" width="50.8" height="9.1" fill="#ffffff"/>
<rect x="894.2" y="2019.8" width="50.8" height="9.1" fill="#9a86c3"/>
<rect x="944.8" y="2019.8" width="50.8" height="9.1" fill="#ee382a"/>
<rect x="692" y="2028.6" width="50.8" height="9.1" fill="#7667b1"/>
<rect x="742.5" y="2028.6" width="50.8" height="9.1" fill="#ef432e"/>
<rect x="793.1" y="2028.6" width="50.8" height="9.1" fill="#f2674b"/>
<rect x="843.6" y="2028.6" width="50.8" height="9.1" fill="#f1563a"/>
<rect x="894.2" y="2028.6" width="50.8" height="9.1" fill="#ede5f2"/>
<rect x="944.8" y="2028.6" width="50.8" height="9.1" fill="#ef4830"/>
<rect x="692" y="2037.5" width="50.8" height="9.1" fill="#4e54a6"/>
<rect x="742.5" y="2037.5" width="50.8" height="9.1" fill="#ee3d2c"/>
<rect x="793.1" y="2037.5" width="50.8" height="9.1" fill="#f8aa94"/>
<rect x="843.6" y="2037.5" width="50.8" height="9.1" fill="#f4785c"/>
<rect x="894.2" y="2037.5" width="50.8" height="9.1" fill="#b39fd1"/>
<rect x="944.8" y="2037.5" width="50.8" height="9.1" fill="#ef4830"/>
<rect x="692" y="2046.3" width="50.8" height="9.1" fill="#fffcfb"/>
<rect x="742.5" y="2046.3" width="50.8" height="9.1" fill="#ef4830"/>
<rect x="793.1" y="2046.3" width="50.8" height="9.1" fill="#f25f43"/>
<rect x="843.6" y="2046.3" width="50.8" height="9.1" fill="#f6967e"/>
<rect x="894.2" y="2046.3" width="50.8" height="9.1" fill="#f68c72"/>
<rect x="944.8" y="2046.3" width="50.8" height="9.1" fill="#f04e32"/>
<rect x="692" y="2055.2" width="50.8" height="9.1" fill="#ab97cc"/>
<rect x="742.5" y="2055.2" width="50.8" height="9.1" fill="#ef4830"/>
<rect x="793.1" y="2055.2" width="50.8" height="9.1" fill="#f04e32"/>
<rect x="843.6" y="2055.2" width="50.8" height="9.1" fill="#f6967e"/>
<rect x="894.2" y="2055.2" width="50.8" height="9.1" fill="#fde3d9"/>
<rect x="944.8" y="2055.2" width="50.8" height="9.1" fill="#f04e32"/>
<rect x="692" y="2064" width="50.8" height="9.1" fill="#f9b4a0"/>
<rect x="742.5" y="2064" width="50.8" height="9.1" fill="#ffffff"/>
<rect x="793.1" y="2064" width="50.8" height="9.1" fill="#917dbe"/>
<rect x="843.6" y="2064" width="50.8" height="9.1" fill="#bca8d6"/>
<rect x="894.2" y="2064" width="50.8" height="9.1" fill="#4253a5"/>
<rect x="944.8" y="2064" width="50.8" height="9.1" fill="#4553a5"/>
<rect x="692" y="2072.8" width="50.8" height="9.1" fill="#eb2b29"/>
<rect x="742.5" y="2072.8" width="50.8" height="9.1" fill="#f04e32"/>
<rect x="793.1" y="2072.8" width="50.8" height="9.1" fill="#bca8d6"/>
<rect x="843.6" y="2072.8" width="50.8" height="9.1" fill="#bca8d6"/>
<rect x="894.2" y="2072.8" width="50.8" height="9.1" fill="#4253a5"/>
<rect x="944.8" y="2072.8" width="50.8" height="9.1" fill="#bca8d6"/>
<rect x="692" y="2081.7" width="50.8" height="9.1" fill="#ec2f28"/>
<rect x="742.5" y="2081.7" width="50.8" height="9.1" fill="#f25f43"/>
<rect x="793.1" y="2081.7" width="50.8" height="9.1" fill="#e1d4ea"/>
<rect x="843.6" y="2081.7" width="50.8" height="9.1" fill="#4e54a6"/>
<rect x="894.2" y="2081.7" width="50.8" height="9.1" fill="#4253a5"/>
<rect x="944.8" y="2081.7" width="50.8" height="9.1" fill="#7667b1"/>
<rect x="692" y="2090.5" width="50.8" height="9.1" fill="#ed3228"/>
<rect x="742.5" y="2090.5" width="50.8" height="9.1" fill="#f25f43"/>
<rect x="793.1" y="2090.5" width="50.8" height="9.1" fill="#ffffff"/>
<rect x="843.6" y="2090.5" width="50.8" height="9.1" fill="#5355a6"/>
<rect x="894.2" y="2090.5" width="50.8" height="9.1" fill="#4253a5"/>
<rect x="944.8" y="2090.5" width="50.8" height="9.1" fill="#4e54a6"/>
<rect x="692" y="2099.4" width="50.8" height="9.1" fill="#f4785c"/>
<rect x="742.5" y="2099.4" width="50.8" height="9.1" fill="#fef8f6"/>
<rect x="793.1" y="2099.4" width="50.8" height="9.1" fill="#a28ec8"/>
<rect x="843.6" y="2099.4" width="50.8" height="9.1" fill="#4853a5"/>
<rect x="894.2" y="2099.4" width="50.8" height="9.1" fill="#4553a5"/>
<rect x="944.8" y="2099.4" width="50.8" height="9.1" fill="#ede5f2"/>
<rect x="692" y="2108.2" width="50.8" height="9.1" fill="#ef432e"/>
<rect x="742.5" y="2108.2" width="50.8" height="9.1" fill="#ef4830"/>
<rect x="793.1" y="2108.2" width="50.8" height="9.1" fill="#f4785c"/>
<rect x="843.6" y="2108.2" width="50.8" height="9.1" fill="#dacbe6"/>
<rect x="894.2" y="2108.2" width="50.8" height="9.1" fill="#4553a5"/>
<rect x="944.8" y="2108.2" width="50.8" height="9.1" fill="#f68c72"/>
<rect x="692" y="2117.1" width="50.8" height="9.1" fill="#917dbe"/>
<rect x="742.5" y="2117.1" width="50.8" height="9.1" fill="#f37054"/>
<rect x="793.1" y="2117.1" width="50.8" height="9.1" fill="#ee3d2c"/>
<rect x="843.6" y="2117.1" width="50.8" height="9.1" fill="#fac8b8"/>
<rect x="894.2" y="2117.1" width="50.8" height="9.1" fill="#ef4830"/>
<rect x="944.8" y="2117.1" width="50.8" height="9.1" fill="#4853a5"/>
<rect x="692" y="2125.9" width="50.8" height="9.1" fill="#4853a5"/>
<rect x="742.5" y="2125.9" width="50.8" height="9.1" fill="#ef4830"/>
<rect x="793.1" y="2125.9" width="50.8" height="9.1" fill="#ec2f28"/>
<rect x="843.6" y="2125.9" width="50.8" height="9.1" fill="#e1d4ea"/>
<rect x="894.2" y="2125.9" width="50.8" height="9.1" fill="#fbd2c4"/>
<rect x="944.8" y="2125.9" width="50.8" height="9.1" fill="#5956a7"/>
<rect x="692" y="2134.7" width="50.8" height="9.1" fill="#fde3d9"/>
<rect x="742.5" y="2134.7" width="50.8" height="9.1" fill="#f2674b"/>
<rect x="793.1" y="2134.7" width="50.8" height="9.1" fill="#ee3d2c"/>
<rect x="843.6" y="2134.7" width="50.8" height="9.1" fill="#fdeae3"/>
<rect x="894.2" y="2134.7" width="50.8" height="9.1" fill="#4253a5"/>
<rect x="944.8" y="2134.7" width="50.8" height="9.1" fill="#4553a5"/>
<rect x="692" y="2143.6" width="50.8" height="9.1" fill="#fcdcd0"/>
<rect x="742.5" y="2143.6" width="50.8" height="9.1" fill="#ef432e"/>
<rect x="793.1" y="2143.6" width="50.8" height="9.1" fill="#ee3d2c"/>
<rect x="843.6" y="2143.6" width="50.8" height="9.1" fill="#fbd2c4"/>
<rect x="894.2" y="2143.6" width="50.8" height="9.1" fill="#4553a5"/>
<rect x="944.8" y="2143.6" width="50.8" height="9.1" fill="#3f53a4"/>
<rect x="692" y="2152.4" width="50.8" height="9.1" fill="#fcdcd0"/>
<rect x="742.5" y="2152.4" width="50.8" height="9.1" fill="#ef432e"/>
<rect x="793.1" y="2152.4" width="50.8" height="9.1" fill="#ffffff"/>
<rect x="843.6" y="2152.4" width="50.8" height="9.1" fill="#c3b1da"/>
<rect x="894.2" y="2152.4" width="50.8" height="9.1" fill="#4553a5"/>
<rect x="944.8" y="2152.4" width="50.8" height="9.1" fill="#4553a5"/>
<rect x="692" y="2161.3" width="50.8" height="9.1" fill="#f6967e"/>
<rect x="742.5" y="2161.3" width="50.8" height="9.1" fill="#ee3d2c"/>
<rect x="793.1" y="2161.3" width="50.8" height="9.1" fill="#f58267"/>
<rect x="843.6" y="2161.3" width="50.8" height="9.1" fill="#ab97cc"/>
<rect x="894.2" y="2161.3" width="50.8" height="9.1" fill="#4553a5"/>
<rect x="944.8" y="2161.3" width="50.8" height="9.1" fill="#4553a5"/>
<rect x="692" y="2170.1" width="50.8" height="9.1" fill="#f8aa94"/>
<rect x="742.5" y="2170.1" width="50.8" height="9.1" fill="#f7a089"/>
<rect x="793.1" y="2170.1" width="50.8" height="9.1" fill="#ef432e"/>
<rect x="843.6" y="2170.1" width="50.8" height="9.1" fill="#4853a5"/>
<rect x="894.2" y="2170.1" width="50.8" height="9.1" fill="#4553a5"/>
<rect x="944.8" y="2170.1" width="50.8" height="9.1" fill="#b39fd1"/>
<rect x="692" y="2179" width="50.8" height="9.1" fill="#fabeac"/>
<rect x="742.5" y="2179" width="50.8" height="9.1" fill="#fac8b8"/>
<rect x="793.1" y="2179" width="50.8" height="9.1" fill="#ef432e"/>
<rect x="843.6" y="2179" width="50.8" height="9.1" fill="#4853a5"/>
<rect x="894.2" y="2179" width="50.8" height="9.1" fill="#4553a5"/>
<rect x="944.8" y="2179" width="50.8" height="9.1" fill="#e7ddee"/>
<rect x="692" y="2187.8" width="50.8" height="9.1" fill="#e1d4ea"/>
<rect x="742.5" y="2187.8" width="50.8" height="9.1" fill="#ef4830"/>
<rect x="793.1" y="2187.8" width="50.8" height="9.1" fill="#ffffff"/>
<rect x="843.6" y="2187.8" width="50.8" height="9.1" fill="#4553a5"/>
<rect x="894.2" y="2187.8" width="50.8" height="9.1" fill="#4553a5"/>
<rect x="944.8" y="2187.8" width="50.8" height="9.1" fill="#b39fd1"/>
<rect x="692" y="2196.6" width="50.8" height="9.1" fill="#5355a6"/>
<rect x="742.5" y="2196.6" width="50.8" height="9.1" fill="#ef4830"/>
<rect x="793.1" y="2196.6" width="50.8" height="9.1" fill="#e9242a"/>
<rect x="843.6" y="2196.6" width="50.8" height="9.1" fill="#917dbe"/>
<rect x="894.2" y="2196.6" width="50.8" height="9.1" fill="#4553a5"/>
<rect x="944.8" y="2196.6" width="50.8" height="9.1" fill="#5956a7"/>
<rect x="692" y="2205.5" width="50.8" height="9.1" fill="#cbbade"/>
<rect x="742.5" y="2205.5" width="50.8" height="9.1" fill="#ef4830"/>
<rect x="793.1" y="2205.5" width="50.8" height="9.1" fill="#eb2b29"/>
<rect x="843.6" y="2205.5" width="50.8" height="9.1" fill="#5355a6"/>
<rect x="894.2" y="2205.5" width="50.8" height="9.1" fill="#4553a5"/>
<rect x="944.8" y="2205.5" width="50.8" height="9.1" fill="#7f6eb5"/>
<rect x="692" y="2214.3" width="50.8" height="9.1" fill="#cbbade"/>
<rect x="742.5" y="2214.3" width="50.8" height="9.1" fill="#f7a089"/>
<rect x="793.1" y="2214.3" width="50.8" height="9.1" fill="#eb2b29"/>
<rect x="843.6" y="2214.3" width="50.8" height="9.1" fill="#7667b1"/>
<rect x="894.2" y="2214.3" width="50.8" height="9.1" fill="#4553a5"/>
<rect x="944.8" y="2214.3" width="50.8" height="9.1" fill="#9a86c3"/>
<rect x="692" y="2223.2" width="50.8" height="9.1" fill="#f58267"/>
<rect x="742.5" y="2223.2" width="50.8" height="9.1" fill="#4e54a6"/>
<rect x="793.1" y="2223.2" width="50.8" height="9.1" fill="#8876ba"/>
<rect x="843.6" y="2223.2" width="50.8" height="9.1" fill="#4e54a6"/>
<rect x="894.2" y="2223.2" width="50.8" height="9.1" fill="#dacbe6"/>
<rect x="944.8" y="2223.2" width="50.8" height="9.1" fill="#dacbe6"/>
<rect x="692" y="2232" width="50.8" height="9.1" fill="#f68c72"/>
<rect x="742.5" y="2232" width="50.8" height="9.1" fill="#4e54a6"/>
<rect x="793.1" y="2232" width="50.8" height="9.1" fill="#5355a6"/>
<rect x="843.6" y="2232" width="50.8" height="9.1" fill="#5355a6"/>
<rect x="894.2" y="2232" width="50.8" height="9.1" fill="#6d5fac"/>
<rect x="944.8" y="2232" width="50.8" height="9.1" fill="#5956a7"/>
<rect x="692" y="2240.8" width="50.8" height="9.1" fill="#ef4830"/>
<rect x="742.5" y="2240.8" width="50.8" height="9.1" fill="#fdeae3"/>
<rect x="793.1" y="2240.8" width="50.8" height="9.1" fill="#ab97cc"/>
<rect x="843.6" y="2240.8" width="50.8" height="9.1" fill="#f9f6fb"/>
<rect x="894.2" y="2240.8" width="50.8" height="9.1" fill="#ef432e"/>
<rect x="944.8" y="2240.8" width="50.8" height="9.1" fill="#4853a5"/>
<rect x="692" y="2249.7" width="50.8" height="9.1" fill="#ef4830"/>
<rect x="742.5" y="2249.7" width="50.8" height="9.1" fill="#bca8d6"/>
<rect x="793.1" y="2249.7" width="50.8" height="9.1" fill="#9a86c3"/>
<rect x="843.6" y="2249.7" width="50.8" height="9.1" fill="#4853a5"/>
<rect x="894.2" y="2249.7" width="50.8" height="9.1" fill="#ef432e"/>
<rect x="944.8" y="2249.7" width="50.8" height="9.1" fill="#f5f1f8"/>
<rect x="692" y="2258.5" width="50.8" height="9.1" fill="#ef432e"/>
<rect x="742.5" y="2258.5" width="50.8" height="9.1" fill="#4553a5"/>
<rect x="793.1" y="2258.5" width="50.8" height="9.1" fill="#ab97cc"/>
<rect x="843.6" y="2258.5" width="50.8" height="9.1" fill="#917dbe"/>
<rect x="894.2" y="2258.5" width="50.8" height="9.1" fill="#ef4830"/>
<rect x="944.8" y="2258.5" width="50.8" height="9.1" fill="#4e54a6"/>
<rect x="692" y="2267.4" width="50.8" height="9.1" fill="#ee382a"/>
<rect x="742.5" y="2267.4" width="50.8" height="9.1" fill="#4553a5"/>
<rect x="793.1" y="2267.4" width="50.8" height="9.1" fill="#917dbe"/>
<rect x="843.6" y="2267.4" width="50.8" height="9.1" fill="#5355a6"/>
<rect x="894.2" y="2267.4" width="50.8" height="9.1" fill="#ef432e"/>
<rect x="944.8" y="2267.4" width="50.8" height="9.1" fill="#5355a6"/>
<rect x="692" y="2276.2" width="50.8" height="9.1" fill="#ee3d2c"/>
<rect x="742.5" y="2276.2" width="50.8" height="9.1" fill="#4553a5"/>
<rect x="793.1" y="2276.2" width="50.8" height="9.1" fill="#ab97cc"/>
<rect x="843.6" y="2276.2" width="50.8" height="9.1" fill="#5355a6"/>
<rect x="894.2" y="2276.2" width="50.8" height="9.1" fill="#ef432e"/>
<rect x="944.8" y="2276.2" width="50.8" height="9.1" fill="#5355a6"/>
<rect x="692" y="2285.1" width="50.8" height="9.1" fill="#ef432e"/>
<rect x="742.5" y="2285.1" width="50.8" height="9.1" fill="#4553a5"/>
<rect x="793.1" y="2285.1" width="50.8" height="9.1" fill="#4853a5"/>
<rect x="843.6" y="2285.1" width="50.8" height="9.1" fill="#dacbe6"/>
<rect x="894.2" y="2285.1" width="50.8" height="9.1" fill="#ef432e"/>
<rect x="944.8" y="2285.1" width="50.8" height="9.1" fill="#9a86c3"/>
<rect x="692" y="2293.9" width="50.8" height="9.1" fill="#ef432e"/>
<rect x="742.5" y="2293.9" width="50.8" height="9.1" fill="#3f53a4"/>
<rect x="793.1" y="2293.9" width="50.8" height="9.1" fill="#4e54a6"/>
<rect x="843.6" y="2293.9" width="50.8" height="9.1" fill="#bca8d6"/>
<rect x="894.2" y="2293.9" width="50.8" height="9.1" fill="#f04e32"/>
<rect x="944.8" y="2293.9" width="50.8" height="9.1" fill="#5956a7"/>
<rect x="692" y="2302.7" width="50.8" height="9.1" fill="#7f6eb5"/>
<rect x="742.5" y="2302.7" width="50.8" height="9.1" fill="#b39fd1"/>
<rect x="793.1" y="2302.7" width="50.8" height="9.1" fill="#9a86c3"/>
<rect x="843.6" y="2302.7" width="50.8" height="9.1" fill="#f4785c"/>
<rect x="894.2" y="2302.7" width="50.8" height="9.1" fill="#4e54a6"/>
<rect x="944.8" y="2302.7" width="50.8" height="9.1" fill="#ef432e"/>
<rect x="692" y="2311.6" width="50.8" height="9.1" fill="#e1d4ea"/>
<rect x="742.5" y="2311.6" width="50.8" height="9.1" fill="#f6967e"/>
<rect x="793.1" y="2311.6" width="50.8" height="9.1" fill="#f58267"/>
<rect x="843.6" y="2311.6" width="50.8" height="9.1" fill="#f04e32"/>
<rect x="894.2" y="2311.6" width="50.8" height="9.1" fill="#ef432e"/>
<rect x="944.8" y="2311.6" width="50.8" height="9.1" fill="#ef4830"/>
<rect x="692" y="2320.4" width="50.8" height="9.1" fill="#fef8f6"/>
<rect x="742.5" y="2320.4" width="50.8" height="9.1" fill="#4853a5"/>
<rect x="793.1" y="2320.4" width="50.8" height="9.1" fill="#fef8f6"/>
<rect x="843.6" y="2320.4" width="50.8" height="9.1" fill="#f2674b"/>
<rect x="894.2" y="2320.4" width="50.8" height="9.1" fill="#ef432e"/>
<rect x="944.8" y="2320.4" width="50.8" height="9.1" fill="#ef4830"/>
<rect x="692" y="2329.3" width="50.8" height="9.1" fill="#5956a7"/>
<rect x="742.5" y="2329.3" width="50.8" height="9.1" fill="#4553a5"/>
<rect x="793.1" y="2329.3" width="50.8" height="9.1" fill="#9a86c3"/>
<rect x="843.6" y="2329.3" width="50.8" height="9.1" fill="#eb2b29"/>
<rect x="894.2" y="2329.3" width="50.8" height="9.1" fill="#ef432e"/>
<rect x="944.8" y="2329.3" width="50.8" height="9.1" fill="#bca8d6"/>
<rect x="692" y="2338.1" width="50.8" height="9.1" fill="#f1563a"/>
<rect x="742.5" y="2338.1" width="50.8" height="9.1" fill="#4553a5"/>
<rect x="793.1" y="2338.1" width="50.8" height="9.1" fill="#d2c2e2"/>
<rect x="843.6" y="2338.1" width="50.8" height="9.1" fill="#ef432e"/>
<rect x="894.2" y="2338.1" width="50.8" height="9.1" fill="#f8aa94"/>
<rect x="944.8" y="2338.1" width="50.8" height="9.1" fill="#4853a5"/>
<rect x="692" y="2346.9" width="50.8" height="9.1" fill="#fef8f6"/>
<rect x="742.5" y="2346.9" width="50.8" height="9.1" fill="#5355a6"/>
<rect x="793.1" y="2346.9" width="50.8" height="9.1" fill="#4e54a6"/>
<rect x="843.6" y="2346.9" width="50.8" height="9.1" fill="#ef432e"/>
<rect x="894.2" y="2346.9" width="50.8" height="9.1" fill="#4e54a6"/>
<rect x="944.8" y="2346.9" width="50.8" height="9.1" fill="#7667b1"/>
<rect x="692" y="2355.8" width="50.8" height="9.1" fill="#6d5fac"/>
<rect x="742.5" y="2355.8" width="50.8" height="9.1" fill="#ef432e"/>
<rect x="793.1" y="2355.8" width="50.8" height="9.1" fill="#5355a6"/>
<rect x="843.6" y="2355.8" width="50.8" height="9.1" fill="#e9242a"/>
<rect x="894.2" y="2355.8" width="50.8" height="9.1" fill="#ffffff"/>
<rect x="944.8" y="2355.8" width="50.8" height="9.1" fill="#9a86c3"/>
<rect x="692" y="2364.6" width="50.8" height="9.1" fill="#6d5fac"/>
<rect x="742.5" y="2364.6" width="50.8" height="9.1" fill="#ef432e"/>
<rect x="793.1" y="2364.6" width="50.8" height="9.1" fill="#d2c2e2"/>
<rect x="843.6" y="2364.6" width="50.8" height="9.1" fill="#ee382a"/>
<rect x="894.2" y="2364.6" width="50.8" height="9.1" fill="#f04e32"/>
<rect x="944.8" y="2364.6" width="50.8" height="9.1" fill="#fbfafc"/>
<rect x="692" y="2373.5" width="50.8" height="9.1" fill="#f7a089"/>
<rect x="742.5" y="2373.5" width="50.8" height="9.1" fill="#ef432e"/>
<rect x="793.1" y="2373.5" width="50.8" height="9.1" fill="#ffffff"/>
<rect x="843.6" y="2373.5" width="50.8" height="9.1" fill="#f7a089"/>
<rect x="894.2" y="2373.5" width="50.8" height="9.1" fill="#4553a5"/>
<rect x="944.8" y="2373.5" width="50.8" height="9.1" fill="#3f53a4"/>
<rect x="692" y="2382.3" width="50.8" height="9.1" fill="#c3b1da"/>
<rect x="742.5" y="2382.3" width="50.8" height="9.1" fill="#ef432e"/>
<rect x="793.1" y="2382.3" width="50.8" height="9.1" fill="#a28ec8"/>
<rect x="843.6" y="2382.3" width="50.8" height="9.1" fill="#eb2b29"/>
<rect x="894.2" y="2382.3" width="50.8" height="9.1" fill="#4553a5"/>
<rect x="944.8" y="2382.3" width="50.8" height="9.1" fill="#4853a5"/>
<rect x="692" y="2391.2" width="50.8" height="9.1" fill="#fdeae3"/>
<rect x="742.5" y="2391.2" width="50.8" height="9.1" fill="#ef432e"/>
<rect x="793.1" y="2391.2" width="50.8" height="9.1" fill="#e7ddee"/>
<rect x="843.6" y="2391.2" width="50.8" height="9.1" fill="#ee382a"/>
<rect x="894.2" y="2391.2" width="50.8" height="9.1" fill="#4553a5"/>
<rect x="944.8" y="2391.2" width="50.8" height="9.1" fill="#ab97cc"/>
</g>
<text x="999.7" y="1966.3" font-size="10.3" fill="#000" stroke="#000" stroke-width=".3">MDM2</text>
<text x="999.7" y="1975.1" font-size="10.3" fill="#000" stroke="#000" stroke-width=".3">SLC39A6</text>
<text x="999.7" y="1984" font-size="10.3" fill="#000" stroke="#000" stroke-width=".3">ESR1</text>
<text x="999.7" y="1992.8" font-size="10.3" fill="#000" stroke="#000" stroke-width=".3">BCL2</text>
<text x="999.7" y="2001.7" font-size="10.3" fill="#000" stroke="#000" stroke-width=".3">PGR</text>
<text x="999.7" y="2010.5" font-size="10.3" fill="#000" stroke="#000" stroke-width=".3">CDCA1</text>
<text x="999.7" y="2019.4" font-size="10.3" fill="#000" stroke="#000" stroke-width=".3">CEP55</text>
<text x="999.7" y="2028.2" font-size="10.3" fill="#000" stroke="#000" stroke-width=".3">FGFR4</text>
<text x="999.7" y="2037" font-size="10.3" fill="#000" stroke="#000" stroke-width=".3">FOXA1</text>
<text x="999.7" y="2045.9" font-size="10.3" fill="#000" stroke="#000" stroke-width=".3">GPR160</text>
<text x="999.7" y="2054.7" font-size="10.3" fill="#000" stroke="#000" stroke-width=".3">CXXC5</text>
<text x="999.7" y="2063.6" font-size="10.3" fill="#000" stroke="#000" stroke-width=".3">NAT1</text>
<text x="999.7" y="2072.4" font-size="10.3" fill="#000" stroke="#000" stroke-width=".3">EXO1</text>
<text x="999.7" y="2081.2" font-size="10.3" fill="#000" stroke="#000" stroke-width=".3">PTTG1</text>
<text x="999.7" y="2090.1" font-size="10.3" fill="#000" stroke="#000" stroke-width=".3">CDC20</text>
<text x="999.7" y="2098.9" font-size="10.3" fill="#000" stroke="#000" stroke-width=".3">KIF2C</text>
<text x="999.7" y="2107.8" font-size="10.3" fill="#000" stroke="#000" stroke-width=".3">ACTR3B</text>
<text x="999.7" y="2116.6" font-size="10.3" fill="#000" stroke="#000" stroke-width=".3">BIRC5</text>
<text x="999.7" y="2125.5" font-size="10.3" fill="#000" stroke="#000" stroke-width=".3">ANLN</text>
<text x="999.7" y="2134.3" font-size="10.3" fill="#000" stroke="#000" stroke-width=".3">BAG1</text>
<text x="999.7" y="2143.1" font-size="10.3" fill="#000" stroke="#000" stroke-width=".3">MELK</text>
<text x="999.7" y="2152" font-size="10.3" fill="#000" stroke="#000" stroke-width=".3">ORC6L</text>
<text x="999.7" y="2160.8" font-size="10.3" fill="#000" stroke="#000" stroke-width=".3">CENPF</text>
<text x="999.7" y="2169.7" font-size="10.3" fill="#000" stroke="#000" stroke-width=".3">TYMS</text>
<text x="999.7" y="2178.5" font-size="10.3" fill="#000" stroke="#000" stroke-width=".3">KNTC2</text>
<text x="999.7" y="2187.4" font-size="10.3" fill="#000" stroke="#000" stroke-width=".3">UBE2C</text>
<text x="999.7" y="2196.2" font-size="10.3" fill="#000" stroke="#000" stroke-width=".3">MKI67</text>
<text x="999.7" y="2205" font-size="10.3" fill="#000" stroke="#000" stroke-width=".3">CCNB1</text>
<text x="999.7" y="2213.9" font-size="10.3" fill="#000" stroke="#000" stroke-width=".3">MYBL2</text>
<text x="999.7" y="2222.7" font-size="10.3" fill="#000" stroke="#000" stroke-width=".3">UBE2T</text>
<text x="999.7" y="2231.6" font-size="10.3" fill="#000" stroke="#000" stroke-width=".3">FOXC1</text>
<text x="999.7" y="2240.4" font-size="10.3" fill="#000" stroke="#000" stroke-width=".3">MIA</text>
<text x="999.7" y="2249.2" font-size="10.3" fill="#000" stroke="#000" stroke-width=".3">CDH3</text>
<text x="999.7" y="2258.1" font-size="10.3" fill="#000" stroke="#000" stroke-width=".3">KRT17</text>
<text x="999.7" y="2266.9" font-size="10.3" fill="#000" stroke="#000" stroke-width=".3">CCNE1</text>
<text x="999.7" y="2275.8" font-size="10.3" fill="#000" stroke="#000" stroke-width=".3">KRT5</text>
<text x="999.7" y="2284.6" font-size="10.3" fill="#000" stroke="#000" stroke-width=".3">MYC</text>
<text x="999.7" y="2293.5" font-size="10.3" fill="#000" stroke="#000" stroke-width=".3">KRT14</text>
<text x="999.7" y="2302.3" font-size="10.3" fill="#000" stroke="#000" stroke-width=".3">SFRP1</text>
<text x="999.7" y="2311.1" font-size="10.3" fill="#000" stroke="#000" stroke-width=".3">MAPT</text>
<text x="999.7" y="2320" font-size="10.3" fill="#000" stroke="#000" stroke-width=".3">MLPH</text>
<text x="999.7" y="2328.8" font-size="10.3" fill="#000" stroke="#000" stroke-width=".3">BLVRA</text>
<text x="999.7" y="2337.7" font-size="10.3" fill="#000" stroke="#000" stroke-width=".3">GRB7</text>
<text x="999.7" y="2346.5" font-size="10.3" fill="#000" stroke="#000" stroke-width=".3">EGFR</text>
<text x="999.7" y="2355.3" font-size="10.3" fill="#000" stroke="#000" stroke-width=".3">MMP11</text>
<text x="999.7" y="2364.2" font-size="10.3" fill="#000" stroke="#000" stroke-width=".3">ERBB2</text>
<text x="999.7" y="2373" font-size="10.3" fill="#000" stroke="#000" stroke-width=".3">TMEM45B</text>
<text x="999.7" y="2381.9" font-size="10.3" fill="#000" stroke="#000" stroke-width=".3">PHGDH</text>
<text x="999.7" y="2390.7" font-size="10.3" fill="#000" stroke="#000" stroke-width=".3">CDC6</text>
<text x="999.7" y="2399.6" font-size="10.3" fill="#000" stroke="#000" stroke-width=".3">RRM2</text>
<path d="M718.2 1927.5V1878.8H850.4V1883.7M794.2 1912.9V1883.7H907V1899.8M768.7 1927.5V1912.9H818.6V1927.5M869.5 1927.5V1899.8H944.5V1903.2M919.7 1927.5V1903.2H969.6V1927.5" fill="none" stroke="#222" stroke-width="1.1"/>
<path d="M660.3 2056.1H642.5V2289.3H657.3M680.1 1990.6H660.3V2119.5H674.3M688.2 1967.3H680.1V2013.5H685.2M691.5 1962.3H688.2V1971.2H691.5M688.5 1990H685.2V2040H688.5M691.5 1980H688.5V2003H691.5M691.5 2027H688.5V2052H691.5M686.2 2092.1H674.3V2148H679.3M689.5 2077H686.2V2107.4H689.5M691.5 2068H689.5V2086H691.5M691.5 2098H689.5V2116H691.5M688.2 2125.1H679.3V2170.8H685.2M691.5 2120.5H688.2V2129.5H691.5M688.5 2152H685.2V2192H688.5M691.5 2142H688.5V2162H691.5M691.5 2180H688.5V2204H691.5M684.4 2243.6H657.3V2337.5H670.5M688.2 2230.9H684.4V2253.8H688.2M691.5 2226.5H688.2V2235.5H691.5M691.5 2246H688.2V2264H691.5M682.6 2314.7H670.5V2360.4H678.1M688.2 2308.3H682.6V2324.8H688.2M691.5 2304H688.2V2313H691.5M691.5 2319H688.2V2330H691.5M687.3 2347.7H678.1V2373H681.9M691.5 2343.5H687.3V2352.5H691.5M688.2 2364.2H681.9V2385.7H688.2M691.5 2360H688.2V2369H691.5M691.5 2380H688.2V2395H691.5" fill="none" stroke="#111" stroke-width="1.1"/>
<text x="717.4" y="2417.6" font-size="17.4" text-anchor="middle" fill="#1a1a1a">PR-4</text>
<text x="768.7" y="2417.6" font-size="17.4" text-anchor="middle" fill="#1a1a1a">T47D</text>
<text x="768.7" y="2436.3" font-size="17.4" text-anchor="middle" fill="#1a1a1a">PAR</text>
<text x="818.6" y="2417.6" font-size="17.4" text-anchor="middle" fill="#1a1a1a">PR-3</text>
<text x="868.8" y="2417.6" font-size="17.4" text-anchor="middle" fill="#1a1a1a">PR-2</text>
<text x="919.7" y="2417.6" font-size="17.4" text-anchor="middle" fill="#1a1a1a">T47D</text>
<text x="919.7" y="2436.3" font-size="17.4" text-anchor="middle" fill="#1a1a1a">RES</text>
<text x="972.9" y="2417.6" font-size="17.4" text-anchor="middle" fill="#1a1a1a">PR-1</text>
<text x="1083.8" y="2048.5" font-size="15.8" font-weight="bold" textLength="65.2" lengthAdjust="spacingAndGlyphs">Subtype</text>
<rect x="1083.8" y="2059" width="18.4" height="18.4" fill="#ec2a90"/>
<text x="1107.1" y="2073.2" font-size="16.4" fill="#1a1a1a">Basal</text>
<rect x="1083.8" y="2078.3" width="18.4" height="18.4" fill="#8250a0"/>
<text x="1107.1" y="2092.5" font-size="16.4" fill="#1a1a1a">Her2</text>
<rect x="1083.8" y="2097.6" width="18.4" height="18.4" fill="#6aa3c9"/>
<text x="1107.1" y="2111.8" font-size="16.4" fill="#1a1a1a">LumB</text>
<rect x="1083.8" y="2116.9" width="18.4" height="18.4" fill="#228b48"/>
<text x="1107.1" y="2131.1" font-size="16.4" fill="#1a1a1a">LumA</text>
<text x="1083.8" y="2165.4" font-size="15.8" font-weight="bold" textLength="146.9" lengthAdjust="spacingAndGlyphs">Scaled expression</text>
<defs><linearGradient id="lg" x1="0" y1="0" x2="0" y2="1"><stop offset="0.030" stop-color="#e8212a"/><stop offset="0.108" stop-color="#ed3228"/><stop offset="0.187" stop-color="#f04e32"/><stop offset="0.265" stop-color="#f4785c"/><stop offset="0.343" stop-color="#f8aa94"/><stop offset="0.422" stop-color="#fcdcd0"/><stop offset="0.500" stop-color="#ffffff"/><stop offset="0.578" stop-color="#e1d4ea"/><stop offset="0.657" stop-color="#bca8d6"/><stop offset="0.735" stop-color="#917dbe"/><stop offset="0.813" stop-color="#6458a8"/><stop offset="0.892" stop-color="#4853a5"/><stop offset="0.970" stop-color="#3953a4"/></linearGradient></defs>
<rect x="1083.8" y="2175.2" width="19.5" height="146.1" fill="url(#lg)"/>
<text x="1107.5" y="2185.4" font-size="16.4" fill="#1a1a1a">1.5</text>
<text x="1107.5" y="2208.5" font-size="16.4" fill="#1a1a1a">1</text>
<text x="1107.5" y="2231.6" font-size="16.4" fill="#1a1a1a">0.5</text>
<text x="1107.5" y="2254.7" font-size="16.4" fill="#1a1a1a">0</text>
<text x="1107.5" y="2277.8" font-size="16.4" fill="#1a1a1a">−0.5</text>
<text x="1107.5" y="2300.9" font-size="16.4" fill="#1a1a1a">−1</text>
<text x="1107.5" y="2324" font-size="16.4" fill="#1a1a1a">−1.5</text>
<path d="M1083.800 2179.6h4M1103.300 2179.6h-4M1083.800 2202.7h4M1103.300 2202.7h-4M1083.800 2225.8h4M1103.300 2225.8h-4M1083.800 2248.9h4M1103.300 2248.9h-4M1083.800 2272h4M1103.300 2272h-4M1083.800 2295.1h4M1103.300 2295.1h-4M1083.800 2318.2h4M1103.300 2318.2h-4" fill="none" stroke="#fff" stroke-width="1"/></g>
<g id="panel-m"><text x="1199.8" y="1850" font-size="60.5" font-weight="bold">M</text>
<text x="1413.2" y="1858.8" font-size="14.2" font-weight="bold" text-anchor="middle">PR-1</text>
<line x1="1366.3" y1="1865.1" x2="1462.3" y2="1865.1" stroke="#000" stroke-width="2.3"/>
<text x="1544.3" y="1858.8" font-size="14.2" font-weight="bold" text-anchor="middle">PR-2</text>
<line x1="1497" y1="1865.1" x2="1593" y2="1865.1" stroke="#000" stroke-width="2.3"/>
<text x="1668" y="1858.8" font-size="14.2" font-weight="bold" text-anchor="middle">PR-3</text>
<line x1="1621.1" y1="1865.1" x2="1717" y2="1865.1" stroke="#000" stroke-width="2.3"/>
<text x="1796" y="1858.8" font-size="14.2" font-weight="bold" text-anchor="middle">PR-4</text>
<line x1="1748.4" y1="1865.1" x2="1844.4" y2="1865.1" stroke="#000" stroke-width="2.3"/>
<text x="1335.5" y="1887.2" font-size="12.7" font-weight="bold" text-anchor="end">pSTAT3</text>
<text x="1338.6" y="1902" font-size="12.7" font-weight="bold" text-anchor="end">(Y705)</text>
<text x="1338.6" y="1940" font-size="12.7" font-weight="bold" text-anchor="end">STAT3</text>
<text x="1338.6" y="1984.3" font-size="12.7" font-weight="bold" text-anchor="end">E-Cadherin</text>
<text x="1338.6" y="2028.3" font-size="12.7" font-weight="bold" text-anchor="end">N-Cadherin</text>
<text x="1338.6" y="2068.1" font-size="12.7" font-weight="bold" text-anchor="end">Vimentin</text>
<text x="1335.5" y="2106.4" font-size="12.7" font-weight="bold" text-anchor="end">pRB</text>
<text x="1338.6" y="2123" font-size="12.7" font-weight="bold" text-anchor="end">(Y807/811)</text>
<text x="1338.6" y="2160.7" font-size="12.7" font-weight="bold" text-anchor="end">RB</text>
<text x="1338.6" y="2205" font-size="12.7" font-weight="bold" text-anchor="end">CDK6</text>
<text x="1338.6" y="2248.2" font-size="12.7" font-weight="bold" text-anchor="end">Cyclin D1</text>
<text x="1338.6" y="2298.4" font-size="12.7" font-weight="bold" text-anchor="end">Cyclin E</text>
<text x="1338.6" y="2355.1" font-size="12.7" font-weight="bold" text-anchor="end">pCDK2</text>
<text x="1338.6" y="2397.5" font-size="12.7" font-weight="bold" text-anchor="end">CDK2</text>
<text x="1338.6" y="2442.6" font-size="12.7" font-weight="bold" text-anchor="end">AURKA</text>
<text x="1338.6" y="2486.1" font-size="12.7" font-weight="bold" text-anchor="end">Vinculin</text>
<svg x="1343" y="1872.5" width="518.8" height="39.6" viewBox="0 0 518.8 39.6"><rect width="518.8" height="39.6" fill="#ececec"/><rect width="518.8" height="39.6" filter="url(#wn)"/><g filter="url(#wb)"><rect x="19.5" y="9.5" width="14" height="5" rx="2.5" fill="#0c0c0c" opacity="0.12"/><rect x="61.5" y="12.8" width="32" height="5.5" rx="2.8" fill="#0c0c0c" opacity="0.7"/><rect x="61.5" y="22.2" width="32" height="5.5" rx="2.8" fill="#0c0c0c" opacity="0.9"/><rect x="107" y="12.8" width="26" height="4.5" rx="2.2" fill="#0c0c0c" opacity="0.55"/><rect x="107" y="22" width="26" height="4" rx="2" fill="#0c0c0c" opacity="0.5"/><rect x="146" y="12.2" width="28" height="4.5" rx="2.2" fill="#0c0c0c" opacity="0.38"/><rect x="147" y="21" width="26" height="4" rx="2" fill="#0c0c0c" opacity="0.22"/><rect x="191" y="12.2" width="28" height="4.5" rx="2.2" fill="#0c0c0c" opacity="0.4"/><rect x="190" y="21.2" width="30" height="4.5" rx="2.2" fill="#0c0c0c" opacity="0.65"/><rect x="361" y="18.5" width="4" height="3" rx="1.5" fill="#0c0c0c" opacity="0.6"/><rect x="296" y="23.5" width="8" height="3" rx="1.5" fill="#0c0c0c" opacity="0.2"/><rect x="485.5" y="19.5" width="28" height="5" rx="2.5" fill="#0c0c0c" opacity="0.12"/></g><rect x=".7" y=".7" width="517.4" height="38.2" fill="none" stroke="#262626" stroke-width="1.7"/></svg>
<svg x="1343" y="1916.8" width="518.8" height="40.3" viewBox="0 0 518.8 40.3"><rect width="518.8" height="40.3" fill="#e9e9e9"/><rect width="518.8" height="40.3" filter="url(#wn)"/><g filter="url(#wb)"><rect x="12.5" y="14.8" width="36" height="5.5" rx="2.8" fill="#0c0c0c" opacity="0.6"/><rect x="59.5" y="15.2" width="36" height="7.5" rx="3.8" fill="#0c0c0c" opacity="0.95"/><rect x="104" y="15.8" width="32" height="6.5" rx="3.2" fill="#0c0c0c" opacity="0.85"/><rect x="146" y="16" width="30" height="4" rx="2" fill="#0c0c0c" opacity="0.55"/><rect x="189" y="14.8" width="32" height="5.5" rx="2.8" fill="#0c0c0c" opacity="0.85"/><rect x="233.5" y="16.5" width="28" height="4" rx="2" fill="#0c0c0c" opacity="0.25"/><rect x="271" y="15.2" width="34" height="5.5" rx="2.8" fill="#0c0c0c" opacity="0.75"/><rect x="315.5" y="16.8" width="30" height="4.5" rx="2.2" fill="#0c0c0c" opacity="0.5"/><rect x="356" y="16.8" width="30" height="4.5" rx="2.2" fill="#0c0c0c" opacity="0.45"/><rect x="397" y="17" width="30" height="4" rx="2" fill="#0c0c0c" opacity="0.14"/><rect x="442.5" y="17.2" width="32" height="4.5" rx="2.2" fill="#0c0c0c" opacity="0.32"/><rect x="481.5" y="12.5" width="40" height="19" rx="9.5" fill="#0c0c0c" opacity="1"/></g><rect x=".7" y=".7" width="517.4" height="38.9" fill="none" stroke="#262626" stroke-width="1.7"/></svg>
<svg x="1343" y="1961.8" width="518.8" height="39.9" viewBox="0 0 518.8 39.9"><rect width="518.8" height="39.9" fill="#ebebeb"/><rect width="518.8" height="39.9" filter="url(#wn)"/><g filter="url(#wb2)"><ellipse cx="38.5" cy="33.5" rx="17" ry="2" fill="#000" opacity="0.3"/><ellipse cx="77.5" cy="33.5" rx="17" ry="2" fill="#000" opacity="0.3"/><ellipse cx="120" cy="33.5" rx="17" ry="2" fill="#000" opacity="0.3"/><ellipse cx="163" cy="33.5" rx="17" ry="2" fill="#000" opacity="0.3"/><ellipse cx="205" cy="33.5" rx="17" ry="2" fill="#000" opacity="0.3"/><ellipse cx="247.5" cy="33.5" rx="17" ry="2" fill="#000" opacity="0.3"/><ellipse cx="290" cy="33.5" rx="17" ry="2" fill="#000" opacity="0.3"/><ellipse cx="330.5" cy="33.5" rx="17" ry="2" fill="#000" opacity="0.3"/><ellipse cx="371" cy="33.5" rx="17" ry="2" fill="#000" opacity="0.3"/><ellipse cx="290" cy="17" rx="17" ry="4" fill="#000" opacity="0.3"/><ellipse cx="330.5" cy="16" rx="15" ry="4" fill="#000" opacity="0.3"/></g><g filter="url(#wb)"><rect x="12.5" y="19.2" width="46" height="9.5" rx="4.8" fill="#0c0c0c" opacity="0.97"/><rect x="11.5" y="16.5" width="16" height="8" rx="4" fill="#0c0c0c" opacity="0.75"/><rect x="57.5" y="22.5" width="36" height="8" rx="4" fill="#0c0c0c" opacity="0.95"/><rect x="100" y="21" width="40" height="10" rx="5" fill="#0c0c0c" opacity="0.97"/><rect x="139" y="19.5" width="40" height="11" rx="5.5" fill="#0c0c0c" opacity="0.97"/><rect x="183" y="19.5" width="40" height="11" rx="5.5" fill="#0c0c0c" opacity="0.97"/><rect x="226.5" y="19.5" width="38" height="10" rx="5" fill="#0c0c0c" opacity="0.95"/><rect x="269" y="19" width="42" height="11" rx="5.5" fill="#0c0c0c" opacity="0.97"/><rect x="314.5" y="19.5" width="36" height="10" rx="5" fill="#0c0c0c" opacity="0.95"/><rect x="354" y="20" width="36" height="9" rx="4.5" fill="#0c0c0c" opacity="0.93"/><rect x="388" y="23" width="26" height="5" rx="2.5" fill="#0c0c0c" opacity="0.22"/><rect x="484.5" y="23" width="28" height="5" rx="2.5" fill="#0c0c0c" opacity="0.22"/></g><rect x=".7" y=".7" width="517.4" height="38.5" fill="none" stroke="#262626" stroke-width="1.7"/></svg>
<svg x="1343" y="2006.1" width="518.8" height="39.9" viewBox="0 0 518.8 39.9"><rect width="518.8" height="39.9" fill="#ececec"/><rect width="518.8" height="39.9" filter="url(#wn)"/><g filter="url(#wb2)"><ellipse cx="280" cy="26" rx="14" ry="11" fill="#000" opacity="0.12"/></g><g filter="url(#wb)"><rect x="15.5" y="5.5" width="42" height="24" rx="12" fill="#0c0c0c" opacity="1"/><rect x="64.5" y="13" width="32" height="7" rx="3.5" fill="#0c0c0c" opacity="0.62"/><rect x="107" y="16" width="26" height="6" rx="3" fill="#0c0c0c" opacity="0.1"/><rect x="143" y="14" width="24" height="6" rx="3" fill="#0c0c0c" opacity="0.25"/><rect x="184" y="14" width="26" height="6" rx="3" fill="#0c0c0c" opacity="0.3"/><rect x="235.5" y="16" width="24" height="6" rx="3" fill="#0c0c0c" opacity="0.1"/></g><rect x=".7" y=".7" width="517.4" height="38.5" fill="none" stroke="#262626" stroke-width="1.7"/></svg>
<svg x="1343" y="2049.7" width="518.8" height="39.5" viewBox="0 0 518.8 39.5"><rect width="518.8" height="39.5" fill="#e9e9e9"/><rect width="518.8" height="39.5" filter="url(#wn)"/><g filter="url(#wb)"><rect x="148" y="11" width="32" height="5" rx="2.5" fill="#0c0c0c" opacity="0.8"/><rect x="190" y="11" width="32" height="5" rx="2.5" fill="#0c0c0c" opacity="0.8"/><rect x="231.5" y="11" width="32" height="5" rx="2.5" fill="#0c0c0c" opacity="0.8"/><rect x="66.5" y="27" width="28" height="4" rx="2" fill="#0c0c0c" opacity="0.35"/><rect x="109" y="27.5" width="28" height="4" rx="2" fill="#0c0c0c" opacity="0.45"/><rect x="149" y="26.5" width="28" height="4" rx="2" fill="#0c0c0c" opacity="0.18"/><rect x="191" y="26.5" width="28" height="4" rx="2" fill="#0c0c0c" opacity="0.3"/><rect x="233.5" y="26.5" width="28" height="4" rx="2" fill="#0c0c0c" opacity="0.2"/><rect x="449.5" y="33.2" width="28" height="3.5" rx="1.8" fill="#0c0c0c" opacity="0.3"/><rect x="370" y="12.5" width="26" height="3" rx="1.5" fill="#0c0c0c" opacity="0.12"/><rect x="490.5" y="15" width="26" height="3" rx="1.5" fill="#0c0c0c" opacity="0.12"/><rect x="351" y="31.5" width="40" height="3" rx="1.5" fill="#0c0c0c" opacity="0.08"/><rect x="389" y="13.5" width="30" height="3" rx="1.5" fill="#0c0c0c" opacity="0.08"/></g><rect x=".7" y=".7" width="517.4" height="38.1" fill="none" stroke="#262626" stroke-width="1.7"/></svg>
<svg x="1343" y="2094.2" width="518.8" height="39.6" viewBox="0 0 518.8 39.6"><rect width="518.8" height="39.6" fill="#ededed"/><rect width="518.8" height="39.6" filter="url(#wn)"/><g filter="url(#wb2)"><ellipse cx="163" cy="9" rx="12" ry="7" fill="#000" opacity="0.15"/><ellipse cx="205" cy="10" rx="12" ry="8" fill="#000" opacity="0.3"/><ellipse cx="247.5" cy="9" rx="12" ry="7" fill="#000" opacity="0.2"/><ellipse cx="290" cy="6" rx="18" ry="5" fill="#000" opacity="0.5"/><ellipse cx="330.5" cy="6" rx="17" ry="5" fill="#000" opacity="0.4"/><ellipse cx="371" cy="6" rx="17" ry="5" fill="#000" opacity="0.5"/></g><g filter="url(#wb)"><rect x="63.5" y="18" width="28" height="4" rx="2" fill="#0c0c0c" opacity="0.1"/><rect x="105" y="16.5" width="32" height="7" rx="3.5" fill="#0c0c0c" opacity="0.82"/><rect x="148" y="17.2" width="30" height="5.5" rx="2.8" fill="#0c0c0c" opacity="0.6"/><rect x="193" y="17.5" width="28" height="6" rx="3" fill="#0c0c0c" opacity="0.5"/><rect x="233.5" y="16.5" width="32" height="7" rx="3.5" fill="#0c0c0c" opacity="0.72"/><rect x="270.5" y="3" width="35" height="25" rx="12.5" fill="#0c0c0c" opacity="1"/><rect x="311.5" y="5" width="34" height="23" rx="11.5" fill="#0c0c0c" opacity="1"/><rect x="352" y="3" width="34" height="25" rx="12.5" fill="#0c0c0c" opacity="1"/></g><rect x=".7" y=".7" width="517.4" height="38.2" fill="none" stroke="#262626" stroke-width="1.7"/></svg>
<svg x="1343" y="2136.7" width="518.8" height="39.5" viewBox="0 0 518.8 39.5"><rect width="518.8" height="39.5" fill="#e4e4e4"/><rect width="518.8" height="39.5" filter="url(#wn)"/><g filter="url(#wb2)"><ellipse cx="406" cy="22" rx="14" ry="15" fill="#000" opacity="0.36"/><ellipse cx="446.5" cy="20" rx="13" ry="15" fill="#000" opacity="0.24"/><ellipse cx="205" cy="22" rx="13" ry="12" fill="#000" opacity="0.15"/><ellipse cx="286" cy="10" rx="15" ry="7" fill="#000" opacity="0.2"/><ellipse cx="163" cy="20" rx="12" ry="10" fill="#000" opacity="0.06"/></g><g filter="url(#wb)"><rect x="20.5" y="12.5" width="24" height="7" rx="3.5" fill="#0c0c0c" opacity="0.3"/><rect x="269" y="14.5" width="34" height="13" rx="6.5" fill="#0c0c0c" opacity="0.97"/><rect x="312.5" y="17.2" width="32" height="9.5" rx="4.8" fill="#0c0c0c" opacity="0.9"/><rect x="358" y="21.5" width="26" height="5" rx="2.5" fill="#0c0c0c" opacity="0.22"/><rect x="193" y="18" width="24" height="8" rx="4" fill="#0c0c0c" opacity="0.12"/></g><rect x=".7" y=".7" width="517.4" height="38.1" fill="none" stroke="#555" stroke-width="1"/></svg>
<svg x="1343" y="2180.2" width="518.8" height="40.4" viewBox="0 0 518.8 40.4"><rect width="518.8" height="40.4" fill="#efefef"/><rect width="518.8" height="40.4" filter="url(#wn)"/><g filter="url(#wb)"><rect x="11" y="18.5" width="43" height="10" rx="5" fill="#0c0c0c" opacity="0.97"/><rect x="56" y="19.5" width="43" height="10" rx="5" fill="#0c0c0c" opacity="0.97"/><rect x="98.5" y="19.5" width="43" height="10" rx="5" fill="#0c0c0c" opacity="0.97"/><rect x="141.5" y="19.5" width="43" height="10" rx="5" fill="#0c0c0c" opacity="0.97"/><rect x="183.5" y="18.5" width="43" height="10" rx="5" fill="#0c0c0c" opacity="0.97"/><rect x="226" y="18.5" width="43" height="10" rx="5" fill="#0c0c0c" opacity="0.97"/><rect x="268.5" y="18.5" width="43" height="10" rx="5" fill="#0c0c0c" opacity="0.97"/><rect x="309" y="19.5" width="43" height="10" rx="5" fill="#0c0c0c" opacity="0.97"/><rect x="349.5" y="19.5" width="43" height="10" rx="5" fill="#0c0c0c" opacity="0.97"/><rect x="392.5" y="17" width="43" height="13" rx="6.5" fill="#0c0c0c" opacity="0.97"/><rect x="435" y="18.5" width="43" height="10" rx="5" fill="#0c0c0c" opacity="0.97"/><rect x="478" y="17" width="43" height="13" rx="6.5" fill="#0c0c0c" opacity="0.97"/><rect x="480.5" y="16" width="44" height="16" rx="8" fill="#0c0c0c" opacity="1"/></g><rect x=".7" y=".7" width="517.4" height="39" fill="none" stroke="#262626" stroke-width="1.7"/></svg>
<svg x="1343" y="2224.2" width="518.8" height="40.3" viewBox="0 0 518.8 40.3"><rect width="518.8" height="40.3" fill="#e8e8e8"/><rect width="518.8" height="40.3" filter="url(#wn)"/><g filter="url(#wb)"><rect x="24.5" y="13.8" width="28" height="3.5" rx="1.8" fill="#0c0c0c" opacity="0.15"/><rect x="63.5" y="13.8" width="28" height="3.5" rx="1.8" fill="#0c0c0c" opacity="0.3"/><rect x="106" y="13.8" width="28" height="3.5" rx="1.8" fill="#0c0c0c" opacity="0.35"/><rect x="149" y="13.8" width="28" height="3.5" rx="1.8" fill="#0c0c0c" opacity="0.35"/><rect x="147" y="26" width="32" height="3" rx="1.5" fill="#0c0c0c" opacity="0.04"/><rect x="191" y="13.8" width="28" height="3.5" rx="1.8" fill="#0c0c0c" opacity="0.35"/><rect x="189" y="26" width="32" height="3" rx="1.5" fill="#0c0c0c" opacity="0.04"/><rect x="233.5" y="13.8" width="28" height="3.5" rx="1.8" fill="#0c0c0c" opacity="0.25"/><rect x="273" y="12.8" width="34" height="5.5" rx="2.8" fill="#0c0c0c" opacity="0.92"/><rect x="274" y="25.2" width="32" height="4.5" rx="2.2" fill="#0c0c0c" opacity="0.8"/><rect x="313.5" y="12.8" width="34" height="5.5" rx="2.8" fill="#0c0c0c" opacity="0.88"/><rect x="314.5" y="25.2" width="32" height="4.5" rx="2.2" fill="#0c0c0c" opacity="0.8"/><rect x="354" y="12.8" width="34" height="5.5" rx="2.8" fill="#0c0c0c" opacity="0.8"/><rect x="355" y="26" width="32" height="3" rx="1.5" fill="#0c0c0c" opacity="0.3"/><rect x="397" y="12.8" width="34" height="5.5" rx="2.8" fill="#0c0c0c" opacity="0.8"/><rect x="398" y="26" width="32" height="3" rx="1.5" fill="#0c0c0c" opacity="0.2"/><rect x="482.5" y="12.8" width="34" height="5.5" rx="2.8" fill="#0c0c0c" opacity="0.92"/><rect x="483.5" y="26" width="32" height="3" rx="1.5" fill="#0c0c0c" opacity="0.4"/></g><rect x=".7" y=".7" width="517.4" height="38.9" fill="none" stroke="#262626" stroke-width="1.7"/></svg>
<svg x="1343" y="2270.7" width="518.8" height="55.1" viewBox="0 0 518.8 55.1"><rect width="518.8" height="55.1" fill="#e6e6e6"/><rect width="518.8" height="55.1" filter="url(#wn)"/><g filter="url(#wb)"><rect x="268" y="20" width="34" height="11" rx="5.5" fill="#0c0c0c" opacity="0.97"/><rect x="312.5" y="22.2" width="30" height="6.5" rx="3.2" fill="#0c0c0c" opacity="0.75"/><rect x="355" y="23.5" width="30" height="5" rx="2.5" fill="#0c0c0c" opacity="0.75"/><rect x="390" y="14" width="42" height="26" rx="13" fill="#0c0c0c" opacity="1"/><rect x="431.5" y="14" width="42" height="26" rx="13" fill="#0c0c0c" opacity="1"/><rect x="480.5" y="20.5" width="38" height="13" rx="6.5" fill="#0c0c0c" opacity="0.97"/><rect x="314.5" y="11" width="26" height="3" rx="1.5" fill="#0c0c0c" opacity="0.25"/><rect x="355" y="11" width="26" height="3" rx="1.5" fill="#0c0c0c" opacity="0.3"/><rect x="392" y="11.5" width="38" height="7" rx="3.5" fill="#0c0c0c" opacity="0.95"/><rect x="433.5" y="11.5" width="38" height="7" rx="3.5" fill="#0c0c0c" opacity="0.95"/><rect x="482.5" y="12.5" width="34" height="5" rx="2.5" fill="#0c0c0c" opacity="0.8"/><rect x="395" y="44" width="32" height="7" rx="3.5" fill="#0c0c0c" opacity="0.9"/><rect x="436.5" y="44" width="32" height="7" rx="3.5" fill="#0c0c0c" opacity="0.9"/><rect x="271" y="43.5" width="28" height="4" rx="2" fill="#0c0c0c" opacity="0.22"/><rect x="271" y="32" width="28" height="6" rx="3" fill="#0c0c0c" opacity="0.2"/><rect x="482.5" y="33" width="30" height="10" rx="5" fill="#0c0c0c" opacity="0.3"/></g><rect x=".7" y=".7" width="517.4" height="53.7" fill="none" stroke="#262626" stroke-width="1.7"/></svg>
<svg x="1343" y="2330" width="518.8" height="39.5" viewBox="0 0 518.8 39.5"><rect width="518.8" height="39.5" fill="#ebebeb"/><rect width="518.8" height="39.5" filter="url(#wn)"/><g filter="url(#wb)"><rect x="14.5" y="15" width="28" height="6" rx="3" fill="#0c0c0c" opacity="0.1"/><rect x="62.5" y="15.5" width="30" height="6" rx="3" fill="#0c0c0c" opacity="0.12"/><rect x="106" y="15.5" width="28" height="6" rx="3" fill="#0c0c0c" opacity="0.1"/><rect x="149" y="16" width="28" height="6" rx="3" fill="#0c0c0c" opacity="0.1"/><rect x="191" y="16" width="28" height="6" rx="3" fill="#0c0c0c" opacity="0.12"/><rect x="229.5" y="14.5" width="36" height="11" rx="5.5" fill="#0c0c0c" opacity="0.97"/><rect x="271" y="13.5" width="36" height="11" rx="5.5" fill="#0c0c0c" opacity="0.97"/><rect x="316.5" y="15" width="32" height="7" rx="3.5" fill="#0c0c0c" opacity="0.62"/><rect x="359" y="15.5" width="30" height="6" rx="3" fill="#0c0c0c" opacity="0.45"/><rect x="441.5" y="14.8" width="32" height="7.5" rx="3.8" fill="#0c0c0c" opacity="0.68"/><rect x="481.5" y="15" width="32" height="7" rx="3.5" fill="#0c0c0c" opacity="0.62"/></g><rect x=".7" y=".7" width="517.4" height="38.1" fill="none" stroke="#262626" stroke-width="1.7"/></svg>
<svg x="1343" y="2373.5" width="518.8" height="39.6" viewBox="0 0 518.8 39.6"><rect width="518.8" height="39.6" fill="#e1e1e1"/><rect width="518.8" height="39.6" filter="url(#wn)"/><g filter="url(#wb2)"><ellipse cx="6" cy="34" rx="13" ry="7" fill="#000" opacity="0.3"/><ellipse cx="247.5" cy="30" rx="30" ry="7" fill="#000" opacity="0.12"/><ellipse cx="422" cy="10" rx="25" ry="8" fill="#000" opacity="0.1"/><ellipse cx="366" cy="32" rx="15" ry="5" fill="#000" opacity="0.1"/></g><g filter="url(#wb)"><rect x="16.5" y="14.5" width="32" height="5" rx="2.5" fill="#0c0c0c" opacity="0.35"/><rect x="63.5" y="15.5" width="28" height="5" rx="2.5" fill="#0c0c0c" opacity="0.2"/><rect x="106" y="15.5" width="28" height="5" rx="2.5" fill="#0c0c0c" opacity="0.15"/><rect x="149" y="15.5" width="28" height="5" rx="2.5" fill="#0c0c0c" opacity="0.2"/><rect x="191" y="15.5" width="28" height="6" rx="3" fill="#0c0c0c" opacity="0.25"/><rect x="228.5" y="15.5" width="38" height="9" rx="4.5" fill="#0c0c0c" opacity="0.82"/><rect x="271" y="14.5" width="36" height="9" rx="4.5" fill="#0c0c0c" opacity="0.82"/><rect x="316.5" y="15.5" width="32" height="7" rx="3.5" fill="#0c0c0c" opacity="0.6"/><rect x="441.5" y="15.5" width="32" height="7" rx="3.5" fill="#0c0c0c" opacity="0.55"/><rect x="479.5" y="14" width="36" height="8" rx="4" fill="#0c0c0c" opacity="0.78"/></g><rect x=".7" y=".7" width="517.4" height="38.2" fill="none" stroke="#262626" stroke-width="1.7"/></svg>
<svg x="1343" y="2416.7" width="518.8" height="40" viewBox="0 0 518.8 40"><rect width="518.8" height="40" fill="#e5e5e5"/><rect width="518.8" height="40" filter="url(#wn)"/><g filter="url(#wb)"><rect x="87" y="17.8" width="30" height="2.5" rx="1.2" fill="#0c0c0c" opacity="0.06"/><rect x="138" y="17.2" width="30" height="2.5" rx="1.2" fill="#0c0c0c" opacity="0.08"/><rect x="184" y="17.2" width="26" height="2.5" rx="1.2" fill="#0c0c0c" opacity="0.12"/><rect x="222.5" y="17" width="30" height="3" rx="1.5" fill="#0c0c0c" opacity="0.32"/><rect x="270" y="18" width="32" height="10" rx="5" fill="#0c0c0c" opacity="0.97"/><rect x="274" y="8" width="24" height="5" rx="2.5" fill="#0c0c0c" opacity="0.3"/><rect x="308.5" y="16.5" width="36" height="9" rx="4.5" fill="#0c0c0c" opacity="0.97"/><rect x="350" y="18" width="38" height="8" rx="4" fill="#0c0c0c" opacity="0.97"/><rect x="395" y="18.8" width="38" height="7.5" rx="3.8" fill="#0c0c0c" opacity="0.97"/><rect x="434.5" y="18.8" width="38" height="7.5" rx="3.8" fill="#0c0c0c" opacity="0.97"/><rect x="481.5" y="20.5" width="32" height="4" rx="2" fill="#0c0c0c" opacity="0.85"/></g><rect x=".7" y=".7" width="517.4" height="38.6" fill="none" stroke="#262626" stroke-width="1.7"/></svg>
<svg x="1343" y="2460.3" width="518.8" height="41.4" viewBox="0 0 518.8 41.4"><rect width="518.8" height="41.4" fill="#f0f0f0"/><rect width="518.8" height="41.4" filter="url(#wn)"/><g filter="url(#wb)"><rect x="22.5" y="21.8" width="36" height="9.5" rx="4.8" fill="#0c0c0c" opacity="0.97"/><rect x="61.5" y="21.8" width="36" height="9.5" rx="4.8" fill="#0c0c0c" opacity="0.97"/><rect x="104" y="20.2" width="36" height="9.5" rx="4.8" fill="#0c0c0c" opacity="0.97"/><rect x="147" y="20.2" width="36" height="9.5" rx="4.8" fill="#0c0c0c" opacity="0.97"/><rect x="189" y="20.2" width="36" height="9.5" rx="4.8" fill="#0c0c0c" opacity="0.97"/><rect x="231.5" y="20.2" width="36" height="9.5" rx="4.8" fill="#0c0c0c" opacity="0.97"/><rect x="274" y="20.2" width="36" height="9.5" rx="4.8" fill="#0c0c0c" opacity="0.97"/><rect x="314.5" y="21.8" width="36" height="9.5" rx="4.8" fill="#0c0c0c" opacity="0.97"/><rect x="355" y="21.5" width="36" height="7" rx="3.5" fill="#0c0c0c" opacity="0.97"/><rect x="400" y="21.8" width="32" height="4.5" rx="2.2" fill="#0c0c0c" opacity="0.97"/><rect x="440.5" y="21.5" width="36" height="7" rx="3.5" fill="#0c0c0c" opacity="0.97"/><rect x="483.5" y="21.5" width="36" height="7" rx="3.5" fill="#0c0c0c" opacity="0.97"/></g><rect x=".7" y=".7" width="517.4" height="40" fill="none" stroke="#262626" stroke-width="1.7"/></svg></g>
</svg>
</body></html>
